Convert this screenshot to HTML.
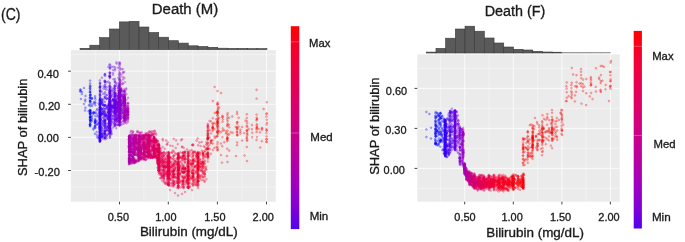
<!DOCTYPE html>
<html><head><meta charset="utf-8"><title>SHAP bilirubin</title>
<style>text{font-family:"Liberation Sans",sans-serif}html,body{margin:0;padding:0;background:#ffffff;width:685px;height:242px;overflow:hidden}svg{display:block;will-change:transform;filter:blur(0.4px)}</style>
</head><body>
<svg width="685" height="242" viewBox="0 0 685 242" font-family="Liberation Sans, sans-serif" fill="#1a1a1a">
<defs><linearGradient id="cb" x1="0" y1="0" x2="0" y2="1"><stop offset="0.00" stop-color="#ff0000"/>
<stop offset="0.10" stop-color="#f70028"/>
<stop offset="0.20" stop-color="#ee0041"/>
<stop offset="0.30" stop-color="#e50057"/>
<stop offset="0.40" stop-color="#da006c"/>
<stop offset="0.50" stop-color="#ce0082"/>
<stop offset="0.60" stop-color="#c00097"/>
<stop offset="0.70" stop-color="#af00ad"/>
<stop offset="0.80" stop-color="#9a00c3"/>
<stop offset="0.90" stop-color="#7e00d9"/>
<stop offset="1.00" stop-color="#5200f0"/></linearGradient><clipPath id="cl"><rect x="70.90" y="50.10" width="204.90" height="151.60"/></clipPath><clipPath id="cr"><rect x="417.30" y="54.40" width="202.40" height="147.30"/></clipPath></defs>
<rect x="70.90" y="50.10" width="204.90" height="151.60" fill="#ebebeb"/>
<rect x="417.30" y="54.40" width="202.40" height="147.30" fill="#ebebeb"/>
<line x1="95.30" y1="50.10" x2="95.30" y2="201.70" stroke="#f6f6f6" stroke-width="0.6"/>
<line x1="143.90" y1="50.10" x2="143.90" y2="201.70" stroke="#f6f6f6" stroke-width="0.6"/>
<line x1="192.80" y1="50.10" x2="192.80" y2="201.70" stroke="#f6f6f6" stroke-width="0.6"/>
<line x1="241.90" y1="50.10" x2="241.90" y2="201.70" stroke="#f6f6f6" stroke-width="0.6"/>
<line x1="70.90" y1="54.60" x2="275.80" y2="54.60" stroke="#f6f6f6" stroke-width="0.6"/>
<line x1="70.90" y1="87.70" x2="275.80" y2="87.70" stroke="#f6f6f6" stroke-width="0.6"/>
<line x1="70.90" y1="120.80" x2="275.80" y2="120.80" stroke="#f6f6f6" stroke-width="0.6"/>
<line x1="70.90" y1="154.00" x2="275.80" y2="154.00" stroke="#f6f6f6" stroke-width="0.6"/>
<line x1="70.90" y1="187.10" x2="275.80" y2="187.10" stroke="#f6f6f6" stroke-width="0.6"/>
<line x1="119.50" y1="50.10" x2="119.50" y2="201.70" stroke="#fbfbfb" stroke-width="1.0"/>
<line x1="168.30" y1="50.10" x2="168.30" y2="201.70" stroke="#fbfbfb" stroke-width="1.0"/>
<line x1="217.40" y1="50.10" x2="217.40" y2="201.70" stroke="#fbfbfb" stroke-width="1.0"/>
<line x1="266.50" y1="50.10" x2="266.50" y2="201.70" stroke="#fbfbfb" stroke-width="1.0"/>
<line x1="70.90" y1="71.20" x2="275.80" y2="71.20" stroke="#fbfbfb" stroke-width="1.0"/>
<line x1="70.90" y1="104.30" x2="275.80" y2="104.30" stroke="#fbfbfb" stroke-width="1.0"/>
<line x1="70.90" y1="137.40" x2="275.80" y2="137.40" stroke="#fbfbfb" stroke-width="1.0"/>
<line x1="70.90" y1="170.50" x2="275.80" y2="170.50" stroke="#fbfbfb" stroke-width="1.0"/>
<line x1="440.40" y1="54.40" x2="440.40" y2="201.70" stroke="#f6f6f6" stroke-width="0.6"/>
<line x1="489.00" y1="54.40" x2="489.00" y2="201.70" stroke="#f6f6f6" stroke-width="0.6"/>
<line x1="537.60" y1="54.40" x2="537.60" y2="201.70" stroke="#f6f6f6" stroke-width="0.6"/>
<line x1="586.10" y1="54.40" x2="586.10" y2="201.70" stroke="#f6f6f6" stroke-width="0.6"/>
<line x1="417.30" y1="68.40" x2="619.70" y2="68.40" stroke="#f6f6f6" stroke-width="0.6"/>
<line x1="417.30" y1="108.40" x2="619.70" y2="108.40" stroke="#f6f6f6" stroke-width="0.6"/>
<line x1="417.30" y1="148.40" x2="619.70" y2="148.40" stroke="#f6f6f6" stroke-width="0.6"/>
<line x1="417.30" y1="188.40" x2="619.70" y2="188.40" stroke="#f6f6f6" stroke-width="0.6"/>
<line x1="464.70" y1="54.40" x2="464.70" y2="201.70" stroke="#fbfbfb" stroke-width="1.0"/>
<line x1="513.30" y1="54.40" x2="513.30" y2="201.70" stroke="#fbfbfb" stroke-width="1.0"/>
<line x1="561.90" y1="54.40" x2="561.90" y2="201.70" stroke="#fbfbfb" stroke-width="1.0"/>
<line x1="610.40" y1="54.40" x2="610.40" y2="201.70" stroke="#fbfbfb" stroke-width="1.0"/>
<line x1="417.30" y1="88.40" x2="619.70" y2="88.40" stroke="#fbfbfb" stroke-width="1.0"/>
<line x1="417.30" y1="128.40" x2="619.70" y2="128.40" stroke="#fbfbfb" stroke-width="1.0"/>
<line x1="417.30" y1="168.40" x2="619.70" y2="168.40" stroke="#fbfbfb" stroke-width="1.0"/>
<g clip-path="url(#cl)" fill-opacity="0.25" stroke-opacity="0.5" stroke-width="0.45">
<g fill="#0000ff" stroke="#0000ff">
<circle cx="85.3" cy="99.6" r=".95"/><circle cx="85.4" cy="107.7" r=".95"/><circle cx="81.8" cy="94.1" r=".95"/><circle cx="88.9" cy="105.2" r=".95"/><circle cx="88.6" cy="111.2" r=".95"/><circle cx="80.2" cy="91.4" r=".95"/><circle cx="85.3" cy="101.2" r=".95"/><circle cx="85.1" cy="110.5" r=".95"/><circle cx="80.4" cy="89.5" r=".95"/><circle cx="80.6" cy="91.3" r=".95"/><circle cx="90.1" cy="97.5" r=".95"/><circle cx="90.0" cy="100.7" r=".95"/><circle cx="95.2" cy="122.4" r=".95"/><circle cx="91.8" cy="112.8" r=".95"/><circle cx="90.1" cy="117.4" r=".95"/><circle cx="90.4" cy="110.0" r=".95"/><circle cx="94.8" cy="122.5" r=".95"/><circle cx="90.0" cy="99.3" r=".95"/><circle cx="92.1" cy="119.2" r=".95"/><circle cx="92.0" cy="106.1" r=".95"/><circle cx="95.3" cy="102.2" r=".95"/><circle cx="90.5" cy="120.1" r=".95"/><circle cx="90.4" cy="102.2" r=".95"/><circle cx="90.0" cy="117.4" r=".95"/><circle cx="90.1" cy="88.3" r=".95"/><circle cx="90.1" cy="90.3" r=".95"/><circle cx="90.1" cy="101.6" r=".95"/><circle cx="93.6" cy="112.0" r=".95"/><circle cx="89.9" cy="112.0" r=".95"/><circle cx="90.3" cy="91.9" r=".95"/><circle cx="90.0" cy="110.8" r=".95"/><circle cx="89.9" cy="113.8" r=".95"/><circle cx="90.5" cy="94.5" r=".95"/><circle cx="94.9" cy="133.8" r=".95"/><circle cx="90.2" cy="118.2" r=".95"/><circle cx="89.9" cy="92.3" r=".95"/><circle cx="90.1" cy="106.2" r=".95"/><circle cx="90.3" cy="116.7" r=".95"/><circle cx="94.9" cy="120.8" r=".95"/><circle cx="93.8" cy="103.6" r=".95"/><circle cx="95.3" cy="127.8" r=".95"/><circle cx="90.2" cy="122.9" r=".95"/><circle cx="95.1" cy="96.2" r=".95"/><circle cx="90.1" cy="80.6" r=".95"/><circle cx="90.5" cy="86.2" r=".95"/><circle cx="95.2" cy="127.6" r=".95"/><circle cx="90.4" cy="117.0" r=".95"/><circle cx="93.6" cy="128.3" r=".95"/><circle cx="90.0" cy="85.6" r=".95"/><circle cx="92.0" cy="115.7" r=".95"/><circle cx="90.2" cy="101.2" r=".95"/><circle cx="90.4" cy="120.1" r=".95"/><circle cx="90.3" cy="117.1" r=".95"/><circle cx="95.0" cy="126.2" r=".95"/><circle cx="95.3" cy="125.0" r=".95"/><circle cx="90.1" cy="83.4" r=".95"/><circle cx="90.0" cy="126.2" r=".95"/><circle cx="93.8" cy="102.1" r=".95"/><circle cx="90.2" cy="114.5" r=".95"/><circle cx="90.4" cy="122.4" r=".95"/><circle cx="90.1" cy="98.0" r=".95"/><circle cx="95.2" cy="121.2" r=".95"/><circle cx="95.3" cy="122.8" r=".95"/><circle cx="93.4" cy="129.5" r=".95"/><circle cx="91.8" cy="117.7" r=".95"/><circle cx="90.2" cy="95.4" r=".95"/><circle cx="90.1" cy="88.9" r=".95"/><circle cx="90.2" cy="126.1" r=".95"/><circle cx="93.4" cy="113.1" r=".95"/><circle cx="95.2" cy="119.0" r=".95"/><circle cx="90.1" cy="110.1" r=".95"/><circle cx="89.9" cy="119.3" r=".95"/><circle cx="90.2" cy="115.8" r=".95"/><circle cx="95.0" cy="123.0" r=".95"/><circle cx="90.0" cy="112.7" r=".95"/><circle cx="93.8" cy="112.6" r=".95"/><circle cx="92.0" cy="98.6" r=".95"/><circle cx="92.0" cy="98.6" r=".95"/><circle cx="95.3" cy="116.0" r=".95"/><circle cx="90.0" cy="124.8" r=".95"/><circle cx="90.2" cy="113.5" r=".95"/><circle cx="89.9" cy="87.2" r=".95"/><circle cx="90.0" cy="104.0" r=".95"/><circle cx="93.5" cy="113.8" r=".95"/><circle cx="90.1" cy="97.3" r=".95"/><circle cx="90.1" cy="125.1" r=".95"/><circle cx="90.2" cy="124.5" r=".95"/><circle cx="91.9" cy="120.9" r=".95"/><circle cx="90.4" cy="120.8" r=".95"/><circle cx="90.4" cy="113.2" r=".95"/><circle cx="91.8" cy="104.5" r=".95"/><circle cx="94.8" cy="126.3" r=".95"/><circle cx="91.7" cy="97.8" r=".95"/><circle cx="90.1" cy="92.2" r=".95"/><circle cx="95.1" cy="103.3" r=".95"/><circle cx="90.2" cy="95.2" r=".95"/><circle cx="90.2" cy="120.9" r=".95"/><circle cx="90.0" cy="124.4" r=".95"/><circle cx="90.2" cy="113.9" r=".95"/><circle cx="90.2" cy="110.4" r=".95"/><circle cx="95.1" cy="112.7" r=".95"/><circle cx="90.4" cy="111.7" r=".95"/><circle cx="90.4" cy="120.2" r=".95"/><circle cx="90.4" cy="94.9" r=".95"/><circle cx="95.0" cy="98.0" r=".95"/><circle cx="90.3" cy="101.1" r=".95"/><circle cx="90.2" cy="111.1" r=".95"/><circle cx="95.3" cy="120.0" r=".95"/><circle cx="80.5" cy="90.0" r=".95"/><circle cx="82.0" cy="92.0" r=".95"/><circle cx="84.0" cy="88.0" r=".95"/><circle cx="85.5" cy="96.0" r=".95"/><circle cx="84.0" cy="104.0" r=".95"/><circle cx="81.0" cy="99.0" r=".95"/>
</g>
<g fill="#3500f9" stroke="#3500f9">
<circle cx="98.3" cy="138.3" r=".95"/><circle cx="95.4" cy="99.5" r=".95"/><circle cx="98.4" cy="115.6" r=".95"/><circle cx="98.6" cy="103.6" r=".95"/><circle cx="98.4" cy="123.0" r=".95"/><circle cx="98.6" cy="136.3" r=".95"/><circle cx="96.7" cy="121.0" r=".95"/><circle cx="95.4" cy="105.3" r=".95"/><circle cx="97.0" cy="113.9" r=".95"/><circle cx="95.4" cy="112.7" r=".95"/><circle cx="98.8" cy="110.1" r=".95"/><circle cx="98.6" cy="124.1" r=".95"/><circle cx="97.1" cy="124.1" r=".95"/><circle cx="96.8" cy="124.7" r=".95"/><circle cx="97.0" cy="137.1" r=".95"/><circle cx="97.1" cy="109.1" r=".95"/><circle cx="96.6" cy="110.4" r=".95"/><circle cx="98.8" cy="137.9" r=".95"/><circle cx="96.9" cy="135.0" r=".95"/><circle cx="95.5" cy="121.3" r=".95"/><circle cx="97.2" cy="116.4" r=".95"/><circle cx="96.6" cy="132.0" r=".95"/><circle cx="100.3" cy="129.6" r=".95"/><circle cx="100.1" cy="103.3" r=".95"/><circle cx="99.7" cy="111.6" r=".95"/><circle cx="99.9" cy="101.3" r=".95"/><circle cx="100.0" cy="131.6" r=".95"/><circle cx="100.1" cy="98.9" r=".95"/><circle cx="100.2" cy="123.8" r=".95"/><circle cx="99.9" cy="135.3" r=".95"/><circle cx="99.9" cy="116.6" r=".95"/><circle cx="99.9" cy="126.1" r=".95"/><circle cx="99.8" cy="87.3" r=".95"/><circle cx="99.8" cy="119.2" r=".95"/><circle cx="101.4" cy="104.5" r=".95"/><circle cx="99.9" cy="121.0" r=".95"/><circle cx="100.2" cy="134.2" r=".95"/><circle cx="100.1" cy="113.1" r=".95"/><circle cx="100.1" cy="102.7" r=".95"/><circle cx="99.8" cy="109.0" r=".95"/><circle cx="100.2" cy="118.1" r=".95"/><circle cx="99.8" cy="135.3" r=".95"/><circle cx="100.2" cy="86.8" r=".95"/><circle cx="99.8" cy="87.3" r=".95"/><circle cx="99.9" cy="129.0" r=".95"/><circle cx="100.3" cy="123.2" r=".95"/><circle cx="99.9" cy="140.3" r=".95"/><circle cx="99.9" cy="141.0" r=".95"/><circle cx="99.9" cy="113.6" r=".95"/><circle cx="100.0" cy="115.8" r=".95"/><circle cx="100.1" cy="128.8" r=".95"/><circle cx="99.8" cy="121.6" r=".95"/><circle cx="99.8" cy="100.4" r=".95"/><circle cx="99.7" cy="105.1" r=".95"/><circle cx="99.9" cy="118.5" r=".95"/><circle cx="101.8" cy="103.6" r=".95"/><circle cx="100.1" cy="117.3" r=".95"/><circle cx="100.2" cy="113.1" r=".95"/><circle cx="100.0" cy="132.1" r=".95"/><circle cx="100.1" cy="111.0" r=".95"/><circle cx="99.9" cy="137.9" r=".95"/><circle cx="100.2" cy="132.5" r=".95"/><circle cx="100.0" cy="94.2" r=".95"/><circle cx="100.3" cy="130.8" r=".95"/><circle cx="100.2" cy="104.2" r=".95"/><circle cx="100.0" cy="134.6" r=".95"/><circle cx="99.9" cy="112.7" r=".95"/><circle cx="100.0" cy="129.3" r=".95"/><circle cx="100.1" cy="140.6" r=".95"/><circle cx="101.7" cy="91.6" r=".95"/><circle cx="100.3" cy="124.9" r=".95"/><circle cx="99.8" cy="111.9" r=".95"/><circle cx="99.9" cy="101.5" r=".95"/><circle cx="101.4" cy="137.3" r=".95"/><circle cx="100.0" cy="140.5" r=".95"/><circle cx="101.6" cy="134.1" r=".95"/><circle cx="100.1" cy="121.7" r=".95"/><circle cx="100.3" cy="119.6" r=".95"/><circle cx="100.2" cy="95.7" r=".95"/><circle cx="101.5" cy="114.1" r=".95"/><circle cx="100.2" cy="99.9" r=".95"/><circle cx="99.8" cy="109.2" r=".95"/><circle cx="100.0" cy="127.6" r=".95"/><circle cx="99.9" cy="83.3" r=".95"/><circle cx="100.2" cy="111.9" r=".95"/><circle cx="101.8" cy="136.8" r=".95"/><circle cx="100.0" cy="120.0" r=".95"/><circle cx="101.8" cy="108.9" r=".95"/><circle cx="101.6" cy="127.6" r=".95"/><circle cx="99.8" cy="126.4" r=".95"/><circle cx="99.9" cy="113.8" r=".95"/><circle cx="99.8" cy="80.4" r=".95"/><circle cx="101.4" cy="127.6" r=".95"/><circle cx="100.0" cy="121.5" r=".95"/><circle cx="99.8" cy="136.1" r=".95"/><circle cx="101.6" cy="108.8" r=".95"/><circle cx="100.0" cy="106.9" r=".95"/><circle cx="100.0" cy="120.8" r=".95"/><circle cx="99.9" cy="117.7" r=".95"/><circle cx="101.5" cy="102.3" r=".95"/><circle cx="100.3" cy="107.0" r=".95"/><circle cx="99.8" cy="102.7" r=".95"/><circle cx="99.8" cy="122.3" r=".95"/><circle cx="99.9" cy="119.3" r=".95"/><circle cx="100.1" cy="92.0" r=".95"/><circle cx="100.2" cy="122.9" r=".95"/><circle cx="100.3" cy="133.9" r=".95"/><circle cx="100.1" cy="133.1" r=".95"/><circle cx="101.7" cy="135.5" r=".95"/><circle cx="100.2" cy="86.1" r=".95"/><circle cx="100.1" cy="82.9" r=".95"/><circle cx="99.9" cy="112.9" r=".95"/><circle cx="101.8" cy="113.9" r=".95"/><circle cx="100.0" cy="127.4" r=".95"/><circle cx="99.8" cy="130.9" r=".95"/><circle cx="99.7" cy="118.1" r=".95"/><circle cx="100.0" cy="123.5" r=".95"/><circle cx="100.1" cy="134.1" r=".95"/><circle cx="101.6" cy="120.6" r=".95"/><circle cx="99.9" cy="122.8" r=".95"/><circle cx="100.1" cy="125.2" r=".95"/><circle cx="100.2" cy="98.1" r=".95"/><circle cx="100.2" cy="126.0" r=".95"/><circle cx="100.3" cy="116.6" r=".95"/><circle cx="99.8" cy="128.5" r=".95"/><circle cx="100.1" cy="108.2" r=".95"/><circle cx="101.5" cy="109.3" r=".95"/><circle cx="100.2" cy="116.3" r=".95"/><circle cx="99.9" cy="131.3" r=".95"/><circle cx="101.6" cy="133.8" r=".95"/><circle cx="99.8" cy="93.8" r=".95"/><circle cx="101.5" cy="113.4" r=".95"/><circle cx="99.8" cy="113.1" r=".95"/><circle cx="100.2" cy="104.9" r=".95"/><circle cx="100.2" cy="104.3" r=".95"/><circle cx="99.9" cy="114.5" r=".95"/><circle cx="100.2" cy="119.3" r=".95"/><circle cx="101.7" cy="102.6" r=".95"/><circle cx="100.0" cy="107.3" r=".95"/><circle cx="100.2" cy="109.8" r=".95"/><circle cx="100.3" cy="136.5" r=".95"/><circle cx="100.2" cy="100.8" r=".95"/><circle cx="100.1" cy="111.7" r=".95"/><circle cx="99.8" cy="133.3" r=".95"/><circle cx="100.1" cy="130.7" r=".95"/><circle cx="99.8" cy="115.8" r=".95"/><circle cx="100.0" cy="91.1" r=".95"/><circle cx="100.3" cy="119.8" r=".95"/><circle cx="100.2" cy="103.2" r=".95"/><circle cx="99.9" cy="105.4" r=".95"/><circle cx="99.9" cy="115.8" r=".95"/><circle cx="99.7" cy="122.8" r=".95"/><circle cx="101.4" cy="124.8" r=".95"/><circle cx="100.2" cy="127.3" r=".95"/><circle cx="100.2" cy="116.7" r=".95"/><circle cx="99.7" cy="137.7" r=".95"/><circle cx="100.0" cy="113.2" r=".95"/><circle cx="101.8" cy="99.6" r=".95"/><circle cx="100.3" cy="109.7" r=".95"/><circle cx="99.7" cy="117.1" r=".95"/><circle cx="100.1" cy="126.7" r=".95"/><circle cx="100.2" cy="137.0" r=".95"/><circle cx="99.8" cy="112.8" r=".95"/><circle cx="99.9" cy="138.6" r=".95"/><circle cx="100.0" cy="136.0" r=".95"/><circle cx="99.9" cy="119.9" r=".95"/><circle cx="100.1" cy="95.4" r=".95"/><circle cx="100.0" cy="129.7" r=".95"/><circle cx="99.8" cy="135.0" r=".95"/><circle cx="100.3" cy="135.6" r=".95"/><circle cx="99.8" cy="126.0" r=".95"/><circle cx="99.9" cy="100.5" r=".95"/><circle cx="101.8" cy="112.1" r=".95"/><circle cx="99.9" cy="129.9" r=".95"/><circle cx="101.7" cy="135.4" r=".95"/><circle cx="100.2" cy="140.8" r=".95"/><circle cx="100.2" cy="135.0" r=".95"/><circle cx="100.1" cy="112.8" r=".95"/><circle cx="99.9" cy="107.6" r=".95"/><circle cx="101.7" cy="137.2" r=".95"/><circle cx="99.9" cy="111.2" r=".95"/><circle cx="99.9" cy="108.7" r=".95"/><circle cx="100.1" cy="109.8" r=".95"/><circle cx="100.0" cy="133.6" r=".95"/><circle cx="99.8" cy="111.2" r=".95"/><circle cx="99.8" cy="131.3" r=".95"/><circle cx="99.9" cy="128.5" r=".95"/><circle cx="100.3" cy="118.3" r=".95"/><circle cx="99.8" cy="132.3" r=".95"/><circle cx="100.1" cy="136.6" r=".95"/><circle cx="100.2" cy="133.4" r=".95"/><circle cx="100.0" cy="100.0" r=".95"/><circle cx="100.1" cy="99.9" r=".95"/><circle cx="100.0" cy="85.9" r=".95"/><circle cx="100.1" cy="120.3" r=".95"/><circle cx="100.1" cy="115.7" r=".95"/><circle cx="99.9" cy="117.5" r=".95"/><circle cx="100.1" cy="110.8" r=".95"/><circle cx="99.8" cy="139.1" r=".95"/><circle cx="99.8" cy="124.7" r=".95"/><circle cx="99.8" cy="128.5" r=".95"/><circle cx="99.8" cy="128.0" r=".95"/><circle cx="100.2" cy="137.9" r=".95"/><circle cx="99.9" cy="123.7" r=".95"/><circle cx="101.9" cy="99.5" r=".95"/><circle cx="100.2" cy="133.3" r=".95"/><circle cx="100.1" cy="89.2" r=".95"/><circle cx="100.0" cy="131.7" r=".95"/><circle cx="100.0" cy="122.7" r=".95"/><circle cx="99.9" cy="125.1" r=".95"/><circle cx="100.2" cy="139.0" r=".95"/><circle cx="99.9" cy="141.7" r=".95"/><circle cx="99.8" cy="127.8" r=".95"/><circle cx="101.6" cy="114.5" r=".95"/><circle cx="100.2" cy="126.9" r=".95"/><circle cx="99.7" cy="133.2" r=".95"/><circle cx="99.7" cy="97.2" r=".95"/><circle cx="101.6" cy="123.3" r=".95"/><circle cx="100.2" cy="119.9" r=".95"/><circle cx="99.7" cy="140.8" r=".95"/><circle cx="100.2" cy="91.5" r=".95"/><circle cx="100.1" cy="136.9" r=".95"/><circle cx="100.3" cy="115.2" r=".95"/><circle cx="100.0" cy="124.2" r=".95"/><circle cx="99.8" cy="113.5" r=".95"/><circle cx="100.2" cy="107.5" r=".95"/><circle cx="100.0" cy="115.7" r=".95"/><circle cx="99.9" cy="139.6" r=".95"/><circle cx="100.0" cy="117.2" r=".95"/><circle cx="99.7" cy="103.9" r=".95"/><circle cx="101.8" cy="130.2" r=".95"/><circle cx="99.8" cy="117.5" r=".95"/><circle cx="100.0" cy="126.5" r=".95"/><circle cx="99.8" cy="125.0" r=".95"/><circle cx="99.9" cy="126.9" r=".95"/><circle cx="99.7" cy="129.0" r=".95"/><circle cx="99.9" cy="95.1" r=".95"/><circle cx="101.6" cy="109.3" r=".95"/><circle cx="99.8" cy="136.6" r=".95"/><circle cx="101.5" cy="130.9" r=".95"/><circle cx="100.2" cy="120.1" r=".95"/><circle cx="100.1" cy="118.9" r=".95"/><circle cx="100.0" cy="118.9" r=".95"/><circle cx="100.2" cy="129.7" r=".95"/><circle cx="99.9" cy="106.8" r=".95"/><circle cx="99.7" cy="126.8" r=".95"/><circle cx="100.0" cy="99.1" r=".95"/><circle cx="100.3" cy="98.2" r=".95"/><circle cx="100.0" cy="107.2" r=".95"/><circle cx="101.6" cy="114.1" r=".95"/><circle cx="99.9" cy="122.1" r=".95"/><circle cx="100.0" cy="119.3" r=".95"/><circle cx="99.7" cy="105.1" r=".95"/><circle cx="100.3" cy="90.8" r=".95"/><circle cx="100.2" cy="107.8" r=".95"/><circle cx="100.2" cy="137.3" r=".95"/><circle cx="99.8" cy="115.4" r=".95"/><circle cx="99.9" cy="127.5" r=".95"/><circle cx="99.9" cy="139.0" r=".95"/><circle cx="100.2" cy="115.5" r=".95"/><circle cx="99.9" cy="118.0" r=".95"/><circle cx="100.1" cy="118.6" r=".95"/><circle cx="99.9" cy="90.5" r=".95"/><circle cx="100.0" cy="107.7" r=".95"/><circle cx="100.1" cy="131.0" r=".95"/><circle cx="100.1" cy="126.7" r=".95"/><circle cx="100.2" cy="140.3" r=".95"/><circle cx="100.2" cy="119.2" r=".95"/><circle cx="100.0" cy="84.0" r=".95"/><circle cx="101.8" cy="100.9" r=".95"/><circle cx="99.9" cy="87.8" r=".95"/><circle cx="100.1" cy="113.7" r=".95"/><circle cx="100.2" cy="114.1" r=".95"/><circle cx="100.1" cy="114.8" r=".95"/><circle cx="100.0" cy="120.5" r=".95"/><circle cx="100.0" cy="136.3" r=".95"/><circle cx="100.1" cy="131.3" r=".95"/><circle cx="100.2" cy="126.8" r=".95"/><circle cx="99.7" cy="141.8" r=".95"/><circle cx="101.7" cy="101.8" r=".95"/><circle cx="100.0" cy="126.0" r=".95"/><circle cx="99.9" cy="112.6" r=".95"/><circle cx="99.7" cy="127.3" r=".95"/>
</g>
<g fill="#4b00f3" stroke="#4b00f3">
<circle cx="101.9" cy="103.2" r=".95"/><circle cx="106.8" cy="107.0" r=".95"/><circle cx="106.8" cy="107.4" r=".95"/><circle cx="105.0" cy="132.6" r=".95"/><circle cx="104.8" cy="116.0" r=".95"/><circle cx="103.2" cy="111.7" r=".95"/><circle cx="103.6" cy="115.7" r=".95"/><circle cx="106.5" cy="98.8" r=".95"/><circle cx="105.1" cy="86.9" r=".95"/><circle cx="104.8" cy="131.7" r=".95"/><circle cx="105.2" cy="130.9" r=".95"/><circle cx="104.9" cy="130.4" r=".95"/><circle cx="105.3" cy="121.4" r=".95"/><circle cx="105.3" cy="88.9" r=".95"/><circle cx="103.6" cy="108.1" r=".95"/><circle cx="104.9" cy="74.2" r=".95"/><circle cx="106.7" cy="135.9" r=".95"/><circle cx="106.7" cy="135.7" r=".95"/><circle cx="103.4" cy="113.8" r=".95"/><circle cx="106.9" cy="115.2" r=".95"/><circle cx="105.3" cy="105.7" r=".95"/><circle cx="105.1" cy="131.2" r=".95"/><circle cx="106.6" cy="98.3" r=".95"/><circle cx="104.8" cy="120.8" r=".95"/><circle cx="103.2" cy="108.6" r=".95"/><circle cx="105.0" cy="127.8" r=".95"/><circle cx="104.8" cy="131.0" r=".95"/><circle cx="103.6" cy="105.9" r=".95"/><circle cx="105.0" cy="120.6" r=".95"/><circle cx="105.1" cy="113.2" r=".95"/><circle cx="107.0" cy="127.7" r=".95"/><circle cx="101.9" cy="128.4" r=".95"/><circle cx="104.9" cy="133.4" r=".95"/><circle cx="105.2" cy="139.2" r=".95"/><circle cx="106.7" cy="82.2" r=".95"/><circle cx="103.5" cy="120.5" r=".95"/><circle cx="103.6" cy="86.5" r=".95"/><circle cx="106.9" cy="126.6" r=".95"/><circle cx="106.9" cy="130.3" r=".95"/><circle cx="104.9" cy="97.0" r=".95"/><circle cx="104.7" cy="136.6" r=".95"/><circle cx="105.1" cy="137.9" r=".95"/><circle cx="104.8" cy="109.0" r=".95"/><circle cx="105.2" cy="84.3" r=".95"/><circle cx="106.6" cy="105.7" r=".95"/><circle cx="106.6" cy="114.9" r=".95"/><circle cx="104.6" cy="122.2" r=".95"/><circle cx="105.0" cy="74.0" r=".95"/><circle cx="106.9" cy="119.2" r=".95"/><circle cx="104.8" cy="119.3" r=".95"/><circle cx="106.9" cy="115.0" r=".95"/><circle cx="105.1" cy="81.7" r=".95"/><circle cx="105.0" cy="105.0" r=".95"/><circle cx="103.2" cy="133.8" r=".95"/><circle cx="107.0" cy="134.7" r=".95"/><circle cx="105.0" cy="122.7" r=".95"/><circle cx="103.1" cy="133.3" r=".95"/><circle cx="104.9" cy="105.6" r=".95"/><circle cx="106.8" cy="129.5" r=".95"/><circle cx="101.9" cy="110.4" r=".95"/><circle cx="104.7" cy="111.8" r=".95"/><circle cx="105.1" cy="137.7" r=".95"/><circle cx="105.2" cy="128.5" r=".95"/><circle cx="104.9" cy="133.9" r=".95"/><circle cx="106.7" cy="95.1" r=".95"/><circle cx="104.9" cy="97.6" r=".95"/><circle cx="106.9" cy="98.7" r=".95"/><circle cx="104.8" cy="119.7" r=".95"/><circle cx="104.9" cy="116.8" r=".95"/><circle cx="105.3" cy="75.7" r=".95"/><circle cx="103.2" cy="104.5" r=".95"/><circle cx="104.7" cy="80.6" r=".95"/><circle cx="106.6" cy="108.5" r=".95"/><circle cx="105.0" cy="127.7" r=".95"/><circle cx="104.6" cy="114.4" r=".95"/><circle cx="103.1" cy="113.0" r=".95"/><circle cx="105.2" cy="131.5" r=".95"/><circle cx="103.1" cy="136.3" r=".95"/><circle cx="103.4" cy="129.1" r=".95"/><circle cx="105.0" cy="114.6" r=".95"/><circle cx="105.0" cy="133.6" r=".95"/><circle cx="104.8" cy="85.4" r=".95"/><circle cx="106.8" cy="124.0" r=".95"/><circle cx="103.1" cy="138.8" r=".95"/><circle cx="103.2" cy="121.6" r=".95"/><circle cx="104.9" cy="126.1" r=".95"/><circle cx="103.6" cy="111.5" r=".95"/><circle cx="104.6" cy="109.3" r=".95"/><circle cx="103.4" cy="101.6" r=".95"/><circle cx="103.3" cy="137.0" r=".95"/><circle cx="104.9" cy="101.8" r=".95"/><circle cx="106.5" cy="108.1" r=".95"/><circle cx="104.7" cy="93.8" r=".95"/><circle cx="104.9" cy="133.3" r=".95"/><circle cx="104.7" cy="114.5" r=".95"/><circle cx="105.0" cy="134.4" r=".95"/><circle cx="105.1" cy="120.0" r=".95"/><circle cx="104.8" cy="138.1" r=".95"/><circle cx="104.9" cy="116.0" r=".95"/><circle cx="104.6" cy="75.2" r=".95"/><circle cx="106.6" cy="117.6" r=".95"/><circle cx="105.2" cy="123.9" r=".95"/><circle cx="105.1" cy="92.2" r=".95"/><circle cx="105.0" cy="134.6" r=".95"/><circle cx="106.9" cy="130.2" r=".95"/><circle cx="104.9" cy="126.6" r=".95"/><circle cx="106.4" cy="126.3" r=".95"/><circle cx="106.9" cy="128.4" r=".95"/><circle cx="106.7" cy="117.1" r=".95"/><circle cx="103.5" cy="131.1" r=".95"/><circle cx="103.1" cy="125.2" r=".95"/><circle cx="103.1" cy="99.5" r=".95"/><circle cx="106.9" cy="87.1" r=".95"/><circle cx="103.4" cy="117.9" r=".95"/><circle cx="103.5" cy="104.9" r=".95"/><circle cx="103.6" cy="121.1" r=".95"/><circle cx="102.0" cy="135.8" r=".95"/><circle cx="105.0" cy="120.9" r=".95"/><circle cx="106.5" cy="89.6" r=".95"/><circle cx="101.9" cy="77.7" r=".95"/><circle cx="105.0" cy="121.0" r=".95"/><circle cx="103.4" cy="125.8" r=".95"/><circle cx="104.8" cy="105.6" r=".95"/><circle cx="105.1" cy="104.9" r=".95"/><circle cx="103.4" cy="105.2" r=".95"/><circle cx="106.6" cy="115.6" r=".95"/><circle cx="103.5" cy="88.7" r=".95"/><circle cx="104.7" cy="98.4" r=".95"/><circle cx="104.7" cy="96.6" r=".95"/><circle cx="105.2" cy="137.6" r=".95"/><circle cx="105.0" cy="137.4" r=".95"/><circle cx="103.2" cy="111.5" r=".95"/><circle cx="103.2" cy="122.8" r=".95"/><circle cx="105.1" cy="110.8" r=".95"/><circle cx="104.9" cy="123.4" r=".95"/><circle cx="103.2" cy="117.7" r=".95"/><circle cx="105.1" cy="113.5" r=".95"/><circle cx="104.8" cy="125.7" r=".95"/><circle cx="105.0" cy="123.7" r=".95"/><circle cx="104.8" cy="81.7" r=".95"/><circle cx="103.4" cy="114.3" r=".95"/><circle cx="106.5" cy="115.9" r=".95"/><circle cx="103.2" cy="93.8" r=".95"/><circle cx="102.0" cy="132.7" r=".95"/><circle cx="104.8" cy="135.4" r=".95"/><circle cx="104.9" cy="125.1" r=".95"/><circle cx="105.1" cy="123.0" r=".95"/><circle cx="103.5" cy="124.1" r=".95"/><circle cx="103.2" cy="104.9" r=".95"/><circle cx="105.1" cy="86.9" r=".95"/><circle cx="104.9" cy="81.8" r=".95"/><circle cx="106.6" cy="95.3" r=".95"/><circle cx="103.5" cy="134.7" r=".95"/><circle cx="106.6" cy="112.5" r=".95"/><circle cx="106.8" cy="138.4" r=".95"/><circle cx="103.6" cy="111.5" r=".95"/><circle cx="104.8" cy="81.2" r=".95"/>
</g>
<g fill="#5b00ed" stroke="#5b00ed">
<circle cx="108.2" cy="126.2" r=".95"/><circle cx="108.6" cy="120.0" r=".95"/><circle cx="108.4" cy="66.8" r=".95"/><circle cx="108.6" cy="116.6" r=".95"/><circle cx="108.4" cy="118.6" r=".95"/><circle cx="108.2" cy="105.7" r=".95"/><circle cx="108.2" cy="133.6" r=".95"/><circle cx="108.6" cy="105.2" r=".95"/><circle cx="108.3" cy="126.3" r=".95"/><circle cx="108.6" cy="112.3" r=".95"/><circle cx="108.2" cy="109.1" r=".95"/><circle cx="108.7" cy="112.8" r=".95"/><circle cx="108.2" cy="113.2" r=".95"/><circle cx="108.2" cy="118.3" r=".95"/><circle cx="108.4" cy="122.8" r=".95"/><circle cx="108.7" cy="119.9" r=".95"/><circle cx="108.5" cy="112.6" r=".95"/><circle cx="108.5" cy="118.7" r=".95"/><circle cx="108.1" cy="108.8" r=".95"/><circle cx="108.2" cy="130.6" r=".95"/><circle cx="108.7" cy="123.4" r=".95"/><circle cx="108.6" cy="125.4" r=".95"/><circle cx="108.6" cy="117.5" r=".95"/><circle cx="108.3" cy="119.2" r=".95"/><circle cx="108.5" cy="107.2" r=".95"/><circle cx="108.6" cy="116.5" r=".95"/><circle cx="108.4" cy="81.6" r=".95"/><circle cx="108.3" cy="104.3" r=".95"/><circle cx="108.5" cy="112.2" r=".95"/><circle cx="108.7" cy="133.9" r=".95"/><circle cx="108.6" cy="110.3" r=".95"/><circle cx="108.4" cy="98.4" r=".95"/><circle cx="108.4" cy="111.4" r=".95"/><circle cx="108.6" cy="127.1" r=".95"/><circle cx="108.2" cy="106.0" r=".95"/><circle cx="108.5" cy="130.5" r=".95"/><circle cx="108.2" cy="118.3" r=".95"/><circle cx="108.6" cy="127.7" r=".95"/><circle cx="108.2" cy="116.5" r=".95"/><circle cx="108.1" cy="110.0" r=".95"/><circle cx="108.4" cy="111.5" r=".95"/><circle cx="108.5" cy="112.7" r=".95"/><circle cx="109.6" cy="98.8" r=".95"/><circle cx="109.7" cy="127.4" r=".95"/><circle cx="111.4" cy="110.3" r=".95"/><circle cx="109.8" cy="119.8" r=".95"/><circle cx="109.7" cy="104.3" r=".95"/><circle cx="109.8" cy="129.5" r=".95"/><circle cx="109.8" cy="130.6" r=".95"/><circle cx="110.1" cy="111.2" r=".95"/><circle cx="109.6" cy="124.1" r=".95"/><circle cx="109.7" cy="77.2" r=".95"/><circle cx="109.9" cy="127.7" r=".95"/><circle cx="109.9" cy="128.4" r=".95"/><circle cx="109.5" cy="104.9" r=".95"/><circle cx="109.6" cy="116.8" r=".95"/><circle cx="110.1" cy="106.7" r=".95"/><circle cx="109.9" cy="113.9" r=".95"/><circle cx="109.6" cy="100.2" r=".95"/><circle cx="110.0" cy="94.5" r=".95"/><circle cx="109.6" cy="108.6" r=".95"/><circle cx="109.7" cy="123.8" r=".95"/><circle cx="111.4" cy="91.4" r=".95"/><circle cx="111.2" cy="120.1" r=".95"/><circle cx="109.7" cy="88.5" r=".95"/><circle cx="110.1" cy="131.1" r=".95"/><circle cx="109.9" cy="129.8" r=".95"/><circle cx="110.0" cy="100.6" r=".95"/><circle cx="109.9" cy="77.0" r=".95"/><circle cx="110.0" cy="114.2" r=".95"/><circle cx="111.3" cy="105.9" r=".95"/><circle cx="109.8" cy="137.5" r=".95"/><circle cx="109.7" cy="113.2" r=".95"/><circle cx="109.8" cy="85.8" r=".95"/><circle cx="109.7" cy="128.8" r=".95"/><circle cx="109.9" cy="117.2" r=".95"/><circle cx="109.9" cy="128.7" r=".95"/><circle cx="109.6" cy="120.0" r=".95"/><circle cx="109.9" cy="103.7" r=".95"/><circle cx="109.6" cy="128.6" r=".95"/><circle cx="109.9" cy="132.6" r=".95"/><circle cx="109.8" cy="117.3" r=".95"/><circle cx="109.9" cy="135.9" r=".95"/><circle cx="110.0" cy="92.5" r=".95"/><circle cx="110.1" cy="105.2" r=".95"/><circle cx="110.0" cy="131.1" r=".95"/><circle cx="109.8" cy="117.1" r=".95"/><circle cx="109.9" cy="122.7" r=".95"/><circle cx="109.8" cy="125.1" r=".95"/><circle cx="111.3" cy="121.7" r=".95"/><circle cx="109.6" cy="133.6" r=".95"/><circle cx="109.5" cy="98.6" r=".95"/><circle cx="109.9" cy="101.3" r=".95"/><circle cx="109.9" cy="117.2" r=".95"/><circle cx="109.8" cy="76.2" r=".95"/><circle cx="109.8" cy="101.1" r=".95"/><circle cx="109.9" cy="123.2" r=".95"/><circle cx="109.6" cy="107.2" r=".95"/><circle cx="109.8" cy="109.9" r=".95"/><circle cx="109.7" cy="99.9" r=".95"/><circle cx="109.6" cy="102.9" r=".95"/><circle cx="109.8" cy="110.8" r=".95"/><circle cx="110.0" cy="113.9" r=".95"/><circle cx="111.4" cy="96.7" r=".95"/><circle cx="110.0" cy="133.4" r=".95"/><circle cx="109.6" cy="115.9" r=".95"/><circle cx="110.0" cy="119.8" r=".95"/><circle cx="110.0" cy="123.8" r=".95"/><circle cx="109.7" cy="97.7" r=".95"/><circle cx="111.3" cy="131.2" r=".95"/><circle cx="109.7" cy="110.4" r=".95"/><circle cx="109.8" cy="113.9" r=".95"/><circle cx="110.0" cy="135.2" r=".95"/><circle cx="110.1" cy="109.7" r=".95"/><circle cx="109.8" cy="114.4" r=".95"/><circle cx="110.0" cy="101.2" r=".95"/><circle cx="109.7" cy="121.8" r=".95"/><circle cx="109.5" cy="111.4" r=".95"/><circle cx="109.8" cy="103.9" r=".95"/><circle cx="109.8" cy="94.2" r=".95"/><circle cx="109.7" cy="99.4" r=".95"/><circle cx="110.0" cy="110.9" r=".95"/><circle cx="109.6" cy="113.8" r=".95"/><circle cx="109.9" cy="128.3" r=".95"/><circle cx="109.5" cy="117.0" r=".95"/><circle cx="110.0" cy="124.0" r=".95"/><circle cx="109.8" cy="105.6" r=".95"/><circle cx="109.8" cy="72.7" r=".95"/><circle cx="109.6" cy="123.6" r=".95"/><circle cx="109.7" cy="120.7" r=".95"/><circle cx="111.3" cy="87.4" r=".95"/><circle cx="109.9" cy="126.0" r=".95"/><circle cx="109.5" cy="122.6" r=".95"/><circle cx="110.1" cy="114.1" r=".95"/><circle cx="110.1" cy="118.6" r=".95"/><circle cx="111.2" cy="96.0" r=".95"/><circle cx="109.8" cy="127.7" r=".95"/><circle cx="110.0" cy="120.8" r=".95"/><circle cx="109.7" cy="104.8" r=".95"/><circle cx="109.9" cy="132.1" r=".95"/><circle cx="110.0" cy="118.6" r=".95"/><circle cx="110.1" cy="110.7" r=".95"/><circle cx="109.7" cy="104.9" r=".95"/><circle cx="111.4" cy="112.0" r=".95"/><circle cx="110.0" cy="113.2" r=".95"/><circle cx="110.0" cy="121.1" r=".95"/><circle cx="109.6" cy="103.8" r=".95"/><circle cx="110.1" cy="118.5" r=".95"/><circle cx="109.7" cy="109.9" r=".95"/><circle cx="109.9" cy="137.5" r=".95"/><circle cx="109.8" cy="109.8" r=".95"/><circle cx="110.1" cy="107.4" r=".95"/><circle cx="109.6" cy="115.7" r=".95"/><circle cx="109.6" cy="122.0" r=".95"/><circle cx="109.7" cy="83.7" r=".95"/><circle cx="109.5" cy="75.5" r=".95"/><circle cx="111.3" cy="132.3" r=".95"/><circle cx="109.6" cy="110.3" r=".95"/><circle cx="111.2" cy="96.5" r=".95"/><circle cx="109.8" cy="103.9" r=".95"/><circle cx="109.8" cy="72.6" r=".95"/><circle cx="109.6" cy="127.5" r=".95"/><circle cx="109.6" cy="117.4" r=".95"/><circle cx="111.4" cy="106.8" r=".95"/><circle cx="109.6" cy="117.3" r=".95"/><circle cx="109.8" cy="131.6" r=".95"/><circle cx="109.9" cy="91.5" r=".95"/><circle cx="109.7" cy="101.9" r=".95"/><circle cx="109.9" cy="99.6" r=".95"/><circle cx="110.1" cy="119.2" r=".95"/><circle cx="109.6" cy="113.0" r=".95"/><circle cx="109.6" cy="108.6" r=".95"/><circle cx="110.0" cy="112.5" r=".95"/><circle cx="110.1" cy="125.5" r=".95"/><circle cx="109.9" cy="122.0" r=".95"/><circle cx="110.0" cy="94.9" r=".95"/><circle cx="110.0" cy="130.5" r=".95"/><circle cx="109.6" cy="109.5" r=".95"/><circle cx="109.6" cy="86.0" r=".95"/><circle cx="109.9" cy="113.7" r=".95"/><circle cx="109.7" cy="114.4" r=".95"/><circle cx="110.0" cy="122.5" r=".95"/><circle cx="109.8" cy="115.7" r=".95"/><circle cx="110.1" cy="107.8" r=".95"/><circle cx="109.6" cy="121.7" r=".95"/><circle cx="110.0" cy="90.9" r=".95"/><circle cx="109.7" cy="128.5" r=".95"/><circle cx="109.9" cy="102.7" r=".95"/><circle cx="109.9" cy="93.2" r=".95"/><circle cx="109.6" cy="110.1" r=".95"/><circle cx="109.8" cy="108.9" r=".95"/><circle cx="110.0" cy="87.4" r=".95"/><circle cx="110.0" cy="102.2" r=".95"/><circle cx="109.8" cy="121.9" r=".95"/><circle cx="109.9" cy="114.8" r=".95"/><circle cx="109.8" cy="116.4" r=".95"/><circle cx="109.8" cy="108.9" r=".95"/><circle cx="109.7" cy="112.9" r=".95"/><circle cx="109.7" cy="119.7" r=".95"/><circle cx="109.8" cy="125.0" r=".95"/><circle cx="109.8" cy="98.3" r=".95"/><circle cx="109.8" cy="105.3" r=".95"/><circle cx="109.6" cy="130.9" r=".95"/><circle cx="110.0" cy="105.4" r=".95"/><circle cx="110.0" cy="120.3" r=".95"/><circle cx="110.1" cy="124.1" r=".95"/><circle cx="111.2" cy="125.5" r=".95"/><circle cx="109.7" cy="127.9" r=".95"/><circle cx="109.8" cy="89.0" r=".95"/><circle cx="110.0" cy="104.7" r=".95"/><circle cx="109.8" cy="101.3" r=".95"/><circle cx="109.9" cy="112.6" r=".95"/><circle cx="109.7" cy="131.6" r=".95"/><circle cx="109.7" cy="104.2" r=".95"/><circle cx="109.7" cy="116.1" r=".95"/><circle cx="109.7" cy="102.4" r=".95"/><circle cx="109.8" cy="120.7" r=".95"/><circle cx="110.1" cy="107.5" r=".95"/><circle cx="109.6" cy="128.4" r=".95"/><circle cx="109.7" cy="117.2" r=".95"/><circle cx="109.9" cy="101.7" r=".95"/><circle cx="109.9" cy="123.3" r=".95"/><circle cx="109.5" cy="92.9" r=".95"/><circle cx="109.9" cy="127.3" r=".95"/><circle cx="109.6" cy="122.9" r=".95"/><circle cx="109.5" cy="112.5" r=".95"/><circle cx="109.8" cy="119.7" r=".95"/><circle cx="111.5" cy="110.0" r=".95"/><circle cx="109.8" cy="117.1" r=".95"/><circle cx="109.9" cy="121.8" r=".95"/><circle cx="109.6" cy="104.9" r=".95"/><circle cx="109.9" cy="117.8" r=".95"/><circle cx="109.6" cy="127.0" r=".95"/><circle cx="111.4" cy="129.2" r=".95"/><circle cx="109.9" cy="103.0" r=".95"/><circle cx="109.8" cy="95.9" r=".95"/><circle cx="109.7" cy="127.9" r=".95"/><circle cx="109.7" cy="119.9" r=".95"/><circle cx="109.5" cy="128.1" r=".95"/><circle cx="109.9" cy="64.9" r=".95"/><circle cx="109.9" cy="125.9" r=".95"/><circle cx="109.7" cy="98.8" r=".95"/><circle cx="109.9" cy="120.2" r=".95"/><circle cx="109.7" cy="105.4" r=".95"/><circle cx="111.4" cy="66.7" r=".95"/><circle cx="109.9" cy="102.4" r=".95"/><circle cx="109.8" cy="108.1" r=".95"/><circle cx="109.5" cy="103.5" r=".95"/><circle cx="111.4" cy="104.9" r=".95"/><circle cx="109.9" cy="68.8" r=".95"/><circle cx="109.8" cy="101.2" r=".95"/><circle cx="109.8" cy="106.7" r=".95"/><circle cx="109.9" cy="119.5" r=".95"/><circle cx="109.7" cy="112.5" r=".95"/><circle cx="109.7" cy="123.2" r=".95"/><circle cx="109.6" cy="106.7" r=".95"/><circle cx="109.9" cy="104.7" r=".95"/><circle cx="109.7" cy="114.7" r=".95"/><circle cx="109.8" cy="111.4" r=".95"/><circle cx="109.8" cy="121.3" r=".95"/><circle cx="109.6" cy="114.4" r=".95"/><circle cx="110.1" cy="110.8" r=".95"/><circle cx="110.0" cy="106.3" r=".95"/><circle cx="109.6" cy="125.6" r=".95"/><circle cx="109.8" cy="90.3" r=".95"/><circle cx="109.5" cy="121.9" r=".95"/><circle cx="109.9" cy="90.5" r=".95"/><circle cx="109.7" cy="92.3" r=".95"/><circle cx="111.3" cy="134.1" r=".95"/><circle cx="110.0" cy="111.6" r=".95"/><circle cx="109.6" cy="107.3" r=".95"/><circle cx="109.6" cy="101.3" r=".95"/><circle cx="109.8" cy="96.2" r=".95"/><circle cx="109.5" cy="102.0" r=".95"/><circle cx="111.2" cy="108.3" r=".95"/><circle cx="110.0" cy="111.5" r=".95"/><circle cx="109.7" cy="102.4" r=".95"/><circle cx="109.6" cy="123.3" r=".95"/><circle cx="109.9" cy="111.8" r=".95"/><circle cx="109.7" cy="76.4" r=".95"/><circle cx="109.7" cy="96.5" r=".95"/><circle cx="109.7" cy="110.1" r=".95"/><circle cx="110.0" cy="72.8" r=".95"/><circle cx="110.0" cy="131.5" r=".95"/><circle cx="109.8" cy="114.1" r=".95"/><circle cx="109.8" cy="104.1" r=".95"/><circle cx="109.9" cy="73.8" r=".95"/><circle cx="110.0" cy="100.2" r=".95"/><circle cx="109.6" cy="96.8" r=".95"/><circle cx="109.7" cy="76.7" r=".95"/><circle cx="109.7" cy="116.7" r=".95"/><circle cx="109.5" cy="114.5" r=".95"/><circle cx="109.9" cy="96.0" r=".95"/><circle cx="109.9" cy="121.5" r=".95"/><circle cx="110.0" cy="105.4" r=".95"/><circle cx="109.6" cy="119.9" r=".95"/><circle cx="109.6" cy="94.6" r=".95"/><circle cx="109.9" cy="103.6" r=".95"/><circle cx="110.1" cy="118.9" r=".95"/><circle cx="109.5" cy="90.0" r=".95"/><circle cx="109.7" cy="93.7" r=".95"/><circle cx="110.1" cy="131.4" r=".95"/><circle cx="109.6" cy="64.5" r=".95"/><circle cx="109.9" cy="132.6" r=".95"/><circle cx="109.8" cy="129.2" r=".95"/><circle cx="109.8" cy="90.9" r=".95"/><circle cx="109.9" cy="105.5" r=".95"/><circle cx="110.0" cy="103.5" r=".95"/><circle cx="109.9" cy="91.2" r=".95"/><circle cx="109.9" cy="121.3" r=".95"/><circle cx="109.6" cy="87.5" r=".95"/><circle cx="110.0" cy="110.9" r=".95"/><circle cx="109.7" cy="124.2" r=".95"/><circle cx="109.6" cy="101.4" r=".95"/><circle cx="110.0" cy="114.3" r=".95"/><circle cx="109.8" cy="124.0" r=".95"/><circle cx="109.7" cy="91.5" r=".95"/><circle cx="109.9" cy="123.8" r=".95"/><circle cx="109.8" cy="130.0" r=".95"/><circle cx="109.8" cy="82.8" r=".95"/><circle cx="110.0" cy="97.4" r=".95"/><circle cx="109.7" cy="113.6" r=".95"/><circle cx="109.5" cy="122.5" r=".95"/><circle cx="109.9" cy="119.8" r=".95"/><circle cx="109.6" cy="116.7" r=".95"/><circle cx="109.5" cy="113.6" r=".95"/><circle cx="111.4" cy="102.4" r=".95"/><circle cx="109.7" cy="125.6" r=".95"/><circle cx="111.4" cy="105.5" r=".95"/><circle cx="110.0" cy="115.4" r=".95"/><circle cx="109.9" cy="106.4" r=".95"/><circle cx="109.8" cy="100.8" r=".95"/><circle cx="109.9" cy="98.1" r=".95"/><circle cx="109.5" cy="109.6" r=".95"/><circle cx="109.7" cy="103.1" r=".95"/><circle cx="110.1" cy="104.3" r=".95"/><circle cx="109.6" cy="86.2" r=".95"/><circle cx="109.8" cy="78.2" r=".95"/><circle cx="110.0" cy="92.9" r=".95"/><circle cx="111.3" cy="114.8" r=".95"/><circle cx="109.8" cy="103.4" r=".95"/><circle cx="109.6" cy="114.8" r=".95"/><circle cx="111.2" cy="115.9" r=".95"/><circle cx="109.9" cy="115.8" r=".95"/><circle cx="109.7" cy="123.3" r=".95"/><circle cx="109.9" cy="68.0" r=".95"/><circle cx="109.9" cy="104.5" r=".95"/><circle cx="110.0" cy="107.3" r=".95"/><circle cx="109.9" cy="122.2" r=".95"/><circle cx="109.8" cy="124.7" r=".95"/><circle cx="109.8" cy="113.3" r=".95"/><circle cx="109.6" cy="120.0" r=".95"/><circle cx="109.8" cy="93.4" r=".95"/><circle cx="109.8" cy="99.2" r=".95"/><circle cx="111.3" cy="101.0" r=".95"/><circle cx="109.7" cy="133.1" r=".95"/><circle cx="109.9" cy="94.0" r=".95"/><circle cx="110.1" cy="124.7" r=".95"/><circle cx="111.4" cy="108.5" r=".95"/><circle cx="109.6" cy="92.3" r=".95"/><circle cx="110.0" cy="67.2" r=".95"/><circle cx="109.9" cy="89.5" r=".95"/><circle cx="109.9" cy="122.4" r=".95"/><circle cx="109.6" cy="75.9" r=".95"/><circle cx="110.0" cy="100.2" r=".95"/><circle cx="109.8" cy="102.2" r=".95"/><circle cx="109.7" cy="123.0" r=".95"/><circle cx="109.6" cy="124.5" r=".95"/><circle cx="109.7" cy="133.1" r=".95"/><circle cx="109.7" cy="107.2" r=".95"/><circle cx="109.6" cy="99.9" r=".95"/>
</g>
<g fill="#6800e7" stroke="#6800e7">
<circle cx="114.6" cy="113.4" r=".95"/><circle cx="114.9" cy="102.6" r=".95"/><circle cx="114.6" cy="96.7" r=".95"/><circle cx="111.5" cy="90.2" r=".95"/><circle cx="114.4" cy="108.3" r=".95"/><circle cx="114.9" cy="81.0" r=".95"/><circle cx="113.4" cy="106.2" r=".95"/><circle cx="114.9" cy="104.4" r=".95"/><circle cx="114.9" cy="120.1" r=".95"/><circle cx="111.5" cy="94.5" r=".95"/><circle cx="111.5" cy="120.1" r=".95"/><circle cx="114.6" cy="97.5" r=".95"/><circle cx="114.9" cy="95.6" r=".95"/><circle cx="115.1" cy="104.5" r=".95"/><circle cx="114.7" cy="90.8" r=".95"/><circle cx="113.1" cy="73.0" r=".95"/><circle cx="114.5" cy="113.7" r=".95"/><circle cx="115.1" cy="103.9" r=".95"/><circle cx="114.9" cy="88.5" r=".95"/><circle cx="115.0" cy="116.1" r=".95"/><circle cx="114.8" cy="100.8" r=".95"/><circle cx="113.0" cy="99.9" r=".95"/><circle cx="114.6" cy="102.9" r=".95"/><circle cx="114.7" cy="100.1" r=".95"/><circle cx="114.6" cy="86.5" r=".95"/><circle cx="112.9" cy="98.9" r=".95"/><circle cx="115.0" cy="67.3" r=".95"/><circle cx="114.6" cy="107.8" r=".95"/><circle cx="114.6" cy="112.3" r=".95"/><circle cx="115.0" cy="106.1" r=".95"/><circle cx="114.8" cy="125.9" r=".95"/><circle cx="113.2" cy="100.1" r=".95"/><circle cx="114.6" cy="101.2" r=".95"/><circle cx="115.0" cy="100.4" r=".95"/><circle cx="115.0" cy="100.1" r=".95"/><circle cx="114.8" cy="112.3" r=".95"/><circle cx="114.7" cy="97.1" r=".95"/><circle cx="114.9" cy="110.4" r=".95"/><circle cx="115.0" cy="99.3" r=".95"/><circle cx="113.3" cy="66.8" r=".95"/><circle cx="114.9" cy="108.8" r=".95"/><circle cx="114.7" cy="110.0" r=".95"/><circle cx="114.8" cy="82.5" r=".95"/><circle cx="114.5" cy="110.4" r=".95"/><circle cx="112.9" cy="74.7" r=".95"/><circle cx="113.1" cy="116.2" r=".95"/><circle cx="111.5" cy="111.8" r=".95"/><circle cx="115.1" cy="94.3" r=".95"/><circle cx="114.6" cy="88.0" r=".95"/><circle cx="114.6" cy="103.5" r=".95"/><circle cx="114.5" cy="124.3" r=".95"/><circle cx="113.1" cy="111.9" r=".95"/><circle cx="114.8" cy="102.3" r=".95"/><circle cx="115.0" cy="102.7" r=".95"/><circle cx="114.8" cy="86.1" r=".95"/><circle cx="114.5" cy="104.1" r=".95"/><circle cx="111.7" cy="105.9" r=".95"/><circle cx="113.4" cy="79.3" r=".95"/><circle cx="111.5" cy="124.0" r=".95"/><circle cx="114.5" cy="107.3" r=".95"/><circle cx="114.9" cy="94.0" r=".95"/><circle cx="114.7" cy="96.1" r=".95"/><circle cx="113.0" cy="70.1" r=".95"/><circle cx="111.5" cy="107.4" r=".95"/><circle cx="114.7" cy="105.7" r=".95"/><circle cx="111.7" cy="110.4" r=".95"/><circle cx="115.0" cy="105.9" r=".95"/><circle cx="115.0" cy="106.3" r=".95"/><circle cx="114.8" cy="107.9" r=".95"/><circle cx="111.6" cy="108.8" r=".95"/><circle cx="114.9" cy="86.1" r=".95"/><circle cx="115.0" cy="110.6" r=".95"/><circle cx="114.8" cy="111.2" r=".95"/><circle cx="113.1" cy="90.9" r=".95"/><circle cx="114.5" cy="104.1" r=".95"/><circle cx="113.2" cy="108.2" r=".95"/><circle cx="114.8" cy="120.3" r=".95"/><circle cx="114.8" cy="105.3" r=".95"/><circle cx="114.7" cy="90.5" r=".95"/><circle cx="111.7" cy="116.4" r=".95"/><circle cx="114.9" cy="102.8" r=".95"/><circle cx="111.5" cy="107.2" r=".95"/><circle cx="114.8" cy="70.4" r=".95"/><circle cx="111.7" cy="106.0" r=".95"/><circle cx="115.1" cy="96.4" r=".95"/><circle cx="114.9" cy="100.7" r=".95"/><circle cx="114.6" cy="106.8" r=".95"/><circle cx="114.9" cy="95.7" r=".95"/><circle cx="114.6" cy="101.4" r=".95"/><circle cx="114.8" cy="119.4" r=".95"/><circle cx="114.7" cy="111.3" r=".95"/><circle cx="114.8" cy="117.0" r=".95"/><circle cx="115.0" cy="111.4" r=".95"/><circle cx="113.4" cy="99.9" r=".95"/><circle cx="115.0" cy="108.2" r=".95"/><circle cx="114.9" cy="101.2" r=".95"/><circle cx="114.7" cy="98.3" r=".95"/><circle cx="113.1" cy="104.4" r=".95"/><circle cx="113.1" cy="127.4" r=".95"/><circle cx="114.6" cy="115.4" r=".95"/><circle cx="114.8" cy="112.4" r=".95"/><circle cx="114.8" cy="106.2" r=".95"/><circle cx="114.6" cy="104.0" r=".95"/><circle cx="114.6" cy="108.9" r=".95"/><circle cx="114.7" cy="121.1" r=".95"/><circle cx="114.4" cy="107.3" r=".95"/><circle cx="114.5" cy="92.2" r=".95"/><circle cx="113.3" cy="108.1" r=".95"/><circle cx="114.9" cy="121.7" r=".95"/><circle cx="114.9" cy="81.7" r=".95"/><circle cx="114.5" cy="107.7" r=".95"/><circle cx="114.7" cy="93.6" r=".95"/><circle cx="114.7" cy="123.3" r=".95"/><circle cx="112.9" cy="101.2" r=".95"/><circle cx="112.9" cy="95.0" r=".95"/><circle cx="114.9" cy="120.4" r=".95"/><circle cx="114.6" cy="101.9" r=".95"/><circle cx="111.7" cy="122.3" r=".95"/><circle cx="114.7" cy="118.8" r=".95"/><circle cx="114.6" cy="89.2" r=".95"/><circle cx="114.7" cy="105.1" r=".95"/><circle cx="114.5" cy="123.6" r=".95"/><circle cx="112.9" cy="100.5" r=".95"/><circle cx="114.6" cy="114.2" r=".95"/><circle cx="114.9" cy="112.0" r=".95"/><circle cx="113.2" cy="119.1" r=".95"/><circle cx="113.3" cy="106.1" r=".95"/><circle cx="112.9" cy="115.7" r=".95"/><circle cx="111.5" cy="133.8" r=".95"/><circle cx="111.7" cy="118.4" r=".95"/><circle cx="115.0" cy="96.5" r=".95"/><circle cx="112.9" cy="88.9" r=".95"/><circle cx="115.1" cy="125.1" r=".95"/><circle cx="114.9" cy="94.6" r=".95"/><circle cx="114.7" cy="101.1" r=".95"/><circle cx="115.0" cy="96.0" r=".95"/><circle cx="113.1" cy="111.6" r=".95"/><circle cx="114.5" cy="112.7" r=".95"/><circle cx="114.9" cy="92.9" r=".95"/><circle cx="114.9" cy="125.2" r=".95"/><circle cx="114.6" cy="100.2" r=".95"/><circle cx="114.6" cy="92.8" r=".95"/><circle cx="114.4" cy="103.4" r=".95"/><circle cx="114.7" cy="105.0" r=".95"/><circle cx="114.9" cy="111.6" r=".95"/><circle cx="114.7" cy="110.9" r=".95"/><circle cx="115.0" cy="68.9" r=".95"/><circle cx="114.8" cy="116.9" r=".95"/><circle cx="114.8" cy="105.0" r=".95"/><circle cx="113.0" cy="99.1" r=".95"/><circle cx="114.9" cy="79.0" r=".95"/><circle cx="114.6" cy="118.7" r=".95"/><circle cx="115.0" cy="115.8" r=".95"/><circle cx="113.1" cy="122.1" r=".95"/><circle cx="114.4" cy="123.5" r=".95"/><circle cx="113.1" cy="99.4" r=".95"/><circle cx="113.4" cy="107.1" r=".95"/><circle cx="111.5" cy="113.6" r=".95"/><circle cx="113.1" cy="105.7" r=".95"/><circle cx="113.0" cy="92.9" r=".95"/><circle cx="114.4" cy="88.1" r=".95"/><circle cx="114.9" cy="113.8" r=".95"/><circle cx="113.1" cy="118.4" r=".95"/><circle cx="114.6" cy="85.5" r=".95"/><circle cx="113.4" cy="107.3" r=".95"/><circle cx="115.0" cy="113.4" r=".95"/><circle cx="114.7" cy="93.1" r=".95"/><circle cx="114.6" cy="126.0" r=".95"/><circle cx="113.2" cy="105.7" r=".95"/>
</g>
<g fill="#7300e0" stroke="#7300e0">
<circle cx="116.8" cy="117.8" r=".95"/><circle cx="116.6" cy="96.3" r=".95"/><circle cx="116.8" cy="98.6" r=".95"/><circle cx="116.3" cy="112.4" r=".95"/><circle cx="116.2" cy="109.5" r=".95"/><circle cx="116.5" cy="125.3" r=".95"/><circle cx="116.4" cy="102.0" r=".95"/><circle cx="116.4" cy="99.9" r=".95"/><circle cx="116.7" cy="102.1" r=".95"/><circle cx="116.4" cy="115.8" r=".95"/><circle cx="116.3" cy="95.2" r=".95"/><circle cx="116.6" cy="107.2" r=".95"/><circle cx="116.3" cy="124.2" r=".95"/><circle cx="116.4" cy="83.9" r=".95"/><circle cx="116.7" cy="63.6" r=".95"/><circle cx="116.5" cy="116.9" r=".95"/><circle cx="116.3" cy="102.5" r=".95"/><circle cx="116.3" cy="107.7" r=".95"/><circle cx="116.6" cy="99.9" r=".95"/><circle cx="116.4" cy="104.4" r=".95"/><circle cx="116.3" cy="98.6" r=".95"/><circle cx="116.3" cy="101.6" r=".95"/><circle cx="116.2" cy="104.1" r=".95"/><circle cx="116.5" cy="104.6" r=".95"/><circle cx="116.5" cy="119.0" r=".95"/><circle cx="116.6" cy="101.4" r=".95"/><circle cx="116.8" cy="118.7" r=".95"/><circle cx="116.6" cy="115.3" r=".95"/><circle cx="116.3" cy="107.1" r=".95"/><circle cx="116.4" cy="62.4" r=".95"/><circle cx="116.5" cy="121.5" r=".95"/><circle cx="116.4" cy="103.0" r=".95"/><circle cx="116.5" cy="106.9" r=".95"/><circle cx="116.5" cy="110.2" r=".95"/><circle cx="116.2" cy="102.3" r=".95"/><circle cx="116.8" cy="121.5" r=".95"/><circle cx="116.6" cy="113.6" r=".95"/><circle cx="116.3" cy="119.9" r=".95"/><circle cx="116.8" cy="108.6" r=".95"/><circle cx="116.6" cy="103.3" r=".95"/><circle cx="116.6" cy="119.4" r=".95"/><circle cx="116.5" cy="103.6" r=".95"/><circle cx="116.7" cy="107.6" r=".95"/><circle cx="116.5" cy="110.8" r=".95"/><circle cx="116.4" cy="85.7" r=".95"/><circle cx="116.7" cy="102.3" r=".95"/><circle cx="116.5" cy="110.2" r=".95"/><circle cx="116.5" cy="95.1" r=".95"/><circle cx="116.5" cy="111.5" r=".95"/><circle cx="116.2" cy="113.8" r=".95"/><circle cx="116.4" cy="102.6" r=".95"/><circle cx="116.8" cy="119.0" r=".95"/><circle cx="116.7" cy="104.9" r=".95"/><circle cx="116.2" cy="114.7" r=".95"/><circle cx="116.6" cy="112.4" r=".95"/><circle cx="116.7" cy="108.4" r=".95"/><circle cx="116.5" cy="117.7" r=".95"/><circle cx="116.6" cy="121.7" r=".95"/><circle cx="116.8" cy="115.0" r=".95"/><circle cx="116.5" cy="108.2" r=".95"/><circle cx="116.3" cy="112.0" r=".95"/><circle cx="116.8" cy="109.2" r=".95"/><circle cx="116.3" cy="93.0" r=".95"/><circle cx="116.5" cy="118.5" r=".95"/><circle cx="116.5" cy="83.1" r=".95"/><circle cx="116.2" cy="128.2" r=".95"/><circle cx="116.6" cy="111.2" r=".95"/>
</g>
<g fill="#7c00da" stroke="#7c00da">
<circle cx="118.2" cy="106.4" r=".95"/><circle cx="118.2" cy="105.1" r=".95"/><circle cx="117.9" cy="115.0" r=".95"/><circle cx="118.0" cy="97.5" r=".95"/><circle cx="118.1" cy="124.8" r=".95"/><circle cx="118.1" cy="98.2" r=".95"/><circle cx="118.3" cy="93.1" r=".95"/><circle cx="118.0" cy="98.6" r=".95"/><circle cx="118.2" cy="102.6" r=".95"/><circle cx="118.1" cy="123.6" r=".95"/><circle cx="118.0" cy="124.9" r=".95"/><circle cx="118.4" cy="105.5" r=".95"/><circle cx="118.0" cy="67.7" r=".95"/><circle cx="118.4" cy="101.5" r=".95"/><circle cx="118.2" cy="117.2" r=".95"/><circle cx="118.4" cy="109.0" r=".95"/><circle cx="118.2" cy="90.4" r=".95"/><circle cx="118.1" cy="88.1" r=".95"/><circle cx="118.2" cy="106.4" r=".95"/><circle cx="118.0" cy="103.5" r=".95"/><circle cx="118.4" cy="77.8" r=".95"/><circle cx="118.2" cy="102.4" r=".95"/><circle cx="118.2" cy="109.5" r=".95"/><circle cx="118.2" cy="111.2" r=".95"/><circle cx="117.9" cy="86.7" r=".95"/><circle cx="117.9" cy="116.2" r=".95"/><circle cx="118.4" cy="102.9" r=".95"/><circle cx="118.0" cy="88.3" r=".95"/><circle cx="117.9" cy="120.6" r=".95"/><circle cx="118.4" cy="110.9" r=".95"/><circle cx="118.2" cy="96.0" r=".95"/><circle cx="118.0" cy="107.4" r=".95"/><circle cx="118.3" cy="107.0" r=".95"/><circle cx="118.3" cy="115.6" r=".95"/><circle cx="118.1" cy="90.7" r=".95"/><circle cx="118.1" cy="109.9" r=".95"/><circle cx="118.4" cy="113.1" r=".95"/><circle cx="118.1" cy="120.8" r=".95"/><circle cx="118.4" cy="108.5" r=".95"/><circle cx="118.0" cy="96.2" r=".95"/><circle cx="118.1" cy="105.3" r=".95"/><circle cx="118.3" cy="105.0" r=".95"/><circle cx="118.3" cy="111.8" r=".95"/><circle cx="118.4" cy="118.8" r=".95"/><circle cx="118.2" cy="97.2" r=".95"/><circle cx="118.0" cy="117.9" r=".95"/><circle cx="118.0" cy="104.0" r=".95"/><circle cx="118.0" cy="105.4" r=".95"/><circle cx="118.0" cy="105.6" r=".95"/><circle cx="118.3" cy="101.2" r=".95"/><circle cx="118.1" cy="112.2" r=".95"/><circle cx="118.4" cy="95.6" r=".95"/><circle cx="118.3" cy="94.2" r=".95"/><circle cx="118.3" cy="107.5" r=".95"/><circle cx="118.1" cy="121.4" r=".95"/><circle cx="119.3" cy="103.1" r=".95"/><circle cx="119.3" cy="100.3" r=".95"/><circle cx="119.4" cy="113.5" r=".95"/><circle cx="119.3" cy="108.0" r=".95"/><circle cx="119.3" cy="105.9" r=".95"/><circle cx="119.4" cy="108.8" r=".95"/><circle cx="119.4" cy="112.5" r=".95"/><circle cx="119.4" cy="102.8" r=".95"/><circle cx="119.4" cy="70.7" r=".95"/><circle cx="119.3" cy="91.2" r=".95"/><circle cx="119.4" cy="84.0" r=".95"/><circle cx="119.4" cy="99.5" r=".95"/><circle cx="119.3" cy="106.9" r=".95"/><circle cx="119.3" cy="93.8" r=".95"/><circle cx="119.3" cy="117.1" r=".95"/><circle cx="119.4" cy="79.3" r=".95"/><circle cx="119.3" cy="74.9" r=".95"/><circle cx="119.3" cy="121.0" r=".95"/><circle cx="119.3" cy="102.2" r=".95"/><circle cx="119.3" cy="99.6" r=".95"/><circle cx="119.4" cy="103.1" r=".95"/><circle cx="119.3" cy="104.4" r=".95"/><circle cx="119.4" cy="112.1" r=".95"/><circle cx="119.3" cy="86.0" r=".95"/><circle cx="119.4" cy="84.6" r=".95"/><circle cx="119.3" cy="121.1" r=".95"/><circle cx="119.3" cy="113.7" r=".95"/><circle cx="119.3" cy="102.7" r=".95"/><circle cx="119.4" cy="91.9" r=".95"/><circle cx="119.3" cy="96.3" r=".95"/><circle cx="119.3" cy="105.9" r=".95"/><circle cx="119.3" cy="101.6" r=".95"/><circle cx="119.4" cy="102.7" r=".95"/><circle cx="119.4" cy="106.4" r=".95"/><circle cx="119.3" cy="117.7" r=".95"/><circle cx="119.3" cy="93.5" r=".95"/><circle cx="119.4" cy="121.5" r=".95"/><circle cx="119.4" cy="91.4" r=".95"/><circle cx="119.3" cy="97.2" r=".95"/><circle cx="119.3" cy="124.8" r=".95"/><circle cx="119.4" cy="117.5" r=".95"/><circle cx="119.4" cy="102.6" r=".95"/>
</g>
<g fill="#8500d4" stroke="#8500d4">
<circle cx="119.4" cy="117.2" r=".95"/><circle cx="119.9" cy="113.7" r=".95"/><circle cx="119.4" cy="115.7" r=".95"/><circle cx="119.6" cy="106.0" r=".95"/><circle cx="119.8" cy="97.4" r=".95"/><circle cx="119.4" cy="118.0" r=".95"/><circle cx="119.5" cy="109.3" r=".95"/><circle cx="119.8" cy="98.9" r=".95"/><circle cx="119.5" cy="74.8" r=".95"/><circle cx="119.5" cy="91.3" r=".95"/><circle cx="119.4" cy="113.5" r=".95"/><circle cx="119.5" cy="107.2" r=".95"/><circle cx="119.4" cy="103.4" r=".95"/><circle cx="119.5" cy="105.6" r=".95"/><circle cx="119.6" cy="108.4" r=".95"/><circle cx="119.7" cy="88.1" r=".95"/><circle cx="119.9" cy="105.0" r=".95"/><circle cx="119.7" cy="115.9" r=".95"/><circle cx="119.5" cy="106.4" r=".95"/><circle cx="119.7" cy="125.1" r=".95"/><circle cx="119.8" cy="118.0" r=".95"/><circle cx="119.5" cy="115.7" r=".95"/><circle cx="119.5" cy="90.8" r=".95"/><circle cx="119.5" cy="92.7" r=".95"/><circle cx="119.8" cy="88.5" r=".95"/><circle cx="119.5" cy="104.4" r=".95"/><circle cx="119.8" cy="97.1" r=".95"/><circle cx="119.7" cy="102.6" r=".95"/><circle cx="119.5" cy="122.8" r=".95"/><circle cx="119.7" cy="104.5" r=".95"/><circle cx="119.7" cy="105.0" r=".95"/><circle cx="119.7" cy="115.0" r=".95"/><circle cx="119.8" cy="110.5" r=".95"/><circle cx="119.8" cy="100.7" r=".95"/><circle cx="119.8" cy="120.0" r=".95"/><circle cx="119.8" cy="101.0" r=".95"/><circle cx="119.4" cy="121.0" r=".95"/><circle cx="119.5" cy="92.3" r=".95"/><circle cx="119.7" cy="100.7" r=".95"/><circle cx="119.7" cy="106.3" r=".95"/><circle cx="119.5" cy="108.2" r=".95"/><circle cx="119.6" cy="122.2" r=".95"/><circle cx="119.4" cy="119.6" r=".95"/><circle cx="119.4" cy="110.1" r=".95"/><circle cx="119.7" cy="116.8" r=".95"/><circle cx="119.6" cy="80.0" r=".95"/><circle cx="119.7" cy="77.5" r=".95"/><circle cx="119.5" cy="96.4" r=".95"/><circle cx="119.4" cy="93.7" r=".95"/><circle cx="119.8" cy="111.7" r=".95"/><circle cx="119.6" cy="113.1" r=".95"/><circle cx="119.5" cy="104.1" r=".95"/><circle cx="119.6" cy="92.8" r=".95"/><circle cx="119.5" cy="110.8" r=".95"/><circle cx="119.6" cy="114.9" r=".95"/><circle cx="119.6" cy="108.9" r=".95"/><circle cx="119.5" cy="106.5" r=".95"/><circle cx="119.8" cy="106.8" r=".95"/><circle cx="119.4" cy="93.5" r=".95"/><circle cx="119.7" cy="108.1" r=".95"/><circle cx="119.4" cy="95.2" r=".95"/><circle cx="119.5" cy="109.0" r=".95"/><circle cx="119.9" cy="122.2" r=".95"/><circle cx="119.7" cy="105.4" r=".95"/><circle cx="119.9" cy="103.2" r=".95"/><circle cx="119.8" cy="98.1" r=".95"/><circle cx="119.5" cy="98.7" r=".95"/><circle cx="119.6" cy="106.7" r=".95"/><circle cx="119.8" cy="103.7" r=".95"/><circle cx="119.4" cy="82.9" r=".95"/><circle cx="119.5" cy="107.3" r=".95"/><circle cx="119.9" cy="117.7" r=".95"/><circle cx="119.7" cy="109.9" r=".95"/><circle cx="119.4" cy="115.7" r=".95"/><circle cx="119.8" cy="121.4" r=".95"/><circle cx="119.9" cy="114.7" r=".95"/><circle cx="119.7" cy="102.9" r=".95"/><circle cx="119.4" cy="112.0" r=".95"/><circle cx="119.7" cy="106.5" r=".95"/><circle cx="119.7" cy="98.9" r=".95"/><circle cx="119.8" cy="84.1" r=".95"/><circle cx="119.8" cy="105.5" r=".95"/><circle cx="119.7" cy="104.2" r=".95"/><circle cx="119.4" cy="125.2" r=".95"/><circle cx="119.9" cy="95.9" r=".95"/><circle cx="119.5" cy="94.6" r=".95"/><circle cx="119.5" cy="86.7" r=".95"/><circle cx="119.5" cy="121.8" r=".95"/><circle cx="119.8" cy="99.0" r=".95"/><circle cx="119.6" cy="104.2" r=".95"/><circle cx="119.9" cy="83.1" r=".95"/><circle cx="119.5" cy="64.4" r=".95"/><circle cx="119.6" cy="112.9" r=".95"/><circle cx="119.6" cy="104.6" r=".95"/><circle cx="119.8" cy="121.9" r=".95"/><circle cx="119.8" cy="106.8" r=".95"/><circle cx="119.7" cy="93.0" r=".95"/><circle cx="119.9" cy="63.8" r=".95"/><circle cx="119.5" cy="107.7" r=".95"/><circle cx="119.6" cy="96.8" r=".95"/><circle cx="119.8" cy="118.2" r=".95"/><circle cx="119.9" cy="94.0" r=".95"/><circle cx="119.8" cy="117.6" r=".95"/><circle cx="119.8" cy="112.7" r=".95"/><circle cx="119.7" cy="110.1" r=".95"/><circle cx="119.5" cy="124.6" r=".95"/><circle cx="119.7" cy="95.8" r=".95"/><circle cx="119.8" cy="106.1" r=".95"/><circle cx="119.7" cy="103.1" r=".95"/><circle cx="119.9" cy="104.8" r=".95"/><circle cx="119.4" cy="103.4" r=".95"/><circle cx="119.8" cy="109.5" r=".95"/><circle cx="119.6" cy="114.7" r=".95"/><circle cx="119.8" cy="93.8" r=".95"/><circle cx="119.4" cy="109.7" r=".95"/><circle cx="119.8" cy="111.7" r=".95"/><circle cx="119.8" cy="108.4" r=".95"/><circle cx="119.6" cy="117.3" r=".95"/><circle cx="119.4" cy="93.7" r=".95"/><circle cx="119.4" cy="114.3" r=".95"/><circle cx="119.6" cy="103.5" r=".95"/><circle cx="119.6" cy="90.8" r=".95"/><circle cx="119.7" cy="123.7" r=".95"/><circle cx="119.6" cy="82.0" r=".95"/><circle cx="119.7" cy="106.4" r=".95"/><circle cx="119.6" cy="105.3" r=".95"/><circle cx="119.4" cy="119.5" r=".95"/><circle cx="119.6" cy="120.2" r=".95"/><circle cx="119.5" cy="93.1" r=".95"/><circle cx="119.9" cy="98.0" r=".95"/><circle cx="119.9" cy="82.3" r=".95"/><circle cx="119.5" cy="112.3" r=".95"/><circle cx="119.5" cy="103.2" r=".95"/><circle cx="119.4" cy="107.4" r=".95"/><circle cx="119.6" cy="118.4" r=".95"/><circle cx="119.7" cy="112.2" r=".95"/><circle cx="119.8" cy="115.9" r=".95"/><circle cx="119.7" cy="106.9" r=".95"/><circle cx="119.8" cy="91.1" r=".95"/><circle cx="119.8" cy="104.8" r=".95"/><circle cx="119.5" cy="101.4" r=".95"/><circle cx="119.4" cy="103.9" r=".95"/><circle cx="119.6" cy="103.6" r=".95"/><circle cx="119.6" cy="99.4" r=".95"/><circle cx="119.5" cy="106.2" r=".95"/><circle cx="119.8" cy="116.1" r=".95"/><circle cx="119.7" cy="104.0" r=".95"/><circle cx="119.6" cy="106.5" r=".95"/><circle cx="119.8" cy="97.9" r=".95"/><circle cx="119.5" cy="116.3" r=".95"/><circle cx="119.8" cy="114.2" r=".95"/><circle cx="119.4" cy="85.3" r=".95"/><circle cx="119.6" cy="94.1" r=".95"/><circle cx="119.6" cy="94.1" r=".95"/><circle cx="119.7" cy="108.6" r=".95"/><circle cx="119.7" cy="112.9" r=".95"/><circle cx="119.4" cy="104.4" r=".95"/><circle cx="119.5" cy="73.0" r=".95"/><circle cx="119.5" cy="99.5" r=".95"/><circle cx="119.5" cy="108.3" r=".95"/><circle cx="119.6" cy="108.9" r=".95"/><circle cx="119.7" cy="104.4" r=".95"/><circle cx="119.4" cy="108.1" r=".95"/><circle cx="119.7" cy="79.3" r=".95"/><circle cx="119.6" cy="104.5" r=".95"/><circle cx="119.5" cy="108.5" r=".95"/><circle cx="119.4" cy="111.9" r=".95"/><circle cx="119.5" cy="65.7" r=".95"/><circle cx="119.6" cy="62.8" r=".95"/><circle cx="119.7" cy="99.6" r=".95"/><circle cx="119.8" cy="106.3" r=".95"/><circle cx="119.6" cy="109.5" r=".95"/><circle cx="119.8" cy="90.5" r=".95"/><circle cx="119.7" cy="92.1" r=".95"/><circle cx="119.5" cy="86.3" r=".95"/><circle cx="119.7" cy="89.4" r=".95"/><circle cx="119.8" cy="89.2" r=".95"/><circle cx="119.8" cy="68.8" r=".95"/><circle cx="119.6" cy="98.5" r=".95"/><circle cx="119.7" cy="73.0" r=".95"/><circle cx="119.8" cy="113.2" r=".95"/><circle cx="119.7" cy="100.9" r=".95"/><circle cx="119.8" cy="116.5" r=".95"/><circle cx="119.9" cy="99.6" r=".95"/><circle cx="119.4" cy="85.6" r=".95"/><circle cx="119.4" cy="108.2" r=".95"/><circle cx="119.7" cy="123.8" r=".95"/><circle cx="119.4" cy="99.8" r=".95"/><circle cx="119.5" cy="113.0" r=".95"/><circle cx="119.6" cy="80.4" r=".95"/><circle cx="119.7" cy="116.7" r=".95"/><circle cx="119.6" cy="96.4" r=".95"/><circle cx="119.4" cy="101.7" r=".95"/><circle cx="119.6" cy="93.8" r=".95"/><circle cx="119.8" cy="108.1" r=".95"/><circle cx="119.8" cy="118.6" r=".95"/><circle cx="119.4" cy="116.9" r=".95"/><circle cx="119.9" cy="111.8" r=".95"/><circle cx="119.4" cy="108.2" r=".95"/><circle cx="119.5" cy="105.1" r=".95"/><circle cx="119.9" cy="76.7" r=".95"/><circle cx="119.6" cy="110.4" r=".95"/><circle cx="119.9" cy="101.0" r=".95"/><circle cx="119.4" cy="101.1" r=".95"/><circle cx="119.6" cy="90.2" r=".95"/><circle cx="119.7" cy="118.5" r=".95"/><circle cx="119.6" cy="113.6" r=".95"/><circle cx="119.4" cy="110.9" r=".95"/><circle cx="119.8" cy="106.0" r=".95"/><circle cx="119.8" cy="119.4" r=".95"/><circle cx="119.8" cy="102.5" r=".95"/><circle cx="119.8" cy="104.7" r=".95"/><circle cx="119.7" cy="102.9" r=".95"/><circle cx="119.9" cy="109.4" r=".95"/><circle cx="119.9" cy="110.3" r=".95"/><circle cx="119.8" cy="118.3" r=".95"/><circle cx="119.8" cy="103.1" r=".95"/><circle cx="119.5" cy="107.6" r=".95"/><circle cx="119.9" cy="105.6" r=".95"/><circle cx="119.6" cy="104.3" r=".95"/><circle cx="119.6" cy="112.4" r=".95"/><circle cx="119.8" cy="110.5" r=".95"/><circle cx="119.5" cy="108.0" r=".95"/><circle cx="119.4" cy="95.2" r=".95"/><circle cx="119.8" cy="103.0" r=".95"/><circle cx="119.6" cy="100.4" r=".95"/><circle cx="119.7" cy="109.5" r=".95"/><circle cx="119.8" cy="119.7" r=".95"/><circle cx="119.7" cy="93.0" r=".95"/><circle cx="119.6" cy="98.6" r=".95"/><circle cx="119.9" cy="114.0" r=".95"/><circle cx="119.8" cy="105.6" r=".95"/><circle cx="119.5" cy="88.4" r=".95"/><circle cx="119.4" cy="110.9" r=".95"/><circle cx="119.5" cy="94.6" r=".95"/><circle cx="119.7" cy="105.1" r=".95"/><circle cx="119.4" cy="85.4" r=".95"/><circle cx="119.5" cy="104.3" r=".95"/><circle cx="119.9" cy="104.6" r=".95"/><circle cx="119.8" cy="90.1" r=".95"/><circle cx="119.6" cy="108.4" r=".95"/><circle cx="119.5" cy="117.2" r=".95"/><circle cx="119.8" cy="113.3" r=".95"/><circle cx="119.8" cy="113.4" r=".95"/><circle cx="119.6" cy="98.4" r=".95"/><circle cx="119.7" cy="121.7" r=".95"/><circle cx="119.7" cy="108.4" r=".95"/><circle cx="119.5" cy="62.5" r=".95"/><circle cx="119.7" cy="67.4" r=".95"/><circle cx="119.8" cy="92.9" r=".95"/><circle cx="119.8" cy="106.7" r=".95"/><circle cx="119.7" cy="106.8" r=".95"/><circle cx="119.9" cy="114.6" r=".95"/><circle cx="119.8" cy="88.7" r=".95"/><circle cx="119.6" cy="125.7" r=".95"/><circle cx="119.6" cy="103.1" r=".95"/><circle cx="119.9" cy="102.7" r=".95"/><circle cx="119.6" cy="86.2" r=".95"/><circle cx="119.6" cy="97.6" r=".95"/><circle cx="119.4" cy="106.5" r=".95"/><circle cx="119.9" cy="105.2" r=".95"/><circle cx="119.8" cy="104.2" r=".95"/><circle cx="119.9" cy="107.7" r=".95"/><circle cx="119.5" cy="101.5" r=".95"/><circle cx="119.6" cy="115.0" r=".95"/><circle cx="119.9" cy="91.4" r=".95"/>
</g>
<g fill="#8d00ce" stroke="#8d00ce">
<circle cx="121.4" cy="112.9" r=".95"/><circle cx="121.3" cy="104.7" r=".95"/><circle cx="121.0" cy="121.7" r=".95"/><circle cx="121.3" cy="95.2" r=".95"/><circle cx="121.2" cy="90.6" r=".95"/><circle cx="121.4" cy="84.2" r=".95"/><circle cx="121.2" cy="105.2" r=".95"/><circle cx="121.0" cy="118.8" r=".95"/><circle cx="121.3" cy="89.6" r=".95"/><circle cx="121.2" cy="99.7" r=".95"/><circle cx="121.0" cy="96.7" r=".95"/><circle cx="121.4" cy="105.4" r=".95"/><circle cx="121.4" cy="92.0" r=".95"/><circle cx="121.5" cy="69.3" r=".95"/><circle cx="121.3" cy="90.1" r=".95"/><circle cx="121.2" cy="104.4" r=".95"/><circle cx="121.6" cy="112.0" r=".95"/><circle cx="121.3" cy="118.7" r=".95"/><circle cx="121.2" cy="106.6" r=".95"/><circle cx="121.4" cy="102.1" r=".95"/><circle cx="121.4" cy="107.5" r=".95"/><circle cx="121.5" cy="109.5" r=".95"/><circle cx="121.4" cy="107.6" r=".95"/><circle cx="121.0" cy="101.3" r=".95"/><circle cx="121.1" cy="123.5" r=".95"/><circle cx="121.4" cy="90.0" r=".95"/><circle cx="121.6" cy="111.1" r=".95"/><circle cx="121.2" cy="74.6" r=".95"/><circle cx="121.4" cy="91.5" r=".95"/><circle cx="121.4" cy="96.0" r=".95"/><circle cx="121.3" cy="105.0" r=".95"/><circle cx="121.2" cy="93.9" r=".95"/><circle cx="121.2" cy="103.5" r=".95"/><circle cx="121.6" cy="95.7" r=".95"/><circle cx="121.0" cy="124.9" r=".95"/><circle cx="121.1" cy="105.0" r=".95"/><circle cx="121.0" cy="113.6" r=".95"/><circle cx="121.1" cy="109.6" r=".95"/><circle cx="121.4" cy="103.3" r=".95"/><circle cx="121.2" cy="99.6" r=".95"/><circle cx="121.2" cy="87.9" r=".95"/><circle cx="121.2" cy="109.8" r=".95"/><circle cx="121.2" cy="89.4" r=".95"/><circle cx="121.1" cy="80.9" r=".95"/><circle cx="121.5" cy="101.3" r=".95"/><circle cx="121.5" cy="99.9" r=".95"/><circle cx="121.5" cy="116.2" r=".95"/><circle cx="121.5" cy="117.6" r=".95"/><circle cx="121.4" cy="91.0" r=".95"/><circle cx="121.1" cy="88.5" r=".95"/><circle cx="121.3" cy="115.1" r=".95"/><circle cx="121.4" cy="110.5" r=".95"/><circle cx="121.4" cy="117.4" r=".95"/><circle cx="121.2" cy="105.2" r=".95"/><circle cx="121.5" cy="109.5" r=".95"/><circle cx="121.0" cy="114.3" r=".95"/><circle cx="121.3" cy="95.1" r=".95"/><circle cx="121.5" cy="95.9" r=".95"/>
</g>
<g fill="#9400c8" stroke="#9400c8">
<circle cx="122.9" cy="118.1" r=".95"/><circle cx="123.0" cy="97.9" r=".95"/><circle cx="122.9" cy="102.9" r=".95"/><circle cx="122.9" cy="99.2" r=".95"/><circle cx="123.2" cy="98.5" r=".95"/><circle cx="122.7" cy="83.9" r=".95"/><circle cx="123.1" cy="95.4" r=".95"/><circle cx="122.8" cy="124.0" r=".95"/><circle cx="122.7" cy="112.9" r=".95"/><circle cx="122.7" cy="97.8" r=".95"/><circle cx="122.8" cy="100.6" r=".95"/><circle cx="123.2" cy="103.0" r=".95"/><circle cx="123.2" cy="105.9" r=".95"/><circle cx="122.8" cy="103.5" r=".95"/><circle cx="122.8" cy="116.4" r=".95"/><circle cx="123.1" cy="91.4" r=".95"/><circle cx="123.2" cy="121.4" r=".95"/><circle cx="122.7" cy="69.1" r=".95"/><circle cx="123.1" cy="108.6" r=".95"/><circle cx="122.9" cy="111.4" r=".95"/><circle cx="122.9" cy="101.5" r=".95"/><circle cx="122.8" cy="106.5" r=".95"/><circle cx="122.7" cy="76.9" r=".95"/><circle cx="123.0" cy="97.2" r=".95"/><circle cx="123.0" cy="79.4" r=".95"/><circle cx="123.0" cy="73.1" r=".95"/><circle cx="123.1" cy="72.3" r=".95"/><circle cx="123.2" cy="115.2" r=".95"/><circle cx="122.7" cy="103.8" r=".95"/><circle cx="123.0" cy="96.9" r=".95"/><circle cx="123.0" cy="120.9" r=".95"/><circle cx="122.8" cy="93.6" r=".95"/><circle cx="123.2" cy="113.3" r=".95"/><circle cx="122.8" cy="108.7" r=".95"/><circle cx="122.7" cy="102.1" r=".95"/><circle cx="122.8" cy="94.6" r=".95"/><circle cx="122.8" cy="112.6" r=".95"/><circle cx="122.7" cy="83.4" r=".95"/><circle cx="122.9" cy="112.6" r=".95"/><circle cx="123.1" cy="110.2" r=".95"/>
</g>
<g fill="#9a00c3" stroke="#9a00c3">
<circle cx="124.6" cy="118.5" r=".95"/><circle cx="124.2" cy="90.8" r=".95"/><circle cx="124.7" cy="98.3" r=".95"/><circle cx="124.5" cy="116.7" r=".95"/><circle cx="124.5" cy="97.0" r=".95"/><circle cx="124.4" cy="100.1" r=".95"/><circle cx="124.2" cy="100.3" r=".95"/><circle cx="124.7" cy="104.8" r=".95"/><circle cx="124.7" cy="119.2" r=".95"/><circle cx="124.3" cy="91.5" r=".95"/><circle cx="124.3" cy="91.3" r=".95"/><circle cx="124.6" cy="119.1" r=".95"/><circle cx="124.5" cy="123.3" r=".95"/><circle cx="124.4" cy="119.7" r=".95"/><circle cx="124.5" cy="111.2" r=".95"/><circle cx="124.3" cy="71.8" r=".95"/><circle cx="124.5" cy="90.9" r=".95"/><circle cx="124.6" cy="99.5" r=".95"/><circle cx="124.4" cy="94.9" r=".95"/><circle cx="124.5" cy="98.6" r=".95"/><circle cx="124.4" cy="93.7" r=".95"/><circle cx="124.5" cy="120.3" r=".95"/><circle cx="124.7" cy="110.4" r=".95"/><circle cx="124.4" cy="100.1" r=".95"/><circle cx="124.5" cy="107.2" r=".95"/><circle cx="124.7" cy="115.1" r=".95"/><circle cx="124.4" cy="77.9" r=".95"/><circle cx="124.2" cy="115.3" r=".95"/><circle cx="124.6" cy="100.4" r=".95"/><circle cx="124.6" cy="108.5" r=".95"/><circle cx="124.5" cy="107.7" r=".95"/><circle cx="124.4" cy="107.7" r=".95"/><circle cx="124.6" cy="105.9" r=".95"/><circle cx="124.3" cy="118.1" r=".95"/><circle cx="124.5" cy="117.8" r=".95"/><circle cx="124.3" cy="103.4" r=".95"/><circle cx="124.4" cy="101.2" r=".95"/><circle cx="124.5" cy="99.4" r=".95"/><circle cx="124.3" cy="98.7" r=".95"/><circle cx="124.6" cy="105.2" r=".95"/><circle cx="124.4" cy="99.5" r=".95"/><circle cx="124.4" cy="105.7" r=".95"/><circle cx="124.7" cy="102.6" r=".95"/><circle cx="124.7" cy="117.0" r=".95"/><circle cx="124.6" cy="118.5" r=".95"/><circle cx="124.6" cy="103.5" r=".95"/><circle cx="124.6" cy="121.8" r=".95"/><circle cx="124.5" cy="110.5" r=".95"/><circle cx="124.2" cy="98.9" r=".95"/><circle cx="124.6" cy="97.9" r=".95"/><circle cx="124.3" cy="118.0" r=".95"/><circle cx="124.6" cy="114.1" r=".95"/><circle cx="124.6" cy="101.2" r=".95"/><circle cx="124.7" cy="119.8" r=".95"/><circle cx="124.6" cy="109.4" r=".95"/><circle cx="124.3" cy="96.9" r=".95"/><circle cx="124.3" cy="98.7" r=".95"/><circle cx="124.4" cy="100.1" r=".95"/><circle cx="124.4" cy="118.3" r=".95"/><circle cx="124.6" cy="120.3" r=".95"/><circle cx="124.6" cy="106.1" r=".95"/><circle cx="124.6" cy="96.9" r=".95"/><circle cx="124.4" cy="116.6" r=".95"/><circle cx="124.6" cy="98.7" r=".95"/><circle cx="124.4" cy="113.1" r=".95"/><circle cx="124.2" cy="118.2" r=".95"/><circle cx="124.5" cy="95.4" r=".95"/><circle cx="124.3" cy="96.1" r=".95"/><circle cx="124.5" cy="95.9" r=".95"/><circle cx="124.6" cy="97.8" r=".95"/><circle cx="124.6" cy="115.9" r=".95"/><circle cx="124.4" cy="103.2" r=".95"/><circle cx="124.5" cy="104.1" r=".95"/><circle cx="124.5" cy="113.7" r=".95"/><circle cx="124.7" cy="118.2" r=".95"/><circle cx="124.7" cy="111.2" r=".95"/><circle cx="124.5" cy="99.4" r=".95"/><circle cx="124.6" cy="116.4" r=".95"/><circle cx="124.4" cy="113.3" r=".95"/><circle cx="124.3" cy="116.2" r=".95"/><circle cx="124.6" cy="104.4" r=".95"/><circle cx="124.6" cy="98.6" r=".95"/><circle cx="124.3" cy="97.6" r=".95"/><circle cx="124.3" cy="89.2" r=".95"/><circle cx="124.5" cy="103.4" r=".95"/><circle cx="124.7" cy="99.6" r=".95"/><circle cx="124.7" cy="105.5" r=".95"/><circle cx="124.2" cy="106.0" r=".95"/><circle cx="124.6" cy="96.4" r=".95"/><circle cx="124.6" cy="99.8" r=".95"/><circle cx="124.5" cy="103.0" r=".95"/><circle cx="124.4" cy="114.3" r=".95"/><circle cx="124.6" cy="109.1" r=".95"/><circle cx="124.7" cy="98.1" r=".95"/><circle cx="124.6" cy="103.1" r=".95"/><circle cx="124.2" cy="101.4" r=".95"/><circle cx="124.4" cy="102.7" r=".95"/><circle cx="124.3" cy="101.4" r=".95"/>
</g>
<g fill="#a000bd" stroke="#a000bd">
<circle cx="124.8" cy="105.5" r=".95"/><circle cx="126.1" cy="89.5" r=".95"/><circle cx="124.8" cy="97.3" r=".95"/><circle cx="124.9" cy="111.9" r=".95"/><circle cx="124.9" cy="101.1" r=".95"/><circle cx="124.8" cy="82.3" r=".95"/><circle cx="126.1" cy="108.2" r=".95"/><circle cx="126.0" cy="117.3" r=".95"/><circle cx="124.7" cy="104.1" r=".95"/><circle cx="124.9" cy="121.7" r=".95"/><circle cx="124.8" cy="94.5" r=".95"/><circle cx="124.9" cy="92.7" r=".95"/><circle cx="124.8" cy="111.2" r=".95"/><circle cx="124.9" cy="115.7" r=".95"/><circle cx="126.1" cy="121.3" r=".95"/><circle cx="126.1" cy="120.3" r=".95"/><circle cx="126.1" cy="118.0" r=".95"/><circle cx="124.9" cy="102.2" r=".95"/><circle cx="124.8" cy="117.6" r=".95"/><circle cx="124.9" cy="114.8" r=".95"/><circle cx="126.1" cy="111.0" r=".95"/><circle cx="124.8" cy="110.8" r=".95"/><circle cx="124.9" cy="91.7" r=".95"/><circle cx="126.0" cy="119.4" r=".95"/><circle cx="124.7" cy="101.5" r=".95"/><circle cx="124.8" cy="101.6" r=".95"/><circle cx="124.8" cy="116.3" r=".95"/><circle cx="126.1" cy="107.6" r=".95"/><circle cx="124.8" cy="96.2" r=".95"/><circle cx="124.8" cy="99.1" r=".95"/>
</g>
<g fill="#a600b7" stroke="#a600b7">
<circle cx="126.4" cy="110.4" r=".95"/><circle cx="126.2" cy="112.3" r=".95"/><circle cx="126.2" cy="107.1" r=".95"/><circle cx="126.2" cy="115.2" r=".95"/><circle cx="126.4" cy="94.2" r=".95"/><circle cx="126.2" cy="111.8" r=".95"/><circle cx="126.4" cy="112.5" r=".95"/><circle cx="126.2" cy="102.9" r=".95"/><circle cx="126.3" cy="110.3" r=".95"/><circle cx="126.5" cy="99.9" r=".95"/><circle cx="126.6" cy="105.7" r=".95"/><circle cx="126.5" cy="110.9" r=".95"/><circle cx="126.2" cy="111.9" r=".95"/><circle cx="126.3" cy="116.0" r=".95"/><circle cx="126.2" cy="109.9" r=".95"/><circle cx="126.3" cy="105.1" r=".95"/><circle cx="126.5" cy="116.5" r=".95"/><circle cx="126.3" cy="114.9" r=".95"/><circle cx="126.4" cy="113.8" r=".95"/><circle cx="126.4" cy="108.7" r=".95"/><circle cx="126.3" cy="113.4" r=".95"/><circle cx="126.5" cy="109.0" r=".95"/><circle cx="126.4" cy="123.2" r=".95"/><circle cx="126.2" cy="119.2" r=".95"/><circle cx="126.3" cy="88.5" r=".95"/><circle cx="126.2" cy="111.1" r=".95"/><circle cx="126.6" cy="117.7" r=".95"/><circle cx="126.3" cy="111.6" r=".95"/>
</g>
<g fill="#ab00b1" stroke="#ab00b1">
<circle cx="128.3" cy="108.3" r=".95"/><circle cx="128.2" cy="112.4" r=".95"/><circle cx="127.8" cy="113.2" r=".95"/><circle cx="127.9" cy="114.1" r=".95"/><circle cx="127.8" cy="109.4" r=".95"/><circle cx="128.1" cy="120.1" r=".95"/><circle cx="127.8" cy="113.5" r=".95"/><circle cx="128.0" cy="106.3" r=".95"/><circle cx="127.9" cy="107.4" r=".95"/><circle cx="128.2" cy="109.3" r=".95"/><circle cx="128.2" cy="112.2" r=".95"/><circle cx="127.9" cy="115.2" r=".95"/><circle cx="128.0" cy="103.7" r=".95"/><circle cx="127.7" cy="119.3" r=".95"/><circle cx="128.3" cy="111.1" r=".95"/><circle cx="128.1" cy="108.0" r=".95"/><circle cx="128.0" cy="115.1" r=".95"/><circle cx="127.7" cy="108.8" r=".95"/><circle cx="128.1" cy="114.5" r=".95"/><circle cx="128.0" cy="111.9" r=".95"/><circle cx="127.9" cy="103.2" r=".95"/><circle cx="128.0" cy="110.4" r=".95"/><circle cx="128.1" cy="117.5" r=".95"/><circle cx="127.8" cy="118.6" r=".95"/><circle cx="128.2" cy="103.2" r=".95"/><circle cx="128.0" cy="109.5" r=".95"/><circle cx="128.0" cy="117.9" r=".95"/><circle cx="128.0" cy="105.8" r=".95"/><circle cx="128.0" cy="115.1" r=".95"/><circle cx="128.0" cy="117.0" r=".95"/><circle cx="127.7" cy="111.0" r=".95"/><circle cx="128.1" cy="117.4" r=".95"/><circle cx="127.7" cy="111.5" r=".95"/><circle cx="128.1" cy="97.7" r=".95"/><circle cx="128.2" cy="111.9" r=".95"/><circle cx="127.9" cy="122.0" r=".95"/><circle cx="128.2" cy="115.0" r=".95"/><circle cx="127.8" cy="114.5" r=".95"/><circle cx="129.2" cy="151.2" r=".95"/><circle cx="129.1" cy="161.2" r=".95"/><circle cx="129.1" cy="146.3" r=".95"/><circle cx="129.2" cy="161.5" r=".95"/><circle cx="129.1" cy="163.6" r=".95"/><circle cx="129.1" cy="139.3" r=".95"/><circle cx="129.1" cy="159.4" r=".95"/><circle cx="129.1" cy="164.4" r=".95"/><circle cx="129.2" cy="158.6" r=".95"/><circle cx="129.2" cy="142.9" r=".95"/><circle cx="129.1" cy="138.4" r=".95"/><circle cx="129.2" cy="152.2" r=".95"/><circle cx="129.2" cy="145.7" r=".95"/><circle cx="129.1" cy="136.5" r=".95"/><circle cx="129.1" cy="158.1" r=".95"/><circle cx="129.1" cy="151.9" r=".95"/><circle cx="129.2" cy="160.5" r=".95"/><circle cx="129.1" cy="154.7" r=".95"/><circle cx="129.2" cy="136.8" r=".95"/><circle cx="129.2" cy="136.7" r=".95"/><circle cx="129.2" cy="139.3" r=".95"/><circle cx="129.2" cy="141.5" r=".95"/><circle cx="129.1" cy="139.5" r=".95"/><circle cx="129.1" cy="161.5" r=".95"/><circle cx="129.2" cy="151.3" r=".95"/><circle cx="129.2" cy="146.6" r=".95"/><circle cx="129.1" cy="156.7" r=".95"/><circle cx="129.1" cy="146.6" r=".95"/><circle cx="129.1" cy="140.5" r=".95"/><circle cx="129.1" cy="152.2" r=".95"/><circle cx="129.2" cy="160.7" r=".95"/><circle cx="129.1" cy="145.7" r=".95"/><circle cx="129.1" cy="141.6" r=".95"/><circle cx="129.2" cy="146.2" r=".95"/><circle cx="129.1" cy="145.9" r=".95"/><circle cx="129.1" cy="148.3" r=".95"/><circle cx="129.1" cy="138.9" r=".95"/>
</g>
<g fill="#b000ab" stroke="#b000ab">
<circle cx="129.6" cy="147.0" r=".95"/><circle cx="131.1" cy="148.3" r=".95"/><circle cx="129.5" cy="137.6" r=".95"/><circle cx="129.5" cy="146.0" r=".95"/><circle cx="131.1" cy="137.4" r=".95"/><circle cx="129.4" cy="147.3" r=".95"/><circle cx="129.4" cy="144.6" r=".95"/><circle cx="130.9" cy="162.8" r=".95"/><circle cx="129.4" cy="159.6" r=".95"/><circle cx="129.3" cy="146.3" r=".95"/><circle cx="129.3" cy="151.1" r=".95"/><circle cx="131.0" cy="160.0" r=".95"/><circle cx="129.6" cy="135.3" r=".95"/><circle cx="129.6" cy="157.7" r=".95"/><circle cx="129.2" cy="147.3" r=".95"/><circle cx="129.2" cy="145.4" r=".95"/><circle cx="129.4" cy="146.4" r=".95"/><circle cx="129.6" cy="158.5" r=".95"/><circle cx="129.5" cy="145.0" r=".95"/><circle cx="129.6" cy="138.8" r=".95"/><circle cx="129.2" cy="139.7" r=".95"/><circle cx="129.4" cy="159.9" r=".95"/><circle cx="129.2" cy="146.0" r=".95"/><circle cx="129.4" cy="141.8" r=".95"/><circle cx="131.0" cy="146.1" r=".95"/><circle cx="129.7" cy="135.3" r=".95"/><circle cx="129.4" cy="152.2" r=".95"/><circle cx="129.4" cy="149.9" r=".95"/><circle cx="131.0" cy="143.4" r=".95"/><circle cx="129.6" cy="161.8" r=".95"/><circle cx="129.7" cy="147.2" r=".95"/><circle cx="129.6" cy="146.0" r=".95"/><circle cx="131.2" cy="138.3" r=".95"/><circle cx="129.5" cy="148.9" r=".95"/><circle cx="130.8" cy="141.0" r=".95"/><circle cx="129.3" cy="139.3" r=".95"/><circle cx="129.3" cy="161.4" r=".95"/><circle cx="129.7" cy="142.8" r=".95"/><circle cx="129.5" cy="137.0" r=".95"/><circle cx="129.2" cy="141.2" r=".95"/><circle cx="129.3" cy="136.4" r=".95"/><circle cx="129.4" cy="150.2" r=".95"/><circle cx="129.7" cy="145.0" r=".95"/><circle cx="129.5" cy="154.6" r=".95"/><circle cx="129.6" cy="144.6" r=".95"/><circle cx="129.3" cy="139.0" r=".95"/><circle cx="130.9" cy="137.1" r=".95"/><circle cx="131.0" cy="141.0" r=".95"/><circle cx="129.6" cy="160.0" r=".95"/><circle cx="129.5" cy="151.2" r=".95"/><circle cx="129.5" cy="147.2" r=".95"/><circle cx="131.0" cy="154.7" r=".95"/><circle cx="129.4" cy="136.4" r=".95"/><circle cx="129.7" cy="150.3" r=".95"/><circle cx="131.1" cy="160.0" r=".95"/><circle cx="129.5" cy="145.6" r=".95"/><circle cx="131.0" cy="161.4" r=".95"/><circle cx="130.9" cy="161.8" r=".95"/><circle cx="129.4" cy="147.9" r=".95"/><circle cx="129.7" cy="146.4" r=".95"/><circle cx="129.6" cy="155.7" r=".95"/><circle cx="129.4" cy="145.9" r=".95"/><circle cx="129.4" cy="151.3" r=".95"/><circle cx="130.9" cy="151.3" r=".95"/><circle cx="131.0" cy="151.0" r=".95"/><circle cx="129.5" cy="149.7" r=".95"/><circle cx="131.2" cy="160.3" r=".95"/><circle cx="129.3" cy="143.3" r=".95"/><circle cx="130.9" cy="143.9" r=".95"/><circle cx="129.6" cy="141.0" r=".95"/><circle cx="129.5" cy="140.9" r=".95"/><circle cx="129.4" cy="146.7" r=".95"/><circle cx="129.4" cy="147.7" r=".95"/><circle cx="129.4" cy="138.6" r=".95"/><circle cx="129.4" cy="146.0" r=".95"/><circle cx="129.4" cy="147.5" r=".95"/><circle cx="129.3" cy="143.4" r=".95"/><circle cx="129.5" cy="143.0" r=".95"/><circle cx="129.4" cy="148.8" r=".95"/><circle cx="129.3" cy="147.5" r=".95"/><circle cx="131.2" cy="146.5" r=".95"/><circle cx="129.5" cy="139.4" r=".95"/><circle cx="129.3" cy="154.3" r=".95"/><circle cx="131.1" cy="135.2" r=".95"/><circle cx="129.5" cy="162.9" r=".95"/><circle cx="129.6" cy="149.9" r=".95"/><circle cx="129.4" cy="151.7" r=".95"/><circle cx="129.4" cy="136.7" r=".95"/><circle cx="129.4" cy="160.6" r=".95"/><circle cx="130.8" cy="147.1" r=".95"/><circle cx="129.7" cy="155.5" r=".95"/><circle cx="129.6" cy="145.6" r=".95"/><circle cx="129.6" cy="141.5" r=".95"/><circle cx="131.2" cy="152.0" r=".95"/><circle cx="130.9" cy="162.3" r=".95"/><circle cx="129.2" cy="148.5" r=".95"/><circle cx="129.4" cy="136.6" r=".95"/><circle cx="129.5" cy="150.6" r=".95"/><circle cx="129.3" cy="140.5" r=".95"/><circle cx="129.4" cy="159.8" r=".95"/><circle cx="129.5" cy="147.8" r=".95"/><circle cx="130.8" cy="158.8" r=".95"/><circle cx="129.4" cy="159.0" r=".95"/><circle cx="129.2" cy="143.7" r=".95"/><circle cx="129.7" cy="162.0" r=".95"/><circle cx="129.6" cy="137.9" r=".95"/><circle cx="129.5" cy="147.3" r=".95"/><circle cx="130.9" cy="158.3" r=".95"/><circle cx="129.7" cy="160.7" r=".95"/><circle cx="129.7" cy="141.9" r=".95"/><circle cx="129.6" cy="151.8" r=".95"/><circle cx="129.3" cy="147.5" r=".95"/><circle cx="129.6" cy="143.1" r=".95"/><circle cx="131.2" cy="163.7" r=".95"/><circle cx="130.9" cy="153.6" r=".95"/><circle cx="130.9" cy="141.1" r=".95"/><circle cx="131.0" cy="151.8" r=".95"/><circle cx="129.6" cy="147.9" r=".95"/><circle cx="129.3" cy="163.3" r=".95"/><circle cx="129.7" cy="146.7" r=".95"/><circle cx="129.4" cy="152.0" r=".95"/><circle cx="129.2" cy="158.3" r=".95"/><circle cx="129.3" cy="156.9" r=".95"/><circle cx="129.5" cy="163.5" r=".95"/><circle cx="129.4" cy="146.0" r=".95"/><circle cx="130.8" cy="152.6" r=".95"/><circle cx="129.5" cy="148.7" r=".95"/><circle cx="131.2" cy="155.1" r=".95"/><circle cx="129.6" cy="136.3" r=".95"/><circle cx="129.3" cy="155.7" r=".95"/><circle cx="129.5" cy="138.0" r=".95"/><circle cx="129.5" cy="138.4" r=".95"/><circle cx="129.5" cy="141.7" r=".95"/><circle cx="129.3" cy="158.7" r=".95"/><circle cx="129.5" cy="140.3" r=".95"/><circle cx="130.9" cy="149.0" r=".95"/><circle cx="131.2" cy="140.2" r=".95"/><circle cx="131.1" cy="136.1" r=".95"/><circle cx="130.8" cy="154.5" r=".95"/><circle cx="129.4" cy="163.7" r=".95"/><circle cx="130.9" cy="146.0" r=".95"/><circle cx="131.1" cy="149.0" r=".95"/><circle cx="129.5" cy="137.8" r=".95"/><circle cx="129.5" cy="150.6" r=".95"/><circle cx="130.9" cy="142.4" r=".95"/><circle cx="129.3" cy="159.3" r=".95"/><circle cx="129.7" cy="162.1" r=".95"/><circle cx="129.6" cy="141.9" r=".95"/><circle cx="129.6" cy="135.6" r=".95"/><circle cx="129.3" cy="162.3" r=".95"/><circle cx="129.3" cy="158.0" r=".95"/><circle cx="129.7" cy="161.0" r=".95"/><circle cx="131.2" cy="155.6" r=".95"/><circle cx="129.3" cy="154.6" r=".95"/><circle cx="129.4" cy="148.4" r=".95"/><circle cx="129.6" cy="155.5" r=".95"/><circle cx="129.3" cy="152.9" r=".95"/><circle cx="129.3" cy="142.4" r=".95"/><circle cx="129.6" cy="162.0" r=".95"/><circle cx="129.6" cy="143.5" r=".95"/><circle cx="129.2" cy="157.7" r=".95"/><circle cx="130.9" cy="146.5" r=".95"/><circle cx="131.0" cy="155.4" r=".95"/><circle cx="131.0" cy="149.0" r=".95"/><circle cx="129.4" cy="142.1" r=".95"/><circle cx="129.2" cy="136.8" r=".95"/><circle cx="129.5" cy="141.3" r=".95"/><circle cx="129.7" cy="154.7" r=".95"/><circle cx="129.6" cy="143.8" r=".95"/><circle cx="129.3" cy="138.4" r=".95"/><circle cx="130.8" cy="159.5" r=".95"/><circle cx="130.9" cy="130.8" r=".95"/><circle cx="130.7" cy="132.5" r=".95"/>
</g>
<g fill="#b500a5" stroke="#b500a5">
<circle cx="131.4" cy="150.3" r=".95"/><circle cx="132.8" cy="141.3" r=".95"/><circle cx="133.0" cy="152.4" r=".95"/><circle cx="133.0" cy="148.8" r=".95"/><circle cx="132.7" cy="140.2" r=".95"/><circle cx="132.7" cy="163.3" r=".95"/><circle cx="132.7" cy="161.5" r=".95"/><circle cx="131.3" cy="161.2" r=".95"/><circle cx="132.6" cy="160.3" r=".95"/><circle cx="132.7" cy="143.9" r=".95"/><circle cx="131.4" cy="145.1" r=".95"/><circle cx="132.5" cy="143.9" r=".95"/><circle cx="132.8" cy="135.3" r=".95"/><circle cx="132.8" cy="142.2" r=".95"/><circle cx="133.0" cy="153.8" r=".95"/><circle cx="132.7" cy="147.3" r=".95"/><circle cx="133.0" cy="163.1" r=".95"/><circle cx="132.6" cy="138.6" r=".95"/><circle cx="131.3" cy="150.5" r=".95"/><circle cx="132.5" cy="158.8" r=".95"/><circle cx="132.5" cy="156.3" r=".95"/><circle cx="132.7" cy="150.9" r=".95"/><circle cx="132.9" cy="153.9" r=".95"/><circle cx="133.0" cy="146.7" r=".95"/><circle cx="133.0" cy="160.2" r=".95"/><circle cx="133.0" cy="160.1" r=".95"/><circle cx="132.5" cy="135.4" r=".95"/><circle cx="132.8" cy="155.4" r=".95"/><circle cx="132.9" cy="157.5" r=".95"/><circle cx="132.9" cy="138.3" r=".95"/><circle cx="132.7" cy="139.1" r=".95"/><circle cx="132.7" cy="149.2" r=".95"/><circle cx="132.6" cy="152.2" r=".95"/><circle cx="131.3" cy="155.9" r=".95"/><circle cx="133.0" cy="148.7" r=".95"/><circle cx="131.3" cy="151.3" r=".95"/><circle cx="132.8" cy="157.8" r=".95"/><circle cx="131.3" cy="142.9" r=".95"/><circle cx="132.5" cy="156.8" r=".95"/><circle cx="133.0" cy="143.2" r=".95"/><circle cx="131.4" cy="136.5" r=".95"/><circle cx="132.9" cy="142.6" r=".95"/><circle cx="133.0" cy="160.5" r=".95"/><circle cx="132.7" cy="152.7" r=".95"/><circle cx="133.0" cy="139.2" r=".95"/><circle cx="132.8" cy="162.5" r=".95"/><circle cx="132.5" cy="151.6" r=".95"/><circle cx="132.7" cy="143.4" r=".95"/><circle cx="132.9" cy="135.4" r=".95"/><circle cx="133.0" cy="159.3" r=".95"/><circle cx="133.0" cy="158.2" r=".95"/><circle cx="132.9" cy="146.2" r=".95"/><circle cx="132.8" cy="138.9" r=".95"/><circle cx="133.0" cy="152.9" r=".95"/><circle cx="132.8" cy="142.6" r=".95"/><circle cx="132.6" cy="140.2" r=".95"/><circle cx="132.5" cy="152.5" r=".95"/><circle cx="132.7" cy="160.9" r=".95"/><circle cx="131.3" cy="138.2" r=".95"/><circle cx="132.9" cy="152.6" r=".95"/><circle cx="131.4" cy="144.1" r=".95"/><circle cx="132.9" cy="139.9" r=".95"/><circle cx="132.6" cy="156.8" r=".95"/><circle cx="132.5" cy="138.0" r=".95"/><circle cx="132.6" cy="145.3" r=".95"/><circle cx="132.9" cy="157.0" r=".95"/><circle cx="131.3" cy="159.7" r=".95"/><circle cx="132.8" cy="156.8" r=".95"/><circle cx="132.5" cy="149.3" r=".95"/><circle cx="132.6" cy="158.4" r=".95"/><circle cx="131.4" cy="145.3" r=".95"/><circle cx="133.1" cy="133.3" r=".95"/><circle cx="132.7" cy="131.4" r=".95"/><circle cx="131.8" cy="134.1" r=".95"/><circle cx="133.1" cy="131.7" r=".95"/>
</g>
<g fill="#ba009f" stroke="#ba009f">
<circle cx="134.2" cy="145.0" r=".95"/><circle cx="134.3" cy="144.4" r=".95"/><circle cx="134.2" cy="142.0" r=".95"/><circle cx="134.3" cy="149.0" r=".95"/><circle cx="134.5" cy="154.8" r=".95"/><circle cx="134.1" cy="149.3" r=".95"/><circle cx="134.2" cy="136.9" r=".95"/><circle cx="134.6" cy="151.1" r=".95"/><circle cx="134.6" cy="158.7" r=".95"/><circle cx="134.3" cy="139.6" r=".95"/><circle cx="134.2" cy="144.7" r=".95"/><circle cx="134.0" cy="136.7" r=".95"/><circle cx="134.6" cy="141.6" r=".95"/><circle cx="134.2" cy="149.2" r=".95"/><circle cx="134.5" cy="149.7" r=".95"/><circle cx="134.2" cy="160.2" r=".95"/><circle cx="134.7" cy="152.2" r=".95"/><circle cx="134.3" cy="152.9" r=".95"/><circle cx="134.6" cy="159.9" r=".95"/><circle cx="134.1" cy="143.6" r=".95"/><circle cx="134.7" cy="154.7" r=".95"/><circle cx="134.7" cy="148.2" r=".95"/><circle cx="134.2" cy="154.2" r=".95"/><circle cx="134.3" cy="142.5" r=".95"/><circle cx="134.3" cy="159.2" r=".95"/><circle cx="134.2" cy="141.3" r=".95"/><circle cx="134.3" cy="162.2" r=".95"/><circle cx="134.2" cy="152.3" r=".95"/><circle cx="134.2" cy="147.1" r=".95"/><circle cx="134.2" cy="140.2" r=".95"/><circle cx="134.6" cy="162.7" r=".95"/><circle cx="134.1" cy="155.2" r=".95"/><circle cx="134.4" cy="147.8" r=".95"/><circle cx="134.1" cy="158.0" r=".95"/><circle cx="134.3" cy="142.3" r=".95"/><circle cx="134.1" cy="149.5" r=".95"/><circle cx="134.2" cy="138.3" r=".95"/><circle cx="134.3" cy="150.4" r=".95"/><circle cx="134.4" cy="162.4" r=".95"/><circle cx="134.2" cy="145.0" r=".95"/><circle cx="134.7" cy="136.2" r=".95"/><circle cx="134.3" cy="162.4" r=".95"/><circle cx="134.6" cy="139.5" r=".95"/><circle cx="134.6" cy="160.4" r=".95"/><circle cx="134.4" cy="149.9" r=".95"/><circle cx="134.5" cy="151.0" r=".95"/><circle cx="134.2" cy="161.9" r=".95"/><circle cx="134.4" cy="154.0" r=".95"/><circle cx="134.3" cy="160.8" r=".95"/><circle cx="134.7" cy="137.7" r=".95"/><circle cx="134.4" cy="145.2" r=".95"/><circle cx="134.1" cy="141.8" r=".95"/><circle cx="134.1" cy="138.6" r=".95"/><circle cx="134.5" cy="160.8" r=".95"/><circle cx="134.2" cy="141.3" r=".95"/><circle cx="134.4" cy="135.4" r=".95"/><circle cx="134.6" cy="142.9" r=".95"/><circle cx="134.2" cy="142.0" r=".95"/><circle cx="134.3" cy="162.1" r=".95"/><circle cx="134.5" cy="146.7" r=".95"/><circle cx="134.4" cy="144.8" r=".95"/><circle cx="134.1" cy="139.8" r=".95"/><circle cx="134.2" cy="162.4" r=".95"/><circle cx="134.2" cy="136.9" r=".95"/><circle cx="134.7" cy="162.5" r=".95"/><circle cx="134.5" cy="138.9" r=".95"/><circle cx="134.2" cy="136.9" r=".95"/><circle cx="134.5" cy="151.5" r=".95"/><circle cx="134.3" cy="145.4" r=".95"/><circle cx="134.6" cy="161.5" r=".95"/><circle cx="134.2" cy="148.0" r=".95"/><circle cx="134.2" cy="138.8" r=".95"/><circle cx="134.2" cy="143.0" r=".95"/><circle cx="134.1" cy="152.0" r=".95"/><circle cx="134.5" cy="135.5" r=".95"/><circle cx="134.4" cy="153.1" r=".95"/><circle cx="134.5" cy="135.4" r=".95"/><circle cx="134.4" cy="146.9" r=".95"/><circle cx="134.6" cy="151.5" r=".95"/><circle cx="134.6" cy="142.9" r=".95"/><circle cx="134.3" cy="140.3" r=".95"/><circle cx="134.2" cy="153.1" r=".95"/><circle cx="134.5" cy="160.7" r=".95"/><circle cx="134.3" cy="152.2" r=".95"/><circle cx="134.3" cy="139.3" r=".95"/><circle cx="134.1" cy="154.8" r=".95"/><circle cx="134.4" cy="141.6" r=".95"/><circle cx="134.2" cy="151.0" r=".95"/><circle cx="134.4" cy="136.7" r=".95"/><circle cx="134.5" cy="138.5" r=".95"/><circle cx="134.1" cy="146.8" r=".95"/><circle cx="134.3" cy="153.5" r=".95"/><circle cx="134.5" cy="162.8" r=".95"/><circle cx="134.1" cy="139.0" r=".95"/><circle cx="134.5" cy="145.7" r=".95"/>
</g>
<g fill="#be009a" stroke="#be009a">
<circle cx="135.9" cy="140.5" r=".95"/><circle cx="136.3" cy="146.6" r=".95"/><circle cx="135.9" cy="146.6" r=".95"/><circle cx="136.0" cy="135.6" r=".95"/><circle cx="136.1" cy="139.6" r=".95"/><circle cx="135.8" cy="143.2" r=".95"/><circle cx="136.0" cy="150.0" r=".95"/><circle cx="136.2" cy="143.8" r=".95"/><circle cx="136.1" cy="146.3" r=".95"/><circle cx="136.3" cy="139.5" r=".95"/><circle cx="136.3" cy="137.5" r=".95"/><circle cx="135.9" cy="136.1" r=".95"/><circle cx="136.3" cy="137.3" r=".95"/><circle cx="136.0" cy="141.7" r=".95"/><circle cx="136.2" cy="148.0" r=".95"/><circle cx="136.3" cy="148.9" r=".95"/><circle cx="135.8" cy="138.9" r=".95"/><circle cx="136.0" cy="143.6" r=".95"/><circle cx="136.4" cy="160.6" r=".95"/><circle cx="136.2" cy="154.8" r=".95"/><circle cx="136.4" cy="141.6" r=".95"/><circle cx="136.3" cy="139.4" r=".95"/><circle cx="135.9" cy="161.2" r=".95"/><circle cx="135.8" cy="160.3" r=".95"/><circle cx="136.1" cy="161.4" r=".95"/><circle cx="135.8" cy="155.0" r=".95"/><circle cx="136.0" cy="137.9" r=".95"/><circle cx="136.3" cy="150.3" r=".95"/><circle cx="136.2" cy="140.4" r=".95"/><circle cx="136.0" cy="137.1" r=".95"/><circle cx="136.0" cy="141.2" r=".95"/><circle cx="135.9" cy="148.4" r=".95"/><circle cx="135.9" cy="162.0" r=".95"/><circle cx="136.4" cy="147.8" r=".95"/><circle cx="136.2" cy="162.1" r=".95"/><circle cx="135.9" cy="140.1" r=".95"/><circle cx="136.3" cy="140.2" r=".95"/><circle cx="136.4" cy="154.5" r=".95"/><circle cx="136.1" cy="161.0" r=".95"/><circle cx="136.1" cy="149.1" r=".95"/><circle cx="136.2" cy="143.6" r=".95"/><circle cx="136.0" cy="142.2" r=".95"/><circle cx="136.3" cy="146.9" r=".95"/><circle cx="136.2" cy="153.2" r=".95"/><circle cx="136.0" cy="141.0" r=".95"/><circle cx="136.1" cy="138.0" r=".95"/><circle cx="136.0" cy="143.0" r=".95"/><circle cx="136.2" cy="138.8" r=".95"/><circle cx="136.0" cy="135.1" r=".95"/><circle cx="135.8" cy="149.3" r=".95"/><circle cx="136.1" cy="144.0" r=".95"/><circle cx="136.0" cy="139.7" r=".95"/><circle cx="136.4" cy="153.2" r=".95"/><circle cx="137.3" cy="132.3" r=".95"/><circle cx="135.7" cy="134.8" r=".95"/><circle cx="136.1" cy="135.7" r=".95"/><circle cx="136.4" cy="135.2" r=".95"/><circle cx="135.9" cy="134.7" r=".95"/>
</g>
<g fill="#c20094" stroke="#c20094">
<circle cx="137.7" cy="146.9" r=".95"/><circle cx="137.9" cy="157.5" r=".95"/><circle cx="138.0" cy="148.5" r=".95"/><circle cx="137.8" cy="143.2" r=".95"/><circle cx="137.5" cy="144.5" r=".95"/><circle cx="137.7" cy="139.0" r=".95"/><circle cx="137.6" cy="148.7" r=".95"/><circle cx="137.6" cy="148.6" r=".95"/><circle cx="137.8" cy="152.9" r=".95"/><circle cx="137.8" cy="137.8" r=".95"/><circle cx="137.9" cy="153.9" r=".95"/><circle cx="137.7" cy="143.9" r=".95"/><circle cx="138.0" cy="151.4" r=".95"/><circle cx="137.6" cy="159.6" r=".95"/><circle cx="137.9" cy="152.0" r=".95"/><circle cx="137.5" cy="150.3" r=".95"/><circle cx="137.7" cy="149.4" r=".95"/><circle cx="137.9" cy="155.3" r=".95"/><circle cx="137.9" cy="148.2" r=".95"/><circle cx="137.6" cy="155.9" r=".95"/><circle cx="137.8" cy="159.0" r=".95"/><circle cx="138.0" cy="161.3" r=".95"/><circle cx="137.9" cy="144.7" r=".95"/><circle cx="137.9" cy="148.1" r=".95"/><circle cx="137.5" cy="146.1" r=".95"/><circle cx="137.9" cy="150.3" r=".95"/><circle cx="138.0" cy="148.7" r=".95"/><circle cx="137.6" cy="135.2" r=".95"/><circle cx="137.8" cy="143.0" r=".95"/><circle cx="137.7" cy="156.0" r=".95"/><circle cx="137.8" cy="142.2" r=".95"/><circle cx="137.7" cy="140.0" r=".95"/><circle cx="138.0" cy="135.8" r=".95"/><circle cx="138.0" cy="155.6" r=".95"/><circle cx="137.7" cy="141.8" r=".95"/><circle cx="137.9" cy="154.7" r=".95"/><circle cx="137.9" cy="161.3" r=".95"/><circle cx="137.9" cy="147.7" r=".95"/><circle cx="137.9" cy="151.6" r=".95"/><circle cx="137.8" cy="142.1" r=".95"/><circle cx="137.9" cy="160.8" r=".95"/><circle cx="138.0" cy="139.1" r=".95"/><circle cx="138.0" cy="152.3" r=".95"/><circle cx="139.1" cy="140.1" r=".95"/><circle cx="139.2" cy="149.2" r=".95"/><circle cx="139.2" cy="137.9" r=".95"/><circle cx="139.0" cy="152.1" r=".95"/><circle cx="138.9" cy="135.7" r=".95"/><circle cx="139.3" cy="142.5" r=".95"/><circle cx="139.0" cy="144.6" r=".95"/><circle cx="139.3" cy="153.1" r=".95"/><circle cx="139.4" cy="140.8" r=".95"/><circle cx="139.2" cy="153.6" r=".95"/><circle cx="139.3" cy="142.5" r=".95"/><circle cx="139.1" cy="158.2" r=".95"/><circle cx="139.0" cy="136.4" r=".95"/><circle cx="139.2" cy="156.1" r=".95"/><circle cx="139.0" cy="135.8" r=".95"/><circle cx="138.9" cy="149.2" r=".95"/><circle cx="139.0" cy="146.2" r=".95"/><circle cx="139.3" cy="144.7" r=".95"/><circle cx="138.9" cy="145.2" r=".95"/><circle cx="139.2" cy="155.8" r=".95"/><circle cx="139.2" cy="150.3" r=".95"/><circle cx="139.1" cy="143.4" r=".95"/><circle cx="139.3" cy="143.9" r=".95"/><circle cx="139.3" cy="153.0" r=".95"/><circle cx="139.3" cy="136.3" r=".95"/><circle cx="139.2" cy="148.7" r=".95"/><circle cx="139.0" cy="136.1" r=".95"/><circle cx="139.3" cy="139.6" r=".95"/><circle cx="139.3" cy="142.6" r=".95"/><circle cx="138.9" cy="147.6" r=".95"/><circle cx="139.0" cy="140.8" r=".95"/><circle cx="139.1" cy="145.5" r=".95"/><circle cx="139.0" cy="142.2" r=".95"/><circle cx="139.2" cy="139.8" r=".95"/><circle cx="138.9" cy="156.9" r=".95"/><circle cx="139.0" cy="135.7" r=".95"/><circle cx="139.1" cy="136.7" r=".95"/><circle cx="139.2" cy="152.2" r=".95"/><circle cx="138.9" cy="154.4" r=".95"/><circle cx="139.0" cy="155.4" r=".95"/><circle cx="139.1" cy="156.8" r=".95"/><circle cx="139.4" cy="154.2" r=".95"/><circle cx="139.0" cy="141.7" r=".95"/><circle cx="139.2" cy="156.2" r=".95"/><circle cx="139.3" cy="154.7" r=".95"/><circle cx="139.1" cy="160.7" r=".95"/><circle cx="139.4" cy="136.0" r=".95"/><circle cx="139.3" cy="156.3" r=".95"/><circle cx="139.3" cy="144.5" r=".95"/><circle cx="139.3" cy="150.5" r=".95"/><circle cx="139.0" cy="148.6" r=".95"/><circle cx="139.1" cy="149.3" r=".95"/><circle cx="139.1" cy="152.0" r=".95"/><circle cx="139.4" cy="156.8" r=".95"/><circle cx="139.1" cy="154.7" r=".95"/><circle cx="139.3" cy="136.9" r=".95"/><circle cx="139.1" cy="155.0" r=".95"/><circle cx="139.4" cy="153.4" r=".95"/><circle cx="139.3" cy="158.4" r=".95"/><circle cx="139.2" cy="153.3" r=".95"/><circle cx="139.4" cy="141.6" r=".95"/><circle cx="139.3" cy="145.2" r=".95"/><circle cx="139.0" cy="136.9" r=".95"/><circle cx="139.4" cy="138.6" r=".95"/><circle cx="139.0" cy="151.3" r=".95"/><circle cx="139.2" cy="151.3" r=".95"/><circle cx="139.3" cy="148.6" r=".95"/><circle cx="139.3" cy="151.2" r=".95"/><circle cx="139.4" cy="155.5" r=".95"/><circle cx="139.0" cy="145.1" r=".95"/><circle cx="139.1" cy="151.2" r=".95"/><circle cx="138.9" cy="158.7" r=".95"/><circle cx="139.3" cy="155.8" r=".95"/><circle cx="139.3" cy="158.3" r=".95"/><circle cx="139.2" cy="151.6" r=".95"/><circle cx="139.1" cy="154.9" r=".95"/><circle cx="139.0" cy="153.0" r=".95"/><circle cx="139.3" cy="155.8" r=".95"/><circle cx="139.1" cy="158.1" r=".95"/><circle cx="138.9" cy="150.6" r=".95"/><circle cx="139.2" cy="158.5" r=".95"/><circle cx="139.3" cy="135.5" r=".95"/><circle cx="139.2" cy="143.1" r=".95"/><circle cx="139.1" cy="142.0" r=".95"/><circle cx="139.0" cy="153.2" r=".95"/><circle cx="139.3" cy="136.9" r=".95"/><circle cx="139.3" cy="140.5" r=".95"/><circle cx="139.1" cy="138.4" r=".95"/><circle cx="139.2" cy="159.8" r=".95"/><circle cx="139.3" cy="147.0" r=".95"/><circle cx="139.0" cy="157.2" r=".95"/><circle cx="139.3" cy="143.4" r=".95"/><circle cx="139.1" cy="145.8" r=".95"/><circle cx="139.1" cy="143.8" r=".95"/><circle cx="139.3" cy="154.1" r=".95"/><circle cx="139.2" cy="140.5" r=".95"/><circle cx="139.4" cy="142.6" r=".95"/><circle cx="139.0" cy="146.7" r=".95"/><circle cx="139.2" cy="145.7" r=".95"/><circle cx="139.1" cy="134.8" r=".95"/><circle cx="139.3" cy="145.0" r=".95"/><circle cx="139.3" cy="160.4" r=".95"/><circle cx="139.0" cy="138.3" r=".95"/><circle cx="139.3" cy="143.2" r=".95"/><circle cx="139.2" cy="145.9" r=".95"/><circle cx="138.9" cy="139.9" r=".95"/><circle cx="139.1" cy="144.3" r=".95"/><circle cx="139.2" cy="158.4" r=".95"/><circle cx="139.0" cy="145.4" r=".95"/><circle cx="137.4" cy="131.2" r=".95"/><circle cx="138.0" cy="131.8" r=".95"/>
</g>
<g fill="#c6008e" stroke="#c6008e">
<circle cx="139.4" cy="139.1" r=".95"/><circle cx="139.5" cy="159.9" r=".95"/><circle cx="140.8" cy="148.3" r=".95"/><circle cx="140.6" cy="141.7" r=".95"/><circle cx="140.9" cy="142.1" r=".95"/><circle cx="140.9" cy="152.4" r=".95"/><circle cx="139.4" cy="150.8" r=".95"/><circle cx="139.4" cy="143.1" r=".95"/><circle cx="141.1" cy="149.0" r=".95"/><circle cx="141.1" cy="158.4" r=".95"/><circle cx="139.4" cy="154.7" r=".95"/><circle cx="140.6" cy="135.2" r=".95"/><circle cx="141.0" cy="150.8" r=".95"/><circle cx="140.9" cy="146.6" r=".95"/><circle cx="140.6" cy="139.9" r=".95"/><circle cx="140.8" cy="153.6" r=".95"/><circle cx="140.9" cy="150.0" r=".95"/><circle cx="141.1" cy="158.9" r=".95"/><circle cx="139.4" cy="146.5" r=".95"/><circle cx="140.9" cy="152.5" r=".95"/><circle cx="141.1" cy="136.5" r=".95"/><circle cx="139.4" cy="158.6" r=".95"/><circle cx="141.0" cy="157.6" r=".95"/><circle cx="139.4" cy="150.4" r=".95"/><circle cx="141.0" cy="154.7" r=".95"/><circle cx="141.0" cy="148.8" r=".95"/><circle cx="141.1" cy="152.5" r=".95"/><circle cx="141.1" cy="137.3" r=".95"/><circle cx="140.6" cy="137.3" r=".95"/><circle cx="140.9" cy="147.1" r=".95"/><circle cx="141.0" cy="157.8" r=".95"/><circle cx="139.5" cy="138.7" r=".95"/><circle cx="140.8" cy="149.5" r=".95"/><circle cx="140.9" cy="152.6" r=".95"/><circle cx="140.8" cy="151.3" r=".95"/><circle cx="139.4" cy="135.7" r=".95"/><circle cx="141.2" cy="138.6" r=".95"/><circle cx="139.5" cy="156.4" r=".95"/><circle cx="141.1" cy="148.2" r=".95"/><circle cx="140.7" cy="156.7" r=".95"/><circle cx="139.4" cy="159.1" r=".95"/><circle cx="141.0" cy="139.6" r=".95"/><circle cx="139.4" cy="152.3" r=".95"/><circle cx="140.7" cy="150.1" r=".95"/><circle cx="141.0" cy="151.0" r=".95"/><circle cx="140.7" cy="137.7" r=".95"/><circle cx="140.8" cy="151.7" r=".95"/><circle cx="141.1" cy="149.1" r=".95"/><circle cx="140.9" cy="154.8" r=".95"/><circle cx="140.9" cy="150.2" r=".95"/><circle cx="139.4" cy="147.5" r=".95"/><circle cx="140.6" cy="157.0" r=".95"/><circle cx="141.1" cy="138.9" r=".95"/><circle cx="141.1" cy="159.4" r=".95"/><circle cx="139.5" cy="158.8" r=".95"/><circle cx="140.8" cy="154.2" r=".95"/><circle cx="139.4" cy="145.6" r=".95"/><circle cx="140.9" cy="144.9" r=".95"/><circle cx="139.5" cy="157.0" r=".95"/><circle cx="140.9" cy="159.3" r=".95"/><circle cx="140.9" cy="142.1" r=".95"/><circle cx="141.1" cy="152.5" r=".95"/><circle cx="140.8" cy="157.2" r=".95"/><circle cx="141.1" cy="146.9" r=".95"/><circle cx="139.5" cy="143.7" r=".95"/><circle cx="141.1" cy="153.8" r=".95"/><circle cx="140.7" cy="138.6" r=".95"/><circle cx="140.7" cy="148.4" r=".95"/><circle cx="139.5" cy="141.5" r=".95"/><circle cx="141.0" cy="144.7" r=".95"/><circle cx="140.8" cy="142.2" r=".95"/><circle cx="139.4" cy="153.3" r=".95"/><circle cx="139.4" cy="147.3" r=".95"/><circle cx="140.7" cy="150.8" r=".95"/><circle cx="141.0" cy="139.1" r=".95"/><circle cx="140.9" cy="147.9" r=".95"/><circle cx="140.8" cy="146.4" r=".95"/><circle cx="140.7" cy="137.3" r=".95"/><circle cx="141.2" cy="158.3" r=".95"/><circle cx="140.6" cy="151.4" r=".95"/><circle cx="140.7" cy="140.1" r=".95"/><circle cx="140.7" cy="157.8" r=".95"/><circle cx="139.5" cy="132.8" r=".95"/><circle cx="141.2" cy="135.1" r=".95"/><circle cx="139.7" cy="133.1" r=".95"/><circle cx="140.9" cy="132.6" r=".95"/><circle cx="140.6" cy="135.5" r=".95"/>
</g>
<g fill="#ca0088" stroke="#ca0088">
<circle cx="142.7" cy="147.4" r=".95"/><circle cx="142.3" cy="159.2" r=".95"/><circle cx="142.5" cy="156.9" r=".95"/><circle cx="142.8" cy="153.1" r=".95"/><circle cx="142.6" cy="153.9" r=".95"/><circle cx="142.3" cy="157.0" r=".95"/><circle cx="142.7" cy="149.8" r=".95"/><circle cx="142.7" cy="138.6" r=".95"/><circle cx="142.8" cy="140.0" r=".95"/><circle cx="142.3" cy="154.1" r=".95"/><circle cx="142.6" cy="155.6" r=".95"/><circle cx="142.4" cy="139.7" r=".95"/><circle cx="142.8" cy="142.5" r=".95"/><circle cx="142.4" cy="139.8" r=".95"/><circle cx="142.6" cy="144.4" r=".95"/><circle cx="142.6" cy="148.6" r=".95"/><circle cx="142.7" cy="136.3" r=".95"/><circle cx="142.6" cy="139.2" r=".95"/><circle cx="142.4" cy="157.6" r=".95"/><circle cx="142.7" cy="155.3" r=".95"/><circle cx="142.8" cy="135.0" r=".95"/><circle cx="142.8" cy="148.0" r=".95"/><circle cx="142.6" cy="135.8" r=".95"/><circle cx="142.8" cy="141.9" r=".95"/><circle cx="142.8" cy="142.9" r=".95"/><circle cx="142.7" cy="143.1" r=".95"/><circle cx="142.5" cy="138.7" r=".95"/><circle cx="142.5" cy="145.3" r=".95"/><circle cx="142.5" cy="138.1" r=".95"/><circle cx="142.8" cy="154.6" r=".95"/><circle cx="142.4" cy="139.3" r=".95"/><circle cx="142.5" cy="145.0" r=".95"/><circle cx="142.5" cy="135.6" r=".95"/><circle cx="142.4" cy="137.7" r=".95"/><circle cx="142.3" cy="146.8" r=".95"/><circle cx="142.4" cy="143.9" r=".95"/><circle cx="142.6" cy="144.9" r=".95"/><circle cx="142.6" cy="157.7" r=".95"/><circle cx="142.7" cy="146.8" r=".95"/><circle cx="142.7" cy="137.2" r=".95"/><circle cx="142.3" cy="153.4" r=".95"/><circle cx="142.8" cy="135.4" r=".95"/><circle cx="141.6" cy="132.4" r=".95"/>
</g>
<g fill="#cd0083" stroke="#cd0083">
<circle cx="144.3" cy="136.0" r=".95"/><circle cx="144.5" cy="155.0" r=".95"/><circle cx="144.4" cy="146.3" r=".95"/><circle cx="144.4" cy="143.5" r=".95"/><circle cx="144.4" cy="138.7" r=".95"/><circle cx="144.2" cy="158.7" r=".95"/><circle cx="144.0" cy="159.1" r=".95"/><circle cx="144.1" cy="153.5" r=".95"/><circle cx="144.5" cy="147.9" r=".95"/><circle cx="144.2" cy="151.0" r=".95"/><circle cx="144.3" cy="149.5" r=".95"/><circle cx="144.4" cy="154.2" r=".95"/><circle cx="144.3" cy="137.7" r=".95"/><circle cx="144.0" cy="159.1" r=".95"/><circle cx="144.0" cy="137.5" r=".95"/><circle cx="144.4" cy="142.1" r=".95"/><circle cx="144.3" cy="156.4" r=".95"/><circle cx="144.1" cy="144.6" r=".95"/><circle cx="144.3" cy="145.3" r=".95"/><circle cx="144.2" cy="136.9" r=".95"/><circle cx="144.0" cy="145.8" r=".95"/><circle cx="144.3" cy="137.4" r=".95"/><circle cx="143.9" cy="136.5" r=".95"/><circle cx="144.0" cy="146.5" r=".95"/><circle cx="143.9" cy="152.3" r=".95"/><circle cx="144.4" cy="145.9" r=".95"/><circle cx="144.0" cy="150.8" r=".95"/><circle cx="144.0" cy="139.9" r=".95"/><circle cx="144.1" cy="144.6" r=".95"/><circle cx="144.2" cy="135.7" r=".95"/><circle cx="144.3" cy="152.0" r=".95"/><circle cx="144.0" cy="152.1" r=".95"/><circle cx="144.4" cy="148.6" r=".95"/><circle cx="144.3" cy="153.6" r=".95"/><circle cx="144.1" cy="151.8" r=".95"/><circle cx="144.1" cy="142.6" r=".95"/><circle cx="144.4" cy="150.1" r=".95"/><circle cx="144.5" cy="151.4" r=".95"/><circle cx="144.1" cy="143.2" r=".95"/><circle cx="144.3" cy="147.3" r=".95"/><circle cx="144.4" cy="137.8" r=".95"/><circle cx="144.2" cy="149.4" r=".95"/><circle cx="144.0" cy="144.8" r=".95"/><circle cx="144.0" cy="147.3" r=".95"/><circle cx="144.1" cy="158.0" r=".95"/><circle cx="144.1" cy="135.6" r=".95"/><circle cx="144.0" cy="149.5" r=".95"/><circle cx="144.3" cy="142.9" r=".95"/><circle cx="144.4" cy="147.0" r=".95"/><circle cx="144.3" cy="150.0" r=".95"/><circle cx="144.2" cy="147.8" r=".95"/><circle cx="144.0" cy="134.9" r=".95"/><circle cx="144.0" cy="145.8" r=".95"/><circle cx="143.9" cy="152.6" r=".95"/><circle cx="144.4" cy="154.7" r=".95"/><circle cx="144.2" cy="144.6" r=".95"/><circle cx="144.4" cy="159.9" r=".95"/><circle cx="144.4" cy="156.8" r=".95"/><circle cx="143.9" cy="142.6" r=".95"/><circle cx="144.0" cy="141.9" r=".95"/><circle cx="144.3" cy="154.4" r=".95"/><circle cx="144.4" cy="148.8" r=".95"/><circle cx="143.9" cy="159.2" r=".95"/><circle cx="144.0" cy="137.6" r=".95"/><circle cx="144.3" cy="151.5" r=".95"/><circle cx="144.1" cy="137.8" r=".95"/><circle cx="143.9" cy="146.7" r=".95"/><circle cx="144.5" cy="157.5" r=".95"/><circle cx="144.1" cy="155.1" r=".95"/><circle cx="144.4" cy="145.7" r=".95"/><circle cx="144.1" cy="147.7" r=".95"/><circle cx="143.8" cy="143.6" r=".95"/><circle cx="144.0" cy="142.8" r=".95"/><circle cx="144.4" cy="145.3" r=".95"/><circle cx="144.4" cy="149.6" r=".95"/><circle cx="144.0" cy="144.2" r=".95"/><circle cx="143.9" cy="156.9" r=".95"/><circle cx="144.3" cy="152.6" r=".95"/><circle cx="144.4" cy="149.0" r=".95"/><circle cx="144.2" cy="135.7" r=".95"/><circle cx="143.8" cy="140.3" r=".95"/><circle cx="144.4" cy="152.0" r=".95"/><circle cx="144.3" cy="139.2" r=".95"/><circle cx="144.5" cy="135.6" r=".95"/><circle cx="144.0" cy="141.3" r=".95"/><circle cx="144.4" cy="154.5" r=".95"/><circle cx="144.1" cy="153.5" r=".95"/>
</g>
<g fill="#d1007d" stroke="#d1007d">
<circle cx="146.1" cy="134.9" r=".95"/><circle cx="145.9" cy="145.4" r=".95"/><circle cx="145.9" cy="149.2" r=".95"/><circle cx="146.0" cy="147.6" r=".95"/><circle cx="145.6" cy="155.9" r=".95"/><circle cx="145.7" cy="159.5" r=".95"/><circle cx="146.0" cy="155.7" r=".95"/><circle cx="146.0" cy="151.7" r=".95"/><circle cx="146.2" cy="139.7" r=".95"/><circle cx="145.9" cy="144.5" r=".95"/><circle cx="146.1" cy="146.5" r=".95"/><circle cx="145.8" cy="143.0" r=".95"/><circle cx="145.7" cy="155.6" r=".95"/><circle cx="145.9" cy="159.6" r=".95"/><circle cx="146.1" cy="147.7" r=".95"/><circle cx="146.0" cy="146.9" r=".95"/><circle cx="146.0" cy="145.7" r=".95"/><circle cx="146.1" cy="149.8" r=".95"/><circle cx="145.7" cy="148.3" r=".95"/><circle cx="146.0" cy="136.0" r=".95"/><circle cx="146.2" cy="136.9" r=".95"/><circle cx="146.2" cy="134.8" r=".95"/><circle cx="145.8" cy="141.3" r=".95"/><circle cx="145.9" cy="152.0" r=".95"/><circle cx="146.2" cy="156.6" r=".95"/><circle cx="146.0" cy="148.4" r=".95"/><circle cx="145.7" cy="135.8" r=".95"/><circle cx="146.1" cy="147.1" r=".95"/><circle cx="146.1" cy="139.2" r=".95"/><circle cx="146.2" cy="156.6" r=".95"/><circle cx="146.1" cy="153.7" r=".95"/><circle cx="146.0" cy="147.9" r=".95"/><circle cx="145.7" cy="143.4" r=".95"/><circle cx="146.0" cy="159.5" r=".95"/><circle cx="145.8" cy="145.4" r=".95"/><circle cx="146.0" cy="145.5" r=".95"/><circle cx="146.0" cy="140.9" r=".95"/><circle cx="145.9" cy="157.1" r=".95"/><circle cx="146.0" cy="146.6" r=".95"/><circle cx="145.7" cy="155.8" r=".95"/><circle cx="146.0" cy="148.7" r=".95"/><circle cx="145.8" cy="152.5" r=".95"/><circle cx="145.7" cy="144.1" r=".95"/><circle cx="146.2" cy="139.4" r=".95"/><circle cx="146.0" cy="138.3" r=".95"/><circle cx="146.2" cy="156.3" r=".95"/><circle cx="145.9" cy="151.2" r=".95"/><circle cx="146.2" cy="147.0" r=".95"/><circle cx="145.5" cy="134.5" r=".95"/><circle cx="145.9" cy="134.9" r=".95"/><circle cx="146.5" cy="133.6" r=".95"/><circle cx="145.6" cy="133.1" r=".95"/><circle cx="146.4" cy="135.2" r=".95"/>
</g>
<g fill="#d40077" stroke="#d40077">
<circle cx="147.5" cy="142.3" r=".95"/><circle cx="147.3" cy="151.9" r=".95"/><circle cx="147.8" cy="145.7" r=".95"/><circle cx="147.5" cy="152.2" r=".95"/><circle cx="147.5" cy="150.0" r=".95"/><circle cx="147.7" cy="155.6" r=".95"/><circle cx="147.6" cy="153.0" r=".95"/><circle cx="147.4" cy="136.9" r=".95"/><circle cx="147.9" cy="152.4" r=".95"/><circle cx="147.4" cy="147.9" r=".95"/><circle cx="147.7" cy="141.1" r=".95"/><circle cx="147.8" cy="150.0" r=".95"/><circle cx="147.5" cy="151.2" r=".95"/><circle cx="147.5" cy="139.8" r=".95"/><circle cx="147.8" cy="141.7" r=".95"/><circle cx="147.5" cy="146.1" r=".95"/><circle cx="147.8" cy="142.5" r=".95"/><circle cx="147.3" cy="142.0" r=".95"/><circle cx="147.6" cy="151.4" r=".95"/><circle cx="147.5" cy="156.4" r=".95"/><circle cx="147.7" cy="141.9" r=".95"/><circle cx="147.3" cy="138.3" r=".95"/><circle cx="147.5" cy="143.8" r=".95"/><circle cx="147.8" cy="144.3" r=".95"/><circle cx="147.7" cy="156.8" r=".95"/><circle cx="147.8" cy="147.6" r=".95"/><circle cx="147.7" cy="144.5" r=".95"/><circle cx="147.8" cy="135.7" r=".95"/><circle cx="147.7" cy="158.3" r=".95"/><circle cx="147.4" cy="149.2" r=".95"/><circle cx="147.8" cy="144.7" r=".95"/><circle cx="147.6" cy="151.2" r=".95"/><circle cx="147.4" cy="152.8" r=".95"/><circle cx="147.4" cy="149.4" r=".95"/><circle cx="147.7" cy="148.1" r=".95"/><circle cx="147.6" cy="143.7" r=".95"/><circle cx="147.7" cy="137.8" r=".95"/><circle cx="147.7" cy="154.9" r=".95"/><circle cx="147.8" cy="135.8" r=".95"/><circle cx="147.6" cy="150.4" r=".95"/><circle cx="147.7" cy="135.8" r=".95"/><circle cx="147.3" cy="156.6" r=".95"/><circle cx="147.7" cy="141.6" r=".95"/><circle cx="147.8" cy="140.7" r=".95"/><circle cx="147.7" cy="149.3" r=".95"/><circle cx="147.6" cy="157.4" r=".95"/><circle cx="147.8" cy="155.2" r=".95"/><circle cx="147.7" cy="152.6" r=".95"/><circle cx="147.8" cy="139.4" r=".95"/><circle cx="147.4" cy="153.5" r=".95"/><circle cx="147.4" cy="148.2" r=".95"/><circle cx="147.8" cy="148.8" r=".95"/><circle cx="147.4" cy="138.5" r=".95"/><circle cx="148.8" cy="155.5" r=".95"/><circle cx="148.9" cy="155.2" r=".95"/><circle cx="148.8" cy="151.6" r=".95"/><circle cx="148.8" cy="149.1" r=".95"/><circle cx="148.8" cy="145.5" r=".95"/><circle cx="148.9" cy="136.7" r=".95"/><circle cx="149.0" cy="151.6" r=".95"/><circle cx="148.8" cy="137.8" r=".95"/><circle cx="149.0" cy="141.5" r=".95"/><circle cx="148.8" cy="142.5" r=".95"/><circle cx="148.8" cy="151.7" r=".95"/><circle cx="148.8" cy="141.4" r=".95"/><circle cx="148.8" cy="145.5" r=".95"/><circle cx="148.8" cy="140.1" r=".95"/><circle cx="148.9" cy="140.3" r=".95"/><circle cx="149.0" cy="136.1" r=".95"/><circle cx="149.0" cy="139.5" r=".95"/><circle cx="148.9" cy="142.7" r=".95"/><circle cx="148.9" cy="142.4" r=".95"/><circle cx="149.0" cy="149.8" r=".95"/><circle cx="149.0" cy="136.9" r=".95"/><circle cx="148.7" cy="150.5" r=".95"/><circle cx="148.8" cy="154.3" r=".95"/><circle cx="148.9" cy="144.1" r=".95"/><circle cx="148.8" cy="150.8" r=".95"/><circle cx="148.7" cy="148.2" r=".95"/><circle cx="148.8" cy="152.1" r=".95"/><circle cx="148.7" cy="140.7" r=".95"/><circle cx="148.8" cy="149.1" r=".95"/><circle cx="148.8" cy="146.9" r=".95"/><circle cx="148.9" cy="135.6" r=".95"/><circle cx="148.7" cy="151.2" r=".95"/><circle cx="148.9" cy="152.9" r=".95"/><circle cx="148.7" cy="150.4" r=".95"/><circle cx="148.8" cy="153.0" r=".95"/><circle cx="148.8" cy="150.2" r=".95"/><circle cx="148.9" cy="145.9" r=".95"/><circle cx="148.9" cy="146.6" r=".95"/><circle cx="148.8" cy="141.6" r=".95"/><circle cx="148.8" cy="152.2" r=".95"/><circle cx="148.9" cy="154.4" r=".95"/><circle cx="148.7" cy="138.6" r=".95"/><circle cx="148.9" cy="136.8" r=".95"/><circle cx="148.9" cy="150.6" r=".95"/><circle cx="149.0" cy="150.1" r=".95"/><circle cx="148.8" cy="154.9" r=".95"/><circle cx="148.8" cy="138.2" r=".95"/><circle cx="148.9" cy="150.6" r=".95"/><circle cx="148.7" cy="140.4" r=".95"/><circle cx="148.9" cy="147.1" r=".95"/><circle cx="148.9" cy="152.7" r=".95"/><circle cx="148.8" cy="154.1" r=".95"/><circle cx="148.8" cy="147.1" r=".95"/><circle cx="149.0" cy="151.9" r=".95"/><circle cx="148.8" cy="141.9" r=".95"/><circle cx="148.8" cy="157.2" r=".95"/><circle cx="149.0" cy="152.0" r=".95"/><circle cx="148.9" cy="135.7" r=".95"/><circle cx="149.0" cy="136.3" r=".95"/><circle cx="148.8" cy="145.3" r=".95"/><circle cx="148.8" cy="135.1" r=".95"/><circle cx="148.7" cy="155.8" r=".95"/><circle cx="148.8" cy="138.3" r=".95"/><circle cx="148.8" cy="147.1" r=".95"/><circle cx="148.7" cy="143.7" r=".95"/><circle cx="147.7" cy="133.6" r=".95"/><circle cx="148.9" cy="134.8" r=".95"/><circle cx="148.2" cy="132.8" r=".95"/><circle cx="147.9" cy="134.9" r=".95"/>
</g>
<g fill="#d70072" stroke="#d70072">
<circle cx="150.7" cy="150.2" r=".95"/><circle cx="149.3" cy="150.7" r=".95"/><circle cx="150.8" cy="153.3" r=".95"/><circle cx="149.2" cy="154.1" r=".95"/><circle cx="149.1" cy="152.5" r=".95"/><circle cx="150.8" cy="140.0" r=".95"/><circle cx="150.8" cy="153.8" r=".95"/><circle cx="149.2" cy="153.8" r=".95"/><circle cx="149.1" cy="142.7" r=".95"/><circle cx="150.8" cy="134.9" r=".95"/><circle cx="150.5" cy="141.5" r=".95"/><circle cx="150.5" cy="147.4" r=".95"/><circle cx="149.1" cy="148.4" r=".95"/><circle cx="150.4" cy="155.7" r=".95"/><circle cx="150.6" cy="140.3" r=".95"/><circle cx="149.2" cy="148.9" r=".95"/><circle cx="150.6" cy="142.9" r=".95"/><circle cx="149.2" cy="136.4" r=".95"/><circle cx="149.2" cy="139.3" r=".95"/><circle cx="149.1" cy="154.2" r=".95"/><circle cx="149.2" cy="145.0" r=".95"/><circle cx="150.7" cy="157.2" r=".95"/><circle cx="149.0" cy="141.0" r=".95"/><circle cx="149.2" cy="153.6" r=".95"/><circle cx="150.7" cy="144.5" r=".95"/><circle cx="150.7" cy="141.9" r=".95"/><circle cx="150.6" cy="156.5" r=".95"/><circle cx="150.7" cy="145.9" r=".95"/><circle cx="149.1" cy="135.3" r=".95"/><circle cx="149.1" cy="135.7" r=".95"/><circle cx="149.2" cy="153.8" r=".95"/><circle cx="150.5" cy="143.9" r=".95"/><circle cx="149.1" cy="153.6" r=".95"/><circle cx="149.2" cy="144.1" r=".95"/><circle cx="149.0" cy="144.7" r=".95"/><circle cx="149.1" cy="138.1" r=".95"/><circle cx="150.6" cy="136.8" r=".95"/><circle cx="149.2" cy="153.7" r=".95"/><circle cx="149.3" cy="150.2" r=".95"/><circle cx="149.3" cy="144.9" r=".95"/><circle cx="149.1" cy="152.1" r=".95"/><circle cx="149.2" cy="135.2" r=".95"/><circle cx="149.2" cy="143.5" r=".95"/><circle cx="149.2" cy="153.0" r=".95"/><circle cx="149.1" cy="153.6" r=".95"/><circle cx="149.1" cy="156.7" r=".95"/><circle cx="150.7" cy="140.7" r=".95"/><circle cx="150.4" cy="150.6" r=".95"/><circle cx="150.4" cy="140.7" r=".95"/><circle cx="150.7" cy="157.8" r=".95"/><circle cx="150.7" cy="144.0" r=".95"/><circle cx="149.2" cy="136.3" r=".95"/><circle cx="149.2" cy="139.0" r=".95"/><circle cx="150.8" cy="136.6" r=".95"/><circle cx="150.6" cy="150.9" r=".95"/><circle cx="149.3" cy="137.4" r=".95"/><circle cx="150.7" cy="154.8" r=".95"/><circle cx="149.2" cy="141.9" r=".95"/><circle cx="150.4" cy="139.7" r=".95"/><circle cx="150.8" cy="140.8" r=".95"/><circle cx="150.7" cy="157.1" r=".95"/><circle cx="149.2" cy="135.1" r=".95"/><circle cx="150.6" cy="151.9" r=".95"/><circle cx="149.1" cy="146.6" r=".95"/><circle cx="149.2" cy="139.2" r=".95"/><circle cx="149.3" cy="138.2" r=".95"/><circle cx="149.2" cy="145.9" r=".95"/><circle cx="149.1" cy="143.9" r=".95"/><circle cx="150.8" cy="157.7" r=".95"/><circle cx="150.4" cy="156.0" r=".95"/><circle cx="149.2" cy="135.5" r=".95"/><circle cx="149.1" cy="136.8" r=".95"/><circle cx="150.8" cy="146.3" r=".95"/><circle cx="150.5" cy="135.6" r=".95"/><circle cx="149.0" cy="157.3" r=".95"/><circle cx="149.2" cy="146.1" r=".95"/><circle cx="149.1" cy="140.3" r=".95"/><circle cx="150.4" cy="137.5" r=".95"/><circle cx="149.2" cy="139.4" r=".95"/><circle cx="149.2" cy="136.0" r=".95"/><circle cx="149.2" cy="149.0" r=".95"/><circle cx="150.7" cy="140.8" r=".95"/><circle cx="149.3" cy="138.9" r=".95"/><circle cx="150.7" cy="157.6" r=".95"/><circle cx="149.2" cy="143.7" r=".95"/><circle cx="150.5" cy="135.7" r=".95"/><circle cx="149.2" cy="143.1" r=".95"/><circle cx="150.7" cy="155.0" r=".95"/><circle cx="149.2" cy="136.6" r=".95"/><circle cx="149.1" cy="143.3" r=".95"/><circle cx="149.2" cy="158.1" r=".95"/><circle cx="149.2" cy="136.6" r=".95"/><circle cx="149.2" cy="151.5" r=".95"/><circle cx="150.6" cy="157.2" r=".95"/><circle cx="150.4" cy="132.1" r=".95"/><circle cx="149.9" cy="132.5" r=".95"/><circle cx="149.1" cy="131.4" r=".95"/>
</g>
<g fill="#da006c" stroke="#da006c">
<circle cx="152.5" cy="148.9" r=".95"/><circle cx="152.2" cy="154.6" r=".95"/><circle cx="150.9" cy="154.7" r=".95"/><circle cx="152.3" cy="146.8" r=".95"/><circle cx="152.3" cy="145.4" r=".95"/><circle cx="152.6" cy="157.2" r=".95"/><circle cx="152.6" cy="157.2" r=".95"/><circle cx="152.2" cy="139.4" r=".95"/><circle cx="152.3" cy="151.1" r=".95"/><circle cx="152.6" cy="146.7" r=".95"/><circle cx="152.3" cy="140.8" r=".95"/><circle cx="150.9" cy="151.8" r=".95"/><circle cx="152.5" cy="148.1" r=".95"/><circle cx="152.1" cy="135.0" r=".95"/><circle cx="152.4" cy="157.5" r=".95"/><circle cx="152.1" cy="156.4" r=".95"/><circle cx="152.6" cy="157.0" r=".95"/><circle cx="152.3" cy="157.4" r=".95"/><circle cx="150.9" cy="154.6" r=".95"/><circle cx="152.6" cy="141.9" r=".95"/><circle cx="152.5" cy="148.9" r=".95"/><circle cx="152.1" cy="146.8" r=".95"/><circle cx="152.4" cy="141.0" r=".95"/><circle cx="150.9" cy="138.3" r=".95"/><circle cx="152.5" cy="146.5" r=".95"/><circle cx="152.2" cy="149.0" r=".95"/><circle cx="152.4" cy="157.7" r=".95"/><circle cx="152.1" cy="141.5" r=".95"/><circle cx="151.0" cy="156.2" r=".95"/><circle cx="152.5" cy="140.1" r=".95"/><circle cx="152.6" cy="157.5" r=".95"/><circle cx="152.2" cy="142.2" r=".95"/><circle cx="152.4" cy="142.8" r=".95"/><circle cx="152.1" cy="157.0" r=".95"/><circle cx="152.5" cy="149.6" r=".95"/><circle cx="152.3" cy="155.4" r=".95"/><circle cx="152.1" cy="146.6" r=".95"/><circle cx="152.4" cy="149.5" r=".95"/><circle cx="152.4" cy="144.3" r=".95"/><circle cx="151.8" cy="133.7" r=".95"/><circle cx="152.1" cy="134.8" r=".95"/><circle cx="152.6" cy="135.3" r=".95"/><circle cx="151.3" cy="131.4" r=".95"/><circle cx="152.4" cy="133.2" r=".95"/>
</g>
<g fill="#dd0066" stroke="#dd0066">
<circle cx="154.3" cy="153.9" r=".95"/><circle cx="153.8" cy="155.0" r=".95"/><circle cx="154.1" cy="148.6" r=".95"/><circle cx="154.3" cy="144.5" r=".95"/><circle cx="154.0" cy="155.9" r=".95"/><circle cx="154.0" cy="147.5" r=".95"/><circle cx="153.7" cy="138.6" r=".95"/><circle cx="154.2" cy="151.7" r=".95"/><circle cx="153.9" cy="146.0" r=".95"/><circle cx="153.8" cy="144.3" r=".95"/><circle cx="153.9" cy="143.4" r=".95"/><circle cx="154.2" cy="138.2" r=".95"/><circle cx="154.0" cy="150.7" r=".95"/><circle cx="154.2" cy="147.7" r=".95"/><circle cx="154.0" cy="148.7" r=".95"/><circle cx="154.3" cy="144.5" r=".95"/><circle cx="153.6" cy="156.8" r=".95"/><circle cx="154.0" cy="150.6" r=".95"/><circle cx="153.9" cy="157.4" r=".95"/><circle cx="153.8" cy="153.6" r=".95"/><circle cx="153.8" cy="137.8" r=".95"/><circle cx="154.0" cy="141.1" r=".95"/><circle cx="153.7" cy="152.8" r=".95"/><circle cx="153.6" cy="148.2" r=".95"/><circle cx="153.9" cy="151.5" r=".95"/><circle cx="154.1" cy="152.0" r=".95"/><circle cx="154.1" cy="155.1" r=".95"/><circle cx="154.0" cy="153.4" r=".95"/><circle cx="154.0" cy="156.8" r=".95"/><circle cx="154.2" cy="142.3" r=".95"/><circle cx="154.2" cy="138.3" r=".95"/><circle cx="153.7" cy="151.3" r=".95"/><circle cx="154.3" cy="146.0" r=".95"/><circle cx="154.1" cy="145.1" r=".95"/><circle cx="154.3" cy="140.0" r=".95"/><circle cx="153.9" cy="148.7" r=".95"/><circle cx="153.8" cy="141.0" r=".95"/><circle cx="153.7" cy="138.1" r=".95"/><circle cx="153.9" cy="139.0" r=".95"/><circle cx="154.0" cy="151.9" r=".95"/><circle cx="154.3" cy="157.2" r=".95"/><circle cx="154.1" cy="150.9" r=".95"/><circle cx="153.8" cy="157.2" r=".95"/><circle cx="154.2" cy="145.6" r=".95"/><circle cx="154.3" cy="156.5" r=".95"/><circle cx="153.9" cy="139.9" r=".95"/><circle cx="153.8" cy="155.2" r=".95"/><circle cx="153.9" cy="139.0" r=".95"/><circle cx="153.8" cy="137.0" r=".95"/><circle cx="154.0" cy="138.8" r=".95"/><circle cx="153.7" cy="140.1" r=".95"/><circle cx="153.9" cy="137.2" r=".95"/><circle cx="154.0" cy="151.8" r=".95"/><circle cx="153.9" cy="139.7" r=".95"/><circle cx="154.0" cy="152.8" r=".95"/><circle cx="154.0" cy="146.5" r=".95"/><circle cx="152.6" cy="150.2" r=".95"/><circle cx="154.2" cy="153.5" r=".95"/><circle cx="154.1" cy="140.8" r=".95"/><circle cx="153.6" cy="154.4" r=".95"/><circle cx="153.9" cy="152.6" r=".95"/><circle cx="154.2" cy="137.2" r=".95"/><circle cx="153.7" cy="146.9" r=".95"/><circle cx="154.2" cy="137.3" r=".95"/><circle cx="153.7" cy="150.2" r=".95"/><circle cx="154.1" cy="142.2" r=".95"/><circle cx="154.1" cy="137.1" r=".95"/><circle cx="153.7" cy="157.2" r=".95"/><circle cx="153.9" cy="152.9" r=".95"/><circle cx="154.3" cy="152.9" r=".95"/><circle cx="154.1" cy="149.4" r=".95"/><circle cx="153.9" cy="144.6" r=".95"/><circle cx="153.7" cy="142.4" r=".95"/><circle cx="153.9" cy="149.8" r=".95"/><circle cx="153.8" cy="138.4" r=".95"/><circle cx="153.9" cy="136.5" r=".95"/><circle cx="153.8" cy="146.8" r=".95"/><circle cx="153.8" cy="147.2" r=".95"/><circle cx="154.0" cy="156.3" r=".95"/><circle cx="154.4" cy="130.9" r=".95"/><circle cx="154.2" cy="133.5" r=".95"/><circle cx="152.8" cy="131.5" r=".95"/><circle cx="153.2" cy="134.6" r=".95"/>
</g>
<g fill="#e00061" stroke="#e00061">
<circle cx="155.6" cy="149.2" r=".95"/><circle cx="155.5" cy="150.8" r=".95"/><circle cx="155.8" cy="153.0" r=".95"/><circle cx="155.8" cy="141.8" r=".95"/><circle cx="155.7" cy="148.0" r=".95"/><circle cx="155.9" cy="138.7" r=".95"/><circle cx="155.4" cy="140.9" r=".95"/><circle cx="156.0" cy="148.4" r=".95"/><circle cx="155.5" cy="155.5" r=".95"/><circle cx="155.5" cy="146.7" r=".95"/><circle cx="155.4" cy="140.2" r=".95"/><circle cx="155.5" cy="155.1" r=".95"/><circle cx="155.7" cy="141.5" r=".95"/><circle cx="155.6" cy="149.2" r=".95"/><circle cx="155.8" cy="157.5" r=".95"/><circle cx="155.6" cy="140.0" r=".95"/><circle cx="155.6" cy="141.0" r=".95"/><circle cx="155.9" cy="156.9" r=".95"/><circle cx="156.0" cy="140.6" r=".95"/><circle cx="155.7" cy="151.6" r=".95"/><circle cx="155.9" cy="142.2" r=".95"/><circle cx="155.5" cy="142.1" r=".95"/><circle cx="155.6" cy="139.3" r=".95"/><circle cx="155.4" cy="148.5" r=".95"/><circle cx="155.6" cy="155.9" r=".95"/><circle cx="155.5" cy="141.6" r=".95"/><circle cx="155.5" cy="152.8" r=".95"/><circle cx="155.7" cy="142.2" r=".95"/><circle cx="155.5" cy="153.8" r=".95"/><circle cx="155.9" cy="156.6" r=".95"/><circle cx="156.0" cy="156.1" r=".95"/><circle cx="155.6" cy="139.7" r=".95"/><circle cx="155.4" cy="151.2" r=".95"/><circle cx="155.5" cy="140.4" r=".95"/><circle cx="155.6" cy="149.7" r=".95"/><circle cx="155.9" cy="144.3" r=".95"/><circle cx="155.8" cy="149.0" r=".95"/><circle cx="155.5" cy="142.2" r=".95"/><circle cx="156.0" cy="145.8" r=".95"/><circle cx="155.8" cy="153.6" r=".95"/><circle cx="155.6" cy="154.6" r=".95"/><circle cx="155.7" cy="157.8" r=".95"/><circle cx="155.4" cy="148.9" r=".95"/><circle cx="155.8" cy="141.5" r=".95"/><circle cx="155.9" cy="157.1" r=".95"/><circle cx="155.8" cy="142.4" r=".95"/><circle cx="155.6" cy="142.2" r=".95"/><circle cx="155.9" cy="141.8" r=".95"/><circle cx="154.4" cy="134.0" r=".95"/><circle cx="154.8" cy="131.2" r=".95"/><circle cx="155.8" cy="133.3" r=".95"/>
</g>
<g fill="#e3005b" stroke="#e3005b">
<circle cx="157.2" cy="157.5" r=".95"/><circle cx="157.6" cy="167.7" r=".95"/><circle cx="157.3" cy="160.0" r=".95"/><circle cx="157.4" cy="155.9" r=".95"/><circle cx="157.3" cy="161.1" r=".95"/><circle cx="157.4" cy="163.5" r=".95"/><circle cx="157.4" cy="150.0" r=".95"/><circle cx="157.5" cy="151.2" r=".95"/><circle cx="157.5" cy="150.2" r=".95"/><circle cx="157.3" cy="145.8" r=".95"/><circle cx="157.5" cy="140.8" r=".95"/><circle cx="157.3" cy="149.1" r=".95"/><circle cx="157.6" cy="158.9" r=".95"/><circle cx="157.2" cy="162.0" r=".95"/><circle cx="157.6" cy="158.4" r=".95"/><circle cx="157.2" cy="151.3" r=".95"/><circle cx="157.5" cy="158.4" r=".95"/><circle cx="157.4" cy="141.3" r=".95"/><circle cx="157.4" cy="140.6" r=".95"/><circle cx="157.1" cy="142.4" r=".95"/><circle cx="157.2" cy="149.1" r=".95"/><circle cx="157.4" cy="155.3" r=".95"/><circle cx="157.2" cy="143.8" r=".95"/><circle cx="157.6" cy="145.1" r=".95"/><circle cx="157.6" cy="152.6" r=".95"/><circle cx="157.6" cy="151.8" r=".95"/><circle cx="157.6" cy="148.8" r=".95"/><circle cx="157.7" cy="147.5" r=".95"/><circle cx="157.2" cy="159.6" r=".95"/><circle cx="157.5" cy="153.6" r=".95"/><circle cx="157.7" cy="141.5" r=".95"/><circle cx="157.5" cy="151.2" r=".95"/><circle cx="157.1" cy="148.4" r=".95"/><circle cx="157.2" cy="151.6" r=".95"/><circle cx="157.2" cy="145.2" r=".95"/><circle cx="157.3" cy="163.2" r=".95"/><circle cx="157.1" cy="156.3" r=".95"/><circle cx="157.3" cy="144.5" r=".95"/><circle cx="157.7" cy="163.4" r=".95"/><circle cx="157.4" cy="161.0" r=".95"/><circle cx="157.5" cy="150.5" r=".95"/><circle cx="157.2" cy="157.2" r=".95"/><circle cx="157.3" cy="158.7" r=".95"/><circle cx="157.6" cy="160.6" r=".95"/><circle cx="157.5" cy="150.9" r=".95"/><circle cx="156.3" cy="134.6" r=".95"/>
</g>
<g fill="#e50055" stroke="#e50055">
<circle cx="158.6" cy="164.6" r=".95"/><circle cx="158.9" cy="148.0" r=".95"/><circle cx="160.4" cy="159.7" r=".95"/><circle cx="158.8" cy="154.7" r=".95"/><circle cx="158.9" cy="168.3" r=".95"/><circle cx="160.7" cy="178.0" r=".95"/><circle cx="159.1" cy="156.4" r=".95"/><circle cx="158.9" cy="151.5" r=".95"/><circle cx="158.6" cy="162.8" r=".95"/><circle cx="158.9" cy="157.5" r=".95"/><circle cx="158.7" cy="158.5" r=".95"/><circle cx="158.8" cy="165.7" r=".95"/><circle cx="158.8" cy="161.5" r=".95"/><circle cx="159.1" cy="166.4" r=".95"/><circle cx="158.9" cy="156.3" r=".95"/><circle cx="159.0" cy="172.4" r=".95"/><circle cx="158.5" cy="151.9" r=".95"/><circle cx="159.0" cy="167.2" r=".95"/><circle cx="158.8" cy="170.3" r=".95"/><circle cx="158.9" cy="145.1" r=".95"/><circle cx="160.4" cy="152.6" r=".95"/><circle cx="158.9" cy="161.6" r=".95"/><circle cx="159.0" cy="161.8" r=".95"/><circle cx="159.1" cy="157.6" r=".95"/><circle cx="159.1" cy="159.3" r=".95"/><circle cx="158.8" cy="160.0" r=".95"/><circle cx="158.9" cy="170.1" r=".95"/><circle cx="159.0" cy="165.0" r=".95"/><circle cx="160.5" cy="170.6" r=".95"/><circle cx="158.6" cy="158.8" r=".95"/><circle cx="158.9" cy="152.2" r=".95"/><circle cx="158.6" cy="160.7" r=".95"/><circle cx="160.8" cy="168.6" r=".95"/><circle cx="160.5" cy="166.6" r=".95"/><circle cx="159.0" cy="162.2" r=".95"/><circle cx="158.6" cy="156.4" r=".95"/><circle cx="160.5" cy="156.4" r=".95"/><circle cx="160.7" cy="166.4" r=".95"/><circle cx="158.7" cy="170.4" r=".95"/><circle cx="158.8" cy="152.6" r=".95"/><circle cx="158.7" cy="168.6" r=".95"/><circle cx="160.3" cy="157.5" r=".95"/><circle cx="160.7" cy="174.4" r=".95"/><circle cx="159.0" cy="156.1" r=".95"/><circle cx="158.7" cy="161.6" r=".95"/><circle cx="160.3" cy="178.2" r=".95"/><circle cx="158.7" cy="161.1" r=".95"/><circle cx="158.6" cy="161.7" r=".95"/><circle cx="158.9" cy="154.7" r=".95"/><circle cx="159.0" cy="145.7" r=".95"/><circle cx="158.8" cy="165.4" r=".95"/><circle cx="160.7" cy="173.3" r=".95"/><circle cx="158.9" cy="150.6" r=".95"/><circle cx="158.6" cy="170.7" r=".95"/><circle cx="158.8" cy="152.7" r=".95"/><circle cx="158.7" cy="161.2" r=".95"/><circle cx="158.7" cy="143.5" r=".95"/><circle cx="158.8" cy="144.5" r=".95"/><circle cx="159.1" cy="146.2" r=".95"/><circle cx="158.9" cy="163.7" r=".95"/><circle cx="158.7" cy="164.2" r=".95"/><circle cx="159.0" cy="170.5" r=".95"/><circle cx="158.7" cy="163.5" r=".95"/><circle cx="158.6" cy="151.4" r=".95"/><circle cx="160.5" cy="158.3" r=".95"/><circle cx="160.5" cy="148.3" r=".95"/><circle cx="158.7" cy="162.5" r=".95"/><circle cx="158.5" cy="169.8" r=".95"/><circle cx="158.7" cy="162.1" r=".95"/><circle cx="160.4" cy="162.5" r=".95"/><circle cx="160.3" cy="172.9" r=".95"/><circle cx="160.7" cy="162.4" r=".95"/><circle cx="158.9" cy="167.5" r=".95"/><circle cx="158.9" cy="170.1" r=".95"/><circle cx="159.0" cy="167.3" r=".95"/><circle cx="159.0" cy="159.2" r=".95"/><circle cx="158.6" cy="161.2" r=".95"/><circle cx="160.3" cy="161.8" r=".95"/><circle cx="158.6" cy="167.3" r=".95"/><circle cx="158.7" cy="163.0" r=".95"/><circle cx="158.8" cy="165.3" r=".95"/><circle cx="158.8" cy="163.9" r=".95"/><circle cx="158.8" cy="152.4" r=".95"/><circle cx="158.7" cy="166.5" r=".95"/><circle cx="158.6" cy="163.6" r=".95"/><circle cx="158.9" cy="159.9" r=".95"/><circle cx="158.9" cy="152.0" r=".95"/><circle cx="158.8" cy="148.9" r=".95"/><circle cx="158.8" cy="145.4" r=".95"/><circle cx="158.9" cy="148.1" r=".95"/><circle cx="160.3" cy="151.5" r=".95"/><circle cx="158.6" cy="151.8" r=".95"/><circle cx="158.6" cy="153.1" r=".95"/><circle cx="158.9" cy="162.8" r=".95"/><circle cx="158.8" cy="155.4" r=".95"/><circle cx="160.2" cy="153.1" r=".95"/><circle cx="159.0" cy="158.7" r=".95"/><circle cx="158.9" cy="167.5" r=".95"/><circle cx="158.7" cy="150.5" r=".95"/><circle cx="158.7" cy="170.1" r=".95"/><circle cx="158.7" cy="158.5" r=".95"/><circle cx="158.5" cy="164.7" r=".95"/><circle cx="158.8" cy="157.9" r=".95"/><circle cx="160.7" cy="153.1" r=".95"/><circle cx="158.8" cy="170.8" r=".95"/><circle cx="159.1" cy="148.0" r=".95"/><circle cx="158.8" cy="170.7" r=".95"/><circle cx="158.9" cy="151.8" r=".95"/><circle cx="158.8" cy="172.6" r=".95"/><circle cx="158.5" cy="157.1" r=".95"/><circle cx="158.7" cy="158.1" r=".95"/><circle cx="158.8" cy="147.9" r=".95"/><circle cx="158.8" cy="149.1" r=".95"/><circle cx="158.7" cy="161.5" r=".95"/><circle cx="158.9" cy="147.8" r=".95"/><circle cx="158.9" cy="153.9" r=".95"/><circle cx="159.0" cy="160.8" r=".95"/><circle cx="160.5" cy="164.5" r=".95"/><circle cx="158.6" cy="151.8" r=".95"/><circle cx="158.6" cy="155.8" r=".95"/><circle cx="160.3" cy="149.3" r=".95"/><circle cx="158.8" cy="157.8" r=".95"/><circle cx="159.1" cy="148.7" r=".95"/><circle cx="158.6" cy="148.6" r=".95"/><circle cx="158.8" cy="148.7" r=".95"/><circle cx="159.0" cy="146.5" r=".95"/><circle cx="158.7" cy="162.7" r=".95"/><circle cx="158.6" cy="144.3" r=".95"/><circle cx="159.1" cy="151.3" r=".95"/><circle cx="158.8" cy="155.2" r=".95"/><circle cx="158.6" cy="165.1" r=".95"/><circle cx="158.9" cy="160.1" r=".95"/><circle cx="158.8" cy="162.0" r=".95"/><circle cx="158.7" cy="154.0" r=".95"/><circle cx="158.7" cy="162.8" r=".95"/><circle cx="160.7" cy="150.6" r=".95"/><circle cx="158.5" cy="154.7" r=".95"/><circle cx="158.7" cy="162.5" r=".95"/><circle cx="160.4" cy="173.5" r=".95"/><circle cx="158.7" cy="159.5" r=".95"/><circle cx="158.6" cy="157.3" r=".95"/><circle cx="158.7" cy="159.2" r=".95"/><circle cx="159.0" cy="166.6" r=".95"/><circle cx="158.9" cy="167.1" r=".95"/><circle cx="159.1" cy="156.4" r=".95"/><circle cx="160.6" cy="160.6" r=".95"/><circle cx="159.0" cy="168.6" r=".95"/><circle cx="160.4" cy="170.4" r=".95"/><circle cx="158.6" cy="169.1" r=".95"/><circle cx="159.0" cy="151.9" r=".95"/><circle cx="158.8" cy="154.2" r=".95"/><circle cx="158.6" cy="145.3" r=".95"/><circle cx="158.7" cy="163.0" r=".95"/><circle cx="158.5" cy="147.6" r=".95"/><circle cx="158.7" cy="164.4" r=".95"/><circle cx="159.1" cy="145.6" r=".95"/><circle cx="158.9" cy="167.7" r=".95"/><circle cx="158.6" cy="165.4" r=".95"/><circle cx="158.5" cy="155.1" r=".95"/><circle cx="158.8" cy="160.4" r=".95"/><circle cx="159.0" cy="148.4" r=".95"/><circle cx="159.0" cy="174.3" r=".95"/><circle cx="158.9" cy="160.8" r=".95"/><circle cx="158.5" cy="159.8" r=".95"/><circle cx="159.1" cy="169.0" r=".95"/><circle cx="160.6" cy="175.3" r=".95"/><circle cx="159.0" cy="147.8" r=".95"/><circle cx="158.6" cy="158.0" r=".95"/><circle cx="160.8" cy="162.3" r=".95"/><circle cx="158.8" cy="150.7" r=".95"/><circle cx="160.6" cy="155.0" r=".95"/><circle cx="159.0" cy="148.2" r=".95"/><circle cx="158.6" cy="161.2" r=".95"/><circle cx="158.9" cy="160.3" r=".95"/><circle cx="158.9" cy="154.3" r=".95"/><circle cx="158.9" cy="170.9" r=".95"/><circle cx="160.5" cy="154.5" r=".95"/><circle cx="158.8" cy="162.6" r=".95"/><circle cx="159.1" cy="164.5" r=".95"/><circle cx="158.8" cy="159.1" r=".95"/><circle cx="159.1" cy="170.9" r=".95"/><circle cx="160.3" cy="159.8" r=".95"/><circle cx="158.9" cy="161.1" r=".95"/><circle cx="158.7" cy="144.4" r=".95"/><circle cx="158.6" cy="155.2" r=".95"/><circle cx="160.4" cy="165.0" r=".95"/><circle cx="158.5" cy="170.0" r=".95"/><circle cx="158.9" cy="154.7" r=".95"/><circle cx="158.9" cy="160.2" r=".95"/><circle cx="158.6" cy="145.2" r=".95"/><circle cx="158.9" cy="163.3" r=".95"/><circle cx="158.9" cy="170.7" r=".95"/><circle cx="158.5" cy="159.0" r=".95"/><circle cx="158.8" cy="154.7" r=".95"/><circle cx="160.5" cy="169.2" r=".95"/><circle cx="158.8" cy="156.7" r=".95"/><circle cx="158.9" cy="152.6" r=".95"/><circle cx="159.0" cy="166.7" r=".95"/><circle cx="158.8" cy="151.1" r=".95"/>
</g>
<g fill="#e80050" stroke="#e80050">
<circle cx="163.6" cy="170.4" r=".95"/><circle cx="163.8" cy="166.7" r=".95"/><circle cx="164.0" cy="173.4" r=".95"/><circle cx="164.0" cy="166.5" r=".95"/><circle cx="163.6" cy="170.0" r=".95"/><circle cx="163.9" cy="165.7" r=".95"/><circle cx="163.7" cy="178.3" r=".95"/><circle cx="162.2" cy="160.8" r=".95"/><circle cx="162.0" cy="163.9" r=".95"/><circle cx="163.7" cy="166.8" r=".95"/><circle cx="162.0" cy="170.2" r=".95"/><circle cx="163.7" cy="176.9" r=".95"/><circle cx="163.7" cy="176.5" r=".95"/><circle cx="162.1" cy="161.2" r=".95"/><circle cx="164.0" cy="152.1" r=".95"/><circle cx="163.4" cy="162.8" r=".95"/><circle cx="163.8" cy="167.4" r=".95"/><circle cx="163.7" cy="175.3" r=".95"/><circle cx="162.3" cy="156.3" r=".95"/><circle cx="163.6" cy="171.9" r=".95"/><circle cx="162.3" cy="158.9" r=".95"/><circle cx="163.8" cy="167.5" r=".95"/><circle cx="163.5" cy="164.0" r=".95"/><circle cx="163.8" cy="159.7" r=".95"/><circle cx="162.3" cy="165.3" r=".95"/><circle cx="162.2" cy="158.0" r=".95"/><circle cx="161.9" cy="175.6" r=".95"/><circle cx="163.9" cy="155.1" r=".95"/><circle cx="163.5" cy="160.9" r=".95"/><circle cx="163.9" cy="164.0" r=".95"/><circle cx="162.4" cy="159.9" r=".95"/><circle cx="163.9" cy="180.0" r=".95"/><circle cx="163.4" cy="155.8" r=".95"/><circle cx="164.1" cy="178.2" r=".95"/><circle cx="162.4" cy="166.0" r=".95"/><circle cx="163.6" cy="175.9" r=".95"/><circle cx="163.7" cy="161.8" r=".95"/><circle cx="163.6" cy="170.1" r=".95"/><circle cx="163.5" cy="169.4" r=".95"/><circle cx="162.4" cy="162.4" r=".95"/><circle cx="162.1" cy="162.8" r=".95"/><circle cx="162.2" cy="176.5" r=".95"/><circle cx="164.0" cy="166.0" r=".95"/><circle cx="161.9" cy="174.5" r=".95"/><circle cx="163.8" cy="162.0" r=".95"/><circle cx="162.0" cy="153.9" r=".95"/><circle cx="163.7" cy="174.1" r=".95"/><circle cx="162.2" cy="180.6" r=".95"/><circle cx="164.0" cy="171.6" r=".95"/><circle cx="163.7" cy="181.4" r=".95"/><circle cx="163.5" cy="168.2" r=".95"/><circle cx="163.8" cy="156.1" r=".95"/><circle cx="163.9" cy="174.4" r=".95"/><circle cx="162.0" cy="160.3" r=".95"/><circle cx="161.9" cy="158.4" r=".95"/><circle cx="163.8" cy="152.6" r=".95"/><circle cx="162.0" cy="173.1" r=".95"/><circle cx="162.2" cy="171.9" r=".95"/><circle cx="164.1" cy="182.4" r=".95"/><circle cx="162.3" cy="157.0" r=".95"/><circle cx="164.1" cy="157.7" r=".95"/><circle cx="162.0" cy="176.0" r=".95"/><circle cx="164.1" cy="152.7" r=".95"/><circle cx="163.6" cy="171.5" r=".95"/><circle cx="162.1" cy="153.4" r=".95"/><circle cx="163.6" cy="174.4" r=".95"/><circle cx="163.9" cy="165.7" r=".95"/><circle cx="162.2" cy="153.2" r=".95"/><circle cx="162.1" cy="166.5" r=".95"/><circle cx="162.3" cy="166.5" r=".95"/><circle cx="162.2" cy="152.9" r=".95"/><circle cx="163.9" cy="175.8" r=".95"/><circle cx="163.6" cy="162.0" r=".95"/><circle cx="162.1" cy="178.2" r=".95"/><circle cx="162.1" cy="177.3" r=".95"/><circle cx="163.8" cy="155.3" r=".95"/><circle cx="163.8" cy="178.6" r=".95"/><circle cx="163.7" cy="169.9" r=".95"/><circle cx="162.0" cy="164.2" r=".95"/><circle cx="162.4" cy="155.7" r=".95"/><circle cx="163.6" cy="159.8" r=".95"/><circle cx="162.8" cy="140.4" r=".95"/><circle cx="162.7" cy="138.9" r=".95"/><circle cx="162.6" cy="146.9" r=".95"/>
</g>
<g fill="#eb004a" stroke="#eb004a">
<circle cx="165.4" cy="168.1" r=".95"/><circle cx="167.4" cy="178.8" r=".95"/><circle cx="167.4" cy="166.2" r=".95"/><circle cx="166.9" cy="174.5" r=".95"/><circle cx="165.3" cy="162.6" r=".95"/><circle cx="167.1" cy="155.7" r=".95"/><circle cx="167.0" cy="176.8" r=".95"/><circle cx="165.5" cy="183.4" r=".95"/><circle cx="165.7" cy="166.6" r=".95"/><circle cx="165.4" cy="171.2" r=".95"/><circle cx="167.0" cy="161.7" r=".95"/><circle cx="165.2" cy="173.9" r=".95"/><circle cx="166.9" cy="172.0" r=".95"/><circle cx="165.4" cy="167.2" r=".95"/><circle cx="165.7" cy="182.2" r=".95"/><circle cx="167.4" cy="159.8" r=".95"/><circle cx="165.6" cy="162.8" r=".95"/><circle cx="167.1" cy="171.8" r=".95"/><circle cx="165.8" cy="172.5" r=".95"/><circle cx="165.4" cy="159.2" r=".95"/><circle cx="165.8" cy="153.7" r=".95"/><circle cx="167.1" cy="184.5" r=".95"/><circle cx="167.0" cy="180.4" r=".95"/><circle cx="167.1" cy="173.3" r=".95"/><circle cx="166.9" cy="183.1" r=".95"/><circle cx="167.3" cy="163.4" r=".95"/><circle cx="165.3" cy="183.8" r=".95"/><circle cx="165.7" cy="166.7" r=".95"/><circle cx="167.2" cy="175.7" r=".95"/><circle cx="165.6" cy="167.0" r=".95"/><circle cx="167.4" cy="178.4" r=".95"/><circle cx="165.7" cy="161.5" r=".95"/><circle cx="167.1" cy="152.4" r=".95"/><circle cx="165.6" cy="165.0" r=".95"/><circle cx="167.0" cy="156.0" r=".95"/><circle cx="167.0" cy="173.9" r=".95"/><circle cx="167.2" cy="161.7" r=".95"/><circle cx="165.8" cy="158.7" r=".95"/><circle cx="165.7" cy="174.0" r=".95"/><circle cx="167.0" cy="166.6" r=".95"/><circle cx="165.5" cy="153.6" r=".95"/><circle cx="165.3" cy="175.4" r=".95"/><circle cx="166.9" cy="176.3" r=".95"/><circle cx="167.1" cy="164.5" r=".95"/><circle cx="167.4" cy="183.2" r=".95"/><circle cx="165.4" cy="167.4" r=".95"/><circle cx="165.5" cy="165.1" r=".95"/><circle cx="167.4" cy="159.0" r=".95"/><circle cx="165.4" cy="160.4" r=".95"/><circle cx="165.8" cy="169.7" r=".95"/><circle cx="165.6" cy="162.2" r=".95"/><circle cx="167.2" cy="179.8" r=".95"/><circle cx="165.5" cy="167.7" r=".95"/><circle cx="167.2" cy="171.2" r=".95"/><circle cx="165.6" cy="157.7" r=".95"/><circle cx="165.2" cy="166.5" r=".95"/><circle cx="167.1" cy="167.2" r=".95"/><circle cx="167.2" cy="164.8" r=".95"/><circle cx="167.4" cy="173.9" r=".95"/><circle cx="165.4" cy="172.9" r=".95"/><circle cx="168.8" cy="152.4" r=".95"/><circle cx="170.6" cy="157.6" r=".95"/><circle cx="168.5" cy="173.5" r=".95"/><circle cx="168.7" cy="183.0" r=".95"/><circle cx="168.4" cy="175.0" r=".95"/><circle cx="168.8" cy="170.8" r=".95"/><circle cx="168.9" cy="170.6" r=".95"/><circle cx="168.3" cy="184.7" r=".95"/><circle cx="168.5" cy="177.5" r=".95"/><circle cx="168.8" cy="162.5" r=".95"/><circle cx="168.6" cy="161.6" r=".95"/><circle cx="168.6" cy="163.8" r=".95"/><circle cx="168.3" cy="171.0" r=".95"/><circle cx="168.8" cy="163.3" r=".95"/><circle cx="170.4" cy="167.1" r=".95"/><circle cx="168.4" cy="156.8" r=".95"/><circle cx="168.7" cy="164.4" r=".95"/><circle cx="168.6" cy="167.2" r=".95"/><circle cx="170.1" cy="162.5" r=".95"/><circle cx="168.7" cy="160.6" r=".95"/><circle cx="168.4" cy="161.1" r=".95"/><circle cx="170.0" cy="173.5" r=".95"/><circle cx="168.6" cy="155.6" r=".95"/><circle cx="168.9" cy="179.2" r=".95"/><circle cx="168.6" cy="177.8" r=".95"/><circle cx="168.5" cy="178.2" r=".95"/><circle cx="168.4" cy="177.7" r=".95"/><circle cx="168.3" cy="169.3" r=".95"/><circle cx="168.5" cy="156.7" r=".95"/><circle cx="168.5" cy="174.4" r=".95"/><circle cx="170.0" cy="174.0" r=".95"/><circle cx="168.4" cy="176.3" r=".95"/><circle cx="170.2" cy="161.6" r=".95"/><circle cx="168.5" cy="172.3" r=".95"/><circle cx="168.7" cy="161.9" r=".95"/><circle cx="168.8" cy="165.8" r=".95"/><circle cx="168.6" cy="177.0" r=".95"/><circle cx="168.8" cy="172.9" r=".95"/><circle cx="168.8" cy="157.8" r=".95"/><circle cx="168.6" cy="181.7" r=".95"/><circle cx="168.7" cy="154.1" r=".95"/><circle cx="168.9" cy="179.0" r=".95"/><circle cx="168.4" cy="166.7" r=".95"/><circle cx="168.7" cy="161.6" r=".95"/><circle cx="168.3" cy="184.3" r=".95"/><circle cx="168.4" cy="157.4" r=".95"/><circle cx="170.5" cy="171.2" r=".95"/><circle cx="168.9" cy="168.9" r=".95"/><circle cx="168.6" cy="152.8" r=".95"/><circle cx="168.8" cy="160.2" r=".95"/><circle cx="170.0" cy="175.4" r=".95"/><circle cx="168.5" cy="182.6" r=".95"/><circle cx="168.4" cy="166.0" r=".95"/><circle cx="168.5" cy="161.4" r=".95"/><circle cx="168.6" cy="173.4" r=".95"/><circle cx="168.5" cy="161.4" r=".95"/><circle cx="168.9" cy="173.6" r=".95"/><circle cx="168.7" cy="185.1" r=".95"/><circle cx="170.5" cy="175.4" r=".95"/><circle cx="168.4" cy="178.2" r=".95"/><circle cx="168.8" cy="177.4" r=".95"/><circle cx="168.7" cy="158.4" r=".95"/><circle cx="168.7" cy="160.3" r=".95"/><circle cx="168.3" cy="158.1" r=".95"/><circle cx="168.5" cy="152.0" r=".95"/><circle cx="168.5" cy="183.9" r=".95"/><circle cx="168.6" cy="184.8" r=".95"/><circle cx="168.9" cy="157.9" r=".95"/><circle cx="168.9" cy="169.6" r=".95"/><circle cx="168.9" cy="173.5" r=".95"/><circle cx="168.9" cy="168.6" r=".95"/><circle cx="168.6" cy="157.2" r=".95"/><circle cx="168.8" cy="164.8" r=".95"/><circle cx="170.4" cy="157.9" r=".95"/><circle cx="168.6" cy="164.5" r=".95"/><circle cx="168.3" cy="167.5" r=".95"/><circle cx="168.9" cy="170.1" r=".95"/><circle cx="168.5" cy="169.9" r=".95"/><circle cx="168.6" cy="166.1" r=".95"/><circle cx="168.5" cy="157.2" r=".95"/><circle cx="170.3" cy="185.8" r=".95"/><circle cx="168.8" cy="168.7" r=".95"/><circle cx="170.2" cy="180.3" r=".95"/><circle cx="168.5" cy="160.9" r=".95"/><circle cx="168.5" cy="172.5" r=".95"/><circle cx="168.6" cy="154.2" r=".95"/><circle cx="168.5" cy="162.9" r=".95"/><circle cx="168.4" cy="184.8" r=".95"/><circle cx="168.3" cy="174.2" r=".95"/><circle cx="168.5" cy="184.6" r=".95"/><circle cx="170.0" cy="173.4" r=".95"/><circle cx="170.1" cy="179.2" r=".95"/><circle cx="168.7" cy="180.2" r=".95"/><circle cx="168.3" cy="168.1" r=".95"/><circle cx="168.9" cy="159.3" r=".95"/><circle cx="170.3" cy="158.4" r=".95"/><circle cx="168.6" cy="169.6" r=".95"/><circle cx="168.4" cy="168.3" r=".95"/><circle cx="168.4" cy="155.9" r=".95"/><circle cx="168.4" cy="164.0" r=".95"/><circle cx="168.3" cy="162.7" r=".95"/><circle cx="168.8" cy="171.8" r=".95"/><circle cx="168.8" cy="174.7" r=".95"/><circle cx="170.0" cy="161.3" r=".95"/><circle cx="168.3" cy="178.0" r=".95"/><circle cx="168.7" cy="154.8" r=".95"/><circle cx="168.7" cy="158.0" r=".95"/><circle cx="168.4" cy="173.2" r=".95"/><circle cx="168.7" cy="156.3" r=".95"/><circle cx="168.5" cy="177.8" r=".95"/><circle cx="168.6" cy="163.5" r=".95"/><circle cx="168.6" cy="172.0" r=".95"/><circle cx="168.7" cy="153.0" r=".95"/><circle cx="168.5" cy="172.4" r=".95"/><circle cx="168.8" cy="185.4" r=".95"/><circle cx="170.2" cy="167.5" r=".95"/><circle cx="168.9" cy="157.2" r=".95"/><circle cx="168.4" cy="170.7" r=".95"/><circle cx="168.6" cy="173.3" r=".95"/><circle cx="168.9" cy="167.8" r=".95"/><circle cx="168.5" cy="167.3" r=".95"/><circle cx="168.4" cy="185.0" r=".95"/><circle cx="168.5" cy="167.4" r=".95"/><circle cx="168.8" cy="164.6" r=".95"/><circle cx="168.4" cy="170.7" r=".95"/><circle cx="168.5" cy="176.3" r=".95"/><circle cx="168.7" cy="168.2" r=".95"/><circle cx="170.1" cy="163.2" r=".95"/><circle cx="168.7" cy="177.8" r=".95"/><circle cx="168.4" cy="157.1" r=".95"/><circle cx="168.4" cy="165.4" r=".95"/><circle cx="170.2" cy="169.3" r=".95"/><circle cx="168.4" cy="173.7" r=".95"/><circle cx="168.7" cy="175.4" r=".95"/><circle cx="168.4" cy="173.9" r=".95"/><circle cx="168.5" cy="165.0" r=".95"/><circle cx="168.8" cy="156.7" r=".95"/><circle cx="168.3" cy="170.7" r=".95"/><circle cx="168.5" cy="171.2" r=".95"/><circle cx="170.2" cy="178.8" r=".95"/><circle cx="168.5" cy="157.5" r=".95"/><circle cx="168.4" cy="158.8" r=".95"/><circle cx="168.4" cy="155.0" r=".95"/><circle cx="168.5" cy="175.8" r=".95"/><circle cx="168.4" cy="169.0" r=".95"/><circle cx="168.7" cy="171.9" r=".95"/><circle cx="170.0" cy="167.3" r=".95"/><circle cx="168.4" cy="181.8" r=".95"/><circle cx="168.6" cy="183.0" r=".95"/><circle cx="168.8" cy="159.2" r=".95"/><circle cx="170.1" cy="153.1" r=".95"/><circle cx="170.0" cy="167.0" r=".95"/><circle cx="168.9" cy="171.1" r=".95"/><circle cx="168.4" cy="172.5" r=".95"/><circle cx="168.4" cy="174.1" r=".95"/><circle cx="168.9" cy="171.9" r=".95"/><circle cx="168.3" cy="172.4" r=".95"/><circle cx="168.5" cy="155.1" r=".95"/><circle cx="170.0" cy="183.3" r=".95"/><circle cx="168.7" cy="175.0" r=".95"/><circle cx="168.5" cy="163.2" r=".95"/><circle cx="168.3" cy="156.5" r=".95"/><circle cx="168.3" cy="184.4" r=".95"/><circle cx="168.7" cy="174.5" r=".95"/><circle cx="168.5" cy="176.9" r=".95"/><circle cx="170.3" cy="179.2" r=".95"/><circle cx="170.3" cy="163.1" r=".95"/><circle cx="170.5" cy="156.8" r=".95"/><circle cx="168.3" cy="173.9" r=".95"/><circle cx="168.6" cy="164.5" r=".95"/><circle cx="170.2" cy="172.7" r=".95"/><circle cx="168.6" cy="159.7" r=".95"/><circle cx="168.6" cy="181.3" r=".95"/><circle cx="168.6" cy="156.9" r=".95"/><circle cx="168.7" cy="168.0" r=".95"/><circle cx="168.4" cy="169.3" r=".95"/><circle cx="168.3" cy="166.1" r=".95"/><circle cx="168.7" cy="160.9" r=".95"/><circle cx="168.5" cy="167.1" r=".95"/><circle cx="168.7" cy="166.0" r=".95"/><circle cx="168.4" cy="175.5" r=".95"/><circle cx="168.8" cy="171.8" r=".95"/><circle cx="168.7" cy="152.8" r=".95"/><circle cx="168.4" cy="171.0" r=".95"/><circle cx="168.7" cy="168.9" r=".95"/><circle cx="170.5" cy="169.9" r=".95"/><circle cx="170.5" cy="165.6" r=".95"/><circle cx="168.6" cy="165.6" r=".95"/><circle cx="168.3" cy="163.5" r=".95"/><circle cx="170.0" cy="190.0" r=".95"/><circle cx="170.2" cy="145.6" r=".95"/><circle cx="166.2" cy="140.5" r=".95"/><circle cx="166.9" cy="144.4" r=".95"/><circle cx="164.8" cy="148.8" r=".95"/><circle cx="167.2" cy="144.4" r=".95"/><circle cx="167.9" cy="142.4" r=".95"/>
</g>
<g fill="#ed0044" stroke="#ed0044">
<circle cx="177.1" cy="163.5" r=".95"/><circle cx="173.5" cy="180.4" r=".95"/><circle cx="173.4" cy="171.3" r=".95"/><circle cx="172.2" cy="180.3" r=".95"/><circle cx="175.1" cy="174.6" r=".95"/><circle cx="171.9" cy="167.5" r=".95"/><circle cx="173.6" cy="180.8" r=".95"/><circle cx="173.8" cy="170.2" r=".95"/><circle cx="173.5" cy="186.6" r=".95"/><circle cx="173.7" cy="171.1" r=".95"/><circle cx="175.6" cy="161.1" r=".95"/><circle cx="173.6" cy="185.4" r=".95"/><circle cx="175.1" cy="177.1" r=".95"/><circle cx="173.5" cy="184.2" r=".95"/><circle cx="173.8" cy="183.1" r=".95"/><circle cx="173.6" cy="164.4" r=".95"/><circle cx="173.7" cy="181.6" r=".95"/><circle cx="172.1" cy="158.9" r=".95"/><circle cx="175.3" cy="168.8" r=".95"/><circle cx="171.9" cy="167.8" r=".95"/><circle cx="173.8" cy="163.6" r=".95"/><circle cx="172.2" cy="152.8" r=".95"/><circle cx="171.7" cy="166.6" r=".95"/><circle cx="173.9" cy="166.4" r=".95"/><circle cx="176.8" cy="164.4" r=".95"/><circle cx="176.7" cy="180.9" r=".95"/><circle cx="177.2" cy="182.7" r=".95"/><circle cx="173.4" cy="173.6" r=".95"/><circle cx="173.7" cy="174.7" r=".95"/><circle cx="173.3" cy="177.0" r=".95"/><circle cx="173.4" cy="173.5" r=".95"/><circle cx="173.8" cy="155.6" r=".95"/><circle cx="173.5" cy="165.9" r=".95"/><circle cx="173.5" cy="158.4" r=".95"/><circle cx="175.3" cy="153.2" r=".95"/><circle cx="173.7" cy="176.7" r=".95"/><circle cx="173.7" cy="169.1" r=".95"/><circle cx="176.8" cy="162.1" r=".95"/><circle cx="177.0" cy="177.9" r=".95"/><circle cx="171.8" cy="164.4" r=".95"/><circle cx="177.0" cy="153.7" r=".95"/><circle cx="173.4" cy="165.8" r=".95"/><circle cx="175.6" cy="177.2" r=".95"/><circle cx="173.4" cy="174.5" r=".95"/><circle cx="171.8" cy="183.6" r=".95"/><circle cx="176.8" cy="158.7" r=".95"/><circle cx="176.7" cy="187.5" r=".95"/><circle cx="177.3" cy="183.2" r=".95"/><circle cx="176.7" cy="163.5" r=".95"/><circle cx="173.4" cy="173.1" r=".95"/><circle cx="175.1" cy="168.2" r=".95"/><circle cx="173.4" cy="174.5" r=".95"/><circle cx="176.7" cy="176.6" r=".95"/><circle cx="173.3" cy="181.4" r=".95"/><circle cx="175.6" cy="167.0" r=".95"/><circle cx="171.7" cy="166.1" r=".95"/><circle cx="173.6" cy="159.1" r=".95"/><circle cx="173.8" cy="163.6" r=".95"/><circle cx="171.8" cy="183.3" r=".95"/><circle cx="173.6" cy="171.7" r=".95"/><circle cx="175.1" cy="163.7" r=".95"/><circle cx="173.6" cy="177.7" r=".95"/><circle cx="173.2" cy="171.6" r=".95"/><circle cx="173.3" cy="156.4" r=".95"/><circle cx="171.7" cy="170.9" r=".95"/><circle cx="173.6" cy="155.6" r=".95"/><circle cx="175.3" cy="177.6" r=".95"/><circle cx="171.9" cy="152.2" r=".95"/><circle cx="173.8" cy="173.7" r=".95"/><circle cx="173.7" cy="184.8" r=".95"/><circle cx="172.0" cy="165.1" r=".95"/><circle cx="175.5" cy="167.7" r=".95"/><circle cx="173.7" cy="182.7" r=".95"/><circle cx="173.7" cy="163.4" r=".95"/><circle cx="173.2" cy="165.2" r=".95"/><circle cx="173.9" cy="184.6" r=".95"/><circle cx="171.8" cy="162.0" r=".95"/><circle cx="173.5" cy="170.1" r=".95"/><circle cx="172.1" cy="176.4" r=".95"/><circle cx="173.8" cy="177.3" r=".95"/><circle cx="172.1" cy="185.8" r=".95"/><circle cx="176.9" cy="170.6" r=".95"/><circle cx="175.3" cy="164.8" r=".95"/><circle cx="175.2" cy="161.5" r=".95"/><circle cx="177.1" cy="158.6" r=".95"/><circle cx="172.0" cy="171.8" r=".95"/><circle cx="173.7" cy="160.7" r=".95"/><circle cx="173.4" cy="176.8" r=".95"/><circle cx="172.2" cy="177.6" r=".95"/><circle cx="177.1" cy="178.8" r=".95"/><circle cx="173.7" cy="170.2" r=".95"/><circle cx="177.2" cy="174.3" r=".95"/><circle cx="175.5" cy="162.1" r=".95"/><circle cx="175.4" cy="181.7" r=".95"/><circle cx="175.1" cy="160.9" r=".95"/><circle cx="173.5" cy="182.6" r=".95"/><circle cx="176.9" cy="172.1" r=".95"/><circle cx="171.9" cy="171.7" r=".95"/><circle cx="175.6" cy="154.6" r=".95"/><circle cx="171.8" cy="177.7" r=".95"/><circle cx="173.5" cy="169.0" r=".95"/><circle cx="177.1" cy="165.7" r=".95"/><circle cx="173.3" cy="171.2" r=".95"/><circle cx="173.5" cy="175.6" r=".95"/><circle cx="175.3" cy="173.7" r=".95"/><circle cx="173.8" cy="170.9" r=".95"/><circle cx="171.8" cy="174.7" r=".95"/><circle cx="175.2" cy="170.2" r=".95"/><circle cx="177.3" cy="181.1" r=".95"/><circle cx="173.6" cy="175.2" r=".95"/><circle cx="175.3" cy="183.8" r=".95"/><circle cx="178.3" cy="173.6" r=".95"/><circle cx="178.4" cy="179.7" r=".95"/><circle cx="178.3" cy="165.5" r=".95"/><circle cx="178.3" cy="187.1" r=".95"/><circle cx="178.6" cy="182.3" r=".95"/><circle cx="178.7" cy="178.9" r=".95"/><circle cx="178.1" cy="153.2" r=".95"/><circle cx="178.3" cy="187.6" r=".95"/><circle cx="178.4" cy="174.2" r=".95"/><circle cx="178.3" cy="161.8" r=".95"/><circle cx="178.2" cy="174.9" r=".95"/><circle cx="178.5" cy="155.9" r=".95"/><circle cx="178.6" cy="155.2" r=".95"/><circle cx="178.6" cy="166.6" r=".95"/><circle cx="178.2" cy="168.0" r=".95"/><circle cx="178.3" cy="155.3" r=".95"/><circle cx="178.2" cy="158.3" r=".95"/><circle cx="178.6" cy="178.6" r=".95"/><circle cx="178.5" cy="157.7" r=".95"/><circle cx="178.3" cy="169.8" r=".95"/><circle cx="178.2" cy="182.2" r=".95"/><circle cx="178.2" cy="173.3" r=".95"/><circle cx="178.5" cy="164.0" r=".95"/><circle cx="178.2" cy="168.0" r=".95"/><circle cx="178.5" cy="169.6" r=".95"/><circle cx="178.6" cy="172.3" r=".95"/><circle cx="178.3" cy="154.2" r=".95"/><circle cx="178.2" cy="185.3" r=".95"/><circle cx="178.6" cy="166.7" r=".95"/><circle cx="178.2" cy="163.9" r=".95"/><circle cx="178.4" cy="169.5" r=".95"/><circle cx="178.3" cy="177.9" r=".95"/><circle cx="178.4" cy="159.5" r=".95"/><circle cx="178.4" cy="173.1" r=".95"/><circle cx="178.4" cy="164.1" r=".95"/><circle cx="178.6" cy="153.2" r=".95"/><circle cx="178.3" cy="175.8" r=".95"/><circle cx="178.5" cy="170.1" r=".95"/><circle cx="178.3" cy="168.4" r=".95"/><circle cx="178.4" cy="170.4" r=".95"/><circle cx="178.3" cy="164.9" r=".95"/><circle cx="178.2" cy="185.5" r=".95"/><circle cx="178.1" cy="169.0" r=".95"/><circle cx="178.6" cy="169.7" r=".95"/><circle cx="178.4" cy="157.5" r=".95"/><circle cx="178.2" cy="172.1" r=".95"/><circle cx="178.6" cy="171.1" r=".95"/><circle cx="178.4" cy="157.6" r=".95"/><circle cx="178.2" cy="168.3" r=".95"/><circle cx="178.6" cy="181.5" r=".95"/><circle cx="178.3" cy="156.9" r=".95"/><circle cx="178.6" cy="177.3" r=".95"/><circle cx="178.4" cy="180.5" r=".95"/><circle cx="178.3" cy="176.5" r=".95"/><circle cx="178.6" cy="168.6" r=".95"/><circle cx="178.4" cy="156.1" r=".95"/><circle cx="178.3" cy="169.0" r=".95"/><circle cx="178.2" cy="188.2" r=".95"/><circle cx="178.2" cy="169.9" r=".95"/><circle cx="178.3" cy="176.5" r=".95"/><circle cx="178.5" cy="186.1" r=".95"/><circle cx="178.5" cy="159.3" r=".95"/><circle cx="178.2" cy="180.5" r=".95"/><circle cx="178.4" cy="178.8" r=".95"/><circle cx="178.2" cy="183.2" r=".95"/><circle cx="178.5" cy="178.1" r=".95"/><circle cx="178.3" cy="175.0" r=".95"/><circle cx="178.1" cy="169.7" r=".95"/><circle cx="178.2" cy="170.6" r=".95"/><circle cx="178.3" cy="163.5" r=".95"/><circle cx="178.3" cy="175.9" r=".95"/><circle cx="178.7" cy="168.8" r=".95"/><circle cx="178.4" cy="168.1" r=".95"/><circle cx="178.1" cy="161.3" r=".95"/><circle cx="178.2" cy="158.0" r=".95"/><circle cx="178.2" cy="174.0" r=".95"/><circle cx="178.2" cy="164.7" r=".95"/><circle cx="178.5" cy="153.8" r=".95"/><circle cx="178.3" cy="168.6" r=".95"/><circle cx="178.4" cy="179.3" r=".95"/><circle cx="178.2" cy="154.0" r=".95"/><circle cx="178.4" cy="167.8" r=".95"/><circle cx="178.2" cy="178.4" r=".95"/><circle cx="178.2" cy="186.9" r=".95"/><circle cx="178.5" cy="171.9" r=".95"/><circle cx="178.1" cy="173.8" r=".95"/><circle cx="178.5" cy="155.1" r=".95"/><circle cx="178.7" cy="167.8" r=".95"/><circle cx="178.2" cy="160.4" r=".95"/><circle cx="178.3" cy="170.5" r=".95"/><circle cx="178.6" cy="167.2" r=".95"/><circle cx="178.1" cy="174.1" r=".95"/><circle cx="178.1" cy="182.7" r=".95"/><circle cx="178.2" cy="185.6" r=".95"/><circle cx="178.4" cy="165.3" r=".95"/><circle cx="178.5" cy="185.8" r=".95"/><circle cx="178.6" cy="183.6" r=".95"/><circle cx="178.2" cy="175.6" r=".95"/><circle cx="178.2" cy="163.0" r=".95"/><circle cx="178.2" cy="158.0" r=".95"/><circle cx="178.3" cy="159.0" r=".95"/><circle cx="178.5" cy="169.6" r=".95"/><circle cx="178.3" cy="177.3" r=".95"/><circle cx="178.2" cy="177.9" r=".95"/><circle cx="178.1" cy="167.5" r=".95"/><circle cx="178.4" cy="168.1" r=".95"/><circle cx="178.7" cy="173.4" r=".95"/><circle cx="178.2" cy="156.8" r=".95"/><circle cx="178.7" cy="167.2" r=".95"/><circle cx="178.2" cy="170.4" r=".95"/><circle cx="178.3" cy="169.3" r=".95"/><circle cx="178.4" cy="173.6" r=".95"/><circle cx="178.2" cy="176.1" r=".95"/><circle cx="178.5" cy="176.2" r=".95"/><circle cx="178.7" cy="164.4" r=".95"/><circle cx="178.1" cy="170.4" r=".95"/><circle cx="178.4" cy="165.7" r=".95"/><circle cx="178.6" cy="157.6" r=".95"/><circle cx="178.2" cy="161.7" r=".95"/><circle cx="178.7" cy="164.0" r=".95"/><circle cx="178.4" cy="167.7" r=".95"/><circle cx="178.5" cy="156.1" r=".95"/><circle cx="178.6" cy="162.4" r=".95"/><circle cx="178.5" cy="183.3" r=".95"/><circle cx="178.0" cy="195.5" r=".95"/><circle cx="175.0" cy="193.0" r=".95"/><circle cx="177.8" cy="144.2" r=".95"/><circle cx="173.9" cy="151.5" r=".95"/><circle cx="173.7" cy="138.8" r=".95"/><circle cx="173.0" cy="150.5" r=".95"/><circle cx="176.1" cy="140.4" r=".95"/><circle cx="172.6" cy="146.1" r=".95"/><circle cx="175.7" cy="147.9" r=".95"/>
</g>
<g fill="#ef003e" stroke="#ef003e">
<circle cx="183.2" cy="155.6" r=".95"/><circle cx="187.0" cy="164.3" r=".95"/><circle cx="183.4" cy="171.9" r=".95"/><circle cx="186.6" cy="180.7" r=".95"/><circle cx="180.2" cy="187.4" r=".95"/><circle cx="180.2" cy="157.3" r=".95"/><circle cx="186.7" cy="174.3" r=".95"/><circle cx="184.9" cy="172.3" r=".95"/><circle cx="181.6" cy="183.2" r=".95"/><circle cx="180.4" cy="152.4" r=".95"/><circle cx="180.0" cy="157.7" r=".95"/><circle cx="183.3" cy="166.7" r=".95"/><circle cx="184.9" cy="153.6" r=".95"/><circle cx="181.7" cy="168.8" r=".95"/><circle cx="183.6" cy="178.1" r=".95"/><circle cx="186.6" cy="165.9" r=".95"/><circle cx="184.9" cy="158.6" r=".95"/><circle cx="180.2" cy="166.8" r=".95"/><circle cx="180.0" cy="173.8" r=".95"/><circle cx="181.8" cy="164.8" r=".95"/><circle cx="182.0" cy="152.8" r=".95"/><circle cx="186.5" cy="177.2" r=".95"/><circle cx="184.8" cy="151.7" r=".95"/><circle cx="185.1" cy="168.3" r=".95"/><circle cx="183.3" cy="183.1" r=".95"/><circle cx="181.7" cy="157.8" r=".95"/><circle cx="186.6" cy="183.4" r=".95"/><circle cx="183.3" cy="180.9" r=".95"/><circle cx="185.0" cy="171.9" r=".95"/><circle cx="185.1" cy="156.7" r=".95"/><circle cx="183.5" cy="187.2" r=".95"/><circle cx="186.6" cy="171.0" r=".95"/><circle cx="183.5" cy="172.9" r=".95"/><circle cx="179.9" cy="181.4" r=".95"/><circle cx="183.6" cy="168.4" r=".95"/><circle cx="185.3" cy="159.1" r=".95"/><circle cx="185.2" cy="168.8" r=".95"/><circle cx="181.9" cy="187.2" r=".95"/><circle cx="182.0" cy="184.9" r=".95"/><circle cx="183.7" cy="178.4" r=".95"/><circle cx="183.4" cy="187.0" r=".95"/><circle cx="184.9" cy="158.7" r=".95"/><circle cx="181.6" cy="168.8" r=".95"/><circle cx="184.9" cy="151.7" r=".95"/><circle cx="185.3" cy="178.0" r=".95"/><circle cx="183.2" cy="180.9" r=".95"/><circle cx="183.5" cy="152.6" r=".95"/><circle cx="184.9" cy="171.9" r=".95"/><circle cx="183.2" cy="178.3" r=".95"/><circle cx="183.4" cy="182.8" r=".95"/><circle cx="185.4" cy="169.0" r=".95"/><circle cx="179.9" cy="173.5" r=".95"/><circle cx="185.2" cy="168.8" r=".95"/><circle cx="183.2" cy="168.8" r=".95"/><circle cx="185.1" cy="176.7" r=".95"/><circle cx="186.7" cy="158.9" r=".95"/><circle cx="185.3" cy="153.3" r=".95"/><circle cx="183.6" cy="173.1" r=".95"/><circle cx="186.6" cy="178.9" r=".95"/><circle cx="183.1" cy="160.6" r=".95"/><circle cx="181.6" cy="158.1" r=".95"/><circle cx="183.5" cy="166.2" r=".95"/><circle cx="187.0" cy="180.9" r=".95"/><circle cx="183.2" cy="182.0" r=".95"/><circle cx="186.9" cy="180.4" r=".95"/><circle cx="182.0" cy="163.2" r=".95"/><circle cx="183.6" cy="153.4" r=".95"/><circle cx="183.4" cy="176.5" r=".95"/><circle cx="183.1" cy="153.0" r=".95"/><circle cx="183.2" cy="168.5" r=".95"/><circle cx="179.9" cy="162.0" r=".95"/><circle cx="183.5" cy="156.2" r=".95"/><circle cx="183.5" cy="171.2" r=".95"/><circle cx="183.2" cy="184.3" r=".95"/><circle cx="183.5" cy="155.7" r=".95"/><circle cx="183.4" cy="159.1" r=".95"/><circle cx="181.5" cy="171.0" r=".95"/><circle cx="184.8" cy="168.0" r=".95"/><circle cx="184.9" cy="169.5" r=".95"/><circle cx="183.3" cy="168.5" r=".95"/><circle cx="187.0" cy="180.1" r=".95"/><circle cx="186.6" cy="182.5" r=".95"/><circle cx="185.4" cy="170.8" r=".95"/><circle cx="186.6" cy="181.2" r=".95"/><circle cx="185.3" cy="175.5" r=".95"/><circle cx="181.8" cy="160.1" r=".95"/><circle cx="187.1" cy="187.0" r=".95"/><circle cx="181.8" cy="171.0" r=".95"/><circle cx="183.6" cy="172.6" r=".95"/><circle cx="183.4" cy="180.4" r=".95"/><circle cx="185.0" cy="168.3" r=".95"/><circle cx="187.0" cy="175.8" r=".95"/><circle cx="181.7" cy="156.0" r=".95"/><circle cx="185.1" cy="168.5" r=".95"/><circle cx="179.8" cy="173.9" r=".95"/><circle cx="181.5" cy="172.2" r=".95"/><circle cx="185.4" cy="182.0" r=".95"/><circle cx="181.8" cy="172.2" r=".95"/><circle cx="183.5" cy="155.9" r=".95"/><circle cx="183.2" cy="181.1" r=".95"/><circle cx="183.5" cy="165.2" r=".95"/><circle cx="185.2" cy="152.0" r=".95"/><circle cx="179.8" cy="182.3" r=".95"/><circle cx="183.6" cy="159.2" r=".95"/><circle cx="183.3" cy="158.0" r=".95"/><circle cx="180.1" cy="166.2" r=".95"/><circle cx="183.2" cy="156.8" r=".95"/><circle cx="183.0" cy="185.3" r=".95"/><circle cx="181.8" cy="167.9" r=".95"/><circle cx="184.9" cy="162.3" r=".95"/><circle cx="183.2" cy="152.2" r=".95"/><circle cx="183.6" cy="171.4" r=".95"/><circle cx="183.4" cy="184.2" r=".95"/><circle cx="179.9" cy="165.6" r=".95"/><circle cx="180.1" cy="170.2" r=".95"/><circle cx="183.0" cy="181.2" r=".95"/><circle cx="186.8" cy="174.4" r=".95"/><circle cx="181.7" cy="181.1" r=".95"/><circle cx="184.9" cy="159.4" r=".95"/><circle cx="186.5" cy="168.1" r=".95"/><circle cx="180.4" cy="161.6" r=".95"/><circle cx="181.9" cy="176.0" r=".95"/><circle cx="181.9" cy="181.0" r=".95"/><circle cx="183.1" cy="172.5" r=".95"/><circle cx="181.7" cy="177.2" r=".95"/><circle cx="183.6" cy="179.5" r=".95"/><circle cx="185.0" cy="184.6" r=".95"/><circle cx="183.6" cy="155.6" r=".95"/><circle cx="182.0" cy="157.8" r=".95"/><circle cx="183.5" cy="168.7" r=".95"/><circle cx="183.0" cy="176.8" r=".95"/><circle cx="183.7" cy="186.8" r=".95"/><circle cx="185.3" cy="155.2" r=".95"/><circle cx="180.2" cy="180.1" r=".95"/><circle cx="183.5" cy="155.0" r=".95"/><circle cx="183.1" cy="168.5" r=".95"/><circle cx="180.1" cy="157.2" r=".95"/><circle cx="183.0" cy="166.6" r=".95"/><circle cx="187.0" cy="170.6" r=".95"/><circle cx="184.9" cy="177.2" r=".95"/><circle cx="183.4" cy="172.5" r=".95"/><circle cx="184.8" cy="162.9" r=".95"/><circle cx="183.7" cy="188.3" r=".95"/><circle cx="185.2" cy="161.2" r=".95"/><circle cx="180.1" cy="175.3" r=".95"/><circle cx="185.1" cy="156.7" r=".95"/><circle cx="185.0" cy="192.0" r=".95"/><circle cx="182.0" cy="194.0" r=".95"/><circle cx="181.1" cy="140.3" r=".95"/><circle cx="182.0" cy="147.1" r=".95"/><circle cx="187.0" cy="149.5" r=".95"/><circle cx="182.1" cy="139.2" r=".95"/><circle cx="183.6" cy="147.8" r=".95"/><circle cx="182.2" cy="146.6" r=".95"/>
</g>
<g fill="#f20037" stroke="#f20037">
<circle cx="188.0" cy="187.8" r=".95"/><circle cx="193.0" cy="173.9" r=".95"/><circle cx="193.3" cy="169.6" r=".95"/><circle cx="193.4" cy="162.4" r=".95"/><circle cx="191.7" cy="172.1" r=".95"/><circle cx="188.4" cy="181.1" r=".95"/><circle cx="192.8" cy="175.7" r=".95"/><circle cx="189.7" cy="162.7" r=".95"/><circle cx="193.2" cy="180.2" r=".95"/><circle cx="191.8" cy="172.9" r=".95"/><circle cx="188.2" cy="187.7" r=".95"/><circle cx="188.4" cy="170.0" r=".95"/><circle cx="188.4" cy="171.6" r=".95"/><circle cx="191.3" cy="164.0" r=".95"/><circle cx="188.4" cy="169.6" r=".95"/><circle cx="193.4" cy="152.5" r=".95"/><circle cx="193.4" cy="178.3" r=".95"/><circle cx="188.4" cy="184.2" r=".95"/><circle cx="191.4" cy="176.5" r=".95"/><circle cx="193.0" cy="173.3" r=".95"/><circle cx="191.8" cy="153.9" r=".95"/><circle cx="193.5" cy="158.6" r=".95"/><circle cx="189.7" cy="187.3" r=".95"/><circle cx="193.2" cy="155.8" r=".95"/><circle cx="188.5" cy="176.0" r=".95"/><circle cx="188.4" cy="187.8" r=".95"/><circle cx="188.1" cy="159.5" r=".95"/><circle cx="188.1" cy="172.7" r=".95"/><circle cx="193.1" cy="176.4" r=".95"/><circle cx="191.5" cy="160.5" r=".95"/><circle cx="189.7" cy="177.5" r=".95"/><circle cx="191.8" cy="178.1" r=".95"/><circle cx="191.5" cy="165.9" r=".95"/><circle cx="193.3" cy="170.2" r=".95"/><circle cx="188.0" cy="154.5" r=".95"/><circle cx="194.7" cy="184.7" r=".95"/><circle cx="188.0" cy="183.4" r=".95"/><circle cx="188.0" cy="182.7" r=".95"/><circle cx="193.0" cy="159.0" r=".95"/><circle cx="188.3" cy="173.6" r=".95"/><circle cx="193.2" cy="153.3" r=".95"/><circle cx="187.9" cy="162.9" r=".95"/><circle cx="191.3" cy="164.5" r=".95"/><circle cx="193.4" cy="181.5" r=".95"/><circle cx="191.8" cy="183.6" r=".95"/><circle cx="188.2" cy="172.6" r=".95"/><circle cx="191.5" cy="178.8" r=".95"/><circle cx="188.3" cy="175.7" r=".95"/><circle cx="192.9" cy="163.9" r=".95"/><circle cx="193.4" cy="175.7" r=".95"/><circle cx="188.3" cy="166.9" r=".95"/><circle cx="189.9" cy="180.5" r=".95"/><circle cx="188.0" cy="174.0" r=".95"/><circle cx="188.0" cy="165.6" r=".95"/><circle cx="188.5" cy="168.9" r=".95"/><circle cx="187.9" cy="158.3" r=".95"/><circle cx="188.1" cy="168.8" r=".95"/><circle cx="188.0" cy="152.4" r=".95"/><circle cx="188.5" cy="182.7" r=".95"/><circle cx="192.8" cy="184.7" r=".95"/><circle cx="190.0" cy="186.2" r=".95"/><circle cx="191.7" cy="163.2" r=".95"/><circle cx="188.0" cy="153.9" r=".95"/><circle cx="188.3" cy="161.9" r=".95"/><circle cx="193.4" cy="181.0" r=".95"/><circle cx="188.1" cy="172.6" r=".95"/><circle cx="188.1" cy="170.8" r=".95"/><circle cx="188.4" cy="172.0" r=".95"/><circle cx="188.0" cy="166.7" r=".95"/><circle cx="188.0" cy="174.6" r=".95"/><circle cx="193.1" cy="161.3" r=".95"/><circle cx="188.4" cy="186.3" r=".95"/><circle cx="188.0" cy="161.8" r=".95"/><circle cx="188.5" cy="166.9" r=".95"/><circle cx="188.3" cy="178.8" r=".95"/><circle cx="188.1" cy="163.6" r=".95"/><circle cx="188.0" cy="185.8" r=".95"/><circle cx="188.1" cy="178.6" r=".95"/><circle cx="189.8" cy="155.3" r=".95"/><circle cx="188.3" cy="182.6" r=".95"/><circle cx="188.2" cy="184.2" r=".95"/><circle cx="188.5" cy="180.5" r=".95"/><circle cx="188.1" cy="174.5" r=".95"/><circle cx="188.2" cy="179.0" r=".95"/><circle cx="188.1" cy="174.0" r=".95"/><circle cx="189.6" cy="152.7" r=".95"/><circle cx="188.0" cy="155.5" r=".95"/><circle cx="188.4" cy="179.1" r=".95"/><circle cx="188.4" cy="180.1" r=".95"/><circle cx="188.2" cy="163.0" r=".95"/><circle cx="190.0" cy="178.5" r=".95"/><circle cx="187.9" cy="183.7" r=".95"/><circle cx="191.8" cy="173.3" r=".95"/><circle cx="190.0" cy="164.0" r=".95"/><circle cx="193.2" cy="173.4" r=".95"/><circle cx="188.4" cy="174.6" r=".95"/><circle cx="188.1" cy="155.9" r=".95"/><circle cx="188.5" cy="178.4" r=".95"/><circle cx="188.4" cy="162.3" r=".95"/><circle cx="188.4" cy="173.3" r=".95"/><circle cx="188.0" cy="172.9" r=".95"/><circle cx="193.5" cy="174.4" r=".95"/><circle cx="188.0" cy="171.3" r=".95"/><circle cx="188.1" cy="176.5" r=".95"/><circle cx="193.1" cy="184.4" r=".95"/><circle cx="193.1" cy="163.1" r=".95"/><circle cx="191.3" cy="171.4" r=".95"/><circle cx="193.0" cy="156.3" r=".95"/><circle cx="188.4" cy="169.8" r=".95"/><circle cx="188.1" cy="176.2" r=".95"/><circle cx="188.2" cy="178.8" r=".95"/><circle cx="188.1" cy="176.8" r=".95"/><circle cx="188.4" cy="186.6" r=".95"/><circle cx="191.7" cy="163.3" r=".95"/><circle cx="188.3" cy="166.4" r=".95"/><circle cx="193.0" cy="176.4" r=".95"/><circle cx="193.0" cy="177.4" r=".95"/><circle cx="193.2" cy="177.3" r=".95"/><circle cx="193.0" cy="160.1" r=".95"/><circle cx="194.7" cy="166.7" r=".95"/><circle cx="188.3" cy="171.2" r=".95"/><circle cx="188.1" cy="172.0" r=".95"/><circle cx="188.0" cy="151.6" r=".95"/><circle cx="191.4" cy="177.6" r=".95"/><circle cx="188.0" cy="179.2" r=".95"/><circle cx="193.5" cy="170.7" r=".95"/><circle cx="188.3" cy="168.5" r=".95"/><circle cx="188.2" cy="162.8" r=".95"/><circle cx="189.9" cy="164.4" r=".95"/><circle cx="188.2" cy="175.5" r=".95"/><circle cx="188.5" cy="171.1" r=".95"/><circle cx="188.3" cy="153.8" r=".95"/><circle cx="188.2" cy="166.5" r=".95"/><circle cx="193.3" cy="152.3" r=".95"/><circle cx="188.2" cy="176.1" r=".95"/><circle cx="190.0" cy="183.2" r=".95"/><circle cx="188.4" cy="170.8" r=".95"/><circle cx="188.1" cy="156.7" r=".95"/><circle cx="193.3" cy="160.1" r=".95"/><circle cx="193.5" cy="154.8" r=".95"/><circle cx="193.1" cy="163.5" r=".95"/><circle cx="188.2" cy="158.4" r=".95"/><circle cx="188.4" cy="182.1" r=".95"/><circle cx="187.9" cy="171.8" r=".95"/><circle cx="188.3" cy="160.8" r=".95"/><circle cx="188.2" cy="167.9" r=".95"/><circle cx="188.2" cy="171.1" r=".95"/><circle cx="187.9" cy="166.7" r=".95"/><circle cx="193.3" cy="161.0" r=".95"/><circle cx="193.1" cy="176.2" r=".95"/><circle cx="191.3" cy="169.9" r=".95"/><circle cx="188.5" cy="175.6" r=".95"/><circle cx="193.2" cy="151.6" r=".95"/><circle cx="191.4" cy="161.4" r=".95"/><circle cx="188.5" cy="171.8" r=".95"/><circle cx="193.4" cy="166.8" r=".95"/><circle cx="193.1" cy="169.3" r=".95"/><circle cx="193.2" cy="176.7" r=".95"/><circle cx="188.1" cy="151.9" r=".95"/><circle cx="193.0" cy="173.7" r=".95"/><circle cx="194.7" cy="161.4" r=".95"/><circle cx="188.5" cy="172.9" r=".95"/><circle cx="187.9" cy="178.2" r=".95"/><circle cx="191.8" cy="156.9" r=".95"/><circle cx="188.2" cy="187.6" r=".95"/><circle cx="188.3" cy="183.8" r=".95"/><circle cx="188.3" cy="165.2" r=".95"/><circle cx="193.1" cy="160.2" r=".95"/><circle cx="188.0" cy="161.2" r=".95"/><circle cx="191.6" cy="164.9" r=".95"/><circle cx="188.4" cy="170.5" r=".95"/><circle cx="188.3" cy="160.0" r=".95"/><circle cx="193.3" cy="182.8" r=".95"/><circle cx="189.9" cy="175.3" r=".95"/><circle cx="190.0" cy="168.3" r=".95"/><circle cx="188.4" cy="176.6" r=".95"/><circle cx="188.1" cy="159.7" r=".95"/><circle cx="194.7" cy="178.8" r=".95"/><circle cx="192.9" cy="179.4" r=".95"/><circle cx="193.1" cy="173.4" r=".95"/><circle cx="188.4" cy="175.3" r=".95"/><circle cx="193.0" cy="185.8" r=".95"/><circle cx="192.8" cy="171.4" r=".95"/><circle cx="188.4" cy="155.8" r=".95"/><circle cx="194.7" cy="159.5" r=".95"/><circle cx="191.8" cy="167.5" r=".95"/><circle cx="188.1" cy="162.2" r=".95"/><circle cx="188.2" cy="171.6" r=".95"/><circle cx="188.2" cy="176.0" r=".95"/><circle cx="188.0" cy="164.6" r=".95"/><circle cx="188.1" cy="175.6" r=".95"/><circle cx="189.8" cy="160.2" r=".95"/><circle cx="188.2" cy="178.3" r=".95"/><circle cx="188.1" cy="161.8" r=".95"/><circle cx="188.3" cy="156.3" r=".95"/><circle cx="188.2" cy="156.4" r=".95"/><circle cx="188.1" cy="176.5" r=".95"/><circle cx="193.0" cy="164.5" r=".95"/><circle cx="188.4" cy="152.9" r=".95"/><circle cx="188.4" cy="170.7" r=".95"/><circle cx="188.3" cy="166.9" r=".95"/><circle cx="188.1" cy="171.7" r=".95"/><circle cx="188.4" cy="171.5" r=".95"/><circle cx="188.5" cy="188.0" r=".95"/><circle cx="192.0" cy="190.0" r=".95"/><circle cx="190.1" cy="150.6" r=".95"/><circle cx="192.3" cy="145.1" r=".95"/><circle cx="191.8" cy="150.2" r=".95"/><circle cx="193.2" cy="145.3" r=".95"/><circle cx="193.1" cy="144.5" r=".95"/><circle cx="192.3" cy="144.8" r=".95"/>
</g>
<g fill="#f40031" stroke="#f40031">
<circle cx="196.5" cy="165.6" r=".95"/><circle cx="194.9" cy="173.2" r=".95"/><circle cx="196.4" cy="157.3" r=".95"/><circle cx="196.3" cy="156.8" r=".95"/><circle cx="196.8" cy="154.4" r=".95"/><circle cx="196.8" cy="158.9" r=".95"/><circle cx="196.7" cy="155.1" r=".95"/><circle cx="196.8" cy="168.3" r=".95"/><circle cx="196.4" cy="152.9" r=".95"/><circle cx="196.5" cy="178.1" r=".95"/><circle cx="196.4" cy="171.6" r=".95"/><circle cx="196.5" cy="171.6" r=".95"/><circle cx="194.9" cy="166.8" r=".95"/><circle cx="196.4" cy="184.9" r=".95"/><circle cx="194.8" cy="151.8" r=".95"/><circle cx="194.9" cy="183.5" r=".95"/><circle cx="196.6" cy="165.2" r=".95"/><circle cx="196.6" cy="153.7" r=".95"/><circle cx="196.7" cy="170.3" r=".95"/><circle cx="196.7" cy="182.7" r=".95"/><circle cx="196.9" cy="178.6" r=".95"/><circle cx="196.7" cy="183.3" r=".95"/><circle cx="196.8" cy="173.3" r=".95"/><circle cx="196.3" cy="165.5" r=".95"/><circle cx="195.0" cy="161.1" r=".95"/><circle cx="195.1" cy="151.7" r=".95"/><circle cx="196.5" cy="185.2" r=".95"/><circle cx="196.4" cy="180.6" r=".95"/><circle cx="194.8" cy="179.8" r=".95"/><circle cx="194.9" cy="166.1" r=".95"/><circle cx="196.4" cy="155.4" r=".95"/><circle cx="194.8" cy="181.9" r=".95"/><circle cx="194.9" cy="167.4" r=".95"/><circle cx="196.5" cy="155.4" r=".95"/><circle cx="196.6" cy="161.8" r=".95"/><circle cx="194.9" cy="171.5" r=".95"/><circle cx="198.2" cy="178.3" r=".95"/><circle cx="197.8" cy="176.7" r=".95"/><circle cx="198.3" cy="181.4" r=".95"/><circle cx="197.8" cy="161.3" r=".95"/><circle cx="198.0" cy="159.9" r=".95"/><circle cx="197.9" cy="153.7" r=".95"/><circle cx="198.0" cy="156.3" r=".95"/><circle cx="197.7" cy="167.1" r=".95"/><circle cx="198.1" cy="168.1" r=".95"/><circle cx="198.2" cy="165.6" r=".95"/><circle cx="197.7" cy="171.8" r=".95"/><circle cx="201.2" cy="167.4" r=".95"/><circle cx="199.9" cy="152.6" r=".95"/><circle cx="199.8" cy="178.1" r=".95"/><circle cx="197.7" cy="183.3" r=".95"/><circle cx="199.9" cy="158.9" r=".95"/><circle cx="197.9" cy="166.9" r=".95"/><circle cx="201.2" cy="179.7" r=".95"/><circle cx="197.8" cy="181.4" r=".95"/><circle cx="198.0" cy="157.8" r=".95"/><circle cx="197.8" cy="168.2" r=".95"/><circle cx="198.1" cy="157.5" r=".95"/><circle cx="197.8" cy="161.9" r=".95"/><circle cx="197.7" cy="152.6" r=".95"/><circle cx="199.4" cy="170.3" r=".95"/><circle cx="198.1" cy="180.9" r=".95"/><circle cx="197.8" cy="168.5" r=".95"/><circle cx="198.0" cy="169.8" r=".95"/><circle cx="197.9" cy="160.4" r=".95"/><circle cx="197.9" cy="174.5" r=".95"/><circle cx="198.1" cy="163.6" r=".95"/><circle cx="197.8" cy="181.7" r=".95"/><circle cx="198.3" cy="169.5" r=".95"/><circle cx="198.2" cy="163.6" r=".95"/><circle cx="198.1" cy="162.3" r=".95"/><circle cx="198.2" cy="170.3" r=".95"/><circle cx="198.0" cy="172.4" r=".95"/><circle cx="198.0" cy="158.8" r=".95"/><circle cx="197.9" cy="161.9" r=".95"/><circle cx="198.0" cy="170.5" r=".95"/><circle cx="198.0" cy="155.9" r=".95"/><circle cx="197.8" cy="156.7" r=".95"/><circle cx="197.9" cy="155.8" r=".95"/><circle cx="197.8" cy="163.8" r=".95"/><circle cx="198.2" cy="153.5" r=".95"/><circle cx="198.1" cy="156.5" r=".95"/><circle cx="198.0" cy="165.3" r=".95"/><circle cx="197.7" cy="174.6" r=".95"/><circle cx="199.4" cy="163.4" r=".95"/><circle cx="197.8" cy="180.9" r=".95"/><circle cx="198.1" cy="161.0" r=".95"/><circle cx="198.0" cy="167.9" r=".95"/><circle cx="197.8" cy="180.1" r=".95"/><circle cx="197.9" cy="164.1" r=".95"/><circle cx="198.2" cy="163.5" r=".95"/><circle cx="199.5" cy="166.3" r=".95"/><circle cx="199.6" cy="161.6" r=".95"/><circle cx="197.8" cy="157.2" r=".95"/><circle cx="198.2" cy="169.1" r=".95"/><circle cx="197.8" cy="168.6" r=".95"/><circle cx="197.9" cy="154.7" r=".95"/><circle cx="197.8" cy="174.7" r=".95"/><circle cx="197.8" cy="162.6" r=".95"/><circle cx="198.1" cy="181.6" r=".95"/><circle cx="199.8" cy="153.3" r=".95"/><circle cx="198.2" cy="181.1" r=".95"/><circle cx="197.9" cy="180.5" r=".95"/><circle cx="197.9" cy="177.5" r=".95"/><circle cx="198.3" cy="163.0" r=".95"/><circle cx="198.0" cy="169.1" r=".95"/><circle cx="201.1" cy="164.0" r=".95"/><circle cx="198.0" cy="160.1" r=".95"/><circle cx="197.7" cy="167.1" r=".95"/><circle cx="198.0" cy="175.7" r=".95"/><circle cx="199.7" cy="167.7" r=".95"/><circle cx="197.8" cy="171.0" r=".95"/><circle cx="198.0" cy="154.5" r=".95"/><circle cx="197.9" cy="173.7" r=".95"/><circle cx="198.3" cy="176.7" r=".95"/><circle cx="198.0" cy="175.7" r=".95"/><circle cx="197.7" cy="172.8" r=".95"/><circle cx="197.9" cy="165.5" r=".95"/><circle cx="198.2" cy="173.8" r=".95"/><circle cx="199.7" cy="178.3" r=".95"/><circle cx="197.8" cy="176.5" r=".95"/><circle cx="197.9" cy="157.3" r=".95"/><circle cx="198.1" cy="153.2" r=".95"/><circle cx="199.5" cy="159.7" r=".95"/><circle cx="197.9" cy="185.6" r=".95"/><circle cx="199.9" cy="164.5" r=".95"/><circle cx="201.2" cy="171.0" r=".95"/><circle cx="197.8" cy="157.7" r=".95"/><circle cx="198.2" cy="177.0" r=".95"/><circle cx="197.7" cy="176.5" r=".95"/><circle cx="197.9" cy="152.7" r=".95"/><circle cx="198.0" cy="184.0" r=".95"/><circle cx="197.8" cy="158.9" r=".95"/><circle cx="199.7" cy="175.5" r=".95"/><circle cx="198.2" cy="156.7" r=".95"/><circle cx="198.2" cy="175.9" r=".95"/><circle cx="199.8" cy="175.9" r=".95"/><circle cx="198.1" cy="169.8" r=".95"/><circle cx="199.9" cy="154.7" r=".95"/><circle cx="198.3" cy="164.8" r=".95"/><circle cx="201.1" cy="170.2" r=".95"/><circle cx="198.1" cy="168.8" r=".95"/><circle cx="199.5" cy="166.8" r=".95"/><circle cx="198.3" cy="184.7" r=".95"/><circle cx="198.1" cy="166.0" r=".95"/><circle cx="197.8" cy="166.7" r=".95"/><circle cx="200.0" cy="160.0" r=".95"/><circle cx="197.8" cy="168.4" r=".95"/><circle cx="198.2" cy="181.3" r=".95"/><circle cx="198.0" cy="162.4" r=".95"/><circle cx="198.3" cy="175.3" r=".95"/><circle cx="198.0" cy="166.7" r=".95"/><circle cx="197.9" cy="185.7" r=".95"/><circle cx="198.3" cy="157.0" r=".95"/><circle cx="198.2" cy="155.0" r=".95"/><circle cx="199.5" cy="167.1" r=".95"/><circle cx="201.1" cy="163.4" r=".95"/><circle cx="198.2" cy="161.9" r=".95"/><circle cx="197.7" cy="179.2" r=".95"/><circle cx="197.8" cy="153.2" r=".95"/><circle cx="197.7" cy="166.6" r=".95"/><circle cx="198.3" cy="162.4" r=".95"/><circle cx="198.3" cy="180.6" r=".95"/><circle cx="198.0" cy="188.0" r=".95"/><circle cx="197.7" cy="138.4" r=".95"/><circle cx="198.4" cy="151.9" r=".95"/><circle cx="198.2" cy="145.3" r=".95"/><circle cx="196.6" cy="140.6" r=".95"/><circle cx="200.6" cy="146.1" r=".95"/><circle cx="199.4" cy="142.5" r=".95"/>
</g>
<g fill="#f6002a" stroke="#f6002a">
<circle cx="202.6" cy="174.4" r=".95"/><circle cx="204.6" cy="171.3" r=".95"/><circle cx="203.3" cy="158.2" r=".95"/><circle cx="203.1" cy="154.8" r=".95"/><circle cx="201.4" cy="161.9" r=".95"/><circle cx="201.4" cy="162.2" r=".95"/><circle cx="204.5" cy="161.6" r=".95"/><circle cx="202.8" cy="161.4" r=".95"/><circle cx="204.8" cy="157.0" r=".95"/><circle cx="202.7" cy="172.2" r=".95"/><circle cx="204.5" cy="180.8" r=".95"/><circle cx="204.7" cy="168.1" r=".95"/><circle cx="202.9" cy="153.5" r=".95"/><circle cx="203.1" cy="165.5" r=".95"/><circle cx="201.4" cy="175.5" r=".95"/><circle cx="205.0" cy="160.5" r=".95"/><circle cx="201.4" cy="166.6" r=".95"/><circle cx="204.5" cy="155.7" r=".95"/><circle cx="202.9" cy="166.4" r=".95"/><circle cx="202.7" cy="168.4" r=".95"/><circle cx="204.5" cy="173.6" r=".95"/><circle cx="203.1" cy="156.5" r=".95"/><circle cx="204.6" cy="177.1" r=".95"/><circle cx="202.9" cy="153.8" r=".95"/><circle cx="203.2" cy="153.8" r=".95"/><circle cx="204.7" cy="175.8" r=".95"/><circle cx="204.8" cy="174.3" r=".95"/><circle cx="203.1" cy="164.4" r=".95"/><circle cx="201.6" cy="170.6" r=".95"/><circle cx="204.7" cy="181.8" r=".95"/><circle cx="202.9" cy="162.0" r=".95"/><circle cx="203.0" cy="180.1" r=".95"/><circle cx="202.8" cy="153.0" r=".95"/><circle cx="203.2" cy="173.1" r=".95"/><circle cx="201.6" cy="166.0" r=".95"/><circle cx="204.9" cy="170.7" r=".95"/><circle cx="202.9" cy="159.1" r=".95"/><circle cx="202.8" cy="161.9" r=".95"/><circle cx="203.2" cy="162.1" r=".95"/><circle cx="203.1" cy="163.5" r=".95"/><circle cx="201.6" cy="169.1" r=".95"/><circle cx="203.2" cy="167.8" r=".95"/><circle cx="204.9" cy="151.8" r=".95"/><circle cx="202.9" cy="171.9" r=".95"/><circle cx="203.3" cy="154.7" r=".95"/><circle cx="204.5" cy="166.6" r=".95"/><circle cx="204.7" cy="163.9" r=".95"/><circle cx="201.4" cy="176.7" r=".95"/><circle cx="201.4" cy="163.8" r=".95"/><circle cx="203.2" cy="155.7" r=".95"/><circle cx="202.8" cy="152.9" r=".95"/><circle cx="203.1" cy="177.5" r=".95"/><circle cx="204.6" cy="173.9" r=".95"/><circle cx="202.9" cy="170.6" r=".95"/><circle cx="203.0" cy="163.3" r=".95"/><circle cx="202.8" cy="166.2" r=".95"/><circle cx="202.8" cy="164.1" r=".95"/><circle cx="204.5" cy="163.2" r=".95"/><circle cx="202.9" cy="176.8" r=".95"/><circle cx="204.6" cy="172.8" r=".95"/><circle cx="205.2" cy="150.5" r=".95"/><circle cx="203.7" cy="146.3" r=".95"/><circle cx="204.9" cy="147.0" r=".95"/><circle cx="201.6" cy="142.0" r=".95"/><circle cx="203.5" cy="151.4" r=".95"/><circle cx="201.8" cy="150.8" r=".95"/>
</g>
<g fill="#f90023" stroke="#f90023">
<circle cx="206.5" cy="149.1" r=".95"/><circle cx="206.1" cy="169.0" r=".95"/><circle cx="206.6" cy="149.3" r=".95"/><circle cx="206.7" cy="144.3" r=".95"/><circle cx="206.5" cy="148.6" r=".95"/><circle cx="206.4" cy="179.2" r=".95"/><circle cx="206.2" cy="169.4" r=".95"/><circle cx="206.3" cy="166.8" r=".95"/><circle cx="206.5" cy="144.4" r=".95"/><circle cx="206.1" cy="156.8" r=".95"/><circle cx="206.5" cy="154.3" r=".95"/><circle cx="206.1" cy="154.2" r=".95"/><circle cx="206.5" cy="142.2" r=".95"/><circle cx="207.9" cy="152.0" r=".95"/><circle cx="207.8" cy="158.7" r=".95"/><circle cx="207.8" cy="134.2" r=".95"/><circle cx="208.1" cy="133.8" r=".95"/><circle cx="207.9" cy="153.1" r=".95"/><circle cx="207.7" cy="137.6" r=".95"/><circle cx="207.7" cy="133.3" r=".95"/><circle cx="207.8" cy="126.6" r=".95"/><circle cx="207.9" cy="128.7" r=".95"/><circle cx="207.9" cy="157.3" r=".95"/><circle cx="207.9" cy="137.5" r=".95"/><circle cx="207.8" cy="124.9" r=".95"/><circle cx="207.9" cy="127.7" r=".95"/><circle cx="208.0" cy="138.8" r=".95"/><circle cx="207.9" cy="155.4" r=".95"/><circle cx="207.9" cy="126.1" r=".95"/><circle cx="207.6" cy="154.8" r=".95"/><circle cx="207.6" cy="153.8" r=".95"/><circle cx="207.5" cy="139.3" r=".95"/><circle cx="207.8" cy="132.6" r=".95"/><circle cx="207.8" cy="149.0" r=".95"/><circle cx="207.8" cy="161.5" r=".95"/><circle cx="208.0" cy="156.9" r=".95"/><circle cx="207.9" cy="135.7" r=".95"/><circle cx="207.7" cy="135.2" r=".95"/><circle cx="207.9" cy="147.5" r=".95"/><circle cx="207.9" cy="142.6" r=".95"/><circle cx="208.0" cy="137.9" r=".95"/><circle cx="207.7" cy="126.5" r=".95"/><circle cx="207.9" cy="149.0" r=".95"/><circle cx="207.9" cy="130.7" r=".95"/><circle cx="207.6" cy="148.5" r=".95"/><circle cx="207.9" cy="149.2" r=".95"/><circle cx="207.6" cy="139.5" r=".95"/><circle cx="208.0" cy="138.0" r=".95"/><circle cx="207.8" cy="137.6" r=".95"/><circle cx="208.0" cy="157.0" r=".95"/><circle cx="208.0" cy="154.3" r=".95"/><circle cx="207.8" cy="139.1" r=".95"/><circle cx="207.7" cy="146.1" r=".95"/><circle cx="207.8" cy="124.0" r=".95"/><circle cx="207.5" cy="138.7" r=".95"/><circle cx="207.9" cy="154.6" r=".95"/><circle cx="208.0" cy="148.9" r=".95"/><circle cx="207.9" cy="156.0" r=".95"/><circle cx="207.6" cy="153.3" r=".95"/><circle cx="207.5" cy="131.1" r=".95"/><circle cx="208.0" cy="143.2" r=".95"/><circle cx="207.6" cy="135.8" r=".95"/><circle cx="208.0" cy="156.4" r=".95"/><circle cx="207.9" cy="130.4" r=".95"/><circle cx="207.9" cy="152.8" r=".95"/>
</g>
<g fill="#fb001a" stroke="#fb001a">
<circle cx="211.0" cy="141.3" r=".95"/><circle cx="210.9" cy="153.8" r=".95"/><circle cx="209.6" cy="121.0" r=".95"/><circle cx="209.6" cy="137.6" r=".95"/><circle cx="211.0" cy="142.8" r=".95"/><circle cx="209.6" cy="130.3" r=".95"/><circle cx="210.9" cy="140.9" r=".95"/><circle cx="211.2" cy="133.4" r=".95"/><circle cx="209.7" cy="149.0" r=".95"/><circle cx="211.1" cy="121.4" r=".95"/><circle cx="211.0" cy="143.3" r=".95"/><circle cx="209.3" cy="145.1" r=".95"/>
</g>
<g fill="#fd000f" stroke="#fd000f">
<circle cx="212.5" cy="126.9" r=".95"/><circle cx="212.4" cy="128.0" r=".95"/><circle cx="212.6" cy="129.6" r=".95"/><circle cx="212.9" cy="125.8" r=".95"/><circle cx="212.4" cy="140.3" r=".95"/><circle cx="212.6" cy="130.9" r=".95"/><circle cx="212.7" cy="150.1" r=".95"/><circle cx="212.8" cy="127.6" r=".95"/><circle cx="212.8" cy="143.6" r=".95"/><circle cx="211.3" cy="140.4" r=".95"/><circle cx="212.8" cy="128.2" r=".95"/><circle cx="212.8" cy="123.4" r=".95"/><circle cx="212.9" cy="127.9" r=".95"/><circle cx="212.8" cy="118.2" r=".95"/><circle cx="212.7" cy="123.7" r=".95"/><circle cx="212.8" cy="101.0" r=".95"/>
</g>
<g fill="#ff0000" stroke="#ff0000">
<circle cx="216.4" cy="136.9" r=".95"/><circle cx="214.4" cy="123.0" r=".95"/><circle cx="214.7" cy="137.9" r=".95"/><circle cx="216.5" cy="147.0" r=".95"/><circle cx="214.7" cy="112.9" r=".95"/><circle cx="214.3" cy="148.0" r=".95"/><circle cx="214.4" cy="129.1" r=".95"/><circle cx="216.2" cy="124.2" r=".95"/><circle cx="216.2" cy="119.2" r=".95"/><circle cx="214.7" cy="136.5" r=".95"/><circle cx="216.3" cy="112.5" r=".95"/><circle cx="217.3" cy="136.3" r=".95"/><circle cx="219.0" cy="117.8" r=".95"/><circle cx="217.4" cy="112.5" r=".95"/><circle cx="222.5" cy="121.7" r=".95"/><circle cx="222.4" cy="137.2" r=".95"/><circle cx="219.0" cy="131.3" r=".95"/><circle cx="222.3" cy="117.2" r=".95"/><circle cx="217.9" cy="113.6" r=".95"/><circle cx="217.4" cy="131.8" r=".95"/><circle cx="225.9" cy="133.4" r=".95"/><circle cx="217.4" cy="150.4" r=".95"/><circle cx="222.5" cy="115.7" r=".95"/><circle cx="217.7" cy="121.7" r=".95"/><circle cx="222.8" cy="119.5" r=".95"/><circle cx="217.4" cy="115.5" r=".95"/><circle cx="217.4" cy="121.2" r=".95"/><circle cx="217.8" cy="129.3" r=".95"/><circle cx="217.4" cy="125.5" r=".95"/><circle cx="224.3" cy="142.2" r=".95"/><circle cx="217.4" cy="127.9" r=".95"/><circle cx="222.6" cy="130.8" r=".95"/><circle cx="220.7" cy="132.2" r=".95"/><circle cx="222.3" cy="146.3" r=".95"/><circle cx="217.4" cy="111.5" r=".95"/><circle cx="217.8" cy="149.7" r=".95"/><circle cx="226.2" cy="131.4" r=".95"/><circle cx="217.8" cy="107.0" r=".95"/><circle cx="222.7" cy="128.5" r=".95"/><circle cx="224.2" cy="130.3" r=".95"/><circle cx="222.7" cy="116.9" r=".95"/><circle cx="217.5" cy="112.4" r=".95"/><circle cx="217.8" cy="127.1" r=".95"/><circle cx="217.6" cy="142.1" r=".95"/><circle cx="217.9" cy="108.9" r=".95"/><circle cx="217.4" cy="144.1" r=".95"/><circle cx="217.8" cy="123.9" r=".95"/><circle cx="217.7" cy="120.7" r=".95"/><circle cx="217.7" cy="121.9" r=".95"/><circle cx="217.8" cy="126.2" r=".95"/><circle cx="220.9" cy="143.6" r=".95"/><circle cx="219.2" cy="107.6" r=".95"/><circle cx="217.3" cy="125.9" r=".95"/><circle cx="227.5" cy="140.3" r=".95"/><circle cx="227.1" cy="138.9" r=".95"/><circle cx="227.4" cy="125.0" r=".95"/><circle cx="227.4" cy="115.0" r=".95"/><circle cx="227.6" cy="121.2" r=".95"/><circle cx="229.0" cy="117.7" r=".95"/><circle cx="227.4" cy="117.4" r=".95"/><circle cx="227.6" cy="135.2" r=".95"/><circle cx="232.6" cy="132.8" r=".95"/><circle cx="227.3" cy="133.4" r=".95"/><circle cx="227.4" cy="138.1" r=".95"/><circle cx="229.2" cy="150.6" r=".95"/><circle cx="227.3" cy="138.7" r=".95"/><circle cx="227.2" cy="141.3" r=".95"/><circle cx="235.7" cy="127.0" r=".95"/><circle cx="229.1" cy="127.3" r=".95"/><circle cx="227.3" cy="148.8" r=".95"/><circle cx="227.6" cy="113.2" r=".95"/><circle cx="232.3" cy="116.5" r=".95"/><circle cx="227.2" cy="126.0" r=".95"/><circle cx="227.3" cy="137.1" r=".95"/><circle cx="229.2" cy="134.3" r=".95"/><circle cx="227.5" cy="130.6" r=".95"/><circle cx="228.8" cy="124.7" r=".95"/><circle cx="227.6" cy="123.7" r=".95"/><circle cx="227.5" cy="138.1" r=".95"/><circle cx="227.3" cy="119.5" r=".95"/><circle cx="230.7" cy="132.3" r=".95"/><circle cx="237.0" cy="131.9" r=".95"/><circle cx="245.5" cy="120.6" r=".95"/><circle cx="237.1" cy="112.0" r=".95"/><circle cx="238.6" cy="126.6" r=".95"/><circle cx="242.0" cy="126.9" r=".95"/><circle cx="237.5" cy="135.3" r=".95"/><circle cx="240.4" cy="133.6" r=".95"/><circle cx="237.2" cy="127.4" r=".95"/><circle cx="237.1" cy="132.0" r=".95"/><circle cx="237.4" cy="122.1" r=".95"/><circle cx="237.3" cy="134.2" r=".95"/><circle cx="237.1" cy="129.5" r=".95"/><circle cx="237.2" cy="122.2" r=".95"/><circle cx="240.3" cy="131.7" r=".95"/><circle cx="244.1" cy="133.1" r=".95"/><circle cx="240.4" cy="129.7" r=".95"/><circle cx="237.2" cy="114.0" r=".95"/><circle cx="237.1" cy="135.3" r=".95"/><circle cx="237.0" cy="145.2" r=".95"/><circle cx="237.2" cy="142.5" r=".95"/><circle cx="237.0" cy="127.7" r=".95"/><circle cx="237.4" cy="128.7" r=".95"/><circle cx="237.2" cy="123.8" r=".95"/><circle cx="238.6" cy="117.7" r=".95"/><circle cx="242.2" cy="140.6" r=".95"/><circle cx="247.2" cy="130.6" r=".95"/><circle cx="252.2" cy="137.2" r=".95"/><circle cx="246.8" cy="121.2" r=".95"/><circle cx="246.8" cy="118.1" r=".95"/><circle cx="252.3" cy="132.8" r=".95"/><circle cx="246.8" cy="137.5" r=".95"/><circle cx="251.8" cy="129.3" r=".95"/><circle cx="247.3" cy="135.6" r=".95"/><circle cx="246.9" cy="131.0" r=".95"/><circle cx="247.2" cy="140.8" r=".95"/><circle cx="246.7" cy="126.0" r=".95"/><circle cx="247.2" cy="123.4" r=".95"/><circle cx="247.1" cy="133.3" r=".95"/><circle cx="246.8" cy="130.3" r=".95"/><circle cx="248.6" cy="129.0" r=".95"/><circle cx="247.3" cy="126.7" r=".95"/><circle cx="246.8" cy="146.9" r=".95"/><circle cx="247.3" cy="134.1" r=".95"/><circle cx="246.7" cy="138.3" r=".95"/><circle cx="252.0" cy="125.0" r=".95"/><circle cx="246.9" cy="139.9" r=".95"/><circle cx="246.8" cy="114.3" r=".95"/><circle cx="260.3" cy="147.5" r=".95"/><circle cx="256.9" cy="126.9" r=".95"/><circle cx="256.7" cy="125.6" r=".95"/><circle cx="261.8" cy="129.8" r=".95"/><circle cx="256.5" cy="120.4" r=".95"/><circle cx="257.0" cy="119.0" r=".95"/><circle cx="256.8" cy="128.1" r=".95"/><circle cx="256.8" cy="119.4" r=".95"/><circle cx="261.9" cy="128.4" r=".95"/><circle cx="258.6" cy="129.0" r=".95"/><circle cx="257.0" cy="137.1" r=".95"/><circle cx="256.7" cy="117.6" r=".95"/><circle cx="256.6" cy="114.6" r=".95"/><circle cx="256.6" cy="129.5" r=".95"/><circle cx="261.8" cy="141.2" r=".95"/><circle cx="256.6" cy="127.9" r=".95"/><circle cx="256.8" cy="124.3" r=".95"/><circle cx="259.9" cy="132.4" r=".95"/><circle cx="256.6" cy="132.0" r=".95"/><circle cx="256.5" cy="140.0" r=".95"/><circle cx="262.1" cy="128.1" r=".95"/><circle cx="266.9" cy="123.0" r=".95"/><circle cx="266.6" cy="142.0" r=".95"/><circle cx="266.4" cy="114.0" r=".95"/><circle cx="266.6" cy="139.3" r=".95"/><circle cx="266.7" cy="119.8" r=".95"/><circle cx="266.6" cy="136.4" r=".95"/><circle cx="266.4" cy="133.1" r=".95"/><circle cx="266.8" cy="113.4" r=".95"/><circle cx="266.6" cy="124.6" r=".95"/><circle cx="266.4" cy="141.6" r=".95"/><circle cx="266.7" cy="130.5" r=".95"/><circle cx="266.6" cy="130.5" r=".95"/><circle cx="266.6" cy="139.3" r=".95"/><circle cx="266.5" cy="129.0" r=".95"/><circle cx="266.4" cy="116.6" r=".95"/><circle cx="214.6" cy="87.0" r=".95"/><circle cx="217.5" cy="91.0" r=".95"/><circle cx="221.0" cy="93.0" r=".95"/><circle cx="256.6" cy="89.8" r=".95"/><circle cx="256.6" cy="98.6" r=".95"/><circle cx="266.8" cy="102.3" r=".95"/><circle cx="263.6" cy="109.0" r=".95"/><circle cx="221.0" cy="155.0" r=".95"/><circle cx="227.0" cy="156.0" r=".95"/><circle cx="236.0" cy="156.0" r=".95"/><circle cx="244.5" cy="155.5" r=".95"/><circle cx="222.0" cy="162.6" r=".95"/><circle cx="227.5" cy="162.0" r=".95"/><circle cx="247.0" cy="161.0" r=".95"/><circle cx="217.4" cy="135.9" r=".95"/><circle cx="217.8" cy="119.8" r=".95"/><circle cx="217.6" cy="133.3" r=".95"/><circle cx="217.3" cy="132.3" r=".95"/><circle cx="217.9" cy="131.1" r=".95"/><circle cx="217.3" cy="104.4" r=".95"/><circle cx="217.4" cy="113.5" r=".95"/><circle cx="217.6" cy="115.6" r=".95"/><circle cx="217.5" cy="104.3" r=".95"/><circle cx="218.0" cy="123.1" r=".95"/><circle cx="218.0" cy="118.2" r=".95"/><circle cx="217.5" cy="147.1" r=".95"/><circle cx="217.3" cy="121.9" r=".95"/><circle cx="217.9" cy="118.7" r=".95"/><circle cx="217.7" cy="123.8" r=".95"/><circle cx="217.8" cy="103.7" r=".95"/><circle cx="217.5" cy="112.1" r=".95"/><circle cx="217.8" cy="109.6" r=".95"/><circle cx="217.7" cy="130.5" r=".95"/><circle cx="218.0" cy="133.8" r=".95"/><circle cx="217.2" cy="122.9" r=".95"/><circle cx="217.6" cy="102.5" r=".95"/><circle cx="217.3" cy="131.7" r=".95"/><circle cx="217.5" cy="148.7" r=".95"/><circle cx="217.7" cy="111.3" r=".95"/>
</g>
</g>
<g clip-path="url(#cr)" fill-opacity="0.25" stroke-opacity="0.5" stroke-width="0.45">
<g fill="#0000ff" stroke="#0000ff">
<circle cx="429.4" cy="114.0" r=".95"/><circle cx="440.4" cy="125.4" r=".95"/><circle cx="438.8" cy="119.9" r=".95"/><circle cx="435.3" cy="144.1" r=".95"/><circle cx="435.5" cy="136.1" r=".95"/><circle cx="435.4" cy="113.1" r=".95"/><circle cx="437.3" cy="145.3" r=".95"/><circle cx="439.1" cy="122.2" r=".95"/><circle cx="441.9" cy="131.6" r=".95"/><circle cx="442.3" cy="139.8" r=".95"/><circle cx="435.7" cy="129.5" r=".95"/><circle cx="442.0" cy="118.1" r=".95"/><circle cx="435.3" cy="121.0" r=".95"/><circle cx="442.1" cy="127.9" r=".95"/><circle cx="440.3" cy="141.0" r=".95"/><circle cx="438.7" cy="134.1" r=".95"/><circle cx="435.7" cy="128.2" r=".95"/><circle cx="437.4" cy="132.4" r=".95"/><circle cx="437.2" cy="113.2" r=".95"/><circle cx="440.2" cy="142.1" r=".95"/><circle cx="437.4" cy="144.6" r=".95"/><circle cx="440.7" cy="125.0" r=".95"/><circle cx="440.5" cy="113.4" r=".95"/><circle cx="440.4" cy="140.2" r=".95"/><circle cx="438.7" cy="115.7" r=".95"/><circle cx="437.3" cy="131.1" r=".95"/><circle cx="440.2" cy="118.1" r=".95"/><circle cx="435.7" cy="133.6" r=".95"/><circle cx="437.4" cy="135.7" r=".95"/><circle cx="442.1" cy="129.3" r=".95"/><circle cx="442.2" cy="116.2" r=".95"/><circle cx="440.1" cy="117.2" r=".95"/><circle cx="435.4" cy="134.5" r=".95"/><circle cx="435.8" cy="143.5" r=".95"/><circle cx="435.8" cy="136.7" r=".95"/><circle cx="435.5" cy="121.1" r=".95"/><circle cx="442.3" cy="121.0" r=".95"/><circle cx="439.1" cy="115.1" r=".95"/><circle cx="440.4" cy="112.7" r=".95"/><circle cx="440.4" cy="124.0" r=".95"/><circle cx="438.7" cy="145.2" r=".95"/><circle cx="435.3" cy="141.0" r=".95"/><circle cx="442.4" cy="134.8" r=".95"/><circle cx="440.4" cy="121.9" r=".95"/><circle cx="442.1" cy="137.4" r=".95"/><circle cx="438.9" cy="127.9" r=".95"/><circle cx="439.0" cy="116.0" r=".95"/><circle cx="442.3" cy="115.9" r=".95"/><circle cx="438.7" cy="132.2" r=".95"/><circle cx="435.3" cy="128.6" r=".95"/><circle cx="438.7" cy="114.8" r=".95"/><circle cx="435.7" cy="144.4" r=".95"/><circle cx="435.6" cy="142.6" r=".95"/><circle cx="440.6" cy="123.1" r=".95"/><circle cx="435.7" cy="131.8" r=".95"/><circle cx="438.6" cy="124.5" r=".95"/><circle cx="435.4" cy="143.7" r=".95"/><circle cx="442.0" cy="136.0" r=".95"/><circle cx="435.5" cy="123.5" r=".95"/><circle cx="435.6" cy="117.3" r=".95"/><circle cx="440.3" cy="113.5" r=".95"/><circle cx="440.7" cy="134.2" r=".95"/><circle cx="437.5" cy="113.2" r=".95"/><circle cx="440.6" cy="127.0" r=".95"/><circle cx="440.8" cy="132.3" r=".95"/><circle cx="440.7" cy="118.9" r=".95"/><circle cx="437.3" cy="126.8" r=".95"/><circle cx="435.7" cy="124.9" r=".95"/><circle cx="435.7" cy="125.8" r=".95"/><circle cx="435.6" cy="128.9" r=".95"/><circle cx="435.8" cy="125.9" r=".95"/><circle cx="435.5" cy="118.8" r=".95"/><circle cx="439.0" cy="123.2" r=".95"/><circle cx="440.5" cy="132.5" r=".95"/><circle cx="438.8" cy="138.4" r=".95"/><circle cx="440.5" cy="141.5" r=".95"/><circle cx="435.6" cy="143.1" r=".95"/><circle cx="435.6" cy="122.2" r=".95"/><circle cx="440.7" cy="133.9" r=".95"/><circle cx="435.7" cy="143.4" r=".95"/><circle cx="442.0" cy="134.4" r=".95"/><circle cx="435.7" cy="136.0" r=".95"/><circle cx="435.7" cy="117.8" r=".95"/><circle cx="435.3" cy="133.6" r=".95"/><circle cx="435.8" cy="112.0" r=".95"/><circle cx="435.6" cy="130.8" r=".95"/><circle cx="435.6" cy="142.9" r=".95"/><circle cx="440.2" cy="130.5" r=".95"/><circle cx="439.0" cy="134.0" r=".95"/><circle cx="437.1" cy="140.7" r=".95"/><circle cx="435.3" cy="138.8" r=".95"/><circle cx="435.6" cy="126.0" r=".95"/><circle cx="437.2" cy="130.4" r=".95"/><circle cx="437.4" cy="121.2" r=".95"/><circle cx="442.3" cy="150.1" r=".95"/><circle cx="437.0" cy="126.6" r=".95"/><circle cx="435.6" cy="124.4" r=".95"/><circle cx="435.7" cy="116.8" r=".95"/><circle cx="440.5" cy="118.0" r=".95"/><circle cx="437.1" cy="131.2" r=".95"/><circle cx="435.7" cy="136.2" r=".95"/><circle cx="435.6" cy="132.9" r=".95"/><circle cx="440.7" cy="118.1" r=".95"/><circle cx="439.0" cy="128.7" r=".95"/><circle cx="438.7" cy="140.7" r=".95"/><circle cx="435.5" cy="133.8" r=".95"/><circle cx="435.3" cy="140.1" r=".95"/><circle cx="437.2" cy="129.9" r=".95"/><circle cx="442.1" cy="141.9" r=".95"/><circle cx="440.6" cy="139.4" r=".95"/><circle cx="439.0" cy="131.8" r=".95"/><circle cx="440.4" cy="146.7" r=".95"/><circle cx="435.2" cy="131.9" r=".95"/><circle cx="438.8" cy="143.7" r=".95"/><circle cx="440.2" cy="135.3" r=".95"/><circle cx="439.1" cy="119.3" r=".95"/><circle cx="435.3" cy="129.6" r=".95"/><circle cx="440.7" cy="140.1" r=".95"/><circle cx="438.8" cy="119.9" r=".95"/><circle cx="440.6" cy="116.4" r=".95"/><circle cx="435.3" cy="115.7" r=".95"/><circle cx="437.1" cy="115.4" r=".95"/><circle cx="438.7" cy="143.0" r=".95"/><circle cx="440.8" cy="140.2" r=".95"/><circle cx="440.4" cy="140.9" r=".95"/><circle cx="440.6" cy="113.6" r=".95"/><circle cx="437.2" cy="116.8" r=".95"/><circle cx="426.4" cy="111.9" r=".95"/><circle cx="426.4" cy="129.4" r=".95"/><circle cx="431.0" cy="127.8" r=".95"/><circle cx="426.4" cy="137.0" r=".95"/><circle cx="431.0" cy="138.5" r=".95"/>
</g>
<g fill="#3500f9" stroke="#3500f9">
<circle cx="444.1" cy="150.9" r=".95"/><circle cx="444.0" cy="126.7" r=".95"/><circle cx="443.7" cy="129.5" r=".95"/><circle cx="443.6" cy="141.0" r=".95"/><circle cx="443.9" cy="118.7" r=".95"/><circle cx="443.8" cy="141.2" r=".95"/><circle cx="443.7" cy="149.9" r=".95"/><circle cx="443.6" cy="130.9" r=".95"/><circle cx="443.9" cy="153.7" r=".95"/><circle cx="443.6" cy="139.2" r=".95"/><circle cx="444.0" cy="121.8" r=".95"/><circle cx="443.9" cy="149.8" r=".95"/><circle cx="443.6" cy="122.0" r=".95"/><circle cx="443.6" cy="137.7" r=".95"/><circle cx="443.6" cy="148.4" r=".95"/><circle cx="443.9" cy="153.0" r=".95"/><circle cx="444.1" cy="143.5" r=".95"/><circle cx="444.0" cy="138.6" r=".95"/><circle cx="444.0" cy="120.3" r=".95"/><circle cx="443.6" cy="130.6" r=".95"/><circle cx="444.1" cy="125.3" r=".95"/><circle cx="443.9" cy="118.7" r=".95"/><circle cx="443.8" cy="146.0" r=".95"/><circle cx="443.6" cy="149.3" r=".95"/><circle cx="445.1" cy="137.3" r=".95"/><circle cx="445.4" cy="129.3" r=".95"/><circle cx="447.1" cy="157.0" r=".95"/><circle cx="445.5" cy="124.5" r=".95"/><circle cx="445.1" cy="142.8" r=".95"/><circle cx="445.1" cy="122.5" r=".95"/><circle cx="445.1" cy="152.9" r=".95"/><circle cx="445.3" cy="127.5" r=".95"/><circle cx="445.1" cy="120.7" r=".95"/><circle cx="445.0" cy="123.2" r=".95"/><circle cx="447.1" cy="145.2" r=".95"/><circle cx="445.5" cy="140.3" r=".95"/><circle cx="445.1" cy="149.7" r=".95"/><circle cx="445.3" cy="144.1" r=".95"/><circle cx="445.5" cy="139.2" r=".95"/><circle cx="445.1" cy="152.7" r=".95"/><circle cx="445.5" cy="134.6" r=".95"/><circle cx="445.1" cy="133.7" r=".95"/><circle cx="445.4" cy="153.0" r=".95"/><circle cx="445.4" cy="126.4" r=".95"/><circle cx="445.4" cy="155.8" r=".95"/><circle cx="445.0" cy="139.2" r=".95"/><circle cx="447.1" cy="133.2" r=".95"/><circle cx="445.5" cy="135.7" r=".95"/><circle cx="445.5" cy="142.0" r=".95"/><circle cx="445.2" cy="148.7" r=".95"/><circle cx="447.0" cy="130.9" r=".95"/><circle cx="445.2" cy="144.1" r=".95"/><circle cx="445.5" cy="128.9" r=".95"/><circle cx="445.3" cy="155.1" r=".95"/><circle cx="445.5" cy="123.0" r=".95"/><circle cx="445.0" cy="133.3" r=".95"/><circle cx="445.1" cy="141.6" r=".95"/><circle cx="445.2" cy="124.2" r=".95"/><circle cx="445.2" cy="145.3" r=".95"/><circle cx="445.1" cy="137.4" r=".95"/><circle cx="447.0" cy="146.4" r=".95"/><circle cx="445.3" cy="134.5" r=".95"/><circle cx="445.3" cy="149.5" r=".95"/><circle cx="445.5" cy="126.8" r=".95"/><circle cx="445.5" cy="140.9" r=".95"/><circle cx="445.1" cy="133.8" r=".95"/><circle cx="445.4" cy="142.8" r=".95"/><circle cx="445.5" cy="156.6" r=".95"/><circle cx="447.0" cy="118.8" r=".95"/><circle cx="445.1" cy="120.2" r=".95"/><circle cx="445.4" cy="138.0" r=".95"/><circle cx="447.0" cy="132.2" r=".95"/><circle cx="445.1" cy="144.7" r=".95"/><circle cx="445.0" cy="139.4" r=".95"/><circle cx="445.4" cy="124.0" r=".95"/><circle cx="445.3" cy="126.9" r=".95"/><circle cx="445.1" cy="144.8" r=".95"/><circle cx="445.1" cy="133.2" r=".95"/><circle cx="445.3" cy="138.7" r=".95"/><circle cx="446.9" cy="134.0" r=".95"/><circle cx="445.1" cy="121.3" r=".95"/><circle cx="445.2" cy="133.4" r=".95"/><circle cx="445.2" cy="152.4" r=".95"/><circle cx="445.2" cy="154.8" r=".95"/><circle cx="445.5" cy="142.8" r=".95"/><circle cx="445.4" cy="139.6" r=".95"/><circle cx="445.1" cy="122.7" r=".95"/><circle cx="445.1" cy="121.1" r=".95"/><circle cx="445.1" cy="144.3" r=".95"/><circle cx="447.0" cy="151.6" r=".95"/><circle cx="445.4" cy="136.7" r=".95"/><circle cx="445.5" cy="123.9" r=".95"/><circle cx="445.3" cy="130.9" r=".95"/><circle cx="445.0" cy="130.9" r=".95"/><circle cx="445.5" cy="125.0" r=".95"/><circle cx="445.2" cy="148.2" r=".95"/><circle cx="447.1" cy="127.9" r=".95"/><circle cx="446.9" cy="152.5" r=".95"/><circle cx="445.2" cy="129.9" r=".95"/><circle cx="445.1" cy="131.3" r=".95"/><circle cx="445.1" cy="120.1" r=".95"/><circle cx="445.5" cy="122.0" r=".95"/><circle cx="445.3" cy="146.3" r=".95"/><circle cx="445.5" cy="150.1" r=".95"/><circle cx="445.5" cy="146.6" r=".95"/><circle cx="445.3" cy="137.4" r=".95"/><circle cx="445.3" cy="125.8" r=".95"/><circle cx="445.2" cy="125.8" r=".95"/><circle cx="445.5" cy="126.2" r=".95"/><circle cx="446.6" cy="150.3" r=".95"/><circle cx="445.1" cy="136.1" r=".95"/><circle cx="445.2" cy="135.7" r=".95"/><circle cx="445.5" cy="153.0" r=".95"/><circle cx="445.0" cy="146.4" r=".95"/><circle cx="447.1" cy="124.3" r=".95"/><circle cx="445.5" cy="141.7" r=".95"/><circle cx="445.2" cy="125.4" r=".95"/><circle cx="445.0" cy="142.8" r=".95"/><circle cx="445.1" cy="149.1" r=".95"/><circle cx="445.2" cy="143.9" r=".95"/><circle cx="445.5" cy="133.4" r=".95"/><circle cx="446.9" cy="139.3" r=".95"/><circle cx="445.0" cy="120.1" r=".95"/><circle cx="445.0" cy="142.1" r=".95"/><circle cx="445.0" cy="146.2" r=".95"/><circle cx="446.6" cy="132.9" r=".95"/><circle cx="445.4" cy="125.3" r=".95"/><circle cx="445.5" cy="126.6" r=".95"/><circle cx="445.4" cy="142.8" r=".95"/><circle cx="445.0" cy="148.0" r=".95"/><circle cx="445.0" cy="133.7" r=".95"/><circle cx="445.3" cy="125.7" r=".95"/><circle cx="445.1" cy="131.8" r=".95"/><circle cx="446.6" cy="146.0" r=".95"/><circle cx="445.0" cy="150.3" r=".95"/><circle cx="445.1" cy="139.5" r=".95"/><circle cx="446.7" cy="136.7" r=".95"/><circle cx="445.5" cy="120.5" r=".95"/><circle cx="445.3" cy="138.3" r=".95"/><circle cx="445.0" cy="131.5" r=".95"/><circle cx="445.4" cy="153.0" r=".95"/><circle cx="445.4" cy="138.9" r=".95"/><circle cx="445.2" cy="133.8" r=".95"/><circle cx="445.0" cy="149.5" r=".95"/><circle cx="445.4" cy="151.6" r=".95"/><circle cx="445.0" cy="146.5" r=".95"/><circle cx="445.0" cy="155.6" r=".95"/><circle cx="445.0" cy="120.2" r=".95"/><circle cx="445.1" cy="139.9" r=".95"/><circle cx="445.4" cy="123.8" r=".95"/><circle cx="445.3" cy="146.4" r=".95"/><circle cx="446.7" cy="126.5" r=".95"/><circle cx="445.0" cy="124.6" r=".95"/><circle cx="445.1" cy="154.6" r=".95"/><circle cx="446.8" cy="153.7" r=".95"/><circle cx="445.2" cy="136.1" r=".95"/><circle cx="445.3" cy="153.7" r=".95"/><circle cx="445.0" cy="121.6" r=".95"/><circle cx="445.0" cy="132.9" r=".95"/><circle cx="445.3" cy="143.8" r=".95"/><circle cx="445.4" cy="135.7" r=".95"/><circle cx="445.0" cy="127.3" r=".95"/><circle cx="445.3" cy="145.3" r=".95"/><circle cx="445.0" cy="137.7" r=".95"/><circle cx="446.7" cy="133.1" r=".95"/><circle cx="445.3" cy="121.9" r=".95"/><circle cx="445.2" cy="147.5" r=".95"/><circle cx="445.2" cy="138.6" r=".95"/><circle cx="445.1" cy="135.2" r=".95"/><circle cx="446.8" cy="156.9" r=".95"/><circle cx="445.5" cy="144.6" r=".95"/><circle cx="445.2" cy="151.2" r=".95"/><circle cx="445.3" cy="140.4" r=".95"/><circle cx="445.3" cy="130.8" r=".95"/><circle cx="445.5" cy="120.3" r=".95"/><circle cx="445.4" cy="155.5" r=".95"/><circle cx="445.2" cy="134.4" r=".95"/><circle cx="445.1" cy="138.1" r=".95"/><circle cx="445.2" cy="143.8" r=".95"/><circle cx="445.3" cy="127.7" r=".95"/><circle cx="445.0" cy="129.1" r=".95"/><circle cx="445.2" cy="147.0" r=".95"/><circle cx="446.7" cy="148.3" r=".95"/><circle cx="445.5" cy="125.6" r=".95"/><circle cx="445.1" cy="150.6" r=".95"/><circle cx="445.2" cy="121.0" r=".95"/><circle cx="445.2" cy="132.3" r=".95"/><circle cx="446.9" cy="150.9" r=".95"/><circle cx="445.3" cy="135.7" r=".95"/><circle cx="445.1" cy="129.9" r=".95"/><circle cx="445.3" cy="144.1" r=".95"/><circle cx="445.3" cy="132.5" r=".95"/><circle cx="445.0" cy="141.4" r=".95"/><circle cx="445.3" cy="124.2" r=".95"/><circle cx="445.4" cy="139.2" r=".95"/><circle cx="445.1" cy="149.2" r=".95"/><circle cx="445.3" cy="131.0" r=".95"/><circle cx="445.5" cy="125.2" r=".95"/><circle cx="445.0" cy="132.6" r=".95"/><circle cx="445.0" cy="144.3" r=".95"/><circle cx="446.8" cy="136.3" r=".95"/><circle cx="445.1" cy="153.1" r=".95"/><circle cx="445.3" cy="132.4" r=".95"/><circle cx="445.1" cy="125.2" r=".95"/><circle cx="445.4" cy="131.0" r=".95"/><circle cx="445.2" cy="148.5" r=".95"/><circle cx="445.2" cy="153.4" r=".95"/><circle cx="445.1" cy="130.9" r=".95"/><circle cx="445.2" cy="135.1" r=".95"/><circle cx="445.1" cy="138.5" r=".95"/><circle cx="445.4" cy="152.6" r=".95"/><circle cx="445.3" cy="136.0" r=".95"/><circle cx="445.1" cy="134.4" r=".95"/><circle cx="445.5" cy="154.0" r=".95"/><circle cx="445.2" cy="134.3" r=".95"/><circle cx="445.3" cy="150.2" r=".95"/><circle cx="445.5" cy="142.5" r=".95"/><circle cx="445.4" cy="124.7" r=".95"/><circle cx="445.3" cy="126.5" r=".95"/><circle cx="445.2" cy="151.0" r=".95"/><circle cx="445.2" cy="142.0" r=".95"/><circle cx="445.2" cy="151.4" r=".95"/><circle cx="445.5" cy="152.7" r=".95"/><circle cx="445.3" cy="139.4" r=".95"/><circle cx="445.2" cy="153.2" r=".95"/><circle cx="445.2" cy="144.7" r=".95"/><circle cx="445.5" cy="151.2" r=".95"/><circle cx="445.3" cy="154.6" r=".95"/><circle cx="445.0" cy="153.2" r=".95"/><circle cx="445.4" cy="136.5" r=".95"/><circle cx="445.4" cy="120.1" r=".95"/><circle cx="445.4" cy="123.0" r=".95"/><circle cx="445.1" cy="132.3" r=".95"/><circle cx="445.5" cy="143.6" r=".95"/><circle cx="445.3" cy="135.0" r=".95"/><circle cx="445.3" cy="147.6" r=".95"/><circle cx="445.2" cy="146.4" r=".95"/><circle cx="445.4" cy="156.0" r=".95"/><circle cx="445.3" cy="121.5" r=".95"/><circle cx="445.4" cy="138.1" r=".95"/><circle cx="447.0" cy="144.6" r=".95"/><circle cx="445.5" cy="155.6" r=".95"/><circle cx="445.3" cy="127.1" r=".95"/><circle cx="445.3" cy="148.4" r=".95"/><circle cx="445.0" cy="142.0" r=".95"/><circle cx="445.0" cy="124.6" r=".95"/><circle cx="446.8" cy="130.4" r=".95"/><circle cx="445.3" cy="133.7" r=".95"/><circle cx="445.2" cy="143.5" r=".95"/><circle cx="445.1" cy="146.2" r=".95"/><circle cx="445.4" cy="138.8" r=".95"/><circle cx="445.4" cy="127.8" r=".95"/><circle cx="445.2" cy="137.7" r=".95"/><circle cx="445.5" cy="134.5" r=".95"/><circle cx="446.7" cy="139.9" r=".95"/><circle cx="445.1" cy="121.7" r=".95"/><circle cx="445.0" cy="129.0" r=".95"/><circle cx="445.0" cy="150.9" r=".95"/><circle cx="447.0" cy="145.7" r=".95"/><circle cx="445.0" cy="154.8" r=".95"/>
</g>
<g fill="#4b00f3" stroke="#4b00f3">
<circle cx="449.9" cy="141.9" r=".95"/><circle cx="448.4" cy="149.8" r=".95"/><circle cx="450.2" cy="113.2" r=".95"/><circle cx="448.3" cy="153.1" r=".95"/><circle cx="450.0" cy="131.9" r=".95"/><circle cx="450.3" cy="134.9" r=".95"/><circle cx="449.9" cy="145.8" r=".95"/><circle cx="450.4" cy="118.4" r=".95"/><circle cx="448.7" cy="155.2" r=".95"/><circle cx="448.4" cy="154.0" r=".95"/><circle cx="449.9" cy="147.0" r=".95"/><circle cx="450.4" cy="129.3" r=".95"/><circle cx="450.1" cy="143.5" r=".95"/><circle cx="448.6" cy="139.7" r=".95"/><circle cx="449.9" cy="115.6" r=".95"/><circle cx="447.2" cy="146.4" r=".95"/><circle cx="448.7" cy="124.1" r=".95"/><circle cx="448.5" cy="119.3" r=".95"/><circle cx="450.0" cy="125.8" r=".95"/><circle cx="450.1" cy="114.9" r=".95"/><circle cx="450.4" cy="141.4" r=".95"/><circle cx="448.8" cy="151.6" r=".95"/><circle cx="450.2" cy="132.2" r=".95"/><circle cx="450.3" cy="133.1" r=".95"/><circle cx="450.2" cy="129.1" r=".95"/><circle cx="449.9" cy="120.6" r=".95"/><circle cx="450.0" cy="121.7" r=".95"/><circle cx="450.3" cy="112.2" r=".95"/><circle cx="448.5" cy="140.0" r=".95"/><circle cx="449.9" cy="145.2" r=".95"/><circle cx="450.0" cy="110.8" r=".95"/><circle cx="450.0" cy="120.4" r=".95"/><circle cx="448.3" cy="145.6" r=".95"/><circle cx="449.9" cy="144.2" r=".95"/><circle cx="449.9" cy="149.9" r=".95"/><circle cx="450.2" cy="137.6" r=".95"/><circle cx="450.2" cy="126.6" r=".95"/><circle cx="448.5" cy="130.8" r=".95"/><circle cx="448.8" cy="128.5" r=".95"/><circle cx="448.5" cy="136.1" r=".95"/><circle cx="448.8" cy="152.8" r=".95"/><circle cx="450.2" cy="127.3" r=".95"/><circle cx="450.2" cy="113.4" r=".95"/><circle cx="448.6" cy="152.9" r=".95"/><circle cx="448.5" cy="143.3" r=".95"/><circle cx="450.1" cy="112.6" r=".95"/><circle cx="448.4" cy="145.6" r=".95"/><circle cx="450.0" cy="150.5" r=".95"/><circle cx="450.1" cy="153.3" r=".95"/><circle cx="450.3" cy="116.1" r=".95"/><circle cx="448.4" cy="115.1" r=".95"/><circle cx="450.1" cy="110.9" r=".95"/><circle cx="450.2" cy="131.4" r=".95"/><circle cx="448.7" cy="130.8" r=".95"/><circle cx="447.2" cy="118.5" r=".95"/><circle cx="450.4" cy="147.5" r=".95"/><circle cx="450.1" cy="140.8" r=".95"/><circle cx="449.9" cy="136.1" r=".95"/><circle cx="449.8" cy="122.2" r=".95"/><circle cx="448.7" cy="149.6" r=".95"/><circle cx="448.8" cy="117.1" r=".95"/><circle cx="450.1" cy="147.9" r=".95"/><circle cx="450.2" cy="130.3" r=".95"/><circle cx="450.2" cy="126.5" r=".95"/><circle cx="450.5" cy="112.5" r=".95"/><circle cx="450.3" cy="152.0" r=".95"/><circle cx="448.7" cy="155.0" r=".95"/><circle cx="449.8" cy="135.9" r=".95"/><circle cx="448.8" cy="113.3" r=".95"/><circle cx="450.4" cy="111.6" r=".95"/><circle cx="450.0" cy="149.6" r=".95"/><circle cx="448.5" cy="126.8" r=".95"/><circle cx="448.9" cy="153.9" r=".95"/><circle cx="450.4" cy="136.4" r=".95"/><circle cx="450.2" cy="138.9" r=".95"/><circle cx="448.6" cy="150.1" r=".95"/><circle cx="450.1" cy="130.8" r=".95"/><circle cx="449.9" cy="135.8" r=".95"/><circle cx="448.8" cy="119.8" r=".95"/><circle cx="450.1" cy="138.4" r=".95"/><circle cx="450.0" cy="116.1" r=".95"/><circle cx="450.1" cy="143.6" r=".95"/><circle cx="450.3" cy="145.0" r=".95"/><circle cx="450.2" cy="146.6" r=".95"/><circle cx="450.0" cy="129.6" r=".95"/><circle cx="449.9" cy="119.7" r=".95"/><circle cx="450.5" cy="143.5" r=".95"/><circle cx="450.1" cy="134.0" r=".95"/><circle cx="448.4" cy="148.6" r=".95"/><circle cx="450.0" cy="135.4" r=".95"/><circle cx="450.2" cy="145.5" r=".95"/><circle cx="450.4" cy="123.7" r=".95"/><circle cx="448.6" cy="120.4" r=".95"/><circle cx="449.9" cy="134.6" r=".95"/><circle cx="450.1" cy="126.4" r=".95"/><circle cx="448.5" cy="145.8" r=".95"/><circle cx="450.2" cy="118.7" r=".95"/><circle cx="448.7" cy="126.9" r=".95"/><circle cx="450.3" cy="117.6" r=".95"/><circle cx="449.9" cy="140.9" r=".95"/><circle cx="449.8" cy="131.5" r=".95"/><circle cx="448.4" cy="151.4" r=".95"/><circle cx="448.6" cy="143.9" r=".95"/><circle cx="450.1" cy="132.1" r=".95"/><circle cx="448.6" cy="127.9" r=".95"/>
</g>
<g fill="#5b00ed" stroke="#5b00ed">
<circle cx="451.8" cy="120.7" r=".95"/><circle cx="452.1" cy="142.1" r=".95"/><circle cx="453.7" cy="134.9" r=".95"/><circle cx="453.4" cy="141.0" r=".95"/><circle cx="453.5" cy="147.2" r=".95"/><circle cx="451.7" cy="115.5" r=".95"/><circle cx="451.7" cy="131.7" r=".95"/><circle cx="452.0" cy="119.6" r=".95"/><circle cx="451.8" cy="111.5" r=".95"/><circle cx="453.6" cy="143.3" r=".95"/><circle cx="451.8" cy="146.0" r=".95"/><circle cx="452.1" cy="143.8" r=".95"/><circle cx="453.4" cy="130.7" r=".95"/><circle cx="451.7" cy="139.3" r=".95"/><circle cx="451.8" cy="148.0" r=".95"/><circle cx="451.6" cy="112.4" r=".95"/><circle cx="452.1" cy="131.6" r=".95"/><circle cx="452.0" cy="134.4" r=".95"/><circle cx="452.1" cy="138.2" r=".95"/><circle cx="451.7" cy="129.3" r=".95"/><circle cx="451.7" cy="117.3" r=".95"/><circle cx="451.7" cy="124.2" r=".95"/><circle cx="452.0" cy="126.9" r=".95"/><circle cx="453.4" cy="120.5" r=".95"/><circle cx="451.9" cy="108.7" r=".95"/><circle cx="452.0" cy="131.7" r=".95"/><circle cx="451.8" cy="126.0" r=".95"/><circle cx="453.5" cy="126.9" r=".95"/><circle cx="452.0" cy="127.8" r=".95"/><circle cx="453.7" cy="147.4" r=".95"/><circle cx="453.5" cy="139.8" r=".95"/><circle cx="451.7" cy="129.2" r=".95"/><circle cx="453.6" cy="115.3" r=".95"/><circle cx="451.8" cy="120.2" r=".95"/><circle cx="452.0" cy="140.6" r=".95"/><circle cx="451.9" cy="142.8" r=".95"/><circle cx="453.3" cy="117.0" r=".95"/><circle cx="451.8" cy="121.4" r=".95"/><circle cx="452.0" cy="113.4" r=".95"/><circle cx="451.8" cy="146.7" r=".95"/><circle cx="453.7" cy="113.0" r=".95"/><circle cx="451.8" cy="112.0" r=".95"/><circle cx="452.1" cy="131.7" r=".95"/><circle cx="453.6" cy="126.4" r=".95"/><circle cx="453.6" cy="112.9" r=".95"/><circle cx="451.8" cy="150.2" r=".95"/><circle cx="453.7" cy="140.7" r=".95"/><circle cx="453.5" cy="119.0" r=".95"/>
</g>
<g fill="#6800e7" stroke="#6800e7">
<circle cx="453.8" cy="111.3" r=".95"/><circle cx="454.9" cy="125.2" r=".95"/><circle cx="455.2" cy="122.7" r=".95"/><circle cx="454.7" cy="116.5" r=".95"/><circle cx="455.2" cy="116.8" r=".95"/><circle cx="454.9" cy="137.7" r=".95"/><circle cx="454.8" cy="133.3" r=".95"/><circle cx="454.8" cy="141.8" r=".95"/><circle cx="455.1" cy="130.8" r=".95"/><circle cx="455.2" cy="144.1" r=".95"/><circle cx="455.2" cy="121.1" r=".95"/><circle cx="455.1" cy="128.6" r=".95"/><circle cx="454.8" cy="147.5" r=".95"/><circle cx="455.2" cy="118.3" r=".95"/><circle cx="454.9" cy="138.0" r=".95"/><circle cx="454.9" cy="143.7" r=".95"/><circle cx="454.8" cy="124.0" r=".95"/><circle cx="454.8" cy="128.0" r=".95"/><circle cx="454.7" cy="125.7" r=".95"/><circle cx="455.2" cy="138.4" r=".95"/><circle cx="455.1" cy="114.9" r=".95"/><circle cx="455.1" cy="115.6" r=".95"/><circle cx="454.7" cy="145.6" r=".95"/><circle cx="455.0" cy="111.2" r=".95"/><circle cx="455.0" cy="125.4" r=".95"/><circle cx="455.0" cy="118.0" r=".95"/><circle cx="454.9" cy="127.8" r=".95"/><circle cx="454.8" cy="140.5" r=".95"/><circle cx="454.8" cy="115.4" r=".95"/><circle cx="454.7" cy="115.9" r=".95"/><circle cx="455.0" cy="112.4" r=".95"/><circle cx="455.2" cy="119.5" r=".95"/><circle cx="455.2" cy="110.5" r=".95"/><circle cx="454.8" cy="125.4" r=".95"/><circle cx="455.1" cy="125.9" r=".95"/><circle cx="455.1" cy="114.7" r=".95"/><circle cx="454.7" cy="131.3" r=".95"/><circle cx="454.9" cy="114.2" r=".95"/><circle cx="454.8" cy="127.1" r=".95"/><circle cx="455.2" cy="149.0" r=".95"/><circle cx="455.1" cy="126.8" r=".95"/><circle cx="455.0" cy="111.9" r=".95"/><circle cx="454.8" cy="110.7" r=".95"/><circle cx="454.9" cy="146.9" r=".95"/><circle cx="455.0" cy="141.5" r=".95"/><circle cx="454.9" cy="139.9" r=".95"/><circle cx="454.8" cy="149.4" r=".95"/><circle cx="455.2" cy="112.4" r=".95"/><circle cx="455.0" cy="111.2" r=".95"/><circle cx="454.7" cy="137.1" r=".95"/><circle cx="455.1" cy="114.2" r=".95"/><circle cx="455.1" cy="117.2" r=".95"/><circle cx="454.7" cy="130.2" r=".95"/><circle cx="454.7" cy="113.8" r=".95"/><circle cx="454.8" cy="149.3" r=".95"/><circle cx="454.9" cy="131.5" r=".95"/><circle cx="455.1" cy="136.1" r=".95"/><circle cx="454.8" cy="116.5" r=".95"/><circle cx="455.1" cy="143.7" r=".95"/><circle cx="455.2" cy="119.5" r=".95"/><circle cx="454.9" cy="140.7" r=".95"/><circle cx="455.0" cy="122.7" r=".95"/><circle cx="454.8" cy="148.5" r=".95"/><circle cx="455.0" cy="118.7" r=".95"/><circle cx="454.8" cy="126.8" r=".95"/><circle cx="455.2" cy="121.9" r=".95"/><circle cx="455.1" cy="133.3" r=".95"/><circle cx="455.0" cy="129.3" r=".95"/><circle cx="455.0" cy="122.3" r=".95"/><circle cx="455.2" cy="117.2" r=".95"/><circle cx="454.9" cy="114.7" r=".95"/><circle cx="454.7" cy="118.9" r=".95"/><circle cx="454.8" cy="117.9" r=".95"/><circle cx="455.2" cy="126.4" r=".95"/><circle cx="455.1" cy="150.1" r=".95"/><circle cx="454.9" cy="137.0" r=".95"/><circle cx="455.2" cy="115.5" r=".95"/><circle cx="454.7" cy="142.4" r=".95"/><circle cx="454.7" cy="137.6" r=".95"/><circle cx="454.9" cy="132.8" r=".95"/><circle cx="455.2" cy="126.9" r=".95"/><circle cx="454.9" cy="148.0" r=".95"/><circle cx="454.9" cy="111.2" r=".95"/><circle cx="455.2" cy="110.7" r=".95"/><circle cx="455.2" cy="118.4" r=".95"/><circle cx="455.0" cy="150.0" r=".95"/><circle cx="455.0" cy="128.2" r=".95"/><circle cx="455.2" cy="143.7" r=".95"/><circle cx="455.0" cy="118.1" r=".95"/><circle cx="455.2" cy="135.9" r=".95"/><circle cx="454.7" cy="132.9" r=".95"/><circle cx="455.2" cy="145.2" r=".95"/><circle cx="454.9" cy="129.3" r=".95"/><circle cx="455.2" cy="118.6" r=".95"/><circle cx="455.1" cy="111.4" r=".95"/><circle cx="454.8" cy="134.7" r=".95"/><circle cx="455.2" cy="124.4" r=".95"/><circle cx="454.8" cy="131.4" r=".95"/><circle cx="455.1" cy="120.8" r=".95"/><circle cx="455.0" cy="127.1" r=".95"/><circle cx="454.7" cy="111.3" r=".95"/><circle cx="455.1" cy="133.4" r=".95"/><circle cx="455.0" cy="136.6" r=".95"/><circle cx="455.2" cy="130.4" r=".95"/><circle cx="454.9" cy="113.0" r=".95"/><circle cx="454.7" cy="144.2" r=".95"/><circle cx="455.2" cy="147.5" r=".95"/><circle cx="455.0" cy="128.5" r=".95"/><circle cx="455.0" cy="118.5" r=".95"/><circle cx="454.8" cy="141.5" r=".95"/><circle cx="455.2" cy="138.3" r=".95"/><circle cx="455.0" cy="135.7" r=".95"/><circle cx="455.0" cy="133.7" r=".95"/><circle cx="454.9" cy="136.0" r=".95"/><circle cx="454.8" cy="124.7" r=".95"/><circle cx="454.8" cy="145.4" r=".95"/><circle cx="455.0" cy="146.9" r=".95"/><circle cx="454.9" cy="138.3" r=".95"/><circle cx="455.1" cy="148.2" r=".95"/><circle cx="455.1" cy="123.4" r=".95"/><circle cx="455.1" cy="112.0" r=".95"/><circle cx="454.8" cy="135.9" r=".95"/><circle cx="455.0" cy="121.4" r=".95"/><circle cx="455.0" cy="110.3" r=".95"/><circle cx="455.1" cy="111.8" r=".95"/><circle cx="455.2" cy="119.2" r=".95"/><circle cx="455.1" cy="137.6" r=".95"/><circle cx="455.0" cy="114.1" r=".95"/><circle cx="455.0" cy="112.2" r=".95"/><circle cx="454.9" cy="136.6" r=".95"/><circle cx="454.9" cy="118.0" r=".95"/><circle cx="455.1" cy="122.9" r=".95"/><circle cx="455.1" cy="133.2" r=".95"/><circle cx="455.0" cy="115.4" r=".95"/><circle cx="455.0" cy="125.0" r=".95"/><circle cx="455.2" cy="129.9" r=".95"/><circle cx="454.8" cy="115.5" r=".95"/><circle cx="455.2" cy="137.6" r=".95"/><circle cx="454.9" cy="118.1" r=".95"/><circle cx="454.9" cy="111.3" r=".95"/><circle cx="455.0" cy="146.5" r=".95"/><circle cx="455.2" cy="111.6" r=".95"/><circle cx="455.2" cy="121.8" r=".95"/><circle cx="455.1" cy="124.8" r=".95"/><circle cx="454.7" cy="119.7" r=".95"/><circle cx="454.9" cy="132.2" r=".95"/><circle cx="454.9" cy="141.2" r=".95"/><circle cx="455.2" cy="149.9" r=".95"/><circle cx="455.2" cy="116.5" r=".95"/><circle cx="454.7" cy="114.6" r=".95"/><circle cx="454.7" cy="121.5" r=".95"/><circle cx="455.1" cy="138.6" r=".95"/><circle cx="455.2" cy="123.8" r=".95"/><circle cx="455.0" cy="125.7" r=".95"/><circle cx="455.2" cy="138.6" r=".95"/><circle cx="454.8" cy="143.8" r=".95"/><circle cx="455.0" cy="127.0" r=".95"/><circle cx="455.1" cy="129.1" r=".95"/><circle cx="455.1" cy="143.6" r=".95"/><circle cx="454.7" cy="146.6" r=".95"/><circle cx="454.9" cy="131.7" r=".95"/><circle cx="455.0" cy="126.2" r=".95"/><circle cx="454.9" cy="116.4" r=".95"/><circle cx="455.0" cy="145.5" r=".95"/><circle cx="455.2" cy="146.1" r=".95"/><circle cx="454.8" cy="120.8" r=".95"/><circle cx="454.9" cy="113.9" r=".95"/><circle cx="455.1" cy="119.6" r=".95"/><circle cx="455.1" cy="141.4" r=".95"/><circle cx="455.1" cy="126.9" r=".95"/>
</g>
<g fill="#7300e0" stroke="#7300e0">
<circle cx="456.6" cy="116.1" r=".95"/><circle cx="456.4" cy="123.7" r=".95"/><circle cx="456.4" cy="145.3" r=".95"/><circle cx="458.1" cy="127.9" r=".95"/><circle cx="456.6" cy="118.2" r=".95"/><circle cx="456.6" cy="111.6" r=".95"/><circle cx="456.6" cy="143.1" r=".95"/><circle cx="456.7" cy="146.5" r=".95"/><circle cx="456.4" cy="145.6" r=".95"/><circle cx="456.7" cy="141.4" r=".95"/><circle cx="456.9" cy="112.2" r=".95"/><circle cx="456.8" cy="135.8" r=".95"/><circle cx="456.8" cy="151.0" r=".95"/><circle cx="456.7" cy="123.6" r=".95"/><circle cx="456.4" cy="130.3" r=".95"/><circle cx="456.8" cy="149.2" r=".95"/><circle cx="456.7" cy="137.8" r=".95"/><circle cx="456.4" cy="125.2" r=".95"/><circle cx="456.5" cy="116.4" r=".95"/><circle cx="456.6" cy="131.5" r=".95"/><circle cx="458.0" cy="115.4" r=".95"/><circle cx="456.6" cy="140.4" r=".95"/><circle cx="458.1" cy="135.4" r=".95"/><circle cx="456.7" cy="137.8" r=".95"/><circle cx="456.7" cy="120.8" r=".95"/><circle cx="456.6" cy="132.8" r=".95"/><circle cx="456.4" cy="140.7" r=".95"/><circle cx="456.5" cy="136.0" r=".95"/><circle cx="456.8" cy="136.8" r=".95"/>
</g>
<g fill="#7c00da" stroke="#7c00da">
<circle cx="459.6" cy="138.2" r=".95"/><circle cx="458.4" cy="123.6" r=".95"/><circle cx="458.4" cy="129.1" r=".95"/><circle cx="458.4" cy="142.4" r=".95"/><circle cx="458.3" cy="135.9" r=".95"/><circle cx="458.4" cy="123.8" r=".95"/><circle cx="459.6" cy="132.8" r=".95"/><circle cx="458.5" cy="144.2" r=".95"/><circle cx="458.5" cy="134.1" r=".95"/><circle cx="458.1" cy="119.7" r=".95"/><circle cx="458.5" cy="140.4" r=".95"/><circle cx="459.6" cy="158.4" r=".95"/><circle cx="458.1" cy="142.2" r=".95"/><circle cx="458.3" cy="137.0" r=".95"/><circle cx="459.5" cy="158.2" r=".95"/><circle cx="458.3" cy="120.6" r=".95"/><circle cx="458.3" cy="123.5" r=".95"/><circle cx="458.3" cy="152.8" r=".95"/><circle cx="459.6" cy="142.2" r=".95"/><circle cx="458.5" cy="121.2" r=".95"/><circle cx="458.5" cy="125.1" r=".95"/><circle cx="459.6" cy="133.2" r=".95"/><circle cx="458.5" cy="131.3" r=".95"/><circle cx="458.4" cy="124.7" r=".95"/><circle cx="458.5" cy="138.5" r=".95"/><circle cx="458.4" cy="126.4" r=".95"/><circle cx="458.5" cy="153.1" r=".95"/>
</g>
<g fill="#8500d4" stroke="#8500d4">
<circle cx="459.9" cy="159.8" r=".95"/><circle cx="459.8" cy="163.7" r=".95"/><circle cx="460.1" cy="129.0" r=".95"/><circle cx="459.9" cy="127.5" r=".95"/><circle cx="459.7" cy="156.9" r=".95"/><circle cx="460.0" cy="165.0" r=".95"/><circle cx="459.7" cy="140.4" r=".95"/><circle cx="459.9" cy="162.1" r=".95"/><circle cx="459.7" cy="158.0" r=".95"/><circle cx="459.7" cy="126.5" r=".95"/><circle cx="459.9" cy="131.9" r=".95"/><circle cx="459.8" cy="132.9" r=".95"/><circle cx="460.1" cy="157.4" r=".95"/><circle cx="459.9" cy="130.8" r=".95"/><circle cx="459.8" cy="147.4" r=".95"/><circle cx="459.8" cy="161.9" r=".95"/><circle cx="459.8" cy="150.5" r=".95"/><circle cx="460.2" cy="131.0" r=".95"/><circle cx="460.0" cy="157.5" r=".95"/><circle cx="460.0" cy="147.5" r=".95"/><circle cx="460.0" cy="129.8" r=".95"/><circle cx="459.9" cy="138.1" r=".95"/><circle cx="459.9" cy="164.2" r=".95"/><circle cx="459.9" cy="162.0" r=".95"/><circle cx="459.7" cy="133.7" r=".95"/><circle cx="459.7" cy="155.3" r=".95"/><circle cx="460.0" cy="161.5" r=".95"/><circle cx="459.9" cy="144.3" r=".95"/><circle cx="459.9" cy="137.6" r=".95"/><circle cx="460.1" cy="154.0" r=".95"/><circle cx="459.7" cy="158.2" r=".95"/><circle cx="459.7" cy="146.8" r=".95"/><circle cx="459.7" cy="136.0" r=".95"/><circle cx="459.8" cy="135.6" r=".95"/><circle cx="460.0" cy="162.4" r=".95"/><circle cx="460.1" cy="131.4" r=".95"/><circle cx="459.9" cy="135.0" r=".95"/><circle cx="460.2" cy="134.6" r=".95"/><circle cx="459.7" cy="147.5" r=".95"/><circle cx="460.2" cy="160.6" r=".95"/><circle cx="459.8" cy="130.5" r=".95"/><circle cx="459.7" cy="136.3" r=".95"/><circle cx="459.8" cy="134.8" r=".95"/><circle cx="459.9" cy="128.3" r=".95"/><circle cx="460.2" cy="129.9" r=".95"/><circle cx="460.0" cy="139.0" r=".95"/><circle cx="459.8" cy="160.7" r=".95"/><circle cx="460.2" cy="154.2" r=".95"/><circle cx="459.8" cy="160.5" r=".95"/><circle cx="459.7" cy="157.8" r=".95"/><circle cx="459.9" cy="149.9" r=".95"/><circle cx="459.7" cy="139.4" r=".95"/><circle cx="460.0" cy="158.9" r=".95"/><circle cx="459.8" cy="146.8" r=".95"/><circle cx="459.9" cy="128.2" r=".95"/><circle cx="459.8" cy="148.3" r=".95"/><circle cx="459.7" cy="132.8" r=".95"/><circle cx="459.8" cy="146.9" r=".95"/><circle cx="460.1" cy="150.4" r=".95"/><circle cx="460.1" cy="147.6" r=".95"/><circle cx="460.0" cy="137.3" r=".95"/><circle cx="460.1" cy="128.3" r=".95"/>
</g>
<g fill="#8d00ce" stroke="#8d00ce">
<circle cx="461.6" cy="144.6" r=".95"/><circle cx="461.5" cy="164.3" r=".95"/><circle cx="461.7" cy="129.3" r=".95"/><circle cx="461.4" cy="157.8" r=".95"/><circle cx="461.6" cy="160.1" r=".95"/><circle cx="461.8" cy="135.1" r=".95"/><circle cx="461.7" cy="143.4" r=".95"/><circle cx="461.8" cy="150.4" r=".95"/><circle cx="461.7" cy="138.4" r=".95"/><circle cx="461.7" cy="141.6" r=".95"/><circle cx="461.6" cy="154.9" r=".95"/><circle cx="461.7" cy="151.0" r=".95"/><circle cx="461.6" cy="149.6" r=".95"/><circle cx="461.9" cy="161.8" r=".95"/><circle cx="461.4" cy="129.5" r=".95"/><circle cx="461.8" cy="140.4" r=".95"/><circle cx="461.7" cy="129.4" r=".95"/><circle cx="461.4" cy="143.6" r=".95"/><circle cx="461.5" cy="144.8" r=".95"/><circle cx="461.7" cy="144.7" r=".95"/><circle cx="461.7" cy="137.6" r=".95"/><circle cx="461.8" cy="129.9" r=".95"/><circle cx="461.8" cy="138.2" r=".95"/><circle cx="462.3" cy="161.2" r=".95"/><circle cx="462.2" cy="148.8" r=".95"/><circle cx="462.3" cy="142.7" r=".95"/><circle cx="462.2" cy="135.3" r=".95"/><circle cx="462.2" cy="163.4" r=".95"/><circle cx="462.3" cy="155.5" r=".95"/><circle cx="462.2" cy="135.9" r=".95"/><circle cx="462.3" cy="146.4" r=".95"/><circle cx="462.3" cy="132.7" r=".95"/><circle cx="462.3" cy="140.4" r=".95"/><circle cx="462.2" cy="134.4" r=".95"/><circle cx="462.3" cy="143.8" r=".95"/>
</g>
<g fill="#9400c8" stroke="#9400c8">
<circle cx="463.0" cy="127.8" r=".95"/><circle cx="463.0" cy="131.9" r=".95"/><circle cx="463.0" cy="132.6" r=".95"/><circle cx="463.0" cy="134.6" r=".95"/><circle cx="462.5" cy="161.0" r=".95"/><circle cx="462.3" cy="147.4" r=".95"/><circle cx="462.7" cy="149.9" r=".95"/><circle cx="462.8" cy="163.8" r=".95"/><circle cx="462.6" cy="132.3" r=".95"/><circle cx="462.9" cy="148.0" r=".95"/><circle cx="463.0" cy="158.3" r=".95"/><circle cx="462.6" cy="145.4" r=".95"/><circle cx="462.7" cy="157.8" r=".95"/><circle cx="462.9" cy="159.4" r=".95"/><circle cx="462.7" cy="130.7" r=".95"/><circle cx="462.7" cy="157.0" r=".95"/><circle cx="462.8" cy="152.0" r=".95"/><circle cx="462.4" cy="142.4" r=".95"/><circle cx="462.3" cy="135.4" r=".95"/><circle cx="462.7" cy="132.3" r=".95"/><circle cx="462.9" cy="156.9" r=".95"/><circle cx="462.7" cy="136.9" r=".95"/><circle cx="462.6" cy="159.4" r=".95"/><circle cx="462.5" cy="131.7" r=".95"/><circle cx="462.4" cy="132.7" r=".95"/><circle cx="462.9" cy="161.6" r=".95"/><circle cx="462.3" cy="143.7" r=".95"/><circle cx="462.4" cy="153.1" r=".95"/><circle cx="462.4" cy="149.7" r=".95"/><circle cx="462.7" cy="139.1" r=".95"/><circle cx="462.8" cy="154.1" r=".95"/><circle cx="462.6" cy="144.5" r=".95"/><circle cx="462.8" cy="146.8" r=".95"/><circle cx="462.7" cy="133.8" r=".95"/><circle cx="462.6" cy="135.5" r=".95"/><circle cx="462.4" cy="152.2" r=".95"/>
</g>
<g fill="#9a00c3" stroke="#9a00c3">
<circle cx="463.1" cy="153.2" r=".95"/><circle cx="463.2" cy="145.9" r=".95"/><circle cx="463.1" cy="132.2" r=".95"/><circle cx="463.3" cy="155.4" r=".95"/><circle cx="463.2" cy="153.6" r=".95"/><circle cx="463.0" cy="139.5" r=".95"/><circle cx="463.1" cy="163.3" r=".95"/><circle cx="463.3" cy="150.6" r=".95"/><circle cx="463.2" cy="144.7" r=".95"/><circle cx="463.2" cy="164.4" r=".95"/><circle cx="463.0" cy="129.3" r=".95"/><circle cx="463.2" cy="140.7" r=".95"/><circle cx="463.6" cy="166.9" r=".95"/><circle cx="463.5" cy="133.6" r=".95"/><circle cx="463.3" cy="142.3" r=".95"/><circle cx="463.1" cy="137.3" r=".95"/><circle cx="463.1" cy="135.3" r=".95"/><circle cx="463.3" cy="156.3" r=".95"/><circle cx="463.5" cy="149.9" r=".95"/><circle cx="463.4" cy="130.6" r=".95"/><circle cx="463.2" cy="137.8" r=".95"/><circle cx="463.4" cy="156.9" r=".95"/><circle cx="463.5" cy="152.2" r=".95"/><circle cx="463.4" cy="133.1" r=".95"/><circle cx="463.3" cy="141.6" r=".95"/><circle cx="463.0" cy="165.8" r=".95"/><circle cx="463.4" cy="154.7" r=".95"/><circle cx="463.3" cy="148.6" r=".95"/><circle cx="463.5" cy="134.8" r=".95"/><circle cx="463.0" cy="134.7" r=".95"/><circle cx="463.6" cy="165.3" r=".95"/><circle cx="463.5" cy="152.5" r=".95"/><circle cx="463.4" cy="133.3" r=".95"/><circle cx="463.1" cy="154.0" r=".95"/><circle cx="463.5" cy="134.4" r=".95"/><circle cx="463.5" cy="151.5" r=".95"/><circle cx="463.4" cy="136.0" r=".95"/><circle cx="463.1" cy="140.9" r=".95"/><circle cx="463.2" cy="135.0" r=".95"/><circle cx="463.4" cy="140.5" r=".95"/><circle cx="463.4" cy="153.1" r=".95"/><circle cx="463.4" cy="150.1" r=".95"/>
</g>
<g fill="#a600b7" stroke="#a600b7">
<circle cx="464.4" cy="165.8" r=".95"/><circle cx="465.0" cy="163.9" r=".95"/><circle cx="464.8" cy="168.2" r=".95"/><circle cx="464.4" cy="169.4" r=".95"/><circle cx="464.5" cy="170.8" r=".95"/><circle cx="464.9" cy="170.4" r=".95"/><circle cx="464.8" cy="166.8" r=".95"/><circle cx="464.6" cy="168.6" r=".95"/><circle cx="465.0" cy="167.5" r=".95"/><circle cx="464.4" cy="165.2" r=".95"/><circle cx="464.9" cy="169.0" r=".95"/><circle cx="464.8" cy="167.9" r=".95"/><circle cx="464.8" cy="168.3" r=".95"/><circle cx="464.9" cy="174.3" r=".95"/><circle cx="464.4" cy="170.7" r=".95"/><circle cx="464.8" cy="173.7" r=".95"/><circle cx="464.4" cy="172.4" r=".95"/><circle cx="464.6" cy="173.4" r=".95"/><circle cx="464.8" cy="167.7" r=".95"/><circle cx="464.5" cy="171.3" r=".95"/><circle cx="464.7" cy="164.3" r=".95"/><circle cx="464.5" cy="170.0" r=".95"/><circle cx="464.6" cy="164.4" r=".95"/><circle cx="464.4" cy="173.0" r=".95"/><circle cx="464.4" cy="163.0" r=".95"/><circle cx="464.5" cy="167.1" r=".95"/><circle cx="464.8" cy="171.5" r=".95"/><circle cx="464.8" cy="170.9" r=".95"/><circle cx="464.5" cy="168.6" r=".95"/><circle cx="464.7" cy="167.2" r=".95"/><circle cx="465.0" cy="166.5" r=".95"/><circle cx="464.8" cy="165.3" r=".95"/><circle cx="464.9" cy="172.3" r=".95"/><circle cx="464.7" cy="168.6" r=".95"/><circle cx="465.0" cy="171.4" r=".95"/><circle cx="464.7" cy="172.3" r=".95"/><circle cx="464.4" cy="165.6" r=".95"/><circle cx="464.6" cy="165.4" r=".95"/><circle cx="464.9" cy="167.9" r=".95"/><circle cx="464.4" cy="169.1" r=".95"/><circle cx="464.7" cy="168.5" r=".95"/><circle cx="464.4" cy="163.6" r=".95"/><circle cx="464.6" cy="165.5" r=".95"/><circle cx="464.7" cy="173.1" r=".95"/><circle cx="464.4" cy="168.6" r=".95"/><circle cx="464.4" cy="165.3" r=".95"/><circle cx="464.8" cy="174.6" r=".95"/><circle cx="464.6" cy="165.9" r=".95"/><circle cx="464.8" cy="169.1" r=".95"/><circle cx="464.8" cy="167.0" r=".95"/><circle cx="464.5" cy="172.2" r=".95"/><circle cx="464.8" cy="167.3" r=".95"/><circle cx="464.9" cy="165.6" r=".95"/><circle cx="464.7" cy="169.5" r=".95"/><circle cx="464.6" cy="169.9" r=".95"/><circle cx="464.8" cy="171.0" r=".95"/><circle cx="464.5" cy="168.6" r=".95"/><circle cx="464.9" cy="167.1" r=".95"/><circle cx="464.7" cy="167.6" r=".95"/><circle cx="464.5" cy="167.2" r=".95"/><circle cx="464.7" cy="169.4" r=".95"/><circle cx="464.6" cy="168.8" r=".95"/><circle cx="464.9" cy="167.0" r=".95"/><circle cx="465.0" cy="173.4" r=".95"/><circle cx="464.7" cy="167.6" r=".95"/><circle cx="464.7" cy="166.2" r=".95"/><circle cx="464.4" cy="169.9" r=".95"/><circle cx="464.8" cy="173.2" r=".95"/><circle cx="464.7" cy="170.8" r=".95"/><circle cx="464.4" cy="163.8" r=".95"/><circle cx="464.5" cy="166.7" r=".95"/><circle cx="464.4" cy="166.0" r=".95"/><circle cx="464.9" cy="174.4" r=".95"/><circle cx="464.9" cy="169.2" r=".95"/><circle cx="464.5" cy="164.0" r=".95"/><circle cx="464.7" cy="168.9" r=".95"/><circle cx="464.8" cy="164.5" r=".95"/><circle cx="464.9" cy="167.4" r=".95"/><circle cx="464.8" cy="168.9" r=".95"/><circle cx="464.7" cy="166.8" r=".95"/><circle cx="464.8" cy="169.3" r=".95"/><circle cx="464.5" cy="166.6" r=".95"/><circle cx="464.8" cy="169.0" r=".95"/>
</g>
<g fill="#b000ab" stroke="#b000ab">
<circle cx="466.2" cy="168.5" r=".95"/><circle cx="466.3" cy="174.6" r=".95"/><circle cx="466.2" cy="175.5" r=".95"/><circle cx="466.3" cy="173.3" r=".95"/><circle cx="466.1" cy="173.8" r=".95"/><circle cx="466.2" cy="173.1" r=".95"/><circle cx="466.3" cy="170.0" r=".95"/><circle cx="466.2" cy="171.7" r=".95"/><circle cx="466.4" cy="171.3" r=".95"/><circle cx="466.1" cy="174.0" r=".95"/><circle cx="466.3" cy="171.7" r=".95"/><circle cx="466.1" cy="173.0" r=".95"/><circle cx="466.1" cy="177.6" r=".95"/><circle cx="466.2" cy="174.3" r=".95"/><circle cx="466.2" cy="171.8" r=".95"/><circle cx="466.2" cy="172.5" r=".95"/><circle cx="466.3" cy="168.6" r=".95"/><circle cx="466.2" cy="174.6" r=".95"/><circle cx="466.2" cy="171.9" r=".95"/><circle cx="466.2" cy="179.3" r=".95"/><circle cx="466.2" cy="173.0" r=".95"/><circle cx="466.0" cy="176.2" r=".95"/><circle cx="466.3" cy="173.8" r=".95"/><circle cx="466.3" cy="176.8" r=".95"/><circle cx="466.3" cy="174.3" r=".95"/><circle cx="466.3" cy="173.8" r=".95"/><circle cx="466.2" cy="172.5" r=".95"/><circle cx="466.1" cy="170.5" r=".95"/><circle cx="466.1" cy="174.0" r=".95"/><circle cx="466.2" cy="172.8" r=".95"/>
</g>
<g fill="#b500a5" stroke="#b500a5">
<circle cx="466.4" cy="172.9" r=".95"/><circle cx="466.4" cy="171.4" r=".95"/><circle cx="466.4" cy="179.6" r=".95"/><circle cx="466.6" cy="170.1" r=".95"/><circle cx="466.5" cy="174.7" r=".95"/><circle cx="466.5" cy="173.8" r=".95"/><circle cx="466.5" cy="178.8" r=".95"/><circle cx="466.4" cy="176.0" r=".95"/><circle cx="466.6" cy="175.9" r=".95"/><circle cx="466.5" cy="172.9" r=".95"/><circle cx="466.4" cy="175.0" r=".95"/><circle cx="466.5" cy="178.0" r=".95"/><circle cx="466.6" cy="174.1" r=".95"/><circle cx="466.4" cy="168.3" r=".95"/><circle cx="466.6" cy="170.2" r=".95"/><circle cx="466.6" cy="172.5" r=".95"/><circle cx="466.4" cy="174.3" r=".95"/><circle cx="466.6" cy="178.7" r=".95"/><circle cx="466.6" cy="171.8" r=".95"/><circle cx="466.6" cy="179.9" r=".95"/><circle cx="466.6" cy="176.5" r=".95"/><circle cx="466.6" cy="176.3" r=".95"/>
</g>
<g fill="#ba009f" stroke="#ba009f">
<circle cx="467.8" cy="172.6" r=".95"/><circle cx="467.8" cy="174.3" r=".95"/><circle cx="467.8" cy="172.4" r=".95"/><circle cx="467.7" cy="176.6" r=".95"/><circle cx="467.8" cy="178.7" r=".95"/><circle cx="467.7" cy="173.0" r=".95"/><circle cx="467.8" cy="176.6" r=".95"/><circle cx="467.8" cy="180.5" r=".95"/><circle cx="467.8" cy="178.6" r=".95"/><circle cx="467.8" cy="178.8" r=".95"/><circle cx="467.8" cy="176.4" r=".95"/><circle cx="467.7" cy="175.1" r=".95"/><circle cx="467.9" cy="175.8" r=".95"/><circle cx="467.9" cy="177.5" r=".95"/><circle cx="467.8" cy="173.9" r=".95"/>
</g>
<g fill="#be009a" stroke="#be009a">
<circle cx="468.1" cy="176.6" r=".95"/><circle cx="468.0" cy="176.5" r=".95"/><circle cx="468.1" cy="173.0" r=".95"/><circle cx="468.2" cy="174.3" r=".95"/><circle cx="468.1" cy="179.7" r=".95"/><circle cx="468.0" cy="175.7" r=".95"/><circle cx="468.1" cy="175.1" r=".95"/><circle cx="468.1" cy="178.9" r=".95"/><circle cx="467.9" cy="180.3" r=".95"/><circle cx="468.0" cy="175.5" r=".95"/><circle cx="467.9" cy="177.3" r=".95"/><circle cx="468.2" cy="171.0" r=".95"/><circle cx="468.2" cy="180.9" r=".95"/><circle cx="467.9" cy="172.9" r=".95"/><circle cx="468.2" cy="179.9" r=".95"/><circle cx="468.0" cy="172.4" r=".95"/><circle cx="467.9" cy="177.3" r=".95"/><circle cx="468.2" cy="181.5" r=".95"/><circle cx="468.0" cy="173.8" r=".95"/><circle cx="468.1" cy="175.4" r=".95"/><circle cx="467.9" cy="174.6" r=".95"/><circle cx="468.2" cy="174.6" r=".95"/><circle cx="468.1" cy="175.5" r=".95"/><circle cx="468.0" cy="174.5" r=".95"/><circle cx="468.2" cy="180.0" r=".95"/>
</g>
<g fill="#c20094" stroke="#c20094">
<circle cx="469.3" cy="175.7" r=".95"/><circle cx="469.4" cy="177.4" r=".95"/><circle cx="469.3" cy="180.0" r=".95"/><circle cx="469.3" cy="185.0" r=".95"/><circle cx="469.4" cy="179.6" r=".95"/><circle cx="469.3" cy="182.4" r=".95"/><circle cx="469.3" cy="178.2" r=".95"/><circle cx="469.4" cy="173.5" r=".95"/><circle cx="469.3" cy="171.4" r=".95"/><circle cx="469.3" cy="179.3" r=".95"/>
</g>
<g fill="#c6008e" stroke="#c6008e">
<circle cx="469.9" cy="177.4" r=".95"/><circle cx="469.5" cy="180.7" r=".95"/><circle cx="469.9" cy="174.0" r=".95"/><circle cx="469.8" cy="172.4" r=".95"/><circle cx="469.6" cy="179.9" r=".95"/><circle cx="469.5" cy="174.4" r=".95"/><circle cx="469.6" cy="177.0" r=".95"/><circle cx="469.7" cy="180.0" r=".95"/><circle cx="469.5" cy="176.1" r=".95"/><circle cx="469.5" cy="183.5" r=".95"/><circle cx="469.7" cy="179.0" r=".95"/><circle cx="469.9" cy="179.3" r=".95"/><circle cx="469.5" cy="172.2" r=".95"/><circle cx="469.8" cy="181.3" r=".95"/><circle cx="469.9" cy="180.6" r=".95"/><circle cx="469.4" cy="179.7" r=".95"/><circle cx="469.9" cy="184.5" r=".95"/><circle cx="469.4" cy="178.0" r=".95"/><circle cx="469.6" cy="181.0" r=".95"/><circle cx="469.8" cy="179.8" r=".95"/><circle cx="469.4" cy="181.5" r=".95"/><circle cx="469.9" cy="177.5" r=".95"/><circle cx="469.7" cy="178.6" r=".95"/><circle cx="469.6" cy="176.3" r=".95"/><circle cx="469.9" cy="182.9" r=".95"/><circle cx="469.5" cy="172.4" r=".95"/><circle cx="469.7" cy="182.4" r=".95"/><circle cx="469.8" cy="184.4" r=".95"/><circle cx="469.6" cy="175.1" r=".95"/><circle cx="469.5" cy="179.7" r=".95"/><circle cx="469.4" cy="178.6" r=".95"/><circle cx="469.7" cy="178.2" r=".95"/><circle cx="469.7" cy="173.5" r=".95"/><circle cx="469.5" cy="180.2" r=".95"/><circle cx="469.5" cy="179.6" r=".95"/><circle cx="469.8" cy="177.9" r=".95"/><circle cx="469.7" cy="178.8" r=".95"/><circle cx="469.6" cy="177.9" r=".95"/><circle cx="469.9" cy="181.9" r=".95"/><circle cx="469.6" cy="180.3" r=".95"/><circle cx="469.7" cy="182.7" r=".95"/><circle cx="469.6" cy="183.8" r=".95"/><circle cx="469.5" cy="176.2" r=".95"/><circle cx="469.8" cy="177.4" r=".95"/><circle cx="469.5" cy="174.5" r=".95"/><circle cx="469.6" cy="183.0" r=".95"/><circle cx="469.6" cy="173.3" r=".95"/><circle cx="469.6" cy="176.2" r=".95"/><circle cx="469.6" cy="176.4" r=".95"/><circle cx="469.4" cy="177.4" r=".95"/><circle cx="469.7" cy="179.9" r=".95"/><circle cx="469.8" cy="175.3" r=".95"/><circle cx="469.6" cy="181.3" r=".95"/><circle cx="469.6" cy="174.0" r=".95"/><circle cx="469.5" cy="176.5" r=".95"/><circle cx="469.8" cy="175.8" r=".95"/><circle cx="469.5" cy="179.9" r=".95"/><circle cx="469.4" cy="176.6" r=".95"/><circle cx="469.7" cy="173.5" r=".95"/><circle cx="469.4" cy="176.6" r=".95"/><circle cx="469.6" cy="178.3" r=".95"/><circle cx="469.6" cy="175.6" r=".95"/><circle cx="469.4" cy="177.4" r=".95"/><circle cx="469.6" cy="184.0" r=".95"/><circle cx="469.9" cy="178.6" r=".95"/>
</g>
<g fill="#cd0083" stroke="#cd0083">
<circle cx="471.5" cy="179.9" r=".95"/><circle cx="471.1" cy="178.1" r=".95"/><circle cx="471.0" cy="178.7" r=".95"/><circle cx="471.6" cy="173.0" r=".95"/><circle cx="471.4" cy="182.8" r=".95"/><circle cx="471.4" cy="178.2" r=".95"/><circle cx="471.5" cy="173.5" r=".95"/><circle cx="471.2" cy="185.2" r=".95"/><circle cx="471.1" cy="181.3" r=".95"/><circle cx="471.5" cy="177.6" r=".95"/><circle cx="471.5" cy="185.2" r=".95"/><circle cx="471.1" cy="178.0" r=".95"/><circle cx="471.5" cy="178.5" r=".95"/><circle cx="471.4" cy="176.6" r=".95"/><circle cx="471.6" cy="173.5" r=".95"/><circle cx="471.5" cy="176.1" r=".95"/><circle cx="471.5" cy="184.7" r=".95"/><circle cx="471.5" cy="173.8" r=".95"/><circle cx="471.2" cy="179.9" r=".95"/><circle cx="471.2" cy="175.7" r=".95"/><circle cx="471.5" cy="180.3" r=".95"/><circle cx="471.3" cy="180.0" r=".95"/><circle cx="471.3" cy="184.2" r=".95"/><circle cx="471.4" cy="176.5" r=".95"/><circle cx="471.1" cy="181.6" r=".95"/><circle cx="471.2" cy="173.3" r=".95"/><circle cx="471.5" cy="176.0" r=".95"/><circle cx="471.5" cy="183.8" r=".95"/><circle cx="471.2" cy="182.2" r=".95"/><circle cx="471.1" cy="175.2" r=".95"/><circle cx="471.1" cy="183.4" r=".95"/><circle cx="471.0" cy="183.8" r=".95"/><circle cx="471.3" cy="176.0" r=".95"/><circle cx="471.5" cy="180.6" r=".95"/>
</g>
<g fill="#d40077" stroke="#d40077">
<circle cx="473.0" cy="187.5" r=".95"/><circle cx="472.7" cy="178.9" r=".95"/><circle cx="473.2" cy="180.4" r=".95"/><circle cx="473.1" cy="179.8" r=".95"/><circle cx="472.9" cy="179.3" r=".95"/><circle cx="473.0" cy="174.2" r=".95"/><circle cx="473.2" cy="182.0" r=".95"/><circle cx="473.1" cy="180.8" r=".95"/><circle cx="473.2" cy="176.9" r=".95"/><circle cx="472.9" cy="185.2" r=".95"/><circle cx="473.2" cy="178.2" r=".95"/><circle cx="473.0" cy="179.9" r=".95"/><circle cx="473.0" cy="186.8" r=".95"/><circle cx="473.0" cy="178.5" r=".95"/><circle cx="473.0" cy="181.5" r=".95"/><circle cx="473.2" cy="185.0" r=".95"/><circle cx="473.2" cy="185.1" r=".95"/><circle cx="472.8" cy="182.9" r=".95"/><circle cx="473.2" cy="181.1" r=".95"/><circle cx="473.1" cy="182.6" r=".95"/><circle cx="473.1" cy="175.1" r=".95"/><circle cx="472.8" cy="178.8" r=".95"/><circle cx="473.1" cy="177.8" r=".95"/><circle cx="473.2" cy="182.7" r=".95"/><circle cx="473.2" cy="178.6" r=".95"/><circle cx="473.2" cy="178.2" r=".95"/><circle cx="473.2" cy="178.6" r=".95"/><circle cx="473.1" cy="182.9" r=".95"/><circle cx="473.2" cy="176.5" r=".95"/><circle cx="473.0" cy="180.4" r=".95"/><circle cx="473.3" cy="178.2" r=".95"/><circle cx="472.8" cy="185.8" r=".95"/><circle cx="473.1" cy="176.0" r=".95"/><circle cx="473.1" cy="182.2" r=".95"/><circle cx="473.2" cy="179.3" r=".95"/><circle cx="473.2" cy="176.5" r=".95"/><circle cx="473.2" cy="180.4" r=".95"/><circle cx="473.1" cy="181.7" r=".95"/><circle cx="473.2" cy="181.1" r=".95"/><circle cx="472.8" cy="185.8" r=".95"/><circle cx="472.9" cy="181.9" r=".95"/><circle cx="473.0" cy="181.1" r=".95"/><circle cx="473.2" cy="178.2" r=".95"/><circle cx="473.2" cy="178.6" r=".95"/><circle cx="473.1" cy="178.9" r=".95"/><circle cx="473.1" cy="178.3" r=".95"/>
</g>
<g fill="#d70072" stroke="#d70072">
<circle cx="474.6" cy="188.0" r=".95"/><circle cx="474.5" cy="175.0" r=".95"/><circle cx="474.4" cy="178.9" r=".95"/><circle cx="474.3" cy="181.5" r=".95"/><circle cx="474.6" cy="185.5" r=".95"/><circle cx="474.5" cy="177.0" r=".95"/><circle cx="474.6" cy="176.6" r=".95"/><circle cx="474.1" cy="174.8" r=".95"/><circle cx="474.4" cy="180.6" r=".95"/><circle cx="474.3" cy="179.8" r=".95"/><circle cx="474.4" cy="183.3" r=".95"/><circle cx="474.2" cy="180.5" r=".95"/><circle cx="474.5" cy="179.0" r=".95"/><circle cx="474.3" cy="186.7" r=".95"/><circle cx="474.5" cy="178.6" r=".95"/><circle cx="474.6" cy="177.1" r=".95"/><circle cx="474.6" cy="181.3" r=".95"/><circle cx="474.4" cy="184.0" r=".95"/><circle cx="474.6" cy="184.4" r=".95"/><circle cx="474.2" cy="182.2" r=".95"/><circle cx="474.4" cy="180.4" r=".95"/><circle cx="474.3" cy="187.2" r=".95"/><circle cx="474.3" cy="186.1" r=".95"/><circle cx="474.6" cy="179.6" r=".95"/><circle cx="474.3" cy="183.1" r=".95"/><circle cx="474.2" cy="178.8" r=".95"/><circle cx="474.3" cy="176.3" r=".95"/><circle cx="474.3" cy="188.7" r=".95"/><circle cx="474.4" cy="180.6" r=".95"/><circle cx="474.6" cy="183.4" r=".95"/><circle cx="474.5" cy="181.2" r=".95"/><circle cx="474.3" cy="186.9" r=".95"/><circle cx="474.4" cy="179.0" r=".95"/><circle cx="474.3" cy="183.4" r=".95"/><circle cx="474.2" cy="178.7" r=".95"/><circle cx="474.2" cy="182.5" r=".95"/><circle cx="474.3" cy="184.6" r=".95"/><circle cx="474.2" cy="181.8" r=".95"/><circle cx="474.6" cy="184.6" r=".95"/><circle cx="474.2" cy="186.3" r=".95"/><circle cx="474.5" cy="184.3" r=".95"/><circle cx="474.6" cy="181.6" r=".95"/><circle cx="474.2" cy="180.7" r=".95"/><circle cx="474.7" cy="176.3" r=".95"/><circle cx="474.3" cy="180.1" r=".95"/><circle cx="474.6" cy="183.8" r=".95"/><circle cx="474.3" cy="181.3" r=".95"/><circle cx="474.6" cy="181.5" r=".95"/><circle cx="474.4" cy="179.7" r=".95"/><circle cx="474.6" cy="179.8" r=".95"/><circle cx="474.2" cy="181.6" r=".95"/><circle cx="474.3" cy="182.2" r=".95"/><circle cx="474.2" cy="177.2" r=".95"/><circle cx="474.6" cy="179.5" r=".95"/><circle cx="474.2" cy="179.7" r=".95"/><circle cx="474.5" cy="182.4" r=".95"/><circle cx="474.3" cy="181.3" r=".95"/><circle cx="474.6" cy="180.4" r=".95"/><circle cx="474.5" cy="179.9" r=".95"/><circle cx="474.3" cy="181.4" r=".95"/><circle cx="474.4" cy="182.0" r=".95"/><circle cx="474.6" cy="175.5" r=".95"/><circle cx="474.4" cy="178.7" r=".95"/><circle cx="474.1" cy="182.5" r=".95"/><circle cx="474.5" cy="184.6" r=".95"/><circle cx="474.7" cy="181.1" r=".95"/><circle cx="474.1" cy="185.6" r=".95"/><circle cx="474.3" cy="176.0" r=".95"/><circle cx="474.2" cy="178.1" r=".95"/><circle cx="474.1" cy="181.3" r=".95"/><circle cx="474.1" cy="186.5" r=".95"/><circle cx="474.7" cy="188.6" r=".95"/><circle cx="474.4" cy="176.3" r=".95"/><circle cx="474.6" cy="180.4" r=".95"/><circle cx="474.2" cy="173.4" r=".95"/><circle cx="474.7" cy="174.0" r=".95"/>
</g>
<g fill="#da006c" stroke="#da006c">
<circle cx="476.2" cy="179.6" r=".95"/><circle cx="476.1" cy="184.5" r=".95"/><circle cx="476.3" cy="187.1" r=".95"/><circle cx="476.1" cy="185.7" r=".95"/><circle cx="476.0" cy="184.9" r=".95"/><circle cx="476.0" cy="186.4" r=".95"/><circle cx="476.1" cy="188.6" r=".95"/><circle cx="475.8" cy="180.8" r=".95"/><circle cx="476.1" cy="176.6" r=".95"/><circle cx="476.3" cy="178.8" r=".95"/><circle cx="476.3" cy="183.2" r=".95"/><circle cx="475.8" cy="179.4" r=".95"/><circle cx="476.3" cy="183.3" r=".95"/><circle cx="475.8" cy="182.7" r=".95"/><circle cx="475.9" cy="177.0" r=".95"/><circle cx="476.2" cy="182.5" r=".95"/><circle cx="475.9" cy="182.7" r=".95"/><circle cx="476.1" cy="180.7" r=".95"/><circle cx="475.8" cy="184.0" r=".95"/><circle cx="475.8" cy="182.6" r=".95"/><circle cx="476.2" cy="183.7" r=".95"/><circle cx="476.3" cy="180.5" r=".95"/><circle cx="475.9" cy="186.2" r=".95"/><circle cx="476.0" cy="181.3" r=".95"/><circle cx="475.9" cy="179.6" r=".95"/><circle cx="476.3" cy="181.2" r=".95"/><circle cx="475.8" cy="179.3" r=".95"/><circle cx="476.2" cy="183.7" r=".95"/><circle cx="476.2" cy="183.3" r=".95"/><circle cx="475.9" cy="183.7" r=".95"/><circle cx="476.3" cy="186.7" r=".95"/><circle cx="476.3" cy="181.8" r=".95"/><circle cx="476.3" cy="182.0" r=".95"/><circle cx="476.0" cy="188.4" r=".95"/><circle cx="475.8" cy="187.9" r=".95"/>
</g>
<g fill="#dd0066" stroke="#dd0066">
<circle cx="477.7" cy="182.2" r=".95"/><circle cx="477.8" cy="181.8" r=".95"/><circle cx="477.9" cy="186.1" r=".95"/><circle cx="477.9" cy="181.6" r=".95"/><circle cx="477.7" cy="188.9" r=".95"/><circle cx="477.9" cy="182.1" r=".95"/><circle cx="477.5" cy="177.4" r=".95"/><circle cx="477.7" cy="181.9" r=".95"/><circle cx="477.8" cy="186.7" r=".95"/><circle cx="477.7" cy="181.0" r=".95"/><circle cx="477.6" cy="188.8" r=".95"/><circle cx="477.8" cy="176.9" r=".95"/><circle cx="477.6" cy="183.2" r=".95"/><circle cx="477.8" cy="178.8" r=".95"/><circle cx="477.7" cy="178.4" r=".95"/><circle cx="477.6" cy="183.5" r=".95"/><circle cx="477.6" cy="184.3" r=".95"/><circle cx="477.8" cy="178.4" r=".95"/><circle cx="477.5" cy="183.8" r=".95"/><circle cx="477.5" cy="182.4" r=".95"/><circle cx="477.7" cy="190.6" r=".95"/><circle cx="477.7" cy="184.7" r=".95"/><circle cx="477.5" cy="189.6" r=".95"/><circle cx="477.8" cy="184.1" r=".95"/><circle cx="478.0" cy="185.5" r=".95"/><circle cx="477.7" cy="181.2" r=".95"/><circle cx="477.9" cy="181.3" r=".95"/><circle cx="477.6" cy="184.5" r=".95"/><circle cx="477.6" cy="179.0" r=".95"/><circle cx="477.8" cy="186.1" r=".95"/>
</g>
<g fill="#e00061" stroke="#e00061">
<circle cx="479.2" cy="181.0" r=".95"/><circle cx="479.3" cy="181.0" r=".95"/><circle cx="479.3" cy="179.5" r=".95"/><circle cx="479.3" cy="179.9" r=".95"/><circle cx="479.1" cy="185.1" r=".95"/><circle cx="479.1" cy="185.1" r=".95"/><circle cx="479.2" cy="186.7" r=".95"/><circle cx="479.1" cy="183.8" r=".95"/><circle cx="479.3" cy="177.7" r=".95"/><circle cx="479.3" cy="179.4" r=".95"/><circle cx="479.2" cy="183.9" r=".95"/><circle cx="479.3" cy="183.7" r=".95"/><circle cx="479.1" cy="184.3" r=".95"/><circle cx="479.2" cy="184.3" r=".95"/><circle cx="479.0" cy="177.4" r=".95"/><circle cx="479.2" cy="185.7" r=".95"/><circle cx="479.1" cy="183.7" r=".95"/><circle cx="479.2" cy="182.2" r=".95"/><circle cx="479.1" cy="183.8" r=".95"/><circle cx="479.3" cy="183.1" r=".95"/><circle cx="479.0" cy="178.4" r=".95"/><circle cx="479.2" cy="177.4" r=".95"/><circle cx="479.2" cy="187.4" r=".95"/><circle cx="479.1" cy="175.1" r=".95"/><circle cx="479.2" cy="181.1" r=".95"/><circle cx="479.0" cy="184.0" r=".95"/><circle cx="479.1" cy="187.6" r=".95"/><circle cx="479.2" cy="176.5" r=".95"/><circle cx="479.2" cy="187.0" r=".95"/><circle cx="479.2" cy="186.2" r=".95"/>
</g>
<g fill="#e3005b" stroke="#e3005b">
<circle cx="479.5" cy="182.8" r=".95"/><circle cx="480.9" cy="187.1" r=".95"/><circle cx="481.0" cy="182.1" r=".95"/><circle cx="480.8" cy="183.3" r=".95"/><circle cx="479.5" cy="185.1" r=".95"/><circle cx="479.5" cy="178.2" r=".95"/><circle cx="479.5" cy="185.6" r=".95"/><circle cx="479.6" cy="177.2" r=".95"/><circle cx="479.6" cy="178.5" r=".95"/><circle cx="479.6" cy="179.9" r=".95"/><circle cx="479.5" cy="182.0" r=".95"/><circle cx="479.7" cy="178.3" r=".95"/><circle cx="479.4" cy="177.1" r=".95"/><circle cx="480.9" cy="179.5" r=".95"/><circle cx="480.9" cy="189.1" r=".95"/><circle cx="479.4" cy="189.2" r=".95"/><circle cx="481.0" cy="178.1" r=".95"/><circle cx="479.4" cy="180.8" r=".95"/><circle cx="479.5" cy="183.2" r=".95"/><circle cx="479.5" cy="175.1" r=".95"/><circle cx="479.5" cy="183.1" r=".95"/><circle cx="480.8" cy="185.5" r=".95"/><circle cx="480.8" cy="181.1" r=".95"/><circle cx="481.0" cy="185.9" r=".95"/><circle cx="480.8" cy="181.6" r=".95"/><circle cx="479.4" cy="180.8" r=".95"/><circle cx="479.5" cy="179.5" r=".95"/><circle cx="481.0" cy="176.3" r=".95"/><circle cx="481.0" cy="184.4" r=".95"/><circle cx="479.5" cy="185.9" r=".95"/><circle cx="479.7" cy="182.0" r=".95"/><circle cx="479.4" cy="177.9" r=".95"/><circle cx="479.4" cy="180.0" r=".95"/><circle cx="480.9" cy="183.5" r=".95"/><circle cx="480.8" cy="186.5" r=".95"/><circle cx="479.4" cy="182.1" r=".95"/><circle cx="479.5" cy="185.0" r=".95"/><circle cx="480.8" cy="183.8" r=".95"/><circle cx="479.6" cy="184.7" r=".95"/><circle cx="479.5" cy="178.1" r=".95"/><circle cx="481.0" cy="183.1" r=".95"/><circle cx="481.0" cy="182.1" r=".95"/><circle cx="479.4" cy="182.7" r=".95"/><circle cx="480.8" cy="183.0" r=".95"/><circle cx="479.5" cy="183.8" r=".95"/><circle cx="479.6" cy="188.8" r=".95"/><circle cx="480.9" cy="181.9" r=".95"/><circle cx="479.5" cy="183.0" r=".95"/><circle cx="479.4" cy="183.9" r=".95"/><circle cx="481.0" cy="183.3" r=".95"/><circle cx="480.9" cy="187.3" r=".95"/><circle cx="479.4" cy="181.8" r=".95"/><circle cx="480.8" cy="186.9" r=".95"/>
</g>
<g fill="#e50055" stroke="#e50055">
<circle cx="481.2" cy="175.2" r=".95"/><circle cx="482.6" cy="181.7" r=".95"/><circle cx="482.7" cy="182.0" r=".95"/><circle cx="481.1" cy="184.7" r=".95"/><circle cx="483.0" cy="183.7" r=".95"/><circle cx="482.6" cy="180.5" r=".95"/><circle cx="482.6" cy="179.1" r=".95"/><circle cx="481.1" cy="183.2" r=".95"/><circle cx="481.2" cy="184.4" r=".95"/><circle cx="483.0" cy="179.3" r=".95"/><circle cx="482.5" cy="180.9" r=".95"/><circle cx="482.6" cy="185.0" r=".95"/><circle cx="482.4" cy="184.0" r=".95"/><circle cx="481.0" cy="181.4" r=".95"/><circle cx="481.1" cy="182.4" r=".95"/><circle cx="482.6" cy="184.6" r=".95"/><circle cx="481.2" cy="184.3" r=".95"/><circle cx="482.5" cy="183.5" r=".95"/><circle cx="481.1" cy="188.7" r=".95"/><circle cx="482.9" cy="178.0" r=".95"/><circle cx="482.7" cy="184.9" r=".95"/><circle cx="481.1" cy="187.8" r=".95"/><circle cx="481.3" cy="176.0" r=".95"/><circle cx="481.1" cy="177.6" r=".95"/><circle cx="483.0" cy="182.1" r=".95"/><circle cx="482.6" cy="185.2" r=".95"/><circle cx="482.8" cy="189.8" r=".95"/><circle cx="482.7" cy="175.1" r=".95"/><circle cx="481.2" cy="182.5" r=".95"/><circle cx="482.6" cy="184.4" r=".95"/><circle cx="481.1" cy="174.9" r=".95"/><circle cx="482.5" cy="179.2" r=".95"/><circle cx="482.8" cy="177.9" r=".95"/><circle cx="482.8" cy="180.0" r=".95"/><circle cx="481.0" cy="184.8" r=".95"/><circle cx="481.3" cy="187.9" r=".95"/><circle cx="482.8" cy="188.1" r=".95"/><circle cx="482.8" cy="187.7" r=".95"/><circle cx="483.0" cy="184.2" r=".95"/><circle cx="481.1" cy="180.9" r=".95"/><circle cx="481.1" cy="188.0" r=".95"/><circle cx="482.9" cy="178.1" r=".95"/><circle cx="483.0" cy="182.3" r=".95"/><circle cx="483.0" cy="176.2" r=".95"/><circle cx="482.7" cy="184.0" r=".95"/><circle cx="482.5" cy="185.7" r=".95"/><circle cx="482.7" cy="182.0" r=".95"/><circle cx="481.2" cy="187.7" r=".95"/><circle cx="482.8" cy="186.5" r=".95"/><circle cx="481.3" cy="184.3" r=".95"/><circle cx="482.9" cy="186.4" r=".95"/><circle cx="483.0" cy="185.9" r=".95"/><circle cx="482.8" cy="188.0" r=".95"/><circle cx="481.3" cy="189.5" r=".95"/><circle cx="482.4" cy="182.7" r=".95"/><circle cx="482.7" cy="187.7" r=".95"/>
</g>
<g fill="#e80050" stroke="#e80050">
<circle cx="484.1" cy="180.5" r=".95"/><circle cx="484.4" cy="184.7" r=".95"/><circle cx="484.4" cy="186.5" r=".95"/><circle cx="484.0" cy="185.6" r=".95"/><circle cx="484.2" cy="183.4" r=".95"/><circle cx="484.0" cy="180.1" r=".95"/><circle cx="484.2" cy="182.2" r=".95"/><circle cx="484.1" cy="186.5" r=".95"/><circle cx="484.0" cy="187.0" r=".95"/><circle cx="483.9" cy="184.7" r=".95"/><circle cx="484.1" cy="187.6" r=".95"/><circle cx="483.9" cy="180.7" r=".95"/><circle cx="484.2" cy="177.4" r=".95"/><circle cx="483.9" cy="180.5" r=".95"/><circle cx="484.3" cy="180.0" r=".95"/><circle cx="484.1" cy="184.7" r=".95"/><circle cx="484.1" cy="186.6" r=".95"/><circle cx="484.4" cy="176.9" r=".95"/><circle cx="483.9" cy="180.4" r=".95"/><circle cx="484.2" cy="180.3" r=".95"/><circle cx="483.8" cy="179.8" r=".95"/><circle cx="484.3" cy="176.9" r=".95"/><circle cx="483.9" cy="186.5" r=".95"/><circle cx="484.2" cy="183.4" r=".95"/><circle cx="483.8" cy="175.6" r=".95"/><circle cx="483.8" cy="183.9" r=".95"/><circle cx="484.2" cy="184.6" r=".95"/><circle cx="484.1" cy="181.2" r=".95"/><circle cx="484.2" cy="187.7" r=".95"/><circle cx="484.3" cy="183.8" r=".95"/><circle cx="483.9" cy="181.8" r=".95"/><circle cx="484.3" cy="190.6" r=".95"/><circle cx="483.9" cy="182.9" r=".95"/><circle cx="483.9" cy="180.8" r=".95"/><circle cx="484.3" cy="183.4" r=".95"/><circle cx="484.4" cy="179.8" r=".95"/><circle cx="484.0" cy="181.7" r=".95"/><circle cx="484.3" cy="182.5" r=".95"/><circle cx="484.3" cy="181.5" r=".95"/><circle cx="484.3" cy="184.0" r=".95"/><circle cx="483.9" cy="178.0" r=".95"/><circle cx="484.2" cy="183.7" r=".95"/><circle cx="484.4" cy="179.5" r=".95"/><circle cx="483.9" cy="186.6" r=".95"/><circle cx="483.9" cy="177.9" r=".95"/><circle cx="484.1" cy="189.6" r=".95"/><circle cx="484.1" cy="182.2" r=".95"/><circle cx="484.3" cy="179.2" r=".95"/><circle cx="484.1" cy="181.2" r=".95"/><circle cx="484.3" cy="178.4" r=".95"/><circle cx="484.3" cy="185.6" r=".95"/><circle cx="484.1" cy="183.8" r=".95"/><circle cx="484.3" cy="187.5" r=".95"/><circle cx="484.2" cy="185.4" r=".95"/><circle cx="483.9" cy="176.7" r=".95"/><circle cx="484.2" cy="181.6" r=".95"/><circle cx="484.1" cy="181.5" r=".95"/><circle cx="484.0" cy="186.7" r=".95"/><circle cx="483.9" cy="183.0" r=".95"/><circle cx="484.1" cy="179.4" r=".95"/>
</g>
<g fill="#eb004a" stroke="#eb004a">
<circle cx="485.7" cy="182.5" r=".95"/><circle cx="485.9" cy="179.0" r=".95"/><circle cx="486.0" cy="179.3" r=".95"/><circle cx="487.3" cy="188.6" r=".95"/><circle cx="485.7" cy="181.9" r=".95"/><circle cx="486.0" cy="179.2" r=".95"/><circle cx="486.0" cy="184.0" r=".95"/><circle cx="485.7" cy="180.1" r=".95"/><circle cx="486.0" cy="185.1" r=".95"/><circle cx="485.7" cy="182.5" r=".95"/><circle cx="485.5" cy="186.7" r=".95"/><circle cx="487.3" cy="183.7" r=".95"/><circle cx="486.0" cy="185.2" r=".95"/><circle cx="487.3" cy="185.4" r=".95"/><circle cx="486.0" cy="184.1" r=".95"/><circle cx="487.2" cy="178.3" r=".95"/><circle cx="485.7" cy="179.5" r=".95"/><circle cx="485.7" cy="188.6" r=".95"/><circle cx="485.8" cy="184.4" r=".95"/><circle cx="485.9" cy="181.5" r=".95"/><circle cx="486.0" cy="180.2" r=".95"/><circle cx="486.0" cy="187.2" r=".95"/><circle cx="486.1" cy="179.4" r=".95"/><circle cx="485.6" cy="181.6" r=".95"/><circle cx="485.6" cy="184.0" r=".95"/><circle cx="485.8" cy="181.1" r=".95"/><circle cx="485.7" cy="187.2" r=".95"/><circle cx="485.6" cy="183.0" r=".95"/><circle cx="487.2" cy="184.0" r=".95"/><circle cx="486.0" cy="186.9" r=".95"/><circle cx="485.6" cy="183.2" r=".95"/><circle cx="485.5" cy="181.2" r=".95"/><circle cx="485.9" cy="181.7" r=".95"/><circle cx="485.9" cy="181.6" r=".95"/><circle cx="485.8" cy="186.8" r=".95"/><circle cx="486.0" cy="185.0" r=".95"/><circle cx="487.2" cy="181.9" r=".95"/><circle cx="485.7" cy="183.5" r=".95"/><circle cx="486.0" cy="184.3" r=".95"/>
</g>
<g fill="#ed0044" stroke="#ed0044">
<circle cx="488.8" cy="175.0" r=".95"/><circle cx="489.3" cy="175.6" r=".95"/><circle cx="489.1" cy="175.6" r=".95"/><circle cx="487.4" cy="186.0" r=".95"/><circle cx="487.4" cy="182.7" r=".95"/><circle cx="487.3" cy="181.2" r=".95"/><circle cx="487.6" cy="184.1" r=".95"/><circle cx="489.2" cy="177.6" r=".95"/><circle cx="487.4" cy="178.2" r=".95"/><circle cx="489.0" cy="189.8" r=".95"/><circle cx="489.2" cy="181.1" r=".95"/><circle cx="489.0" cy="184.6" r=".95"/><circle cx="487.4" cy="186.1" r=".95"/><circle cx="487.3" cy="185.3" r=".95"/><circle cx="488.9" cy="184.8" r=".95"/><circle cx="489.3" cy="185.9" r=".95"/><circle cx="487.5" cy="179.3" r=".95"/><circle cx="489.3" cy="185.0" r=".95"/><circle cx="487.5" cy="182.5" r=".95"/><circle cx="489.2" cy="179.1" r=".95"/><circle cx="489.1" cy="183.8" r=".95"/><circle cx="489.3" cy="182.7" r=".95"/><circle cx="487.7" cy="176.5" r=".95"/><circle cx="489.0" cy="182.3" r=".95"/><circle cx="488.9" cy="176.5" r=".95"/><circle cx="489.1" cy="175.8" r=".95"/><circle cx="487.6" cy="180.8" r=".95"/><circle cx="487.3" cy="186.8" r=".95"/><circle cx="487.4" cy="179.2" r=".95"/><circle cx="489.3" cy="177.1" r=".95"/><circle cx="489.0" cy="185.8" r=".95"/><circle cx="489.3" cy="187.7" r=".95"/><circle cx="487.7" cy="185.0" r=".95"/><circle cx="487.4" cy="184.5" r=".95"/><circle cx="487.7" cy="183.0" r=".95"/><circle cx="489.2" cy="189.5" r=".95"/><circle cx="489.1" cy="179.8" r=".95"/><circle cx="487.7" cy="185.3" r=".95"/><circle cx="489.3" cy="183.6" r=".95"/><circle cx="488.8" cy="177.3" r=".95"/><circle cx="488.9" cy="184.5" r=".95"/><circle cx="489.3" cy="184.1" r=".95"/><circle cx="488.8" cy="183.3" r=".95"/><circle cx="488.9" cy="186.0" r=".95"/><circle cx="487.7" cy="181.3" r=".95"/><circle cx="489.0" cy="183.2" r=".95"/><circle cx="489.3" cy="181.8" r=".95"/><circle cx="488.9" cy="186.5" r=".95"/><circle cx="489.1" cy="184.7" r=".95"/><circle cx="488.7" cy="183.1" r=".95"/><circle cx="489.1" cy="186.6" r=".95"/><circle cx="489.0" cy="181.1" r=".95"/><circle cx="489.1" cy="183.1" r=".95"/><circle cx="489.2" cy="184.6" r=".95"/><circle cx="488.8" cy="181.0" r=".95"/><circle cx="487.7" cy="183.1" r=".95"/><circle cx="488.9" cy="188.4" r=".95"/><circle cx="487.6" cy="187.2" r=".95"/><circle cx="489.0" cy="183.0" r=".95"/><circle cx="488.7" cy="181.2" r=".95"/><circle cx="489.3" cy="188.4" r=".95"/><circle cx="489.0" cy="177.9" r=".95"/><circle cx="489.0" cy="187.3" r=".95"/><circle cx="488.9" cy="181.4" r=".95"/><circle cx="487.4" cy="183.6" r=".95"/><circle cx="488.8" cy="182.8" r=".95"/><circle cx="487.4" cy="184.5" r=".95"/><circle cx="489.2" cy="186.5" r=".95"/><circle cx="487.7" cy="184.3" r=".95"/><circle cx="487.3" cy="179.1" r=".95"/><circle cx="489.2" cy="178.3" r=".95"/><circle cx="489.1" cy="185.8" r=".95"/><circle cx="487.7" cy="182.7" r=".95"/>
</g>
<g fill="#ef003e" stroke="#ef003e">
<circle cx="490.9" cy="186.4" r=".95"/><circle cx="492.1" cy="176.9" r=".95"/><circle cx="492.1" cy="186.1" r=".95"/><circle cx="490.9" cy="179.3" r=".95"/><circle cx="490.5" cy="182.8" r=".95"/><circle cx="490.6" cy="183.4" r=".95"/><circle cx="490.9" cy="176.4" r=".95"/><circle cx="490.8" cy="182.7" r=".95"/><circle cx="490.8" cy="186.3" r=".95"/><circle cx="492.2" cy="184.5" r=".95"/><circle cx="490.8" cy="181.8" r=".95"/><circle cx="491.0" cy="183.9" r=".95"/><circle cx="490.9" cy="178.8" r=".95"/><circle cx="490.9" cy="187.1" r=".95"/><circle cx="491.0" cy="179.0" r=".95"/><circle cx="491.0" cy="180.4" r=".95"/><circle cx="492.2" cy="182.1" r=".95"/><circle cx="490.5" cy="181.1" r=".95"/><circle cx="492.2" cy="182.5" r=".95"/><circle cx="491.0" cy="183.0" r=".95"/><circle cx="491.0" cy="184.8" r=".95"/><circle cx="490.5" cy="182.9" r=".95"/><circle cx="490.8" cy="182.4" r=".95"/><circle cx="490.5" cy="179.4" r=".95"/><circle cx="490.7" cy="186.8" r=".95"/><circle cx="490.8" cy="186.9" r=".95"/><circle cx="491.0" cy="179.2" r=".95"/><circle cx="490.9" cy="184.5" r=".95"/><circle cx="490.9" cy="180.4" r=".95"/><circle cx="490.9" cy="184.0" r=".95"/><circle cx="490.6" cy="190.7" r=".95"/><circle cx="490.8" cy="185.6" r=".95"/><circle cx="490.6" cy="181.4" r=".95"/><circle cx="490.7" cy="176.7" r=".95"/><circle cx="490.8" cy="187.9" r=".95"/><circle cx="490.9" cy="182.6" r=".95"/><circle cx="490.5" cy="182.5" r=".95"/><circle cx="490.9" cy="181.5" r=".95"/><circle cx="490.7" cy="186.8" r=".95"/><circle cx="490.8" cy="181.2" r=".95"/>
</g>
<g fill="#f20037" stroke="#f20037">
<circle cx="492.6" cy="186.4" r=".95"/><circle cx="492.4" cy="181.3" r=".95"/><circle cx="492.4" cy="181.6" r=".95"/><circle cx="492.6" cy="183.7" r=".95"/><circle cx="492.6" cy="181.6" r=".95"/><circle cx="492.6" cy="182.7" r=".95"/><circle cx="492.6" cy="184.3" r=".95"/><circle cx="492.4" cy="179.2" r=".95"/><circle cx="492.4" cy="185.3" r=".95"/><circle cx="492.3" cy="181.9" r=".95"/><circle cx="492.7" cy="186.9" r=".95"/><circle cx="492.6" cy="179.0" r=".95"/><circle cx="492.6" cy="182.1" r=".95"/><circle cx="492.2" cy="181.3" r=".95"/><circle cx="492.6" cy="185.2" r=".95"/><circle cx="492.6" cy="179.1" r=".95"/><circle cx="492.4" cy="179.7" r=".95"/><circle cx="492.6" cy="186.2" r=".95"/><circle cx="493.9" cy="186.2" r=".95"/><circle cx="493.6" cy="179.5" r=".95"/><circle cx="493.8" cy="183.3" r=".95"/><circle cx="495.3" cy="181.2" r=".95"/><circle cx="493.8" cy="178.4" r=".95"/><circle cx="493.5" cy="184.2" r=".95"/><circle cx="493.8" cy="190.2" r=".95"/><circle cx="493.8" cy="184.7" r=".95"/><circle cx="493.8" cy="181.8" r=".95"/><circle cx="494.1" cy="184.3" r=".95"/><circle cx="493.8" cy="176.5" r=".95"/><circle cx="493.6" cy="180.5" r=".95"/><circle cx="493.8" cy="182.8" r=".95"/><circle cx="493.7" cy="184.1" r=".95"/><circle cx="494.0" cy="184.0" r=".95"/><circle cx="493.7" cy="184.8" r=".95"/><circle cx="493.9" cy="180.2" r=".95"/><circle cx="493.9" cy="183.4" r=".95"/><circle cx="493.9" cy="189.5" r=".95"/><circle cx="493.8" cy="186.6" r=".95"/><circle cx="494.0" cy="184.8" r=".95"/><circle cx="493.6" cy="183.3" r=".95"/><circle cx="493.7" cy="181.6" r=".95"/><circle cx="493.7" cy="179.5" r=".95"/><circle cx="493.8" cy="188.5" r=".95"/><circle cx="494.0" cy="181.4" r=".95"/><circle cx="495.2" cy="185.4" r=".95"/><circle cx="493.9" cy="175.0" r=".95"/><circle cx="494.0" cy="180.0" r=".95"/><circle cx="493.6" cy="175.3" r=".95"/><circle cx="493.6" cy="180.9" r=".95"/><circle cx="494.0" cy="184.1" r=".95"/><circle cx="493.5" cy="184.0" r=".95"/><circle cx="495.2" cy="180.6" r=".95"/><circle cx="493.6" cy="182.1" r=".95"/><circle cx="493.7" cy="183.0" r=".95"/><circle cx="494.0" cy="183.4" r=".95"/><circle cx="494.1" cy="186.8" r=".95"/><circle cx="493.9" cy="180.0" r=".95"/><circle cx="493.8" cy="177.8" r=".95"/><circle cx="493.6" cy="180.5" r=".95"/><circle cx="493.6" cy="182.4" r=".95"/><circle cx="494.0" cy="176.8" r=".95"/><circle cx="493.8" cy="182.7" r=".95"/><circle cx="493.9" cy="188.1" r=".95"/><circle cx="493.9" cy="175.2" r=".95"/><circle cx="493.8" cy="183.2" r=".95"/><circle cx="493.9" cy="181.0" r=".95"/><circle cx="493.7" cy="176.9" r=".95"/><circle cx="493.8" cy="183.2" r=".95"/><circle cx="493.7" cy="183.8" r=".95"/><circle cx="495.2" cy="179.8" r=".95"/><circle cx="493.8" cy="182.2" r=".95"/><circle cx="495.3" cy="180.0" r=".95"/><circle cx="493.6" cy="186.5" r=".95"/><circle cx="494.0" cy="183.4" r=".95"/><circle cx="495.3" cy="178.2" r=".95"/><circle cx="493.7" cy="187.1" r=".95"/><circle cx="493.6" cy="181.4" r=".95"/>
</g>
<g fill="#f40031" stroke="#f40031">
<circle cx="496.9" cy="179.6" r=".95"/><circle cx="497.1" cy="188.5" r=".95"/><circle cx="497.0" cy="177.8" r=".95"/><circle cx="497.2" cy="181.3" r=".95"/><circle cx="496.9" cy="184.8" r=".95"/><circle cx="497.3" cy="183.6" r=".95"/><circle cx="497.1" cy="181.1" r=".95"/><circle cx="497.1" cy="182.2" r=".95"/><circle cx="497.0" cy="186.3" r=".95"/><circle cx="495.8" cy="176.7" r=".95"/><circle cx="495.3" cy="180.7" r=".95"/><circle cx="495.7" cy="178.1" r=".95"/><circle cx="495.5" cy="181.1" r=".95"/><circle cx="497.3" cy="179.2" r=".95"/><circle cx="497.4" cy="184.9" r=".95"/><circle cx="497.4" cy="184.5" r=".95"/><circle cx="495.3" cy="181.3" r=".95"/><circle cx="497.4" cy="187.1" r=".95"/><circle cx="496.9" cy="181.4" r=".95"/><circle cx="498.4" cy="185.2" r=".95"/><circle cx="495.6" cy="185.4" r=".95"/><circle cx="495.4" cy="189.4" r=".95"/><circle cx="495.3" cy="182.5" r=".95"/><circle cx="497.1" cy="181.6" r=".95"/><circle cx="495.4" cy="181.3" r=".95"/><circle cx="495.4" cy="186.7" r=".95"/><circle cx="497.3" cy="183.2" r=".95"/><circle cx="496.9" cy="185.0" r=".95"/><circle cx="497.0" cy="190.2" r=".95"/><circle cx="495.3" cy="184.1" r=".95"/><circle cx="495.7" cy="182.1" r=".95"/>
</g>
<g fill="#f6002a" stroke="#f6002a">
<circle cx="500.6" cy="186.0" r=".95"/><circle cx="502.1" cy="187.6" r=".95"/><circle cx="499.0" cy="179.4" r=".95"/><circle cx="498.7" cy="181.6" r=".95"/><circle cx="498.8" cy="184.3" r=".95"/><circle cx="498.7" cy="189.0" r=".95"/><circle cx="498.9" cy="183.3" r=".95"/><circle cx="500.7" cy="185.6" r=".95"/><circle cx="500.2" cy="187.4" r=".95"/><circle cx="502.0" cy="175.6" r=".95"/><circle cx="498.9" cy="187.2" r=".95"/><circle cx="500.5" cy="186.7" r=".95"/><circle cx="502.3" cy="178.0" r=".95"/><circle cx="500.4" cy="181.2" r=".95"/><circle cx="499.0" cy="180.8" r=".95"/><circle cx="498.8" cy="184.1" r=".95"/><circle cx="498.9" cy="186.0" r=".95"/><circle cx="498.8" cy="183.1" r=".95"/><circle cx="502.3" cy="182.5" r=".95"/><circle cx="500.6" cy="180.0" r=".95"/><circle cx="499.0" cy="188.3" r=".95"/><circle cx="500.2" cy="185.4" r=".95"/><circle cx="500.6" cy="183.3" r=".95"/><circle cx="501.9" cy="178.7" r=".95"/><circle cx="500.4" cy="178.6" r=".95"/><circle cx="502.3" cy="177.8" r=".95"/><circle cx="500.7" cy="185.6" r=".95"/><circle cx="498.5" cy="181.7" r=".95"/><circle cx="500.6" cy="182.5" r=".95"/><circle cx="501.9" cy="176.7" r=".95"/><circle cx="500.3" cy="182.1" r=".95"/><circle cx="498.6" cy="179.3" r=".95"/><circle cx="498.6" cy="184.5" r=".95"/><circle cx="502.1" cy="190.5" r=".95"/><circle cx="498.6" cy="186.8" r=".95"/><circle cx="502.1" cy="181.4" r=".95"/><circle cx="498.9" cy="183.4" r=".95"/><circle cx="502.2" cy="189.3" r=".95"/><circle cx="498.6" cy="184.3" r=".95"/><circle cx="499.1" cy="184.0" r=".95"/><circle cx="498.5" cy="187.9" r=".95"/><circle cx="498.9" cy="185.6" r=".95"/><circle cx="499.1" cy="183.8" r=".95"/><circle cx="500.2" cy="190.3" r=".95"/><circle cx="500.2" cy="177.8" r=".95"/><circle cx="499.0" cy="179.7" r=".95"/><circle cx="499.0" cy="180.3" r=".95"/><circle cx="500.3" cy="183.0" r=".95"/><circle cx="498.8" cy="177.6" r=".95"/><circle cx="502.2" cy="178.3" r=".95"/><circle cx="498.7" cy="181.7" r=".95"/><circle cx="498.9" cy="181.9" r=".95"/><circle cx="501.9" cy="187.9" r=".95"/><circle cx="499.0" cy="180.2" r=".95"/><circle cx="499.0" cy="183.0" r=".95"/><circle cx="500.7" cy="185.0" r=".95"/><circle cx="498.9" cy="180.1" r=".95"/><circle cx="498.9" cy="180.6" r=".95"/><circle cx="502.4" cy="179.8" r=".95"/><circle cx="498.7" cy="180.6" r=".95"/><circle cx="500.3" cy="174.9" r=".95"/><circle cx="498.6" cy="191.4" r=".95"/><circle cx="498.7" cy="177.0" r=".95"/><circle cx="498.5" cy="184.0" r=".95"/><circle cx="500.7" cy="183.3" r=".95"/><circle cx="499.1" cy="182.3" r=".95"/><circle cx="499.0" cy="180.0" r=".95"/><circle cx="500.4" cy="187.9" r=".95"/><circle cx="498.9" cy="182.8" r=".95"/><circle cx="498.8" cy="175.0" r=".95"/><circle cx="500.4" cy="189.3" r=".95"/><circle cx="500.7" cy="189.4" r=".95"/><circle cx="500.7" cy="178.0" r=".95"/><circle cx="498.7" cy="183.2" r=".95"/><circle cx="500.7" cy="179.2" r=".95"/><circle cx="502.1" cy="186.3" r=".95"/><circle cx="502.0" cy="177.4" r=".95"/><circle cx="498.5" cy="185.3" r=".95"/><circle cx="500.5" cy="180.0" r=".95"/><circle cx="502.4" cy="182.3" r=".95"/><circle cx="500.3" cy="188.0" r=".95"/><circle cx="498.6" cy="180.7" r=".95"/><circle cx="498.5" cy="176.2" r=".95"/><circle cx="502.0" cy="179.3" r=".95"/><circle cx="498.5" cy="187.3" r=".95"/><circle cx="498.6" cy="180.0" r=".95"/><circle cx="501.9" cy="179.2" r=".95"/><circle cx="501.9" cy="188.1" r=".95"/><circle cx="502.2" cy="187.5" r=".95"/><circle cx="498.8" cy="179.8" r=".95"/><circle cx="500.5" cy="185.6" r=".95"/><circle cx="498.6" cy="189.4" r=".95"/><circle cx="502.1" cy="180.4" r=".95"/><circle cx="498.8" cy="176.5" r=".95"/><circle cx="498.9" cy="179.4" r=".95"/><circle cx="502.4" cy="185.9" r=".95"/><circle cx="498.8" cy="178.1" r=".95"/><circle cx="501.9" cy="185.8" r=".95"/><circle cx="498.5" cy="182.9" r=".95"/><circle cx="498.9" cy="188.2" r=".95"/>
</g>
<g fill="#f90023" stroke="#f90023">
<circle cx="503.6" cy="184.8" r=".95"/><circle cx="505.3" cy="182.4" r=".95"/><circle cx="503.5" cy="181.5" r=".95"/><circle cx="505.4" cy="188.7" r=".95"/><circle cx="505.3" cy="181.3" r=".95"/><circle cx="506.8" cy="188.7" r=".95"/><circle cx="506.9" cy="180.5" r=".95"/><circle cx="505.3" cy="176.9" r=".95"/><circle cx="505.3" cy="180.5" r=".95"/><circle cx="503.6" cy="186.5" r=".95"/><circle cx="506.6" cy="189.0" r=".95"/><circle cx="503.4" cy="178.6" r=".95"/><circle cx="503.7" cy="184.9" r=".95"/><circle cx="503.3" cy="181.8" r=".95"/><circle cx="503.6" cy="182.4" r=".95"/><circle cx="505.1" cy="180.9" r=".95"/><circle cx="505.0" cy="183.5" r=".95"/><circle cx="505.4" cy="180.5" r=".95"/><circle cx="503.7" cy="189.8" r=".95"/><circle cx="507.1" cy="190.2" r=".95"/><circle cx="503.8" cy="185.1" r=".95"/><circle cx="503.6" cy="179.7" r=".95"/><circle cx="504.9" cy="181.4" r=".95"/><circle cx="503.4" cy="187.8" r=".95"/><circle cx="505.3" cy="181.9" r=".95"/><circle cx="505.1" cy="183.1" r=".95"/><circle cx="507.0" cy="182.1" r=".95"/><circle cx="503.3" cy="189.6" r=".95"/><circle cx="507.1" cy="184.7" r=".95"/><circle cx="503.3" cy="178.6" r=".95"/><circle cx="507.0" cy="189.2" r=".95"/><circle cx="506.9" cy="187.5" r=".95"/><circle cx="503.8" cy="181.7" r=".95"/><circle cx="506.6" cy="185.6" r=".95"/><circle cx="505.4" cy="176.0" r=".95"/><circle cx="503.5" cy="182.6" r=".95"/><circle cx="505.2" cy="188.2" r=".95"/><circle cx="503.8" cy="180.5" r=".95"/><circle cx="506.7" cy="177.6" r=".95"/><circle cx="503.4" cy="177.0" r=".95"/><circle cx="503.6" cy="178.7" r=".95"/><circle cx="505.2" cy="182.8" r=".95"/><circle cx="505.2" cy="178.2" r=".95"/><circle cx="505.4" cy="181.6" r=".95"/><circle cx="505.0" cy="177.9" r=".95"/><circle cx="505.1" cy="185.1" r=".95"/><circle cx="506.9" cy="184.0" r=".95"/><circle cx="506.7" cy="178.5" r=".95"/><circle cx="503.7" cy="184.6" r=".95"/><circle cx="503.4" cy="182.8" r=".95"/><circle cx="503.6" cy="177.5" r=".95"/><circle cx="503.4" cy="186.4" r=".95"/><circle cx="505.4" cy="187.9" r=".95"/><circle cx="503.5" cy="174.9" r=".95"/><circle cx="503.7" cy="182.8" r=".95"/><circle cx="506.7" cy="183.0" r=".95"/><circle cx="507.2" cy="184.3" r=".95"/><circle cx="506.9" cy="179.1" r=".95"/><circle cx="503.5" cy="188.7" r=".95"/><circle cx="506.8" cy="184.2" r=".95"/><circle cx="503.7" cy="183.7" r=".95"/><circle cx="503.6" cy="179.9" r=".95"/><circle cx="505.0" cy="183.7" r=".95"/><circle cx="503.4" cy="184.5" r=".95"/><circle cx="503.4" cy="187.9" r=".95"/><circle cx="503.4" cy="181.5" r=".95"/><circle cx="506.9" cy="183.6" r=".95"/><circle cx="503.7" cy="179.7" r=".95"/><circle cx="503.7" cy="185.2" r=".95"/><circle cx="503.3" cy="177.2" r=".95"/><circle cx="503.6" cy="191.4" r=".95"/><circle cx="503.8" cy="180.9" r=".95"/><circle cx="503.4" cy="182.9" r=".95"/><circle cx="505.4" cy="189.4" r=".95"/><circle cx="503.5" cy="184.2" r=".95"/><circle cx="503.4" cy="186.9" r=".95"/><circle cx="505.0" cy="183.7" r=".95"/><circle cx="507.0" cy="181.7" r=".95"/><circle cx="503.8" cy="187.7" r=".95"/><circle cx="503.3" cy="183.4" r=".95"/>
</g>
<g fill="#fb001a" stroke="#fb001a">
<circle cx="510.0" cy="180.8" r=".95"/><circle cx="510.2" cy="183.1" r=".95"/><circle cx="508.5" cy="179.6" r=".95"/><circle cx="508.3" cy="183.8" r=".95"/><circle cx="508.4" cy="188.2" r=".95"/><circle cx="511.7" cy="184.2" r=".95"/><circle cx="508.3" cy="182.3" r=".95"/><circle cx="508.6" cy="182.3" r=".95"/><circle cx="508.7" cy="179.7" r=".95"/><circle cx="508.3" cy="181.3" r=".95"/><circle cx="508.7" cy="184.7" r=".95"/><circle cx="510.2" cy="182.3" r=".95"/><circle cx="508.1" cy="178.8" r=".95"/><circle cx="508.6" cy="184.3" r=".95"/><circle cx="508.5" cy="185.6" r=".95"/><circle cx="508.5" cy="180.1" r=".95"/><circle cx="511.9" cy="183.4" r=".95"/><circle cx="508.6" cy="178.6" r=".95"/><circle cx="508.3" cy="184.9" r=".95"/><circle cx="510.3" cy="186.9" r=".95"/><circle cx="511.7" cy="180.1" r=".95"/><circle cx="508.4" cy="190.8" r=".95"/><circle cx="508.3" cy="179.5" r=".95"/><circle cx="511.9" cy="177.0" r=".95"/><circle cx="508.6" cy="184.4" r=".95"/><circle cx="508.2" cy="184.6" r=".95"/><circle cx="511.9" cy="185.6" r=".95"/><circle cx="508.4" cy="183.1" r=".95"/><circle cx="508.1" cy="185.7" r=".95"/><circle cx="508.3" cy="190.1" r=".95"/><circle cx="512.1" cy="185.5" r=".95"/><circle cx="508.7" cy="186.1" r=".95"/><circle cx="508.6" cy="181.4" r=".95"/><circle cx="511.6" cy="182.3" r=".95"/><circle cx="508.5" cy="180.1" r=".95"/><circle cx="510.4" cy="177.6" r=".95"/><circle cx="508.4" cy="180.0" r=".95"/><circle cx="508.8" cy="184.2" r=".95"/><circle cx="510.0" cy="188.0" r=".95"/><circle cx="512.1" cy="176.6" r=".95"/><circle cx="508.2" cy="184.2" r=".95"/><circle cx="511.9" cy="182.8" r=".95"/><circle cx="508.4" cy="181.4" r=".95"/><circle cx="510.0" cy="181.7" r=".95"/><circle cx="511.6" cy="175.9" r=".95"/><circle cx="508.2" cy="183.3" r=".95"/><circle cx="511.6" cy="184.7" r=".95"/><circle cx="510.2" cy="177.9" r=".95"/><circle cx="510.0" cy="183.7" r=".95"/><circle cx="508.1" cy="182.0" r=".95"/><circle cx="508.5" cy="182.6" r=".95"/><circle cx="510.3" cy="182.1" r=".95"/><circle cx="512.1" cy="182.0" r=".95"/><circle cx="511.9" cy="179.8" r=".95"/><circle cx="511.8" cy="186.5" r=".95"/><circle cx="511.6" cy="179.0" r=".95"/><circle cx="512.0" cy="180.2" r=".95"/><circle cx="512.0" cy="177.1" r=".95"/><circle cx="510.4" cy="181.1" r=".95"/><circle cx="511.9" cy="188.4" r=".95"/><circle cx="508.8" cy="181.9" r=".95"/><circle cx="509.9" cy="184.7" r=".95"/><circle cx="510.4" cy="185.8" r=".95"/><circle cx="508.6" cy="183.2" r=".95"/><circle cx="508.6" cy="186.7" r=".95"/><circle cx="510.4" cy="184.8" r=".95"/><circle cx="511.9" cy="183.4" r=".95"/><circle cx="508.7" cy="180.3" r=".95"/><circle cx="511.9" cy="177.1" r=".95"/><circle cx="508.3" cy="190.1" r=".95"/><circle cx="513.4" cy="178.3" r=".95"/><circle cx="513.3" cy="182.8" r=".95"/><circle cx="513.4" cy="186.8" r=".95"/><circle cx="513.3" cy="186.3" r=".95"/><circle cx="513.0" cy="181.6" r=".95"/><circle cx="513.4" cy="188.3" r=".95"/><circle cx="513.4" cy="182.3" r=".95"/><circle cx="513.1" cy="184.5" r=".95"/><circle cx="513.0" cy="182.5" r=".95"/><circle cx="513.0" cy="181.5" r=".95"/><circle cx="513.3" cy="176.8" r=".95"/><circle cx="513.3" cy="185.0" r=".95"/><circle cx="513.3" cy="175.4" r=".95"/><circle cx="513.4" cy="182.0" r=".95"/><circle cx="513.1" cy="184.7" r=".95"/><circle cx="513.0" cy="184.5" r=".95"/><circle cx="513.4" cy="177.4" r=".95"/><circle cx="513.3" cy="182.6" r=".95"/><circle cx="513.0" cy="185.1" r=".95"/><circle cx="513.1" cy="176.9" r=".95"/><circle cx="513.0" cy="186.0" r=".95"/><circle cx="513.4" cy="182.9" r=".95"/><circle cx="513.4" cy="185.4" r=".95"/><circle cx="513.3" cy="178.4" r=".95"/><circle cx="513.0" cy="185.7" r=".95"/><circle cx="513.4" cy="179.0" r=".95"/><circle cx="513.3" cy="178.7" r=".95"/><circle cx="513.5" cy="178.5" r=".95"/><circle cx="513.1" cy="179.1" r=".95"/><circle cx="513.5" cy="182.6" r=".95"/><circle cx="513.4" cy="180.1" r=".95"/><circle cx="513.3" cy="188.9" r=".95"/><circle cx="513.1" cy="178.9" r=".95"/><circle cx="513.3" cy="189.2" r=".95"/><circle cx="513.5" cy="178.0" r=".95"/><circle cx="513.2" cy="181.5" r=".95"/><circle cx="513.2" cy="183.5" r=".95"/><circle cx="513.0" cy="182.5" r=".95"/><circle cx="513.5" cy="179.8" r=".95"/><circle cx="513.2" cy="180.7" r=".95"/><circle cx="513.3" cy="185.1" r=".95"/><circle cx="513.5" cy="181.4" r=".95"/><circle cx="513.3" cy="181.0" r=".95"/><circle cx="513.0" cy="179.2" r=".95"/><circle cx="513.1" cy="184.1" r=".95"/><circle cx="513.2" cy="182.5" r=".95"/><circle cx="513.5" cy="181.6" r=".95"/><circle cx="513.1" cy="179.9" r=".95"/><circle cx="513.1" cy="184.6" r=".95"/><circle cx="513.1" cy="178.9" r=".95"/><circle cx="513.5" cy="182.0" r=".95"/><circle cx="513.1" cy="183.8" r=".95"/><circle cx="513.0" cy="176.0" r=".95"/><circle cx="513.5" cy="176.5" r=".95"/><circle cx="513.1" cy="185.6" r=".95"/><circle cx="513.3" cy="186.1" r=".95"/><circle cx="513.0" cy="176.4" r=".95"/><circle cx="513.4" cy="187.2" r=".95"/><circle cx="513.3" cy="177.6" r=".95"/><circle cx="513.4" cy="189.7" r=".95"/><circle cx="513.5" cy="182.1" r=".95"/><circle cx="513.5" cy="179.2" r=".95"/><circle cx="513.2" cy="178.7" r=".95"/><circle cx="513.4" cy="182.1" r=".95"/><circle cx="513.0" cy="183.5" r=".95"/><circle cx="513.4" cy="180.6" r=".95"/><circle cx="513.5" cy="184.7" r=".95"/><circle cx="513.3" cy="176.9" r=".95"/><circle cx="513.2" cy="174.5" r=".95"/><circle cx="513.5" cy="187.4" r=".95"/><circle cx="513.4" cy="183.2" r=".95"/><circle cx="513.5" cy="189.8" r=".95"/><circle cx="513.1" cy="181.1" r=".95"/><circle cx="513.2" cy="183.5" r=".95"/>
</g>
<g fill="#fd000f" stroke="#fd000f">
<circle cx="517.9" cy="176.9" r=".95"/><circle cx="520.0" cy="182.9" r=".95"/><circle cx="518.0" cy="184.7" r=".95"/><circle cx="518.3" cy="180.6" r=".95"/><circle cx="518.0" cy="187.0" r=".95"/><circle cx="518.0" cy="178.4" r=".95"/><circle cx="521.3" cy="181.5" r=".95"/><circle cx="516.3" cy="175.8" r=".95"/><circle cx="518.0" cy="176.0" r=".95"/><circle cx="514.8" cy="179.3" r=".95"/><circle cx="518.1" cy="179.5" r=".95"/><circle cx="521.6" cy="186.6" r=".95"/><circle cx="521.8" cy="186.9" r=".95"/><circle cx="518.0" cy="176.3" r=".95"/><circle cx="515.0" cy="187.5" r=".95"/><circle cx="516.5" cy="182.7" r=".95"/><circle cx="520.1" cy="186.2" r=".95"/><circle cx="516.4" cy="183.6" r=".95"/><circle cx="514.7" cy="188.2" r=".95"/><circle cx="517.9" cy="182.4" r=".95"/><circle cx="520.0" cy="189.7" r=".95"/><circle cx="518.0" cy="176.3" r=".95"/><circle cx="518.0" cy="180.8" r=".95"/><circle cx="521.5" cy="184.1" r=".95"/><circle cx="518.0" cy="180.0" r=".95"/><circle cx="521.4" cy="178.6" r=".95"/><circle cx="518.4" cy="178.7" r=".95"/><circle cx="521.6" cy="179.9" r=".95"/><circle cx="519.9" cy="181.7" r=".95"/><circle cx="518.4" cy="184.9" r=".95"/><circle cx="518.0" cy="185.2" r=".95"/><circle cx="514.7" cy="179.0" r=".95"/><circle cx="516.4" cy="175.1" r=".95"/><circle cx="516.3" cy="187.5" r=".95"/><circle cx="516.7" cy="182.2" r=".95"/><circle cx="518.4" cy="180.6" r=".95"/><circle cx="521.3" cy="186.5" r=".95"/><circle cx="521.7" cy="184.6" r=".95"/><circle cx="521.3" cy="176.2" r=".95"/><circle cx="518.1" cy="182.2" r=".95"/><circle cx="519.9" cy="182.4" r=".95"/><circle cx="520.1" cy="184.4" r=".95"/><circle cx="519.9" cy="183.6" r=".95"/><circle cx="521.6" cy="175.8" r=".95"/><circle cx="514.8" cy="174.7" r=".95"/><circle cx="514.8" cy="180.4" r=".95"/><circle cx="516.7" cy="183.6" r=".95"/><circle cx="521.8" cy="177.3" r=".95"/><circle cx="521.7" cy="179.2" r=".95"/><circle cx="520.1" cy="179.1" r=".95"/><circle cx="516.4" cy="183.3" r=".95"/><circle cx="520.0" cy="180.1" r=".95"/><circle cx="521.4" cy="182.3" r=".95"/><circle cx="520.1" cy="180.8" r=".95"/><circle cx="518.3" cy="179.1" r=".95"/><circle cx="519.7" cy="182.5" r=".95"/><circle cx="521.4" cy="181.6" r=".95"/><circle cx="518.3" cy="176.7" r=".95"/><circle cx="516.6" cy="180.4" r=".95"/><circle cx="518.1" cy="182.7" r=".95"/><circle cx="514.8" cy="183.7" r=".95"/><circle cx="518.2" cy="184.1" r=".95"/><circle cx="518.1" cy="188.8" r=".95"/><circle cx="519.8" cy="183.7" r=".95"/><circle cx="521.3" cy="185.5" r=".95"/><circle cx="518.3" cy="185.7" r=".95"/><circle cx="523.1" cy="144.9" r=".95"/><circle cx="522.8" cy="187.7" r=".95"/><circle cx="523.2" cy="149.1" r=".95"/><circle cx="522.7" cy="180.7" r=".95"/><circle cx="523.0" cy="184.4" r=".95"/><circle cx="523.2" cy="149.5" r=".95"/><circle cx="522.9" cy="178.8" r=".95"/><circle cx="522.8" cy="180.5" r=".95"/><circle cx="523.1" cy="147.3" r=".95"/><circle cx="523.0" cy="138.2" r=".95"/><circle cx="522.8" cy="185.1" r=".95"/><circle cx="522.8" cy="186.0" r=".95"/><circle cx="522.7" cy="178.8" r=".95"/><circle cx="523.0" cy="180.3" r=".95"/><circle cx="523.0" cy="183.3" r=".95"/><circle cx="522.9" cy="187.6" r=".95"/><circle cx="523.1" cy="159.5" r=".95"/><circle cx="522.9" cy="181.8" r=".95"/><circle cx="523.0" cy="139.0" r=".95"/><circle cx="523.0" cy="182.9" r=".95"/><circle cx="523.1" cy="152.1" r=".95"/><circle cx="523.2" cy="147.9" r=".95"/><circle cx="522.7" cy="183.2" r=".95"/><circle cx="522.9" cy="183.2" r=".95"/><circle cx="523.2" cy="140.2" r=".95"/><circle cx="523.0" cy="163.0" r=".95"/><circle cx="523.1" cy="147.0" r=".95"/><circle cx="523.0" cy="182.5" r=".95"/><circle cx="523.1" cy="155.8" r=".95"/><circle cx="523.1" cy="149.6" r=".95"/><circle cx="523.0" cy="180.4" r=".95"/><circle cx="523.1" cy="142.8" r=".95"/><circle cx="522.9" cy="188.8" r=".95"/><circle cx="523.3" cy="152.4" r=".95"/><circle cx="523.2" cy="165.2" r=".95"/><circle cx="523.1" cy="144.9" r=".95"/><circle cx="523.1" cy="155.5" r=".95"/><circle cx="523.0" cy="158.7" r=".95"/><circle cx="522.8" cy="179.8" r=".95"/><circle cx="522.8" cy="174.4" r=".95"/><circle cx="522.8" cy="182.1" r=".95"/><circle cx="522.8" cy="187.3" r=".95"/><circle cx="523.1" cy="148.2" r=".95"/><circle cx="522.8" cy="181.3" r=".95"/><circle cx="522.9" cy="182.8" r=".95"/><circle cx="522.9" cy="177.2" r=".95"/><circle cx="522.8" cy="177.2" r=".95"/><circle cx="522.8" cy="181.8" r=".95"/><circle cx="523.0" cy="162.8" r=".95"/><circle cx="523.3" cy="184.5" r=".95"/><circle cx="523.2" cy="188.0" r=".95"/><circle cx="523.3" cy="179.4" r=".95"/><circle cx="523.7" cy="174.7" r=".95"/><circle cx="523.1" cy="183.3" r=".95"/><circle cx="523.5" cy="173.5" r=".95"/><circle cx="523.3" cy="187.6" r=".95"/><circle cx="523.6" cy="177.6" r=".95"/><circle cx="523.7" cy="174.7" r=".95"/><circle cx="523.2" cy="185.1" r=".95"/><circle cx="523.7" cy="184.6" r=".95"/><circle cx="523.3" cy="185.9" r=".95"/><circle cx="523.1" cy="186.0" r=".95"/><circle cx="523.3" cy="185.8" r=".95"/><circle cx="523.7" cy="183.8" r=".95"/><circle cx="523.6" cy="180.7" r=".95"/><circle cx="523.0" cy="185.6" r=".95"/><circle cx="523.6" cy="188.9" r=".95"/><circle cx="523.0" cy="175.6" r=".95"/><circle cx="523.5" cy="185.8" r=".95"/><circle cx="523.3" cy="182.5" r=".95"/><circle cx="523.4" cy="179.1" r=".95"/><circle cx="523.5" cy="182.0" r=".95"/><circle cx="523.2" cy="177.8" r=".95"/><circle cx="523.3" cy="175.2" r=".95"/><circle cx="523.1" cy="184.1" r=".95"/><circle cx="523.5" cy="179.8" r=".95"/><circle cx="523.4" cy="187.7" r=".95"/><circle cx="523.4" cy="181.7" r=".95"/>
</g>
<g fill="#ff0000" stroke="#ff0000">
<circle cx="528.1" cy="141.4" r=".95"/><circle cx="528.0" cy="157.4" r=".95"/><circle cx="528.0" cy="146.3" r=".95"/><circle cx="529.4" cy="143.6" r=".95"/><circle cx="531.5" cy="156.1" r=".95"/><circle cx="527.8" cy="131.3" r=".95"/><circle cx="529.9" cy="153.6" r=".95"/><circle cx="527.6" cy="141.3" r=".95"/><circle cx="528.2" cy="154.9" r=".95"/><circle cx="526.4" cy="143.1" r=".95"/><circle cx="527.8" cy="132.6" r=".95"/><circle cx="529.8" cy="139.5" r=".95"/><circle cx="531.5" cy="147.1" r=".95"/><circle cx="527.7" cy="136.7" r=".95"/><circle cx="527.9" cy="136.2" r=".95"/><circle cx="529.8" cy="156.1" r=".95"/><circle cx="528.1" cy="152.6" r=".95"/><circle cx="524.3" cy="139.1" r=".95"/><circle cx="527.6" cy="131.7" r=".95"/><circle cx="527.9" cy="154.6" r=".95"/><circle cx="527.8" cy="155.7" r=".95"/><circle cx="527.8" cy="162.7" r=".95"/><circle cx="531.0" cy="124.5" r=".95"/><circle cx="528.1" cy="141.6" r=".95"/><circle cx="526.5" cy="138.4" r=".95"/><circle cx="526.1" cy="147.8" r=".95"/><circle cx="527.7" cy="149.7" r=".95"/><circle cx="524.6" cy="165.0" r=".95"/><circle cx="524.4" cy="151.8" r=".95"/><circle cx="527.5" cy="159.7" r=".95"/><circle cx="529.8" cy="125.3" r=".95"/><circle cx="526.2" cy="148.3" r=".95"/><circle cx="527.8" cy="156.8" r=".95"/><circle cx="528.1" cy="139.6" r=".95"/><circle cx="528.0" cy="152.6" r=".95"/><circle cx="527.7" cy="148.6" r=".95"/><circle cx="526.0" cy="159.3" r=".95"/><circle cx="527.8" cy="149.7" r=".95"/><circle cx="524.5" cy="138.9" r=".95"/><circle cx="524.9" cy="147.3" r=".95"/><circle cx="524.4" cy="161.0" r=".95"/><circle cx="529.5" cy="147.8" r=".95"/><circle cx="524.5" cy="160.0" r=".95"/><circle cx="531.2" cy="153.0" r=".95"/><circle cx="531.4" cy="157.2" r=".95"/><circle cx="529.9" cy="155.9" r=".95"/><circle cx="532.7" cy="142.1" r=".95"/><circle cx="539.5" cy="133.4" r=".95"/><circle cx="532.8" cy="139.0" r=".95"/><circle cx="532.6" cy="138.4" r=".95"/><circle cx="532.8" cy="143.9" r=".95"/><circle cx="532.7" cy="136.0" r=".95"/><circle cx="532.5" cy="145.7" r=".95"/><circle cx="532.6" cy="158.9" r=".95"/><circle cx="532.7" cy="135.9" r=".95"/><circle cx="532.8" cy="126.4" r=".95"/><circle cx="532.8" cy="125.3" r=".95"/><circle cx="537.4" cy="149.7" r=".95"/><circle cx="536.0" cy="135.7" r=".95"/><circle cx="541.0" cy="129.7" r=".95"/><circle cx="532.7" cy="137.6" r=".95"/><circle cx="532.7" cy="147.9" r=".95"/><circle cx="537.5" cy="145.7" r=".95"/><circle cx="537.7" cy="139.6" r=".95"/><circle cx="532.6" cy="147.7" r=".95"/><circle cx="537.4" cy="144.0" r=".95"/><circle cx="532.6" cy="144.8" r=".95"/><circle cx="532.6" cy="141.2" r=".95"/><circle cx="539.6" cy="140.0" r=".95"/><circle cx="532.5" cy="150.3" r=".95"/><circle cx="532.8" cy="147.8" r=".95"/><circle cx="539.3" cy="134.0" r=".95"/><circle cx="532.8" cy="131.1" r=".95"/><circle cx="532.9" cy="140.9" r=".95"/><circle cx="537.4" cy="150.1" r=".95"/><circle cx="539.5" cy="140.3" r=".95"/><circle cx="535.9" cy="137.0" r=".95"/><circle cx="532.6" cy="149.9" r=".95"/><circle cx="532.5" cy="156.3" r=".95"/><circle cx="532.4" cy="127.9" r=".95"/><circle cx="537.8" cy="146.3" r=".95"/><circle cx="541.0" cy="135.1" r=".95"/><circle cx="532.9" cy="132.8" r=".95"/><circle cx="532.7" cy="138.1" r=".95"/><circle cx="536.0" cy="147.5" r=".95"/><circle cx="532.5" cy="144.0" r=".95"/><circle cx="537.3" cy="148.2" r=".95"/><circle cx="539.2" cy="125.3" r=".95"/><circle cx="537.4" cy="141.0" r=".95"/><circle cx="532.7" cy="145.2" r=".95"/><circle cx="532.9" cy="140.6" r=".95"/><circle cx="532.5" cy="140.0" r=".95"/><circle cx="534.2" cy="129.1" r=".95"/><circle cx="537.4" cy="143.1" r=".95"/><circle cx="532.4" cy="152.0" r=".95"/><circle cx="532.5" cy="137.5" r=".95"/><circle cx="537.4" cy="123.7" r=".95"/><circle cx="532.7" cy="136.0" r=".95"/><circle cx="532.9" cy="131.9" r=".95"/><circle cx="532.4" cy="154.1" r=".95"/><circle cx="532.6" cy="137.8" r=".95"/><circle cx="536.1" cy="136.3" r=".95"/><circle cx="532.4" cy="142.5" r=".95"/><circle cx="532.5" cy="137.6" r=".95"/><circle cx="532.5" cy="135.9" r=".95"/><circle cx="532.8" cy="137.9" r=".95"/><circle cx="532.7" cy="156.3" r=".95"/><circle cx="532.5" cy="132.2" r=".95"/><circle cx="541.1" cy="132.2" r=".95"/><circle cx="532.9" cy="128.9" r=".95"/><circle cx="532.6" cy="139.9" r=".95"/><circle cx="532.6" cy="139.0" r=".95"/><circle cx="532.5" cy="147.0" r=".95"/><circle cx="537.9" cy="134.2" r=".95"/><circle cx="532.7" cy="145.6" r=".95"/><circle cx="537.4" cy="145.7" r=".95"/><circle cx="537.8" cy="144.1" r=".95"/><circle cx="532.5" cy="146.8" r=".95"/><circle cx="540.9" cy="148.8" r=".95"/><circle cx="532.9" cy="128.3" r=".95"/><circle cx="532.7" cy="134.3" r=".95"/><circle cx="532.8" cy="145.2" r=".95"/><circle cx="534.4" cy="140.2" r=".95"/><circle cx="539.3" cy="130.7" r=".95"/><circle cx="539.2" cy="127.4" r=".95"/><circle cx="534.4" cy="126.1" r=".95"/><circle cx="548.9" cy="128.2" r=".95"/><circle cx="542.4" cy="126.5" r=".95"/><circle cx="545.8" cy="137.9" r=".95"/><circle cx="547.3" cy="139.2" r=".95"/><circle cx="542.5" cy="135.5" r=".95"/><circle cx="550.5" cy="132.2" r=".95"/><circle cx="542.6" cy="140.9" r=".95"/><circle cx="542.2" cy="121.3" r=".95"/><circle cx="550.9" cy="145.6" r=".95"/><circle cx="549.2" cy="120.3" r=".95"/><circle cx="550.9" cy="123.5" r=".95"/><circle cx="542.2" cy="143.1" r=".95"/><circle cx="547.4" cy="131.3" r=".95"/><circle cx="542.6" cy="127.1" r=".95"/><circle cx="544.1" cy="127.9" r=".95"/><circle cx="542.6" cy="128.8" r=".95"/><circle cx="542.6" cy="151.1" r=".95"/><circle cx="542.5" cy="148.1" r=".95"/><circle cx="548.9" cy="140.5" r=".95"/><circle cx="542.3" cy="136.1" r=".95"/><circle cx="542.1" cy="155.2" r=".95"/><circle cx="542.4" cy="137.1" r=".95"/><circle cx="543.9" cy="136.9" r=".95"/><circle cx="547.4" cy="114.1" r=".95"/><circle cx="542.5" cy="141.7" r=".95"/><circle cx="545.8" cy="144.2" r=".95"/><circle cx="542.2" cy="128.1" r=".95"/><circle cx="542.3" cy="132.6" r=".95"/><circle cx="542.2" cy="132.1" r=".95"/><circle cx="547.1" cy="124.7" r=".95"/><circle cx="542.6" cy="134.4" r=".95"/><circle cx="542.2" cy="139.8" r=".95"/><circle cx="542.3" cy="152.0" r=".95"/><circle cx="545.4" cy="132.2" r=".95"/><circle cx="542.6" cy="137.0" r=".95"/><circle cx="547.3" cy="117.0" r=".95"/><circle cx="543.8" cy="140.3" r=".95"/><circle cx="542.6" cy="132.9" r=".95"/><circle cx="542.4" cy="129.5" r=".95"/><circle cx="542.5" cy="115.3" r=".95"/><circle cx="545.6" cy="119.7" r=".95"/><circle cx="543.8" cy="129.0" r=".95"/><circle cx="542.4" cy="130.0" r=".95"/><circle cx="550.6" cy="133.0" r=".95"/><circle cx="542.2" cy="141.8" r=".95"/><circle cx="549.2" cy="132.5" r=".95"/><circle cx="542.3" cy="122.5" r=".95"/><circle cx="542.2" cy="124.9" r=".95"/><circle cx="549.1" cy="130.7" r=".95"/><circle cx="542.5" cy="128.3" r=".95"/><circle cx="542.5" cy="138.0" r=".95"/><circle cx="542.2" cy="144.8" r=".95"/><circle cx="542.4" cy="140.2" r=".95"/><circle cx="549.1" cy="129.5" r=".95"/><circle cx="545.5" cy="131.8" r=".95"/><circle cx="547.4" cy="118.5" r=".95"/><circle cx="543.9" cy="118.7" r=".95"/><circle cx="542.7" cy="140.7" r=".95"/><circle cx="548.9" cy="136.4" r=".95"/><circle cx="547.3" cy="131.3" r=".95"/><circle cx="552.4" cy="128.6" r=".95"/><circle cx="552.3" cy="140.4" r=".95"/><circle cx="552.1" cy="112.8" r=".95"/><circle cx="557.2" cy="139.7" r=".95"/><circle cx="552.2" cy="134.6" r=".95"/><circle cx="552.0" cy="116.9" r=".95"/><circle cx="553.9" cy="138.7" r=".95"/><circle cx="556.9" cy="126.7" r=".95"/><circle cx="552.3" cy="131.6" r=".95"/><circle cx="552.4" cy="138.8" r=".95"/><circle cx="552.2" cy="121.8" r=".95"/><circle cx="560.6" cy="113.2" r=".95"/><circle cx="551.8" cy="130.3" r=".95"/><circle cx="552.4" cy="120.2" r=".95"/><circle cx="560.7" cy="112.7" r=".95"/><circle cx="555.5" cy="133.5" r=".95"/><circle cx="552.4" cy="135.2" r=".95"/><circle cx="551.8" cy="133.1" r=".95"/><circle cx="551.9" cy="123.2" r=".95"/><circle cx="555.2" cy="127.4" r=".95"/><circle cx="556.7" cy="136.3" r=".95"/><circle cx="552.1" cy="148.2" r=".95"/><circle cx="552.1" cy="132.4" r=".95"/><circle cx="551.8" cy="127.4" r=".95"/><circle cx="552.0" cy="127.5" r=".95"/><circle cx="552.0" cy="125.2" r=".95"/><circle cx="554.0" cy="129.2" r=".95"/><circle cx="552.2" cy="119.9" r=".95"/><circle cx="556.8" cy="121.1" r=".95"/><circle cx="551.9" cy="138.1" r=".95"/><circle cx="556.8" cy="117.9" r=".95"/><circle cx="552.0" cy="131.3" r=".95"/><circle cx="555.2" cy="136.3" r=".95"/><circle cx="552.3" cy="119.5" r=".95"/><circle cx="558.9" cy="119.9" r=".95"/><circle cx="556.9" cy="137.2" r=".95"/><circle cx="552.0" cy="129.6" r=".95"/><circle cx="551.9" cy="133.3" r=".95"/><circle cx="552.3" cy="140.7" r=".95"/><circle cx="552.1" cy="139.0" r=".95"/><circle cx="552.2" cy="127.7" r=".95"/><circle cx="551.9" cy="129.0" r=".95"/><circle cx="555.5" cy="124.1" r=".95"/><circle cx="552.2" cy="132.7" r=".95"/><circle cx="555.5" cy="131.8" r=".95"/><circle cx="554.0" cy="129.8" r=".95"/><circle cx="555.2" cy="121.4" r=".95"/><circle cx="557.2" cy="130.5" r=".95"/><circle cx="568.6" cy="96.2" r=".95"/><circle cx="566.4" cy="86.2" r=".95"/><circle cx="562.0" cy="120.2" r=".95"/><circle cx="561.7" cy="122.4" r=".95"/><circle cx="562.0" cy="117.0" r=".95"/><circle cx="561.6" cy="125.8" r=".95"/><circle cx="566.6" cy="88.6" r=".95"/><circle cx="566.6" cy="101.2" r=".95"/><circle cx="561.7" cy="118.5" r=".95"/><circle cx="562.1" cy="135.1" r=".95"/><circle cx="561.9" cy="130.4" r=".95"/><circle cx="561.7" cy="119.2" r=".95"/><circle cx="561.9" cy="115.1" r=".95"/><circle cx="561.6" cy="133.8" r=".95"/><circle cx="561.7" cy="110.5" r=".95"/><circle cx="566.7" cy="92.3" r=".95"/><circle cx="566.7" cy="82.5" r=".95"/><circle cx="561.8" cy="114.5" r=".95"/><circle cx="561.6" cy="109.8" r=".95"/><circle cx="566.7" cy="97.7" r=".95"/><circle cx="563.2" cy="124.6" r=".95"/><circle cx="561.6" cy="128.5" r=".95"/><circle cx="561.9" cy="130.8" r=".95"/><circle cx="561.8" cy="130.1" r=".95"/><circle cx="571.7" cy="82.7" r=".95"/><circle cx="571.7" cy="94.8" r=".95"/><circle cx="571.3" cy="91.4" r=".95"/><circle cx="571.8" cy="68.0" r=".95"/><circle cx="576.5" cy="75.2" r=".95"/><circle cx="576.8" cy="87.3" r=".95"/><circle cx="571.4" cy="88.1" r=".95"/><circle cx="575.1" cy="86.3" r=".95"/><circle cx="571.4" cy="85.0" r=".95"/><circle cx="579.6" cy="83.6" r=".95"/><circle cx="571.7" cy="98.3" r=".95"/><circle cx="573.1" cy="74.5" r=".95"/><circle cx="576.1" cy="91.8" r=".95"/><circle cx="576.5" cy="82.3" r=".95"/><circle cx="576.7" cy="86.2" r=".95"/><circle cx="575.0" cy="95.4" r=".95"/><circle cx="571.3" cy="96.9" r=".95"/><circle cx="574.8" cy="101.4" r=".95"/><circle cx="571.8" cy="92.6" r=".95"/><circle cx="589.8" cy="96.4" r=".95"/><circle cx="586.3" cy="93.3" r=".95"/><circle cx="581.3" cy="78.2" r=".95"/><circle cx="583.0" cy="91.0" r=".95"/><circle cx="581.0" cy="71.7" r=".95"/><circle cx="586.4" cy="78.9" r=".95"/><circle cx="584.4" cy="86.6" r=".95"/><circle cx="581.5" cy="103.6" r=".95"/><circle cx="583.2" cy="79.6" r=".95"/><circle cx="582.9" cy="87.6" r=".95"/><circle cx="581.2" cy="86.3" r=".95"/><circle cx="581.0" cy="75.0" r=".95"/><circle cx="581.1" cy="68.9" r=".95"/><circle cx="586.2" cy="105.0" r=".95"/><circle cx="581.2" cy="83.3" r=".95"/><circle cx="582.9" cy="84.1" r=".95"/><circle cx="599.2" cy="77.6" r=".95"/><circle cx="590.8" cy="78.5" r=".95"/><circle cx="590.8" cy="82.5" r=".95"/><circle cx="592.5" cy="99.1" r=".95"/><circle cx="590.8" cy="77.1" r=".95"/><circle cx="591.1" cy="85.0" r=".95"/><circle cx="596.0" cy="68.2" r=".95"/><circle cx="596.0" cy="91.5" r=".95"/><circle cx="591.2" cy="92.9" r=".95"/><circle cx="590.7" cy="85.4" r=".95"/><circle cx="591.2" cy="84.2" r=".95"/><circle cx="599.2" cy="79.1" r=".95"/><circle cx="591.0" cy="80.0" r=".95"/><circle cx="595.7" cy="87.0" r=".95"/><circle cx="602.4" cy="65.9" r=".95"/><circle cx="602.4" cy="80.7" r=".95"/><circle cx="605.7" cy="84.9" r=".95"/><circle cx="600.9" cy="75.1" r=".95"/><circle cx="600.7" cy="83.0" r=".95"/><circle cx="600.6" cy="89.7" r=".95"/><circle cx="600.6" cy="66.1" r=".95"/><circle cx="604.0" cy="66.9" r=".95"/><circle cx="600.9" cy="92.0" r=".95"/><circle cx="600.5" cy="91.0" r=".95"/><circle cx="600.7" cy="81.0" r=".95"/><circle cx="605.5" cy="89.2" r=".95"/><circle cx="610.5" cy="88.7" r=".95"/><circle cx="610.4" cy="75.2" r=".95"/><circle cx="610.6" cy="71.9" r=".95"/><circle cx="610.7" cy="85.7" r=".95"/><circle cx="610.7" cy="81.1" r=".95"/><circle cx="610.6" cy="62.6" r=".95"/><circle cx="610.6" cy="79.3" r=".95"/><circle cx="610.3" cy="86.1" r=".95"/><circle cx="610.3" cy="81.1" r=".95"/><circle cx="611.0" cy="61.0" r=".95"/><circle cx="610.0" cy="72.0" r=".95"/><circle cx="610.0" cy="87.0" r=".95"/><circle cx="609.0" cy="101.0" r=".95"/><circle cx="566.0" cy="101.0" r=".95"/><circle cx="552.0" cy="110.0" r=".95"/><circle cx="535.0" cy="118.0" r=".95"/><circle cx="537.0" cy="122.0" r=".95"/><circle cx="523.8" cy="187.0" r=".95"/>
</g>
</g>
<g fill="#5a5a5a" stroke="#3a3a3a" stroke-width="0.6">
<rect x="80.00" y="48.30" width="9.84" height="1.30"/>
<rect x="89.84" y="45.20" width="9.84" height="4.40"/>
<rect x="99.68" y="37.60" width="9.84" height="12.00"/>
<rect x="109.52" y="29.00" width="9.84" height="20.60"/>
<rect x="119.36" y="21.90" width="9.84" height="27.70"/>
<rect x="129.20" y="21.30" width="9.84" height="28.30"/>
<rect x="139.04" y="27.00" width="9.84" height="22.60"/>
<rect x="148.88" y="32.50" width="9.84" height="17.10"/>
<rect x="158.72" y="37.20" width="9.84" height="12.40"/>
<rect x="168.56" y="40.70" width="9.84" height="8.90"/>
<rect x="178.40" y="43.10" width="9.84" height="6.50"/>
<rect x="188.24" y="45.80" width="9.84" height="3.80"/>
<rect x="198.08" y="46.50" width="9.84" height="3.10"/>
<rect x="207.92" y="47.30" width="9.84" height="2.30"/>
<rect x="217.76" y="48.20" width="9.84" height="1.40"/>
<rect x="227.60" y="48.40" width="9.84" height="1.20"/>
<rect x="237.44" y="48.40" width="9.84" height="1.20"/>
<rect x="247.28" y="48.60" width="9.84" height="1.00"/>
<rect x="257.12" y="48.60" width="9.84" height="1.00"/>
<rect x="426.30" y="52.10" width="9.68" height="0.90"/>
<rect x="435.98" y="48.40" width="9.68" height="4.60"/>
<rect x="445.66" y="38.20" width="9.68" height="14.80"/>
<rect x="455.34" y="29.00" width="9.68" height="24.00"/>
<rect x="465.02" y="26.20" width="9.68" height="26.80"/>
<rect x="474.70" y="31.20" width="9.68" height="21.80"/>
<rect x="484.38" y="38.00" width="9.68" height="15.00"/>
<rect x="494.06" y="43.00" width="9.68" height="10.00"/>
<rect x="503.74" y="47.00" width="9.68" height="6.00"/>
<rect x="513.42" y="49.30" width="9.68" height="3.70"/>
<rect x="523.10" y="50.00" width="9.68" height="3.00"/>
<rect x="532.78" y="51.30" width="9.68" height="1.70"/>
<rect x="542.46" y="52.00" width="9.68" height="1.00"/>
<rect x="552.14" y="52.20" width="9.68" height="0.80"/>
<rect x="561.82" y="52.30" width="9.68" height="0.70" fill="#8a8a8a" stroke="#9a9a9a"/>
<rect x="571.50" y="52.30" width="9.68" height="0.70" fill="#8a8a8a" stroke="#9a9a9a"/>
<rect x="581.18" y="52.30" width="9.68" height="0.70" fill="#8a8a8a" stroke="#9a9a9a"/>
<rect x="590.86" y="52.40" width="9.68" height="0.60" fill="#8a8a8a" stroke="#9a9a9a"/>
<rect x="600.54" y="52.40" width="9.68" height="0.60" fill="#8a8a8a" stroke="#9a9a9a"/>
</g>
<g stroke="#444444" stroke-width="1">
<line x1="119.50" y1="201.70" x2="119.50" y2="204.40"/>
<line x1="168.30" y1="201.70" x2="168.30" y2="204.40"/>
<line x1="217.40" y1="201.70" x2="217.40" y2="204.40"/>
<line x1="266.50" y1="201.70" x2="266.50" y2="204.40"/>
<line x1="68.10" y1="71.20" x2="70.90" y2="71.20"/>
<line x1="68.10" y1="104.30" x2="70.90" y2="104.30"/>
<line x1="68.10" y1="137.40" x2="70.90" y2="137.40"/>
<line x1="68.10" y1="170.50" x2="70.90" y2="170.50"/>
<line x1="464.70" y1="201.70" x2="464.70" y2="204.40"/>
<line x1="513.30" y1="201.70" x2="513.30" y2="204.40"/>
<line x1="561.90" y1="201.70" x2="561.90" y2="204.40"/>
<line x1="610.40" y1="201.70" x2="610.40" y2="204.40"/>
<line x1="414.50" y1="88.40" x2="417.30" y2="88.40"/>
<line x1="414.50" y1="128.40" x2="417.30" y2="128.40"/>
<line x1="414.50" y1="168.40" x2="417.30" y2="168.40"/>
</g>
<rect x="290.8" y="26.2" width="8.5" height="202.9" fill="url(#cb)"/>
<rect x="633.7" y="30.9" width="8.2" height="197.6" fill="url(#cb)"/>
<g stroke="#ffffff" stroke-opacity="0.35" stroke-width="0.8"><line x1="290.8" y1="41.8" x2="299.3" y2="41.8"/><line x1="290.8" y1="133" x2="299.3" y2="133"/><line x1="633.7" y1="46.3" x2="641.9" y2="46.3"/><line x1="633.7" y1="135.5" x2="641.9" y2="135.5"/></g>
<g stroke="#1a1a1a" stroke-width="0.32"><text x="1.00" y="20.00" font-size="15.60" text-anchor="start" textLength="19.50" lengthAdjust="spacingAndGlyphs">(C)</text>
<text x="151.80" y="13.90" font-size="14.00" text-anchor="start" textLength="66.40" lengthAdjust="spacingAndGlyphs">Death (M)</text>
<text x="484.70" y="16.10" font-size="14.00" text-anchor="start" textLength="60.60" lengthAdjust="spacingAndGlyphs">Death (F)</text>
<text x="37.40" y="77.90" font-size="11.00" text-anchor="start" textLength="21.50" lengthAdjust="spacingAndGlyphs">0.40</text>
<text x="38.70" y="110.30" font-size="11.00" text-anchor="start" textLength="21.50" lengthAdjust="spacingAndGlyphs">0.20</text>
<text x="37.40" y="142.00" font-size="11.00" text-anchor="start" textLength="21.50" lengthAdjust="spacingAndGlyphs">0.00</text>
<text x="34.60" y="175.80" font-size="11.00" text-anchor="start" textLength="25.20" lengthAdjust="spacingAndGlyphs">-0.20</text>
<text x="385.80" y="94.90" font-size="11.00" text-anchor="start" textLength="21.30" lengthAdjust="spacingAndGlyphs">0.60</text>
<text x="385.20" y="134.40" font-size="11.00" text-anchor="start" textLength="21.30" lengthAdjust="spacingAndGlyphs">0.30</text>
<text x="383.60" y="173.60" font-size="11.00" text-anchor="start" textLength="21.30" lengthAdjust="spacingAndGlyphs">0.00</text>
<text x="107.70" y="220.70" font-size="11.00" text-anchor="start" textLength="21.30" lengthAdjust="spacingAndGlyphs">0.50</text>
<text x="155.20" y="220.70" font-size="11.00" text-anchor="start" textLength="21.30" lengthAdjust="spacingAndGlyphs">1.00</text>
<text x="204.20" y="220.70" font-size="11.00" text-anchor="start" textLength="21.30" lengthAdjust="spacingAndGlyphs">1.50</text>
<text x="252.60" y="220.70" font-size="11.00" text-anchor="start" textLength="21.30" lengthAdjust="spacingAndGlyphs">2.00</text>
<text x="454.30" y="220.60" font-size="11.00" text-anchor="start" textLength="21.30" lengthAdjust="spacingAndGlyphs">0.50</text>
<text x="501.50" y="220.60" font-size="11.00" text-anchor="start" textLength="21.30" lengthAdjust="spacingAndGlyphs">1.00</text>
<text x="549.90" y="220.60" font-size="11.00" text-anchor="start" textLength="21.30" lengthAdjust="spacingAndGlyphs">1.50</text>
<text x="598.30" y="220.60" font-size="11.00" text-anchor="start" textLength="21.30" lengthAdjust="spacingAndGlyphs">2.00</text>
<text x="139.90" y="236.20" font-size="12.40" text-anchor="start" textLength="97.80" lengthAdjust="spacingAndGlyphs">Bilirubin (mg/dL)</text>
<text x="486.20" y="236.80" font-size="12.40" text-anchor="start" textLength="97.80" lengthAdjust="spacingAndGlyphs">Bilirubin (mg/dL)</text>
<text transform="translate(26.7,176) rotate(-90)" font-size="12.6" textLength="97.4" lengthAdjust="spacingAndGlyphs">SHAP of bilirubin</text>
<text transform="translate(379.2,174.8) rotate(-90)" font-size="12.6" textLength="97.3" lengthAdjust="spacingAndGlyphs">SHAP of bilirubin</text>
<text x="309.10" y="46.80" font-size="11.20" text-anchor="start" textLength="21.30" lengthAdjust="spacingAndGlyphs">Max</text>
<text x="310.30" y="140.50" font-size="11.20" text-anchor="start" textLength="22.40" lengthAdjust="spacingAndGlyphs">Med</text>
<text x="309.70" y="219.60" font-size="11.20" text-anchor="start" textLength="18.60" lengthAdjust="spacingAndGlyphs">Min</text>
<text x="652.20" y="59.50" font-size="11.20" text-anchor="start" textLength="21.40" lengthAdjust="spacingAndGlyphs">Max</text>
<text x="653.60" y="148.30" font-size="11.20" text-anchor="start" textLength="22.10" lengthAdjust="spacingAndGlyphs">Med</text>
<text x="651.90" y="221.30" font-size="11.20" text-anchor="start" textLength="18.80" lengthAdjust="spacingAndGlyphs">Min</text></g>
</svg>
</body></html>
